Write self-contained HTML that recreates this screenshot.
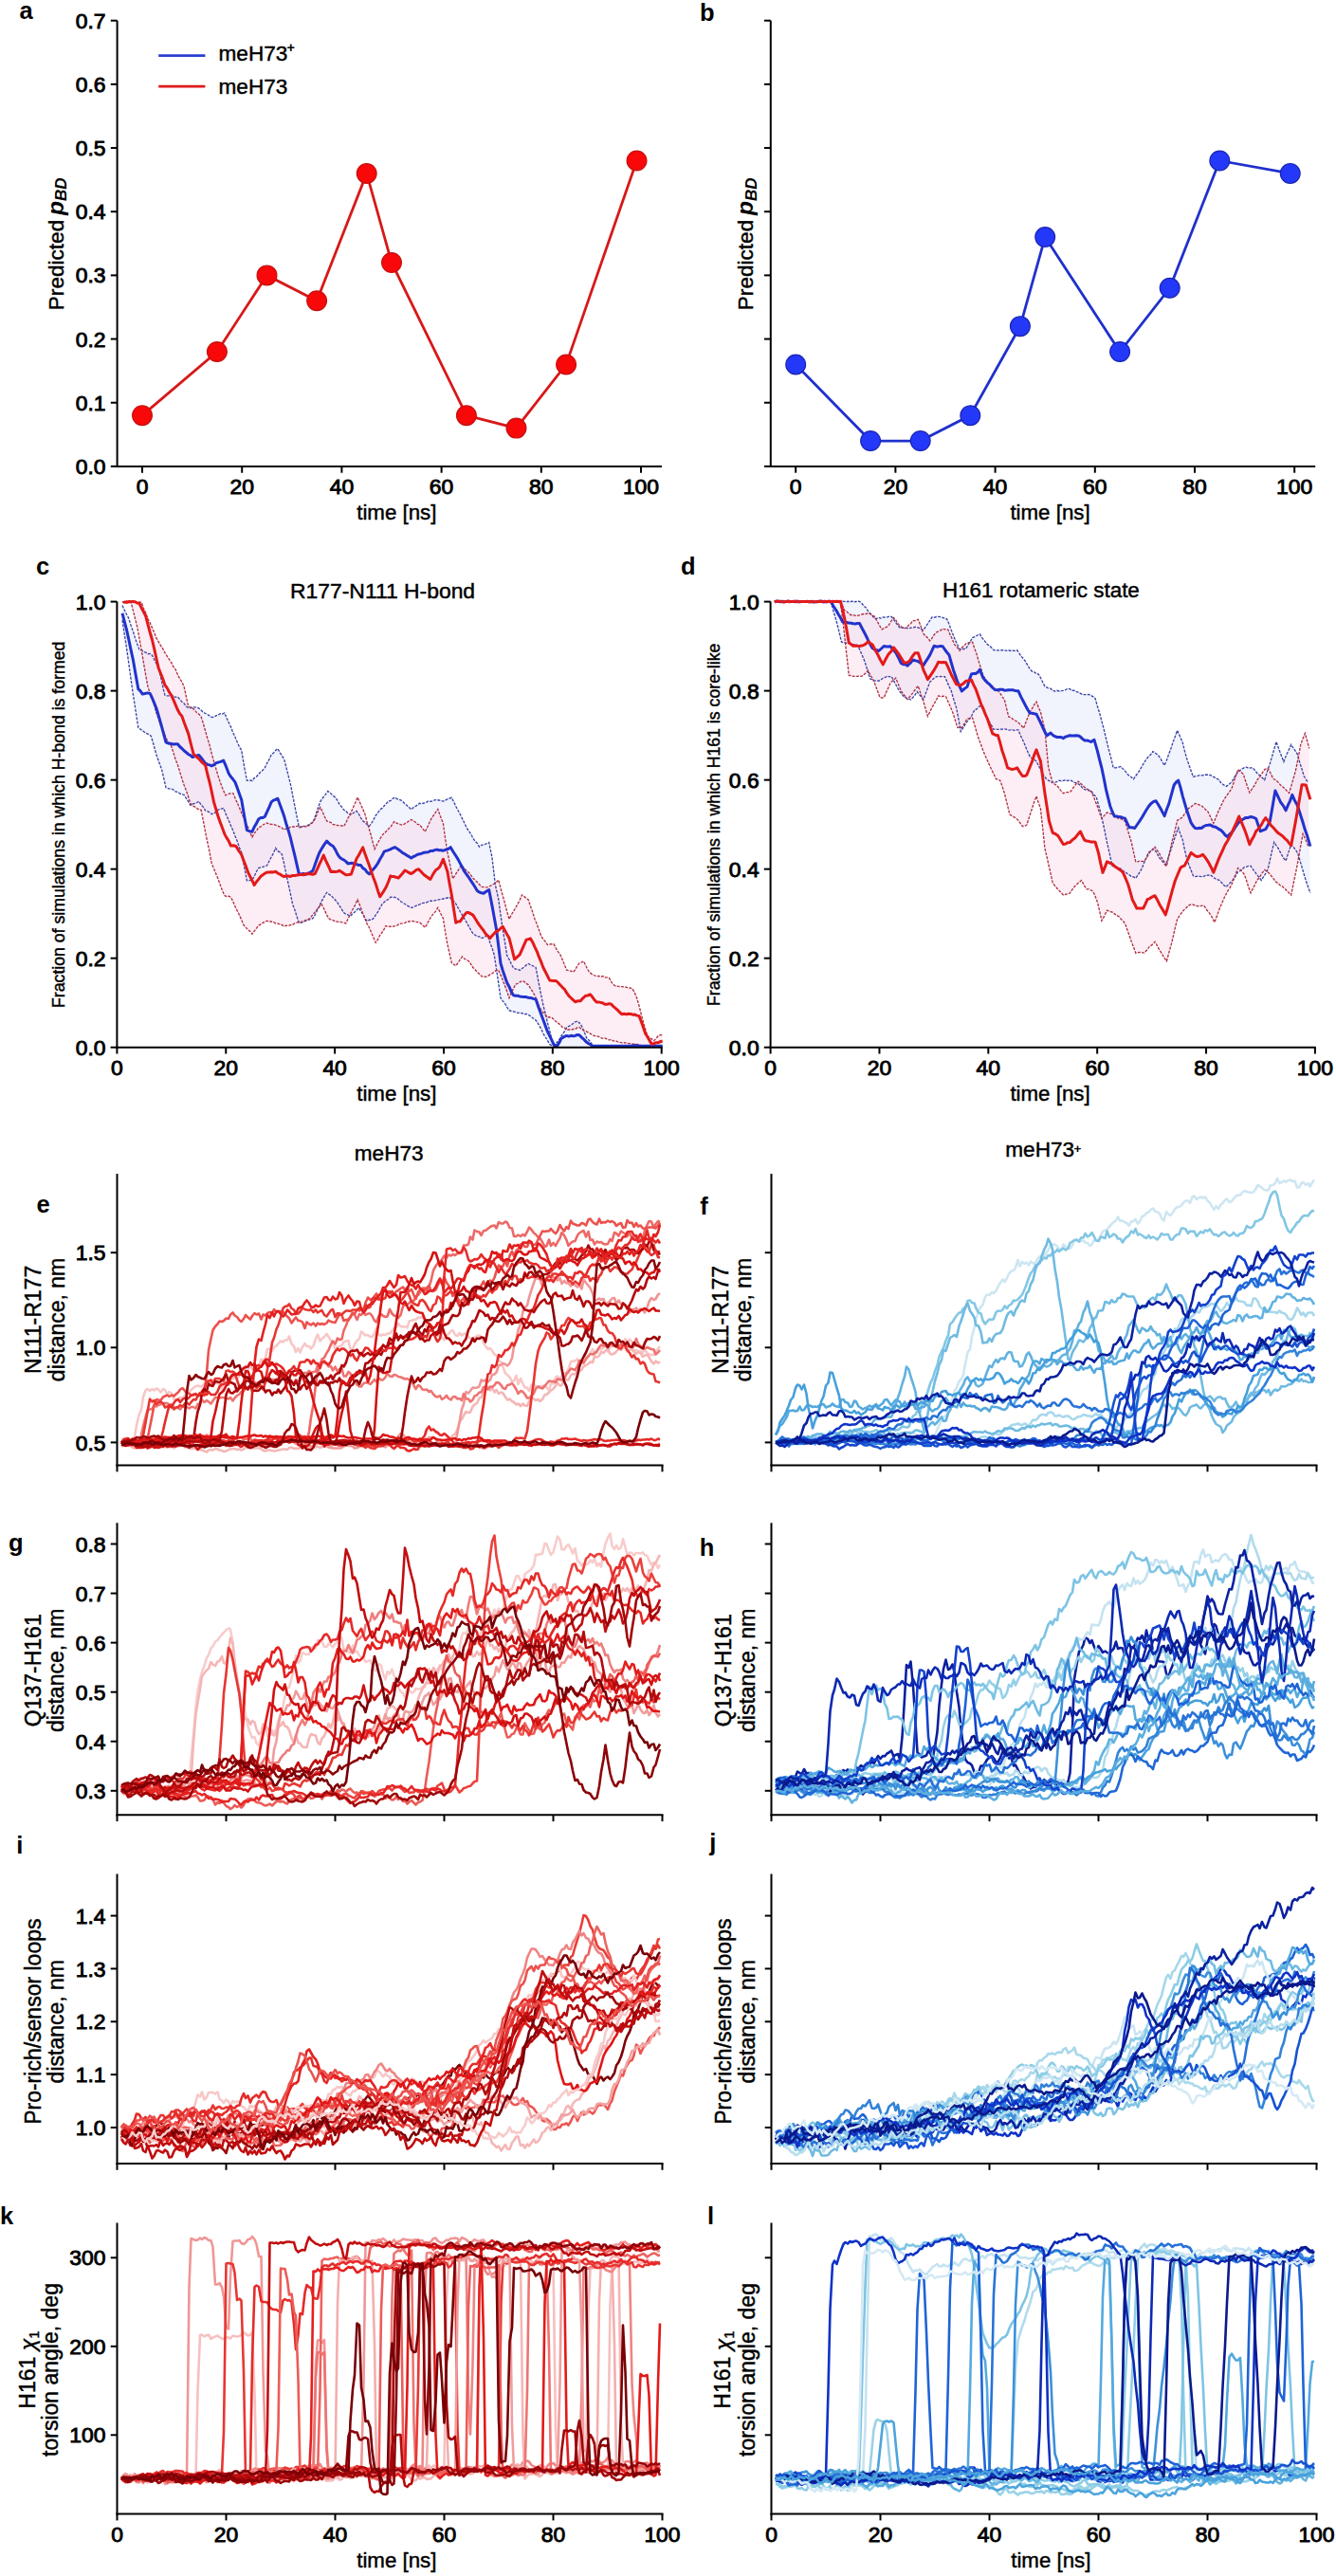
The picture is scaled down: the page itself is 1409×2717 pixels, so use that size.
<!DOCTYPE html>
<html><head><meta charset="utf-8"><style>
html,body{margin:0;padding:0;background:#fff;}
body{width:1409px;height:2717px;overflow:hidden;font-family:"Liberation Sans", sans-serif;}
svg{display:block;}
</style></head><body>
<svg width="1409" height="2717" viewBox="0 0 1409 2717" font-family='"Liberation Sans", sans-serif'>
<path d="M129.0,638.5 L131.2,643.4 L133.5,648.0 L135.7,651.9 L138.0,659.4 L140.2,665.4 L142.5,672.9 L144.7,679.2 L146.9,685.0 L149.2,685.6 L151.4,687.3 L153.7,688.2 L155.9,689.7 L158.2,689.4 L160.4,691.1 L162.7,695.7 L164.9,699.9 L167.2,704.5 L169.4,713.5 L171.7,724.1 L173.9,733.3 L176.1,733.8 L178.4,733.8 L180.6,732.9 L182.9,734.4 L185.1,735.3 L187.4,735.0 L189.6,737.6 L191.9,740.3 L194.1,741.9 L196.4,745.0 L198.6,746.5 L200.8,746.9 L203.1,745.8 L205.3,745.9 L207.6,746.2 L209.8,747.2 L212.1,749.1 L214.3,751.3 L216.6,752.5 L218.8,753.5 L221.1,755.1 L223.3,756.5 L225.5,756.3 L227.8,754.9 L230.0,754.0 L232.3,752.7 L234.5,753.1 L236.8,751.9 L239.0,757.3 L241.3,762.3 L243.5,766.8 L245.8,772.7 L248.0,777.5 L250.2,782.8 L252.5,787.7 L254.7,791.2 L257.5,808.0 L260.4,823.3 L263.2,823.0 L266.0,823.5 L268.2,820.6 L270.5,819.2 L272.7,816.5 L275.0,814.0 L277.2,812.2 L279.4,809.6 L281.7,804.8 L283.9,801.0 L286.2,795.6 L288.4,794.3 L290.7,791.4 L292.9,789.6 L295.2,793.8 L297.4,797.0 L299.7,800.9 L301.9,809.4 L304.1,818.0 L306.4,827.1 L308.6,838.4 L310.9,850.2 L313.1,861.2 L315.4,872.5 L317.6,872.6 L319.9,871.3 L322.1,871.1 L324.7,870.5 L327.4,868.6 L330.0,867.4 L332.6,860.4 L335.2,852.6 L337.8,845.4 L340.5,841.5 L343.1,838.2 L345.7,834.5 L348.3,836.2 L350.9,839.0 L353.6,841.1 L355.8,844.0 L358.0,848.4 L360.3,850.9 L362.5,854.1 L364.8,855.6 L367.0,857.7 L369.3,859.5 L371.5,858.3 L373.8,856.7 L376.0,855.4 L378.3,858.5 L380.5,862.6 L382.7,865.9 L385.0,867.5 L387.2,869.7 L389.5,871.3 L391.7,868.3 L394.0,864.4 L396.2,860.2 L398.5,857.3 L400.7,854.0 L403.0,852.4 L405.2,850.0 L407.4,847.5 L409.7,845.1 L412.1,844.4 L414.5,842.0 L416.8,841.2 L419.5,843.1 L422.1,843.7 L424.7,845.2 L426.9,847.7 L429.2,849.5 L431.4,851.6 L433.7,853.8 L435.9,851.7 L438.2,850.4 L440.4,849.0 L442.7,847.3 L444.9,847.7 L447.2,847.0 L449.4,846.4 L451.7,845.0 L453.9,845.4 L456.1,844.8 L458.4,843.9 L460.6,843.6 L462.9,844.0 L465.1,844.5 L467.4,845.1 L469.6,844.1 L471.9,842.8 L474.1,842.0 L476.4,841.4 L478.6,845.8 L480.8,850.5 L483.1,854.8 L485.3,858.8 L487.6,863.6 L489.8,868.0 L492.1,872.9 L494.3,876.3 L496.6,879.7 L498.8,883.9 L501.1,887.3 L503.3,889.4 L505.5,893.2 L507.8,891.4 L510.0,891.0 L512.3,890.2 L515.7,888.5 L519.0,904.5 L522.4,933.5 L525.8,948.7 L528.0,965.1 L530.2,980.1 L532.5,993.5 L534.7,1007.8 L537.0,1011.9 L539.2,1016.5 L541.5,1020.9 L543.7,1022.1 L546.0,1022.2 L548.2,1023.4 L550.5,1021.5 L552.7,1020.1 L555.0,1017.9 L557.2,1016.5 L559.8,1017.8 L562.4,1019.0 L565.1,1020.4 L567.9,1035.5 L570.7,1049.4 L572.9,1060.2 L575.2,1069.0 L577.4,1078.6 L579.7,1086.9 L581.9,1096.1 L584.1,1103.7 L587.0,1100.0 L589.8,1096.5 L592.4,1092.1 L595.0,1088.3 L597.6,1083.8 L600.4,1082.2 L603.2,1080.5 L606.0,1078.1 L608.8,1077.0 L611.1,1079.0 L613.3,1081.8 L616.1,1088.5 L619.0,1095.3 L621.8,1097.7 L624.6,1102.0 L626.8,1102.8 L629.1,1103.6 L631.3,1103.8 L584.1,1103.8 L581.9,1102.6 L579.7,1101.5 L577.4,1097.3 L575.2,1094.0 L572.9,1090.1 L570.7,1085.3 L568.4,1081.2 L566.2,1077.5 L563.9,1074.8 L561.7,1073.8 L559.4,1071.7 L557.2,1070.4 L555.0,1069.4 L552.7,1069.8 L550.5,1068.7 L548.2,1068.4 L546.0,1068.3 L543.7,1067.5 L541.5,1066.8 L539.2,1066.5 L537.0,1065.7 L534.7,1062.4 L532.5,1058.4 L530.2,1055.6 L528.0,1052.7 L525.8,1037.6 L523.5,1021.8 L521.3,1007.3 L519.0,1000.0 L516.8,994.4 L514.5,987.1 L512.3,987.7 L510.0,988.9 L507.8,989.5 L505.5,987.8 L503.3,987.6 L501.1,986.2 L498.8,984.7 L496.6,981.0 L494.3,976.9 L492.1,972.9 L489.8,968.8 L487.6,965.3 L485.3,961.5 L483.1,957.6 L480.8,953.3 L478.6,950.6 L476.4,949.0 L474.1,946.4 L471.9,947.0 L469.6,947.6 L467.4,948.0 L465.1,948.6 L462.9,948.8 L460.6,949.2 L458.4,949.9 L456.1,950.3 L453.9,950.2 L451.7,951.0 L449.4,952.0 L447.2,952.3 L444.9,952.7 L442.7,953.9 L440.4,954.8 L438.2,955.5 L435.9,956.9 L433.7,957.4 L431.6,956.4 L429.5,955.2 L427.4,953.7 L425.3,952.5 L423.2,951.2 L421.1,949.3 L418.9,947.5 L416.8,946.5 L414.4,946.3 L411.9,946.2 L409.7,948.5 L407.4,949.6 L405.2,951.6 L403.0,953.7 L400.7,957.7 L398.5,961.8 L396.2,965.0 L394.0,968.6 L391.7,970.4 L389.5,970.1 L387.2,971.6 L385.0,968.5 L382.7,964.2 L380.5,961.0 L378.3,957.5 L376.0,960.1 L373.8,962.2 L371.5,964.3 L369.3,966.4 L367.0,964.9 L364.8,964.3 L362.5,962.6 L360.3,958.8 L358.0,955.3 L355.8,951.9 L353.6,949.3 L351.3,946.9 L349.1,944.5 L346.8,943.1 L344.6,941.4 L341.9,945.8 L339.3,950.4 L336.7,955.9 L334.5,960.3 L332.2,965.0 L330.0,968.7 L327.4,969.6 L324.7,970.4 L322.1,971.5 L319.9,972.4 L317.6,973.1 L315.4,973.6 L313.1,966.8 L310.9,959.8 L308.6,953.8 L306.4,942.8 L304.1,932.4 L301.9,922.4 L299.7,911.5 L297.4,901.4 L295.2,898.9 L292.9,897.7 L290.7,894.5 L288.4,899.9 L286.2,903.8 L283.9,908.3 L281.7,912.8 L279.4,913.7 L277.2,914.4 L275.0,914.9 L272.7,915.5 L270.5,919.2 L268.2,924.3 L266.0,928.2 L263.2,928.7 L260.4,928.9 L257.5,913.7 L254.7,899.2 L252.5,894.0 L250.2,887.2 L248.0,881.9 L245.8,876.1 L243.5,871.0 L241.3,865.4 L238.5,859.4 L235.7,852.3 L232.8,853.4 L230.0,854.0 L227.8,856.6 L225.5,857.9 L223.3,858.7 L221.1,857.0 L218.8,855.7 L216.6,855.0 L214.3,851.1 L212.1,849.0 L209.8,845.2 L207.6,846.5 L205.3,847.5 L203.1,847.9 L200.8,849.3 L198.6,845.5 L196.4,842.1 L194.1,838.3 L191.9,837.9 L189.6,837.0 L187.4,835.5 L185.1,834.9 L182.9,833.0 L180.6,832.0 L177.8,831.8 L175.0,830.7 L172.8,821.2 L170.5,811.3 L167.7,803.9 L164.9,796.0 L162.1,785.7 L159.3,776.3 L156.5,774.4 L153.7,773.2 L151.1,771.2 L148.4,769.4 L145.8,767.4 L143.0,749.2 L140.2,731.4 L138.0,715.8 L135.7,699.1 L133.5,683.4 L131.2,668.9 L129.0,654.2 Z" fill="#dfe4fb" fill-opacity="0.45" stroke="none"/>
<path d="M129.0,635.1 L131.0,634.6 L133.0,634.6 L135.0,634.8 L137.1,635.2 L139.1,635.4 L141.1,635.3 L143.1,635.4 L145.2,634.9 L147.2,635.1 L149.2,635.3 L151.4,641.5 L153.7,646.6 L155.9,652.5 L158.2,656.9 L160.4,662.0 L162.7,667.3 L164.9,672.9 L167.2,676.8 L169.4,680.7 L171.7,684.2 L173.9,688.4 L176.1,691.9 L178.4,695.5 L180.6,698.7 L182.9,703.2 L185.1,706.0 L187.4,711.4 L189.6,715.9 L191.9,719.2 L194.1,724.3 L196.4,734.8 L198.6,745.1 L200.8,746.0 L203.1,747.2 L205.3,748.7 L207.6,751.8 L209.8,753.2 L212.1,755.9 L214.3,762.8 L216.6,770.8 L218.8,778.8 L221.1,786.0 L223.3,795.1 L225.5,802.9 L227.8,810.9 L230.0,818.1 L232.3,825.1 L235.1,832.6 L237.9,838.8 L240.5,837.5 L243.1,836.8 L245.8,836.6 L248.0,841.8 L250.2,846.8 L252.5,851.9 L254.7,857.4 L257.0,862.6 L259.2,868.5 L261.5,872.3 L263.7,878.1 L266.0,883.0 L268.2,878.8 L270.5,876.4 L272.7,872.8 L275.0,871.9 L277.2,870.0 L279.4,869.0 L281.7,867.9 L283.9,869.2 L286.2,869.3 L288.4,869.6 L290.7,870.2 L292.9,871.1 L295.2,872.0 L297.4,873.2 L299.7,875.2 L301.9,873.8 L304.1,873.8 L306.4,872.2 L308.6,872.0 L310.9,872.0 L313.1,871.3 L315.4,871.3 L317.6,872.0 L319.9,871.9 L322.1,871.8 L324.4,871.6 L326.6,870.0 L328.8,868.2 L331.1,865.9 L333.3,861.2 L335.6,855.5 L337.8,851.5 L340.1,856.0 L342.3,861.2 L344.6,866.0 L346.8,866.7 L349.1,867.5 L351.3,869.7 L353.6,869.8 L355.8,870.5 L358.0,870.7 L360.3,870.9 L362.5,871.7 L364.8,867.9 L367.0,862.9 L369.3,859.2 L371.9,852.8 L374.5,847.2 L377.1,841.0 L379.7,846.7 L382.4,852.7 L385.0,858.7 L387.0,866.7 L389.0,873.4 L391.1,880.3 L393.1,888.3 L395.1,895.6 L397.7,890.4 L400.3,885.6 L403.0,881.1 L405.2,878.8 L407.4,876.8 L409.7,874.3 L411.9,872.2 L415.7,866.6 L418.0,867.8 L420.2,869.1 L422.5,869.7 L424.7,870.2 L426.9,868.8 L429.2,867.5 L431.4,865.9 L433.7,864.5 L435.9,865.6 L438.2,867.2 L440.4,869.4 L442.7,869.8 L445.5,873.7 L448.3,877.2 L450.5,873.0 L452.8,867.7 L455.0,863.3 L457.3,859.9 L459.5,856.7 L461.8,853.4 L464.6,861.3 L467.4,868.5 L469.6,884.2 L471.9,898.9 L474.7,912.4 L477.5,926.7 L479.7,923.5 L482.0,919.7 L484.2,916.4 L486.5,912.4 L489.1,915.1 L491.7,918.0 L494.3,920.1 L496.6,923.1 L498.8,926.2 L501.1,928.4 L503.3,930.5 L505.5,932.8 L507.8,935.4 L510.0,935.6 L512.3,935.9 L514.5,935.7 L516.8,934.5 L519.0,933.5 L521.3,932.0 L523.5,930.4 L525.8,928.1 L528.6,939.1 L531.4,948.6 L534.2,959.5 L537.0,969.3 L539.2,965.1 L541.5,961.2 L543.7,957.6 L546.0,953.5 L548.2,949.1 L550.5,943.9 L552.7,945.4 L555.0,947.4 L557.2,949.0 L559.4,955.5 L561.7,962.0 L563.9,969.2 L566.2,974.5 L568.4,980.8 L570.7,987.0 L572.9,990.6 L575.2,993.2 L577.4,996.5 L579.7,996.0 L581.9,995.7 L584.1,995.7 L586.4,1000.3 L588.6,1003.8 L590.9,1007.0 L593.1,1011.9 L595.4,1017.8 L597.6,1023.2 L599.9,1023.6 L602.1,1024.2 L604.4,1025.4 L606.6,1022.8 L608.8,1018.9 L611.1,1015.7 L613.3,1014.9 L615.6,1013.9 L618.4,1019.8 L621.2,1024.9 L623.8,1027.1 L626.4,1028.5 L629.1,1029.7 L631.3,1029.4 L633.6,1030.3 L635.8,1029.5 L638.0,1030.9 L640.3,1030.9 L642.5,1031.6 L644.8,1035.7 L647.0,1038.5 L649.3,1040.0 L651.5,1040.2 L653.8,1040.6 L656.0,1040.6 L658.3,1040.9 L660.5,1041.2 L662.7,1042.2 L665.0,1042.0 L667.2,1043.1 L669.5,1047.4 L671.7,1052.8 L674.0,1060.7 L676.2,1069.6 L678.5,1078.6 L680.7,1085.7 L683.0,1093.1 L685.2,1094.6 L687.4,1095.9 L689.7,1097.7 L691.9,1095.4 L694.2,1092.4 L696.4,1091.7 L698.7,1091.5 L698.7,1103.8 L696.7,1103.8 L694.6,1103.4 L692.6,1103.4 L690.6,1103.8 L688.6,1103.5 L686.5,1103.8 L684.5,1104.2 L682.5,1104.2 L680.5,1103.5 L678.5,1103.8 L676.2,1103.2 L674.0,1101.8 L671.7,1101.5 L669.5,1101.2 L667.2,1101.2 L665.0,1100.7 L662.7,1100.6 L660.5,1100.1 L658.3,1099.7 L656.0,1099.8 L653.8,1099.4 L651.5,1098.9 L649.3,1097.8 L647.0,1098.1 L644.8,1096.5 L642.5,1096.8 L640.3,1096.1 L638.0,1094.9 L635.8,1095.3 L633.6,1094.6 L631.3,1093.4 L629.1,1092.7 L626.8,1092.5 L624.6,1091.5 L622.3,1090.2 L620.1,1088.9 L617.8,1087.7 L615.6,1087.0 L613.3,1085.5 L611.1,1083.5 L608.8,1084.0 L606.6,1085.5 L604.4,1085.5 L602.1,1086.3 L599.9,1086.0 L597.6,1086.4 L595.4,1084.2 L593.1,1083.4 L590.9,1080.8 L588.6,1079.1 L586.4,1077.5 L584.1,1075.2 L581.9,1073.4 L579.7,1072.8 L577.4,1073.0 L575.2,1070.5 L572.9,1067.9 L570.7,1065.2 L568.4,1060.9 L566.2,1055.2 L563.9,1049.7 L561.7,1045.8 L559.4,1042.5 L557.2,1038.6 L555.0,1037.4 L552.7,1035.2 L550.5,1034.7 L548.2,1035.9 L546.0,1037.3 L543.7,1038.1 L541.5,1042.8 L539.2,1047.6 L537.0,1052.6 L534.2,1044.2 L531.4,1036.9 L528.6,1029.6 L525.8,1023.5 L523.5,1023.5 L521.3,1024.9 L519.0,1027.0 L516.8,1027.9 L514.5,1029.6 L512.3,1030.3 L510.0,1030.2 L507.8,1029.6 L505.5,1027.3 L503.3,1025.3 L501.1,1022.8 L498.8,1020.5 L496.6,1016.8 L494.3,1013.8 L492.1,1012.4 L489.8,1011.3 L487.6,1009.1 L485.3,1012.0 L483.1,1015.7 L480.8,1018.6 L478.6,1017.3 L476.4,1015.8 L474.1,1005.6 L471.9,996.1 L469.6,982.9 L467.4,968.7 L464.6,963.3 L461.8,957.5 L459.5,961.1 L457.3,963.7 L455.0,966.3 L452.8,970.2 L450.5,974.5 L448.3,978.2 L445.5,975.5 L442.7,973.2 L440.4,972.6 L438.2,972.3 L435.9,971.6 L433.7,971.5 L431.4,972.0 L429.2,972.0 L426.9,973.6 L424.7,973.9 L422.5,974.1 L420.2,975.2 L418.0,976.6 L415.7,976.8 L413.5,977.5 L411.2,977.1 L409.0,977.5 L406.7,976.6 L405.2,979.9 L403.0,983.4 L400.7,986.5 L398.5,990.9 L396.2,994.2 L394.0,989.2 L391.7,983.9 L389.5,978.5 L387.2,974.6 L385.0,969.3 L382.4,962.7 L379.7,955.3 L377.1,948.9 L374.3,955.1 L371.5,960.0 L369.3,964.4 L367.0,969.2 L364.8,974.0 L362.5,972.9 L360.3,972.7 L358.0,972.4 L355.8,972.1 L353.6,971.9 L351.3,970.6 L349.1,970.0 L346.8,968.8 L344.2,964.3 L341.6,958.2 L339.0,953.6 L336.1,957.2 L333.3,960.4 L331.1,963.3 L328.8,966.2 L326.6,969.0 L324.4,969.6 L322.1,970.7 L319.9,971.9 L317.6,972.5 L315.4,972.5 L313.1,973.1 L310.9,973.9 L308.6,975.3 L306.4,975.7 L304.1,976.4 L301.9,976.2 L299.7,977.0 L297.4,975.6 L295.2,974.8 L292.9,974.1 L290.7,973.9 L288.4,972.7 L286.2,972.0 L283.9,972.2 L281.7,971.2 L279.4,972.2 L277.2,973.4 L275.0,974.8 L272.7,976.2 L270.5,979.2 L268.2,982.1 L266.0,985.2 L263.7,982.2 L261.5,980.8 L259.2,978.1 L257.0,975.8 L254.7,970.3 L252.5,965.2 L250.2,960.7 L248.0,956.2 L245.8,951.1 L243.5,946.3 L241.3,945.3 L239.0,945.7 L236.8,944.6 L234.5,939.3 L232.3,933.5 L230.0,927.0 L227.8,921.7 L225.5,916.1 L223.3,911.0 L221.1,899.2 L218.8,888.4 L216.6,877.6 L214.3,865.5 L212.1,854.4 L209.8,853.9 L207.6,852.6 L205.3,850.9 L203.1,850.0 L200.8,847.3 L198.6,840.5 L196.4,833.8 L194.1,827.9 L191.9,821.3 L189.6,814.0 L187.4,806.8 L185.1,801.1 L182.9,793.8 L180.6,786.8 L178.4,784.3 L176.1,780.3 L173.9,775.2 L171.7,769.4 L169.4,764.7 L167.2,758.4 L164.9,751.7 L162.7,744.4 L160.4,737.4 L158.2,731.6 L155.9,723.9 L153.7,712.1 L151.4,698.7 L149.2,685.9 L146.9,673.2 L144.7,661.0 L142.5,652.3 L140.2,643.3 L138.0,634.3 L135.7,634.7 L133.5,633.9 L131.2,634.8 L129.0,635.0 Z" fill="#fbd6e6" fill-opacity="0.45" stroke="none"/>
<path d="M129.0,638.5 L131.2,643.4 L133.5,648.0 L135.7,651.9 L138.0,659.4 L140.2,665.4 L142.5,672.9 L144.7,679.2 L146.9,685.0 L149.2,685.6 L151.4,687.3 L153.7,688.2 L155.9,689.7 L158.2,689.4 L160.4,691.1 L162.7,695.7 L164.9,699.9 L167.2,704.5 L169.4,713.5 L171.7,724.1 L173.9,733.3 L176.1,733.8 L178.4,733.8 L180.6,732.9 L182.9,734.4 L185.1,735.3 L187.4,735.0 L189.6,737.6 L191.9,740.3 L194.1,741.9 L196.4,745.0 L198.6,746.5 L200.8,746.9 L203.1,745.8 L205.3,745.9 L207.6,746.2 L209.8,747.2 L212.1,749.1 L214.3,751.3 L216.6,752.5 L218.8,753.5 L221.1,755.1 L223.3,756.5 L225.5,756.3 L227.8,754.9 L230.0,754.0 L232.3,752.7 L234.5,753.1 L236.8,751.9 L239.0,757.3 L241.3,762.3 L243.5,766.8 L245.8,772.7 L248.0,777.5 L250.2,782.8 L252.5,787.7 L254.7,791.2 L257.5,808.0 L260.4,823.3 L263.2,823.0 L266.0,823.5 L268.2,820.6 L270.5,819.2 L272.7,816.5 L275.0,814.0 L277.2,812.2 L279.4,809.6 L281.7,804.8 L283.9,801.0 L286.2,795.6 L288.4,794.3 L290.7,791.4 L292.9,789.6 L295.2,793.8 L297.4,797.0 L299.7,800.9 L301.9,809.4 L304.1,818.0 L306.4,827.1 L308.6,838.4 L310.9,850.2 L313.1,861.2 L315.4,872.5 L317.6,872.6 L319.9,871.3 L322.1,871.1 L324.7,870.5 L327.4,868.6 L330.0,867.4 L332.6,860.4 L335.2,852.6 L337.8,845.4 L340.5,841.5 L343.1,838.2 L345.7,834.5 L348.3,836.2 L350.9,839.0 L353.6,841.1 L355.8,844.0 L358.0,848.4 L360.3,850.9 L362.5,854.1 L364.8,855.6 L367.0,857.7 L369.3,859.5 L371.5,858.3 L373.8,856.7 L376.0,855.4 L378.3,858.5 L380.5,862.6 L382.7,865.9 L385.0,867.5 L387.2,869.7 L389.5,871.3 L391.7,868.3 L394.0,864.4 L396.2,860.2 L398.5,857.3 L400.7,854.0 L403.0,852.4 L405.2,850.0 L407.4,847.5 L409.7,845.1 L412.1,844.4 L414.5,842.0 L416.8,841.2 L419.5,843.1 L422.1,843.7 L424.7,845.2 L426.9,847.7 L429.2,849.5 L431.4,851.6 L433.7,853.8 L435.9,851.7 L438.2,850.4 L440.4,849.0 L442.7,847.3 L444.9,847.7 L447.2,847.0 L449.4,846.4 L451.7,845.0 L453.9,845.4 L456.1,844.8 L458.4,843.9 L460.6,843.6 L462.9,844.0 L465.1,844.5 L467.4,845.1 L469.6,844.1 L471.9,842.8 L474.1,842.0 L476.4,841.4 L478.6,845.8 L480.8,850.5 L483.1,854.8 L485.3,858.8 L487.6,863.6 L489.8,868.0 L492.1,872.9 L494.3,876.3 L496.6,879.7 L498.8,883.9 L501.1,887.3 L503.3,889.4 L505.5,893.2 L507.8,891.4 L510.0,891.0 L512.3,890.2 L515.7,888.5 L519.0,904.5 L522.4,933.5 L525.8,948.7 L528.0,965.1 L530.2,980.1 L532.5,993.5 L534.7,1007.8 L537.0,1011.9 L539.2,1016.5 L541.5,1020.9 L543.7,1022.1 L546.0,1022.2 L548.2,1023.4 L550.5,1021.5 L552.7,1020.1 L555.0,1017.9 L557.2,1016.5 L559.8,1017.8 L562.4,1019.0 L565.1,1020.4 L567.9,1035.5 L570.7,1049.4 L572.9,1060.2 L575.2,1069.0 L577.4,1078.6 L579.7,1086.9 L581.9,1096.1 L584.1,1103.7 L587.0,1100.0 L589.8,1096.5 L592.4,1092.1 L595.0,1088.3 L597.6,1083.8 L600.4,1082.2 L603.2,1080.5 L606.0,1078.1 L608.8,1077.0 L611.1,1079.0 L613.3,1081.8 L616.1,1088.5 L619.0,1095.3 L621.8,1097.7 L624.6,1102.0 L626.8,1102.8 L629.1,1103.6 L631.3,1103.8" fill="none" stroke="#3a45a8" stroke-width="1.35" stroke-dasharray="3,1.3"/>
<path d="M129.0,654.2 L131.2,668.9 L133.5,683.4 L135.7,699.1 L138.0,715.8 L140.2,731.4 L143.0,749.2 L145.8,767.4 L148.4,769.4 L151.1,771.2 L153.7,773.2 L156.5,774.4 L159.3,776.3 L162.1,785.7 L164.9,796.0 L167.7,803.9 L170.5,811.3 L172.8,821.2 L175.0,830.7 L177.8,831.8 L180.6,832.0 L182.9,833.0 L185.1,834.9 L187.4,835.5 L189.6,837.0 L191.9,837.9 L194.1,838.3 L196.4,842.1 L198.6,845.5 L200.8,849.3 L203.1,847.9 L205.3,847.5 L207.6,846.5 L209.8,845.2 L212.1,849.0 L214.3,851.1 L216.6,855.0 L218.8,855.7 L221.1,857.0 L223.3,858.7 L225.5,857.9 L227.8,856.6 L230.0,854.0 L232.8,853.4 L235.7,852.3 L238.5,859.4 L241.3,865.4 L243.5,871.0 L245.8,876.1 L248.0,881.9 L250.2,887.2 L252.5,894.0 L254.7,899.2 L257.5,913.7 L260.4,928.9 L263.2,928.7 L266.0,928.2 L268.2,924.3 L270.5,919.2 L272.7,915.5 L275.0,914.9 L277.2,914.4 L279.4,913.7 L281.7,912.8 L283.9,908.3 L286.2,903.8 L288.4,899.9 L290.7,894.5 L292.9,897.7 L295.2,898.9 L297.4,901.4 L299.7,911.5 L301.9,922.4 L304.1,932.4 L306.4,942.8 L308.6,953.8 L310.9,959.8 L313.1,966.8 L315.4,973.6 L317.6,973.1 L319.9,972.4 L322.1,971.5 L324.7,970.4 L327.4,969.6 L330.0,968.7 L332.2,965.0 L334.5,960.3 L336.7,955.9 L339.3,950.4 L341.9,945.8 L344.6,941.4 L346.8,943.1 L349.1,944.5 L351.3,946.9 L353.6,949.3 L355.8,951.9 L358.0,955.3 L360.3,958.8 L362.5,962.6 L364.8,964.3 L367.0,964.9 L369.3,966.4 L371.5,964.3 L373.8,962.2 L376.0,960.1 L378.3,957.5 L380.5,961.0 L382.7,964.2 L385.0,968.5 L387.2,971.6 L389.5,970.1 L391.7,970.4 L394.0,968.6 L396.2,965.0 L398.5,961.8 L400.7,957.7 L403.0,953.7 L405.2,951.6 L407.4,949.6 L409.7,948.5 L411.9,946.2 L414.4,946.3 L416.8,946.5 L418.9,947.5 L421.1,949.3 L423.2,951.2 L425.3,952.5 L427.4,953.7 L429.5,955.2 L431.6,956.4 L433.7,957.4 L435.9,956.9 L438.2,955.5 L440.4,954.8 L442.7,953.9 L444.9,952.7 L447.2,952.3 L449.4,952.0 L451.7,951.0 L453.9,950.2 L456.1,950.3 L458.4,949.9 L460.6,949.2 L462.9,948.8 L465.1,948.6 L467.4,948.0 L469.6,947.6 L471.9,947.0 L474.1,946.4 L476.4,949.0 L478.6,950.6 L480.8,953.3 L483.1,957.6 L485.3,961.5 L487.6,965.3 L489.8,968.8 L492.1,972.9 L494.3,976.9 L496.6,981.0 L498.8,984.7 L501.1,986.2 L503.3,987.6 L505.5,987.8 L507.8,989.5 L510.0,988.9 L512.3,987.7 L514.5,987.1 L516.8,994.4 L519.0,1000.0 L521.3,1007.3 L523.5,1021.8 L525.8,1037.6 L528.0,1052.7 L530.2,1055.6 L532.5,1058.4 L534.7,1062.4 L537.0,1065.7 L539.2,1066.5 L541.5,1066.8 L543.7,1067.5 L546.0,1068.3 L548.2,1068.4 L550.5,1068.7 L552.7,1069.8 L555.0,1069.4 L557.2,1070.4 L559.4,1071.7 L561.7,1073.8 L563.9,1074.8 L566.2,1077.5 L568.4,1081.2 L570.7,1085.3 L572.9,1090.1 L575.2,1094.0 L577.4,1097.3 L579.7,1101.5 L581.9,1102.6 L584.1,1103.8" fill="none" stroke="#3a45a8" stroke-width="1.35" stroke-dasharray="3,1.3"/>
<path d="M129.0,635.1 L131.0,634.6 L133.0,634.6 L135.0,634.8 L137.1,635.2 L139.1,635.4 L141.1,635.3 L143.1,635.4 L145.2,634.9 L147.2,635.1 L149.2,635.3 L151.4,641.5 L153.7,646.6 L155.9,652.5 L158.2,656.9 L160.4,662.0 L162.7,667.3 L164.9,672.9 L167.2,676.8 L169.4,680.7 L171.7,684.2 L173.9,688.4 L176.1,691.9 L178.4,695.5 L180.6,698.7 L182.9,703.2 L185.1,706.0 L187.4,711.4 L189.6,715.9 L191.9,719.2 L194.1,724.3 L196.4,734.8 L198.6,745.1 L200.8,746.0 L203.1,747.2 L205.3,748.7 L207.6,751.8 L209.8,753.2 L212.1,755.9 L214.3,762.8 L216.6,770.8 L218.8,778.8 L221.1,786.0 L223.3,795.1 L225.5,802.9 L227.8,810.9 L230.0,818.1 L232.3,825.1 L235.1,832.6 L237.9,838.8 L240.5,837.5 L243.1,836.8 L245.8,836.6 L248.0,841.8 L250.2,846.8 L252.5,851.9 L254.7,857.4 L257.0,862.6 L259.2,868.5 L261.5,872.3 L263.7,878.1 L266.0,883.0 L268.2,878.8 L270.5,876.4 L272.7,872.8 L275.0,871.9 L277.2,870.0 L279.4,869.0 L281.7,867.9 L283.9,869.2 L286.2,869.3 L288.4,869.6 L290.7,870.2 L292.9,871.1 L295.2,872.0 L297.4,873.2 L299.7,875.2 L301.9,873.8 L304.1,873.8 L306.4,872.2 L308.6,872.0 L310.9,872.0 L313.1,871.3 L315.4,871.3 L317.6,872.0 L319.9,871.9 L322.1,871.8 L324.4,871.6 L326.6,870.0 L328.8,868.2 L331.1,865.9 L333.3,861.2 L335.6,855.5 L337.8,851.5 L340.1,856.0 L342.3,861.2 L344.6,866.0 L346.8,866.7 L349.1,867.5 L351.3,869.7 L353.6,869.8 L355.8,870.5 L358.0,870.7 L360.3,870.9 L362.5,871.7 L364.8,867.9 L367.0,862.9 L369.3,859.2 L371.9,852.8 L374.5,847.2 L377.1,841.0 L379.7,846.7 L382.4,852.7 L385.0,858.7 L387.0,866.7 L389.0,873.4 L391.1,880.3 L393.1,888.3 L395.1,895.6 L397.7,890.4 L400.3,885.6 L403.0,881.1 L405.2,878.8 L407.4,876.8 L409.7,874.3 L411.9,872.2 L415.7,866.6 L418.0,867.8 L420.2,869.1 L422.5,869.7 L424.7,870.2 L426.9,868.8 L429.2,867.5 L431.4,865.9 L433.7,864.5 L435.9,865.6 L438.2,867.2 L440.4,869.4 L442.7,869.8 L445.5,873.7 L448.3,877.2 L450.5,873.0 L452.8,867.7 L455.0,863.3 L457.3,859.9 L459.5,856.7 L461.8,853.4 L464.6,861.3 L467.4,868.5 L469.6,884.2 L471.9,898.9 L474.7,912.4 L477.5,926.7 L479.7,923.5 L482.0,919.7 L484.2,916.4 L486.5,912.4 L489.1,915.1 L491.7,918.0 L494.3,920.1 L496.6,923.1 L498.8,926.2 L501.1,928.4 L503.3,930.5 L505.5,932.8 L507.8,935.4 L510.0,935.6 L512.3,935.9 L514.5,935.7 L516.8,934.5 L519.0,933.5 L521.3,932.0 L523.5,930.4 L525.8,928.1 L528.6,939.1 L531.4,948.6 L534.2,959.5 L537.0,969.3 L539.2,965.1 L541.5,961.2 L543.7,957.6 L546.0,953.5 L548.2,949.1 L550.5,943.9 L552.7,945.4 L555.0,947.4 L557.2,949.0 L559.4,955.5 L561.7,962.0 L563.9,969.2 L566.2,974.5 L568.4,980.8 L570.7,987.0 L572.9,990.6 L575.2,993.2 L577.4,996.5 L579.7,996.0 L581.9,995.7 L584.1,995.7 L586.4,1000.3 L588.6,1003.8 L590.9,1007.0 L593.1,1011.9 L595.4,1017.8 L597.6,1023.2 L599.9,1023.6 L602.1,1024.2 L604.4,1025.4 L606.6,1022.8 L608.8,1018.9 L611.1,1015.7 L613.3,1014.9 L615.6,1013.9 L618.4,1019.8 L621.2,1024.9 L623.8,1027.1 L626.4,1028.5 L629.1,1029.7 L631.3,1029.4 L633.6,1030.3 L635.8,1029.5 L638.0,1030.9 L640.3,1030.9 L642.5,1031.6 L644.8,1035.7 L647.0,1038.5 L649.3,1040.0 L651.5,1040.2 L653.8,1040.6 L656.0,1040.6 L658.3,1040.9 L660.5,1041.2 L662.7,1042.2 L665.0,1042.0 L667.2,1043.1 L669.5,1047.4 L671.7,1052.8 L674.0,1060.7 L676.2,1069.6 L678.5,1078.6 L680.7,1085.7 L683.0,1093.1 L685.2,1094.6 L687.4,1095.9 L689.7,1097.7 L691.9,1095.4 L694.2,1092.4 L696.4,1091.7 L698.7,1091.5" fill="none" stroke="#b03040" stroke-width="1.35" stroke-dasharray="3,1.3"/>
<path d="M129.0,635.0 L131.2,634.8 L133.5,633.9 L135.7,634.7 L138.0,634.3 L140.2,643.3 L142.5,652.3 L144.7,661.0 L146.9,673.2 L149.2,685.9 L151.4,698.7 L153.7,712.1 L155.9,723.9 L158.2,731.6 L160.4,737.4 L162.7,744.4 L164.9,751.7 L167.2,758.4 L169.4,764.7 L171.7,769.4 L173.9,775.2 L176.1,780.3 L178.4,784.3 L180.6,786.8 L182.9,793.8 L185.1,801.1 L187.4,806.8 L189.6,814.0 L191.9,821.3 L194.1,827.9 L196.4,833.8 L198.6,840.5 L200.8,847.3 L203.1,850.0 L205.3,850.9 L207.6,852.6 L209.8,853.9 L212.1,854.4 L214.3,865.5 L216.6,877.6 L218.8,888.4 L221.1,899.2 L223.3,911.0 L225.5,916.1 L227.8,921.7 L230.0,927.0 L232.3,933.5 L234.5,939.3 L236.8,944.6 L239.0,945.7 L241.3,945.3 L243.5,946.3 L245.8,951.1 L248.0,956.2 L250.2,960.7 L252.5,965.2 L254.7,970.3 L257.0,975.8 L259.2,978.1 L261.5,980.8 L263.7,982.2 L266.0,985.2 L268.2,982.1 L270.5,979.2 L272.7,976.2 L275.0,974.8 L277.2,973.4 L279.4,972.2 L281.7,971.2 L283.9,972.2 L286.2,972.0 L288.4,972.7 L290.7,973.9 L292.9,974.1 L295.2,974.8 L297.4,975.6 L299.7,977.0 L301.9,976.2 L304.1,976.4 L306.4,975.7 L308.6,975.3 L310.9,973.9 L313.1,973.1 L315.4,972.5 L317.6,972.5 L319.9,971.9 L322.1,970.7 L324.4,969.6 L326.6,969.0 L328.8,966.2 L331.1,963.3 L333.3,960.4 L336.1,957.2 L339.0,953.6 L341.6,958.2 L344.2,964.3 L346.8,968.8 L349.1,970.0 L351.3,970.6 L353.6,971.9 L355.8,972.1 L358.0,972.4 L360.3,972.7 L362.5,972.9 L364.8,974.0 L367.0,969.2 L369.3,964.4 L371.5,960.0 L374.3,955.1 L377.1,948.9 L379.7,955.3 L382.4,962.7 L385.0,969.3 L387.2,974.6 L389.5,978.5 L391.7,983.9 L394.0,989.2 L396.2,994.2 L398.5,990.9 L400.7,986.5 L403.0,983.4 L405.2,979.9 L406.7,976.6 L409.0,977.5 L411.2,977.1 L413.5,977.5 L415.7,976.8 L418.0,976.6 L420.2,975.2 L422.5,974.1 L424.7,973.9 L426.9,973.6 L429.2,972.0 L431.4,972.0 L433.7,971.5 L435.9,971.6 L438.2,972.3 L440.4,972.6 L442.7,973.2 L445.5,975.5 L448.3,978.2 L450.5,974.5 L452.8,970.2 L455.0,966.3 L457.3,963.7 L459.5,961.1 L461.8,957.5 L464.6,963.3 L467.4,968.7 L469.6,982.9 L471.9,996.1 L474.1,1005.6 L476.4,1015.8 L478.6,1017.3 L480.8,1018.6 L483.1,1015.7 L485.3,1012.0 L487.6,1009.1 L489.8,1011.3 L492.1,1012.4 L494.3,1013.8 L496.6,1016.8 L498.8,1020.5 L501.1,1022.8 L503.3,1025.3 L505.5,1027.3 L507.8,1029.6 L510.0,1030.2 L512.3,1030.3 L514.5,1029.6 L516.8,1027.9 L519.0,1027.0 L521.3,1024.9 L523.5,1023.5 L525.8,1023.5 L528.6,1029.6 L531.4,1036.9 L534.2,1044.2 L537.0,1052.6 L539.2,1047.6 L541.5,1042.8 L543.7,1038.1 L546.0,1037.3 L548.2,1035.9 L550.5,1034.7 L552.7,1035.2 L555.0,1037.4 L557.2,1038.6 L559.4,1042.5 L561.7,1045.8 L563.9,1049.7 L566.2,1055.2 L568.4,1060.9 L570.7,1065.2 L572.9,1067.9 L575.2,1070.5 L577.4,1073.0 L579.7,1072.8 L581.9,1073.4 L584.1,1075.2 L586.4,1077.5 L588.6,1079.1 L590.9,1080.8 L593.1,1083.4 L595.4,1084.2 L597.6,1086.4 L599.9,1086.0 L602.1,1086.3 L604.4,1085.5 L606.6,1085.5 L608.8,1084.0 L611.1,1083.5 L613.3,1085.5 L615.6,1087.0 L617.8,1087.7 L620.1,1088.9 L622.3,1090.2 L624.6,1091.5 L626.8,1092.5 L629.1,1092.7 L631.3,1093.4 L633.6,1094.6 L635.8,1095.3 L638.0,1094.9 L640.3,1096.1 L642.5,1096.8 L644.8,1096.5 L647.0,1098.1 L649.3,1097.8 L651.5,1098.9 L653.8,1099.4 L656.0,1099.8 L658.3,1099.7 L660.5,1100.1 L662.7,1100.6 L665.0,1100.7 L667.2,1101.2 L669.5,1101.2 L671.7,1101.5 L674.0,1101.8 L676.2,1103.2 L678.5,1103.8 L680.5,1103.5 L682.5,1104.2 L684.5,1104.2 L686.5,1103.8 L688.6,1103.5 L690.6,1103.8 L692.6,1103.4 L694.6,1103.4 L696.7,1103.8 L698.7,1103.8" fill="none" stroke="#b03040" stroke-width="1.35" stroke-dasharray="3,1.3"/>
<path d="M129.0,646.8 L131.2,655.3 L133.5,664.1 L135.7,674.1 L138.0,685.1 L140.2,695.1 L143.0,710.9 L145.8,726.6 L148.1,728.9 L150.3,732.1 L152.9,731.5 L155.6,730.9 L158.2,731.4 L160.4,736.0 L162.7,741.5 L164.9,747.0 L167.2,754.7 L169.4,762.3 L172.2,772.6 L175.0,782.8 L177.8,784.1 L180.6,784.6 L182.9,785.0 L185.1,784.7 L187.4,784.7 L189.6,787.5 L191.9,789.5 L194.1,791.8 L196.4,793.6 L198.6,795.5 L200.8,796.7 L203.1,798.5 L205.3,797.7 L207.6,796.9 L209.8,796.4 L212.1,799.1 L214.3,802.2 L216.6,805.1 L218.8,806.4 L221.1,806.9 L223.3,807.8 L225.5,806.7 L227.8,804.9 L230.0,804.1 L232.8,803.4 L235.7,802.1 L238.5,808.7 L241.3,816.0 L243.5,819.3 L245.8,822.0 L248.0,825.1 L250.2,830.9 L252.5,837.5 L254.7,843.6 L257.5,860.0 L260.4,875.6 L263.2,876.7 L266.0,877.2 L268.2,872.2 L270.5,868.4 L272.7,864.0 L275.0,862.5 L277.2,862.5 L279.4,861.2 L281.7,856.1 L283.9,851.3 L286.2,845.9 L288.4,844.1 L290.7,843.3 L292.9,842.2 L295.2,848.4 L297.4,854.6 L299.7,861.1 L301.9,869.0 L304.1,875.8 L306.4,883.8 L308.6,893.2 L310.9,902.4 L313.1,912.2 L315.4,922.1 L317.6,922.0 L319.9,921.5 L322.1,922.4 L324.7,921.1 L327.4,920.2 L330.0,918.2 L332.2,912.0 L334.5,905.4 L336.7,899.8 L339.3,895.1 L341.9,890.9 L344.6,887.1 L346.8,889.4 L349.1,891.2 L351.3,892.5 L353.6,896.1 L355.8,900.6 L358.0,904.0 L360.3,905.9 L362.5,906.9 L364.8,908.6 L367.0,910.9 L369.3,910.6 L371.5,910.3 L373.8,911.1 L376.0,911.6 L378.3,912.5 L380.5,912.5 L382.7,915.6 L385.0,917.0 L387.2,920.1 L389.5,921.9 L391.7,919.0 L394.0,916.4 L396.2,913.9 L398.5,910.5 L400.7,906.2 L403.0,902.5 L405.2,898.1 L409.0,896.8 L411.6,895.8 L414.2,894.5 L416.8,893.6 L419.5,895.6 L422.1,897.4 L424.7,899.7 L426.9,900.7 L429.2,902.3 L431.4,903.4 L433.7,904.9 L435.9,903.5 L438.2,902.6 L440.4,901.2 L442.7,900.8 L444.9,900.1 L447.2,899.2 L449.4,898.9 L451.7,898.8 L453.9,897.4 L456.1,897.6 L458.4,896.6 L460.6,896.1 L462.9,896.8 L465.1,896.8 L467.4,897.2 L470.0,896.3 L472.6,895.5 L475.2,893.7 L477.9,898.3 L480.5,902.3 L483.1,906.4 L485.3,910.6 L487.6,915.0 L489.8,919.2 L492.1,922.3 L494.3,925.3 L496.6,928.9 L498.8,932.2 L501.1,935.8 L503.3,939.5 L505.5,941.0 L507.8,941.8 L510.0,942.3 L512.8,940.2 L515.7,938.5 L519.0,955.4 L521.3,967.9 L523.5,980.0 L525.8,998.2 L528.0,1016.0 L530.2,1023.5 L532.5,1030.2 L534.7,1036.5 L537.0,1040.7 L539.2,1045.9 L541.5,1049.8 L543.7,1050.2 L546.0,1050.2 L548.2,1050.9 L550.5,1051.3 L552.7,1051.6 L555.0,1051.6 L557.2,1052.2 L559.8,1052.4 L562.4,1053.4 L565.1,1054.0 L567.9,1062.2 L570.7,1069.7 L572.9,1075.7 L575.2,1081.9 L577.4,1087.9 L579.7,1092.7 L581.9,1097.1 L584.1,1101.8 L587.5,1103.2 L589.8,1099.8 L592.0,1095.2 L594.8,1093.6 L597.6,1092.4 L599.9,1093.1 L602.1,1092.3 L604.4,1092.8 L606.6,1092.4 L608.8,1091.4 L611.1,1091.8 L613.3,1094.1 L615.6,1096.1 L617.8,1098.5 L620.1,1100.3 L622.3,1101.3 L624.6,1103.2 L626.8,1103.2 L629.1,1103.2 L631.3,1103.2 L633.6,1103.2 L635.8,1103.2 L638.0,1103.2 L640.3,1103.2 L642.5,1103.2 L644.8,1103.2 L647.0,1103.2 L649.3,1103.2 L651.5,1103.2 L653.8,1103.2 L656.0,1103.2 L658.3,1103.2 L660.5,1103.2 L662.7,1103.2 L665.0,1103.2 L667.2,1103.1 L669.5,1102.5 L671.7,1103.1 L674.0,1103.0 L676.2,1103.2 L678.5,1103.2 L680.5,1103.2 L682.5,1103.2 L684.5,1103.2 L686.5,1103.2 L688.6,1103.2 L690.6,1103.2 L692.6,1103.2 L694.6,1103.2 L696.7,1103.2 L698.7,1103.2" fill="none" stroke="#2233cc" stroke-width="3" stroke-linejoin="round"/>
<path d="M130.1,635.4 L132.1,635.0 L134.1,635.3 L136.2,634.5 L138.2,634.8 L140.2,634.4 L142.5,634.8 L144.7,636.0 L146.9,636.3 L149.2,641.2 L151.4,645.3 L153.7,649.8 L155.9,658.4 L158.2,667.0 L160.4,674.5 L162.7,684.4 L164.9,694.5 L167.2,704.6 L169.4,710.2 L171.7,716.0 L173.9,722.5 L176.1,725.4 L178.4,729.9 L180.6,733.1 L182.9,738.2 L185.1,743.4 L187.4,748.8 L189.6,752.7 L191.9,755.4 L194.1,761.8 L196.4,767.9 L198.6,773.6 L201.4,785.0 L204.2,795.7 L207.0,798.0 L209.8,800.4 L212.1,803.1 L214.3,805.1 L216.6,807.2 L218.8,816.5 L221.1,825.3 L223.3,835.3 L225.5,845.9 L227.8,853.6 L230.0,861.0 L232.3,867.4 L234.5,873.3 L236.8,879.6 L239.0,883.6 L241.3,887.3 L243.5,892.1 L246.3,891.8 L249.1,892.7 L251.9,897.5 L254.7,901.4 L257.0,907.7 L259.2,913.2 L261.5,919.9 L263.7,924.4 L266.0,928.7 L268.2,933.5 L270.5,930.0 L272.7,927.4 L275.0,924.3 L277.2,922.8 L279.4,921.1 L281.7,920.0 L283.9,920.1 L286.2,919.7 L288.4,919.9 L290.7,919.3 L292.9,921.0 L295.2,922.1 L297.4,923.6 L299.7,924.5 L301.9,924.0 L304.1,924.1 L306.4,924.4 L308.6,923.4 L310.9,923.6 L313.1,923.0 L315.4,922.7 L317.6,922.3 L319.9,922.8 L322.1,921.8 L324.4,921.7 L327.0,921.8 L329.6,922.3 L332.2,921.5 L334.5,916.8 L336.7,911.9 L339.0,907.2 L341.2,902.0 L343.8,908.1 L346.4,913.5 L349.1,919.6 L351.3,919.3 L353.6,919.5 L355.8,919.3 L358.0,918.2 L360.3,919.7 L362.5,921.3 L364.8,922.8 L367.6,922.5 L370.4,922.0 L373.2,913.8 L376.0,905.7 L378.3,902.0 L380.5,897.9 L382.7,893.9 L385.0,900.7 L387.2,906.8 L389.5,913.0 L391.7,919.6 L394.0,926.2 L396.2,932.0 L398.5,939.4 L400.7,945.8 L403.0,942.5 L405.2,939.1 L407.4,935.3 L409.7,929.7 L411.9,923.8 L412.4,924.3 L415.0,924.5 L417.6,925.2 L420.2,926.1 L422.5,923.5 L424.7,921.0 L426.9,918.1 L429.2,919.2 L431.4,920.5 L433.7,921.5 L436.3,919.9 L438.9,917.7 L441.5,916.7 L444.4,919.8 L447.2,922.7 L449.4,924.3 L451.7,925.9 L453.9,927.4 L456.7,922.1 L459.5,917.8 L461.8,916.3 L464.0,914.0 L467.4,906.2 L469.6,912.5 L471.9,919.3 L474.1,931.9 L476.4,944.2 L478.6,959.3 L480.8,973.3 L483.1,972.0 L485.3,971.8 L487.6,968.4 L489.8,965.0 L492.1,962.4 L494.3,962.6 L496.6,963.9 L498.8,965.1 L501.1,968.7 L503.3,972.3 L505.5,975.6 L507.8,978.7 L510.0,981.5 L512.3,985.1 L514.5,987.1 L516.8,989.6 L519.6,986.3 L522.4,983.4 L525.0,981.8 L527.6,979.7 L530.2,977.3 L532.5,981.4 L534.7,985.5 L537.0,989.5 L539.8,1000.3 L542.6,1011.8 L545.4,1009.4 L548.2,1006.8 L550.5,1001.6 L552.7,996.6 L555.0,991.3 L557.2,990.6 L559.4,989.8 L561.7,993.7 L563.9,998.7 L566.2,1003.3 L568.4,1009.2 L570.7,1014.6 L572.9,1020.5 L575.2,1025.0 L577.4,1029.4 L579.7,1033.9 L581.9,1034.3 L584.1,1034.6 L586.4,1034.6 L588.6,1036.4 L590.9,1038.9 L593.1,1041.3 L595.4,1043.5 L597.6,1047.1 L599.9,1050.4 L602.1,1052.5 L604.4,1054.7 L606.6,1056.7 L609.4,1055.8 L612.2,1055.8 L615.0,1052.6 L617.8,1050.2 L620.1,1049.9 L622.3,1048.7 L624.6,1051.3 L626.8,1054.5 L629.1,1056.9 L631.3,1056.9 L633.6,1057.4 L635.8,1058.0 L638.0,1059.3 L640.3,1059.2 L642.5,1058.6 L644.8,1059.3 L647.0,1061.7 L649.3,1063.6 L651.5,1065.5 L653.8,1068.0 L656.0,1069.8 L658.3,1069.3 L660.5,1069.9 L662.7,1069.2 L665.0,1069.4 L667.2,1070.2 L669.5,1070.1 L671.7,1071.1 L674.0,1071.6 L676.2,1077.3 L678.5,1083.8 L680.7,1090.2 L683.0,1093.8 L685.2,1097.9 L687.4,1101.4 L689.7,1100.8 L691.9,1099.7 L694.2,1099.8 L696.4,1098.6 L698.7,1098.2" fill="none" stroke="#e31a1a" stroke-width="3" stroke-linejoin="round"/>
<path d="M876.2,634.2 L878.3,634.9 L880.3,634.0 L882.3,634.4 L884.3,634.9 L886.4,634.9 L888.4,634.1 L890.4,634.3 L892.4,634.8 L894.4,634.3 L896.5,635.0 L898.5,634.1 L900.5,635.0 L902.5,634.5 L904.5,634.2 L906.6,634.4 L908.8,636.3 L911.1,639.2 L913.3,640.9 L915.5,644.5 L917.8,646.9 L920.0,649.5 L922.3,652.2 L924.5,652.3 L926.8,651.6 L929.0,652.1 L931.3,650.9 L933.5,651.1 L935.8,650.8 L938.0,650.2 L940.2,650.5 L942.5,653.2 L944.7,656.6 L947.0,659.6 L949.2,662.3 L951.5,662.4 L953.7,662.1 L956.0,662.2 L958.2,663.0 L960.5,662.1 L962.7,662.2 L965.0,661.3 L967.2,661.5 L969.4,662.4 L971.7,663.7 L973.9,664.6 L976.2,660.9 L978.4,657.8 L980.7,654.4 L982.9,650.9 L985.2,651.3 L987.4,650.5 L989.7,650.4 L991.9,650.7 L994.1,651.3 L996.4,652.2 L998.6,652.9 L1000.9,658.0 L1003.1,664.2 L1005.4,669.9 L1007.6,675.5 L1009.9,680.3 L1012.1,684.8 L1014.4,684.5 L1016.6,684.5 L1018.8,684.1 L1021.1,679.9 L1023.3,676.8 L1025.6,672.5 L1028.2,671.7 L1030.8,670.0 L1033.4,668.8 L1036.1,673.2 L1038.7,676.3 L1041.3,679.7 L1043.6,681.1 L1045.8,683.3 L1048.0,685.7 L1050.3,685.8 L1052.5,685.9 L1054.8,686.0 L1057.0,685.6 L1059.3,685.9 L1061.5,686.3 L1063.8,685.8 L1066.0,686.5 L1068.3,686.2 L1070.5,686.4 L1072.7,685.8 L1075.0,689.1 L1077.2,692.4 L1079.5,694.9 L1081.7,697.9 L1084.0,702.3 L1086.2,705.6 L1088.5,708.3 L1090.7,708.8 L1093.0,710.5 L1095.2,711.0 L1097.4,714.8 L1099.7,719.5 L1101.9,723.9 L1105.7,725.8 L1108.0,726.2 L1110.2,728.2 L1112.5,729.1 L1114.7,728.3 L1116.9,729.0 L1119.2,728.7 L1121.4,728.4 L1123.7,727.7 L1125.9,726.3 L1128.2,726.6 L1130.4,728.2 L1132.7,728.2 L1134.9,729.3 L1137.2,730.2 L1139.4,731.3 L1141.7,732.6 L1143.9,732.6 L1146.1,732.7 L1148.4,732.5 L1150.6,733.5 L1152.9,734.9 L1155.1,736.7 L1157.4,745.0 L1159.6,751.9 L1161.9,760.6 L1164.1,768.7 L1166.4,778.5 L1168.6,787.6 L1171.4,798.1 L1174.2,809.7 L1176.8,809.8 L1179.5,809.1 L1182.1,808.6 L1184.3,810.9 L1186.6,813.2 L1188.8,816.2 L1191.1,818.2 L1193.3,819.8 L1195.5,821.8 L1197.8,818.2 L1200.0,815.5 L1202.3,812.1 L1204.5,807.8 L1206.8,804.1 L1209.0,800.7 L1211.3,798.0 L1213.5,796.0 L1215.8,792.6 L1218.6,794.3 L1221.4,796.6 L1223.6,799.5 L1225.9,803.7 L1228.1,807.2 L1230.4,801.8 L1232.6,795.5 L1234.8,789.8 L1237.1,782.7 L1239.3,776.9 L1241.6,770.5 L1244.4,776.5 L1247.2,783.0 L1249.4,792.1 L1251.7,800.2 L1253.9,806.8 L1256.2,813.2 L1258.4,819.4 L1260.7,818.7 L1262.9,818.4 L1265.2,817.7 L1267.4,817.8 L1269.7,817.5 L1271.9,817.0 L1274.1,817.3 L1276.4,817.5 L1278.6,818.8 L1280.9,819.9 L1283.1,821.2 L1285.4,822.5 L1288.0,826.0 L1290.6,827.9 L1293.2,829.4 L1295.5,827.9 L1297.7,826.0 L1300.0,823.2 L1302.8,818.2 L1305.6,814.1 L1307.8,812.6 L1310.1,810.8 L1312.3,809.7 L1314.6,809.1 L1316.8,810.2 L1319.1,809.8 L1321.3,809.8 L1324.1,813.5 L1326.9,816.6 L1329.2,818.3 L1331.4,820.6 L1333.7,822.7 L1336.5,813.6 L1339.3,805.5 L1341.5,798.1 L1343.8,789.9 L1346.0,782.3 L1348.6,789.6 L1351.2,796.6 L1353.9,803.4 L1356.5,796.5 L1359.1,791.3 L1361.7,785.3 L1364.0,789.0 L1366.2,792.2 L1368.5,795.8 L1370.7,804.1 L1373.0,810.9 L1375.2,818.5 L1377.4,822.1 L1379.7,825.4 L1381.9,942.1 L1379.7,936.0 L1377.4,929.2 L1375.2,922.0 L1373.0,914.5 L1370.7,906.7 L1368.5,899.5 L1366.2,896.2 L1364.0,893.2 L1361.7,890.7 L1358.9,899.1 L1356.1,907.9 L1353.3,904.6 L1350.5,899.4 L1348.3,895.2 L1346.0,891.8 L1343.8,888.3 L1341.5,897.4 L1339.3,907.5 L1337.0,917.3 L1334.8,921.3 L1332.5,924.9 L1330.3,928.5 L1327.5,924.9 L1324.7,921.4 L1321.9,917.6 L1319.1,913.4 L1316.8,913.4 L1314.6,914.2 L1312.3,914.7 L1310.1,916.8 L1307.8,918.6 L1305.6,919.6 L1302.8,924.6 L1300.0,928.3 L1297.7,930.9 L1295.5,933.0 L1293.2,935.6 L1290.6,933.5 L1288.0,930.5 L1285.4,928.1 L1283.1,927.6 L1280.9,926.3 L1278.6,924.5 L1276.4,922.6 L1274.1,923.2 L1271.9,923.0 L1269.7,924.4 L1267.4,924.6 L1265.2,924.4 L1262.9,924.2 L1260.7,924.6 L1258.4,923.8 L1256.2,918.1 L1253.9,912.4 L1251.7,906.0 L1249.4,896.2 L1247.2,885.6 L1245.0,880.2 L1242.7,873.2 L1240.5,879.4 L1238.2,885.9 L1236.0,892.8 L1233.7,899.9 L1231.5,906.2 L1229.2,912.6 L1227.0,909.7 L1224.7,907.2 L1222.5,904.5 L1219.7,899.0 L1216.9,895.4 L1214.1,897.3 L1211.3,899.0 L1209.0,904.8 L1206.8,909.4 L1204.5,915.5 L1202.3,919.5 L1200.0,923.0 L1197.8,926.3 L1195.5,924.9 L1193.3,924.6 L1191.1,922.9 L1188.8,921.5 L1186.6,919.5 L1184.3,918.5 L1182.1,916.3 L1179.8,915.6 L1177.6,915.0 L1175.3,913.8 L1173.1,913.4 L1170.3,900.7 L1167.5,888.7 L1164.7,874.7 L1161.9,861.6 L1159.1,851.0 L1156.2,840.7 L1153.4,837.8 L1150.6,833.8 L1148.4,833.8 L1146.1,833.3 L1143.9,832.7 L1141.7,831.3 L1139.4,828.3 L1137.2,826.8 L1134.9,825.7 L1132.7,825.4 L1130.4,823.6 L1128.2,823.0 L1125.9,823.5 L1123.7,822.7 L1121.4,823.4 L1119.2,823.7 L1116.9,823.2 L1114.7,824.6 L1112.5,825.1 L1110.2,825.4 L1108.0,824.7 L1105.7,823.1 L1103.5,821.5 L1099.7,816.3 L1097.4,811.4 L1095.2,807.5 L1093.0,802.9 L1090.7,801.0 L1088.5,800.0 L1086.2,798.1 L1084.0,793.3 L1081.7,787.9 L1079.5,782.4 L1076.7,776.6 L1073.9,769.9 L1071.8,769.9 L1069.7,770.5 L1067.6,769.5 L1065.4,769.9 L1063.3,770.1 L1061.2,769.1 L1059.1,768.9 L1057.0,769.1 L1054.8,769.3 L1052.5,769.3 L1050.3,769.1 L1048.0,769.3 L1045.8,765.3 L1043.6,761.9 L1041.3,757.5 L1039.1,753.4 L1036.8,749.2 L1034.6,744.2 L1032.3,745.5 L1030.1,748.0 L1027.8,748.8 L1024.5,755.5 L1021.7,759.3 L1018.8,762.5 L1016.0,767.5 L1013.2,771.6 L1011.0,758.9 L1008.7,746.9 L1005.9,738.0 L1003.1,728.3 L1000.9,723.9 L998.6,718.5 L996.4,713.6 L994.1,713.7 L991.9,713.5 L989.7,713.6 L987.4,713.7 L985.2,715.3 L982.9,717.4 L980.7,719.3 L978.4,725.5 L976.2,731.6 L973.9,737.9 L971.7,735.1 L969.4,732.3 L967.2,729.5 L965.0,733.0 L962.7,735.6 L960.5,738.0 L958.2,737.0 L956.0,736.1 L953.7,735.5 L951.5,732.6 L949.2,729.8 L947.0,726.3 L944.7,722.0 L942.5,717.9 L940.2,713.5 L938.0,713.9 L935.8,713.2 L933.5,714.5 L931.3,715.3 L929.0,717.1 L926.8,718.2 L924.5,717.7 L922.3,718.1 L920.0,717.0 L917.8,716.1 L915.5,709.6 L913.3,701.7 L911.1,695.2 L908.8,690.0 L906.6,685.0 L904.3,680.5 L902.1,680.0 L899.8,679.9 L897.6,679.3 L895.3,678.5 L892.7,678.3 L890.1,677.7 L887.5,677.2 L884.7,665.4 L881.9,654.4 L879.1,645.0 L876.2,634.3 Z" fill="#dfe4fb" fill-opacity="0.45" stroke="none"/>
<path d="M886.4,634.1 L888.6,638.9 L890.8,644.0 L893.1,645.0 L895.3,647.3 L897.6,648.7 L899.8,648.7 L902.1,649.4 L904.3,649.3 L906.6,648.7 L908.8,648.0 L911.1,647.5 L913.3,647.5 L915.5,646.8 L917.8,647.7 L920.0,648.7 L922.3,650.3 L924.9,655.0 L927.5,659.6 L930.1,663.8 L933.0,662.2 L935.8,660.9 L938.0,658.4 L940.2,654.6 L942.5,651.6 L944.7,653.8 L947.0,657.7 L949.2,660.1 L951.5,661.5 L953.7,662.3 L956.0,662.6 L958.2,659.4 L960.5,657.8 L962.7,654.7 L965.5,654.6 L968.3,653.3 L971.1,660.5 L973.9,668.6 L976.2,670.6 L978.4,673.0 L980.7,675.9 L982.9,673.2 L985.2,669.5 L987.4,667.1 L989.7,665.9 L991.9,664.8 L994.1,663.2 L997.0,663.9 L999.8,664.1 L1002.0,669.4 L1004.3,674.0 L1006.5,679.7 L1009.3,682.6 L1012.1,686.4 L1014.4,683.0 L1016.6,681.3 L1018.8,678.8 L1021.1,677.9 L1023.3,677.5 L1025.6,677.2 L1027.8,683.9 L1030.1,690.1 L1032.3,697.9 L1034.6,704.9 L1036.8,712.7 L1039.1,715.6 L1041.3,718.8 L1043.6,722.5 L1045.8,723.2 L1048.0,725.0 L1050.3,727.4 L1052.5,728.4 L1054.8,731.2 L1057.0,734.9 L1059.3,737.9 L1061.5,746.8 L1063.8,756.0 L1066.4,756.8 L1069.0,759.2 L1071.6,760.5 L1074.2,762.3 L1076.9,765.0 L1079.5,768.1 L1081.7,762.5 L1084.0,756.6 L1086.2,750.8 L1088.5,747.4 L1090.7,743.3 L1093.0,740.1 L1095.2,746.1 L1097.4,750.8 L1099.7,760.3 L1101.9,769.5 L1105.7,809.3 L1108.0,817.9 L1110.2,825.9 L1113.0,827.5 L1115.8,829.8 L1118.6,833.6 L1121.4,836.6 L1124.1,835.7 L1126.7,835.6 L1129.3,834.7 L1131.9,830.8 L1134.5,827.3 L1137.2,824.1 L1139.4,826.0 L1141.7,828.6 L1143.9,830.2 L1146.1,831.9 L1148.4,833.2 L1150.6,834.8 L1152.9,839.1 L1155.1,844.9 L1157.4,850.6 L1159.6,857.3 L1161.9,863.2 L1164.7,860.1 L1167.5,857.0 L1170.3,857.8 L1173.1,859.1 L1175.3,860.0 L1177.6,862.0 L1179.8,863.6 L1182.1,863.7 L1184.3,864.6 L1186.6,866.4 L1188.8,873.6 L1191.1,881.3 L1193.3,888.4 L1195.5,898.7 L1197.8,908.9 L1200.0,908.9 L1202.3,907.9 L1204.5,908.6 L1206.8,908.2 L1209.6,904.2 L1212.4,899.2 L1215.2,896.2 L1218.0,893.3 L1220.2,896.6 L1222.5,899.9 L1224.7,904.0 L1227.5,908.4 L1230.4,913.5 L1233.2,900.3 L1236.0,888.0 L1238.8,877.2 L1241.6,865.3 L1244.4,863.7 L1247.2,861.9 L1249.4,858.3 L1251.7,855.0 L1253.9,852.3 L1256.2,850.9 L1258.4,848.9 L1260.7,847.4 L1262.9,848.1 L1265.2,849.1 L1267.4,850.0 L1269.7,852.1 L1271.9,854.3 L1274.1,856.3 L1277.0,862.5 L1279.8,868.4 L1282.6,861.4 L1285.4,854.7 L1287.6,850.3 L1289.9,845.2 L1292.1,841.3 L1294.4,838.1 L1296.6,835.2 L1298.8,832.2 L1301.1,825.3 L1303.3,818.4 L1305.6,811.6 L1308.4,813.8 L1311.2,816.4 L1313.4,823.0 L1315.7,830.0 L1317.9,836.0 L1320.6,831.9 L1323.2,828.1 L1325.8,822.8 L1328.4,819.5 L1331.0,815.6 L1333.7,811.6 L1337.0,810.2 L1339.8,815.0 L1342.6,821.2 L1345.3,822.7 L1347.9,824.9 L1350.5,828.1 L1352.7,829.8 L1355.0,831.6 L1357.2,834.2 L1359.5,836.5 L1361.7,829.4 L1364.0,821.2 L1366.2,813.8 L1369.0,800.1 L1371.8,785.2 L1374.1,778.9 L1376.3,773.5 L1378.6,781.4 L1380.8,789.4 L1379.7,892.7 L1376.9,885.5 L1374.1,879.5 L1371.3,894.6 L1368.5,910.5 L1366.2,922.1 L1364.0,932.6 L1361.7,944.1 L1359.5,941.9 L1357.2,939.5 L1355.0,937.4 L1352.7,935.2 L1350.5,934.3 L1348.3,932.0 L1346.0,930.4 L1343.8,927.8 L1341.5,924.8 L1339.3,922.0 L1336.5,919.2 L1333.7,917.5 L1331.0,920.9 L1328.4,925.5 L1325.8,928.3 L1323.6,933.0 L1321.3,937.3 L1319.1,941.8 L1316.8,935.8 L1314.6,928.7 L1312.3,922.4 L1310.1,919.5 L1307.8,917.1 L1305.6,915.5 L1302.8,922.9 L1300.0,930.6 L1297.4,936.0 L1294.7,939.9 L1292.1,944.9 L1289.3,951.3 L1286.5,957.6 L1283.7,965.5 L1280.9,972.9 L1278.1,967.2 L1275.3,962.8 L1272.5,959.5 L1269.7,955.1 L1267.4,955.3 L1265.2,955.8 L1262.9,955.6 L1260.7,955.4 L1258.4,954.2 L1256.2,953.8 L1253.6,955.1 L1250.9,957.7 L1248.3,960.1 L1246.1,962.9 L1243.8,966.2 L1241.6,969.6 L1238.8,981.0 L1236.0,993.5 L1233.2,1003.5 L1230.4,1013.8 L1227.5,1009.8 L1224.7,1004.8 L1222.5,1001.6 L1220.2,997.0 L1218.0,993.3 L1215.2,996.4 L1212.4,998.4 L1209.6,1002.0 L1206.8,1005.1 L1204.5,1004.6 L1202.3,1004.5 L1200.0,1004.6 L1197.8,1005.3 L1195.5,999.0 L1193.3,993.3 L1191.1,987.0 L1188.8,980.4 L1186.6,974.2 L1184.3,971.4 L1182.1,969.3 L1179.8,966.6 L1177.6,965.4 L1175.3,963.9 L1173.1,962.0 L1170.3,961.4 L1167.5,960.2 L1164.7,966.1 L1161.9,971.1 L1159.6,960.6 L1157.4,951.4 L1155.1,945.3 L1152.9,940.2 L1150.6,939.0 L1148.4,937.9 L1146.1,937.8 L1143.3,933.8 L1140.5,928.5 L1137.7,931.0 L1134.9,933.3 L1132.7,935.8 L1130.4,938.8 L1128.2,942.2 L1125.9,942.9 L1123.7,943.4 L1121.4,944.0 L1118.6,940.9 L1115.8,938.1 L1113.0,934.9 L1110.2,931.3 L1108.0,921.0 L1105.7,911.2 L1101.9,894.5 L1099.7,873.7 L1097.4,852.7 L1095.2,846.7 L1093.0,839.8 L1090.7,845.8 L1088.5,852.7 L1085.7,861.3 L1082.8,870.1 L1080.6,871.4 L1078.4,871.6 L1076.1,868.3 L1073.9,865.4 L1071.6,863.0 L1069.4,861.8 L1067.1,860.3 L1064.9,859.1 L1062.1,847.7 L1059.3,836.5 L1057.0,829.4 L1054.8,823.2 L1052.5,822.2 L1050.3,821.4 L1048.0,816.2 L1045.8,812.0 L1043.6,807.2 L1041.3,802.0 L1039.1,797.2 L1036.8,791.7 L1034.0,783.8 L1031.2,776.6 L1028.4,766.5 L1025.6,757.2 L1022.8,757.9 L1020.0,758.0 L1017.2,763.1 L1014.4,767.6 L1012.1,767.0 L1009.9,767.5 L1007.6,760.2 L1005.4,753.2 L1003.1,747.3 L1000.3,741.0 L997.5,734.8 L994.9,734.2 L992.3,734.9 L989.7,733.9 L987.4,738.5 L985.2,742.4 L982.9,746.3 L980.7,751.0 L978.4,755.4 L976.2,747.8 L973.9,740.0 L971.1,732.0 L968.3,723.5 L965.5,726.9 L962.7,730.9 L959.9,734.5 L957.1,737.7 L954.8,734.5 L952.6,732.1 L950.4,728.8 L947.5,722.0 L944.7,715.2 L941.9,717.7 L939.1,720.3 L936.9,725.4 L934.6,730.2 L932.4,735.6 L930.1,736.1 L927.9,735.5 L925.1,727.8 L922.3,720.1 L920.0,715.1 L917.8,712.0 L915.5,707.0 L913.3,709.8 L911.1,711.5 L908.8,713.4 L906.6,713.1 L904.3,713.4 L902.1,713.4 L899.8,713.4 L897.6,712.5 L895.3,712.4 L892.5,687.1 L889.7,661.6 L886.4,634.7 Z" fill="#fbd6e6" fill-opacity="0.45" stroke="none"/>
<path d="M876.2,634.2 L878.3,634.9 L880.3,634.0 L882.3,634.4 L884.3,634.9 L886.4,634.9 L888.4,634.1 L890.4,634.3 L892.4,634.8 L894.4,634.3 L896.5,635.0 L898.5,634.1 L900.5,635.0 L902.5,634.5 L904.5,634.2 L906.6,634.4 L908.8,636.3 L911.1,639.2 L913.3,640.9 L915.5,644.5 L917.8,646.9 L920.0,649.5 L922.3,652.2 L924.5,652.3 L926.8,651.6 L929.0,652.1 L931.3,650.9 L933.5,651.1 L935.8,650.8 L938.0,650.2 L940.2,650.5 L942.5,653.2 L944.7,656.6 L947.0,659.6 L949.2,662.3 L951.5,662.4 L953.7,662.1 L956.0,662.2 L958.2,663.0 L960.5,662.1 L962.7,662.2 L965.0,661.3 L967.2,661.5 L969.4,662.4 L971.7,663.7 L973.9,664.6 L976.2,660.9 L978.4,657.8 L980.7,654.4 L982.9,650.9 L985.2,651.3 L987.4,650.5 L989.7,650.4 L991.9,650.7 L994.1,651.3 L996.4,652.2 L998.6,652.9 L1000.9,658.0 L1003.1,664.2 L1005.4,669.9 L1007.6,675.5 L1009.9,680.3 L1012.1,684.8 L1014.4,684.5 L1016.6,684.5 L1018.8,684.1 L1021.1,679.9 L1023.3,676.8 L1025.6,672.5 L1028.2,671.7 L1030.8,670.0 L1033.4,668.8 L1036.1,673.2 L1038.7,676.3 L1041.3,679.7 L1043.6,681.1 L1045.8,683.3 L1048.0,685.7 L1050.3,685.8 L1052.5,685.9 L1054.8,686.0 L1057.0,685.6 L1059.3,685.9 L1061.5,686.3 L1063.8,685.8 L1066.0,686.5 L1068.3,686.2 L1070.5,686.4 L1072.7,685.8 L1075.0,689.1 L1077.2,692.4 L1079.5,694.9 L1081.7,697.9 L1084.0,702.3 L1086.2,705.6 L1088.5,708.3 L1090.7,708.8 L1093.0,710.5 L1095.2,711.0 L1097.4,714.8 L1099.7,719.5 L1101.9,723.9 L1105.7,725.8 L1108.0,726.2 L1110.2,728.2 L1112.5,729.1 L1114.7,728.3 L1116.9,729.0 L1119.2,728.7 L1121.4,728.4 L1123.7,727.7 L1125.9,726.3 L1128.2,726.6 L1130.4,728.2 L1132.7,728.2 L1134.9,729.3 L1137.2,730.2 L1139.4,731.3 L1141.7,732.6 L1143.9,732.6 L1146.1,732.7 L1148.4,732.5 L1150.6,733.5 L1152.9,734.9 L1155.1,736.7 L1157.4,745.0 L1159.6,751.9 L1161.9,760.6 L1164.1,768.7 L1166.4,778.5 L1168.6,787.6 L1171.4,798.1 L1174.2,809.7 L1176.8,809.8 L1179.5,809.1 L1182.1,808.6 L1184.3,810.9 L1186.6,813.2 L1188.8,816.2 L1191.1,818.2 L1193.3,819.8 L1195.5,821.8 L1197.8,818.2 L1200.0,815.5 L1202.3,812.1 L1204.5,807.8 L1206.8,804.1 L1209.0,800.7 L1211.3,798.0 L1213.5,796.0 L1215.8,792.6 L1218.6,794.3 L1221.4,796.6 L1223.6,799.5 L1225.9,803.7 L1228.1,807.2 L1230.4,801.8 L1232.6,795.5 L1234.8,789.8 L1237.1,782.7 L1239.3,776.9 L1241.6,770.5 L1244.4,776.5 L1247.2,783.0 L1249.4,792.1 L1251.7,800.2 L1253.9,806.8 L1256.2,813.2 L1258.4,819.4 L1260.7,818.7 L1262.9,818.4 L1265.2,817.7 L1267.4,817.8 L1269.7,817.5 L1271.9,817.0 L1274.1,817.3 L1276.4,817.5 L1278.6,818.8 L1280.9,819.9 L1283.1,821.2 L1285.4,822.5 L1288.0,826.0 L1290.6,827.9 L1293.2,829.4 L1295.5,827.9 L1297.7,826.0 L1300.0,823.2 L1302.8,818.2 L1305.6,814.1 L1307.8,812.6 L1310.1,810.8 L1312.3,809.7 L1314.6,809.1 L1316.8,810.2 L1319.1,809.8 L1321.3,809.8 L1324.1,813.5 L1326.9,816.6 L1329.2,818.3 L1331.4,820.6 L1333.7,822.7 L1336.5,813.6 L1339.3,805.5 L1341.5,798.1 L1343.8,789.9 L1346.0,782.3 L1348.6,789.6 L1351.2,796.6 L1353.9,803.4 L1356.5,796.5 L1359.1,791.3 L1361.7,785.3 L1364.0,789.0 L1366.2,792.2 L1368.5,795.8 L1370.7,804.1 L1373.0,810.9 L1375.2,818.5 L1377.4,822.1 L1379.7,825.4" fill="none" stroke="#3a45a8" stroke-width="1.35" stroke-dasharray="3,1.3"/>
<path d="M876.2,634.3 L879.1,645.0 L881.9,654.4 L884.7,665.4 L887.5,677.2 L890.1,677.7 L892.7,678.3 L895.3,678.5 L897.6,679.3 L899.8,679.9 L902.1,680.0 L904.3,680.5 L906.6,685.0 L908.8,690.0 L911.1,695.2 L913.3,701.7 L915.5,709.6 L917.8,716.1 L920.0,717.0 L922.3,718.1 L924.5,717.7 L926.8,718.2 L929.0,717.1 L931.3,715.3 L933.5,714.5 L935.8,713.2 L938.0,713.9 L940.2,713.5 L942.5,717.9 L944.7,722.0 L947.0,726.3 L949.2,729.8 L951.5,732.6 L953.7,735.5 L956.0,736.1 L958.2,737.0 L960.5,738.0 L962.7,735.6 L965.0,733.0 L967.2,729.5 L969.4,732.3 L971.7,735.1 L973.9,737.9 L976.2,731.6 L978.4,725.5 L980.7,719.3 L982.9,717.4 L985.2,715.3 L987.4,713.7 L989.7,713.6 L991.9,713.5 L994.1,713.7 L996.4,713.6 L998.6,718.5 L1000.9,723.9 L1003.1,728.3 L1005.9,738.0 L1008.7,746.9 L1011.0,758.9 L1013.2,771.6 L1016.0,767.5 L1018.8,762.5 L1021.7,759.3 L1024.5,755.5 L1027.8,748.8 L1030.1,748.0 L1032.3,745.5 L1034.6,744.2 L1036.8,749.2 L1039.1,753.4 L1041.3,757.5 L1043.6,761.9 L1045.8,765.3 L1048.0,769.3 L1050.3,769.1 L1052.5,769.3 L1054.8,769.3 L1057.0,769.1 L1059.1,768.9 L1061.2,769.1 L1063.3,770.1 L1065.4,769.9 L1067.6,769.5 L1069.7,770.5 L1071.8,769.9 L1073.9,769.9 L1076.7,776.6 L1079.5,782.4 L1081.7,787.9 L1084.0,793.3 L1086.2,798.1 L1088.5,800.0 L1090.7,801.0 L1093.0,802.9 L1095.2,807.5 L1097.4,811.4 L1099.7,816.3 L1103.5,821.5 L1105.7,823.1 L1108.0,824.7 L1110.2,825.4 L1112.5,825.1 L1114.7,824.6 L1116.9,823.2 L1119.2,823.7 L1121.4,823.4 L1123.7,822.7 L1125.9,823.5 L1128.2,823.0 L1130.4,823.6 L1132.7,825.4 L1134.9,825.7 L1137.2,826.8 L1139.4,828.3 L1141.7,831.3 L1143.9,832.7 L1146.1,833.3 L1148.4,833.8 L1150.6,833.8 L1153.4,837.8 L1156.2,840.7 L1159.1,851.0 L1161.9,861.6 L1164.7,874.7 L1167.5,888.7 L1170.3,900.7 L1173.1,913.4 L1175.3,913.8 L1177.6,915.0 L1179.8,915.6 L1182.1,916.3 L1184.3,918.5 L1186.6,919.5 L1188.8,921.5 L1191.1,922.9 L1193.3,924.6 L1195.5,924.9 L1197.8,926.3 L1200.0,923.0 L1202.3,919.5 L1204.5,915.5 L1206.8,909.4 L1209.0,904.8 L1211.3,899.0 L1214.1,897.3 L1216.9,895.4 L1219.7,899.0 L1222.5,904.5 L1224.7,907.2 L1227.0,909.7 L1229.2,912.6 L1231.5,906.2 L1233.7,899.9 L1236.0,892.8 L1238.2,885.9 L1240.5,879.4 L1242.7,873.2 L1245.0,880.2 L1247.2,885.6 L1249.4,896.2 L1251.7,906.0 L1253.9,912.4 L1256.2,918.1 L1258.4,923.8 L1260.7,924.6 L1262.9,924.2 L1265.2,924.4 L1267.4,924.6 L1269.7,924.4 L1271.9,923.0 L1274.1,923.2 L1276.4,922.6 L1278.6,924.5 L1280.9,926.3 L1283.1,927.6 L1285.4,928.1 L1288.0,930.5 L1290.6,933.5 L1293.2,935.6 L1295.5,933.0 L1297.7,930.9 L1300.0,928.3 L1302.8,924.6 L1305.6,919.6 L1307.8,918.6 L1310.1,916.8 L1312.3,914.7 L1314.6,914.2 L1316.8,913.4 L1319.1,913.4 L1321.9,917.6 L1324.7,921.4 L1327.5,924.9 L1330.3,928.5 L1332.5,924.9 L1334.8,921.3 L1337.0,917.3 L1339.3,907.5 L1341.5,897.4 L1343.8,888.3 L1346.0,891.8 L1348.3,895.2 L1350.5,899.4 L1353.3,904.6 L1356.1,907.9 L1358.9,899.1 L1361.7,890.7 L1364.0,893.2 L1366.2,896.2 L1368.5,899.5 L1370.7,906.7 L1373.0,914.5 L1375.2,922.0 L1377.4,929.2 L1379.7,936.0 L1381.9,942.1" fill="none" stroke="#3a45a8" stroke-width="1.35" stroke-dasharray="3,1.3"/>
<path d="M886.4,634.1 L888.6,638.9 L890.8,644.0 L893.1,645.0 L895.3,647.3 L897.6,648.7 L899.8,648.7 L902.1,649.4 L904.3,649.3 L906.6,648.7 L908.8,648.0 L911.1,647.5 L913.3,647.5 L915.5,646.8 L917.8,647.7 L920.0,648.7 L922.3,650.3 L924.9,655.0 L927.5,659.6 L930.1,663.8 L933.0,662.2 L935.8,660.9 L938.0,658.4 L940.2,654.6 L942.5,651.6 L944.7,653.8 L947.0,657.7 L949.2,660.1 L951.5,661.5 L953.7,662.3 L956.0,662.6 L958.2,659.4 L960.5,657.8 L962.7,654.7 L965.5,654.6 L968.3,653.3 L971.1,660.5 L973.9,668.6 L976.2,670.6 L978.4,673.0 L980.7,675.9 L982.9,673.2 L985.2,669.5 L987.4,667.1 L989.7,665.9 L991.9,664.8 L994.1,663.2 L997.0,663.9 L999.8,664.1 L1002.0,669.4 L1004.3,674.0 L1006.5,679.7 L1009.3,682.6 L1012.1,686.4 L1014.4,683.0 L1016.6,681.3 L1018.8,678.8 L1021.1,677.9 L1023.3,677.5 L1025.6,677.2 L1027.8,683.9 L1030.1,690.1 L1032.3,697.9 L1034.6,704.9 L1036.8,712.7 L1039.1,715.6 L1041.3,718.8 L1043.6,722.5 L1045.8,723.2 L1048.0,725.0 L1050.3,727.4 L1052.5,728.4 L1054.8,731.2 L1057.0,734.9 L1059.3,737.9 L1061.5,746.8 L1063.8,756.0 L1066.4,756.8 L1069.0,759.2 L1071.6,760.5 L1074.2,762.3 L1076.9,765.0 L1079.5,768.1 L1081.7,762.5 L1084.0,756.6 L1086.2,750.8 L1088.5,747.4 L1090.7,743.3 L1093.0,740.1 L1095.2,746.1 L1097.4,750.8 L1099.7,760.3 L1101.9,769.5 L1105.7,809.3 L1108.0,817.9 L1110.2,825.9 L1113.0,827.5 L1115.8,829.8 L1118.6,833.6 L1121.4,836.6 L1124.1,835.7 L1126.7,835.6 L1129.3,834.7 L1131.9,830.8 L1134.5,827.3 L1137.2,824.1 L1139.4,826.0 L1141.7,828.6 L1143.9,830.2 L1146.1,831.9 L1148.4,833.2 L1150.6,834.8 L1152.9,839.1 L1155.1,844.9 L1157.4,850.6 L1159.6,857.3 L1161.9,863.2 L1164.7,860.1 L1167.5,857.0 L1170.3,857.8 L1173.1,859.1 L1175.3,860.0 L1177.6,862.0 L1179.8,863.6 L1182.1,863.7 L1184.3,864.6 L1186.6,866.4 L1188.8,873.6 L1191.1,881.3 L1193.3,888.4 L1195.5,898.7 L1197.8,908.9 L1200.0,908.9 L1202.3,907.9 L1204.5,908.6 L1206.8,908.2 L1209.6,904.2 L1212.4,899.2 L1215.2,896.2 L1218.0,893.3 L1220.2,896.6 L1222.5,899.9 L1224.7,904.0 L1227.5,908.4 L1230.4,913.5 L1233.2,900.3 L1236.0,888.0 L1238.8,877.2 L1241.6,865.3 L1244.4,863.7 L1247.2,861.9 L1249.4,858.3 L1251.7,855.0 L1253.9,852.3 L1256.2,850.9 L1258.4,848.9 L1260.7,847.4 L1262.9,848.1 L1265.2,849.1 L1267.4,850.0 L1269.7,852.1 L1271.9,854.3 L1274.1,856.3 L1277.0,862.5 L1279.8,868.4 L1282.6,861.4 L1285.4,854.7 L1287.6,850.3 L1289.9,845.2 L1292.1,841.3 L1294.4,838.1 L1296.6,835.2 L1298.8,832.2 L1301.1,825.3 L1303.3,818.4 L1305.6,811.6 L1308.4,813.8 L1311.2,816.4 L1313.4,823.0 L1315.7,830.0 L1317.9,836.0 L1320.6,831.9 L1323.2,828.1 L1325.8,822.8 L1328.4,819.5 L1331.0,815.6 L1333.7,811.6 L1337.0,810.2 L1339.8,815.0 L1342.6,821.2 L1345.3,822.7 L1347.9,824.9 L1350.5,828.1 L1352.7,829.8 L1355.0,831.6 L1357.2,834.2 L1359.5,836.5 L1361.7,829.4 L1364.0,821.2 L1366.2,813.8 L1369.0,800.1 L1371.8,785.2 L1374.1,778.9 L1376.3,773.5 L1378.6,781.4 L1380.8,789.4" fill="none" stroke="#b03040" stroke-width="1.35" stroke-dasharray="3,1.3"/>
<path d="M886.4,634.7 L889.7,661.6 L892.5,687.1 L895.3,712.4 L897.6,712.5 L899.8,713.4 L902.1,713.4 L904.3,713.4 L906.6,713.1 L908.8,713.4 L911.1,711.5 L913.3,709.8 L915.5,707.0 L917.8,712.0 L920.0,715.1 L922.3,720.1 L925.1,727.8 L927.9,735.5 L930.1,736.1 L932.4,735.6 L934.6,730.2 L936.9,725.4 L939.1,720.3 L941.9,717.7 L944.7,715.2 L947.5,722.0 L950.4,728.8 L952.6,732.1 L954.8,734.5 L957.1,737.7 L959.9,734.5 L962.7,730.9 L965.5,726.9 L968.3,723.5 L971.1,732.0 L973.9,740.0 L976.2,747.8 L978.4,755.4 L980.7,751.0 L982.9,746.3 L985.2,742.4 L987.4,738.5 L989.7,733.9 L992.3,734.9 L994.9,734.2 L997.5,734.8 L1000.3,741.0 L1003.1,747.3 L1005.4,753.2 L1007.6,760.2 L1009.9,767.5 L1012.1,767.0 L1014.4,767.6 L1017.2,763.1 L1020.0,758.0 L1022.8,757.9 L1025.6,757.2 L1028.4,766.5 L1031.2,776.6 L1034.0,783.8 L1036.8,791.7 L1039.1,797.2 L1041.3,802.0 L1043.6,807.2 L1045.8,812.0 L1048.0,816.2 L1050.3,821.4 L1052.5,822.2 L1054.8,823.2 L1057.0,829.4 L1059.3,836.5 L1062.1,847.7 L1064.9,859.1 L1067.1,860.3 L1069.4,861.8 L1071.6,863.0 L1073.9,865.4 L1076.1,868.3 L1078.4,871.6 L1080.6,871.4 L1082.8,870.1 L1085.7,861.3 L1088.5,852.7 L1090.7,845.8 L1093.0,839.8 L1095.2,846.7 L1097.4,852.7 L1099.7,873.7 L1101.9,894.5 L1105.7,911.2 L1108.0,921.0 L1110.2,931.3 L1113.0,934.9 L1115.8,938.1 L1118.6,940.9 L1121.4,944.0 L1123.7,943.4 L1125.9,942.9 L1128.2,942.2 L1130.4,938.8 L1132.7,935.8 L1134.9,933.3 L1137.7,931.0 L1140.5,928.5 L1143.3,933.8 L1146.1,937.8 L1148.4,937.9 L1150.6,939.0 L1152.9,940.2 L1155.1,945.3 L1157.4,951.4 L1159.6,960.6 L1161.9,971.1 L1164.7,966.1 L1167.5,960.2 L1170.3,961.4 L1173.1,962.0 L1175.3,963.9 L1177.6,965.4 L1179.8,966.6 L1182.1,969.3 L1184.3,971.4 L1186.6,974.2 L1188.8,980.4 L1191.1,987.0 L1193.3,993.3 L1195.5,999.0 L1197.8,1005.3 L1200.0,1004.6 L1202.3,1004.5 L1204.5,1004.6 L1206.8,1005.1 L1209.6,1002.0 L1212.4,998.4 L1215.2,996.4 L1218.0,993.3 L1220.2,997.0 L1222.5,1001.6 L1224.7,1004.8 L1227.5,1009.8 L1230.4,1013.8 L1233.2,1003.5 L1236.0,993.5 L1238.8,981.0 L1241.6,969.6 L1243.8,966.2 L1246.1,962.9 L1248.3,960.1 L1250.9,957.7 L1253.6,955.1 L1256.2,953.8 L1258.4,954.2 L1260.7,955.4 L1262.9,955.6 L1265.2,955.8 L1267.4,955.3 L1269.7,955.1 L1272.5,959.5 L1275.3,962.8 L1278.1,967.2 L1280.9,972.9 L1283.7,965.5 L1286.5,957.6 L1289.3,951.3 L1292.1,944.9 L1294.7,939.9 L1297.4,936.0 L1300.0,930.6 L1302.8,922.9 L1305.6,915.5 L1307.8,917.1 L1310.1,919.5 L1312.3,922.4 L1314.6,928.7 L1316.8,935.8 L1319.1,941.8 L1321.3,937.3 L1323.6,933.0 L1325.8,928.3 L1328.4,925.5 L1331.0,920.9 L1333.7,917.5 L1336.5,919.2 L1339.3,922.0 L1341.5,924.8 L1343.8,927.8 L1346.0,930.4 L1348.3,932.0 L1350.5,934.3 L1352.7,935.2 L1355.0,937.4 L1357.2,939.5 L1359.5,941.9 L1361.7,944.1 L1364.0,932.6 L1366.2,922.1 L1368.5,910.5 L1371.3,894.6 L1374.1,879.5 L1376.9,885.5 L1379.7,892.7" fill="none" stroke="#b03040" stroke-width="1.35" stroke-dasharray="3,1.3"/>
<path d="M816.7,634.8 L818.8,634.1 L820.8,634.3 L822.9,634.7 L824.9,634.2 L827.0,634.9 L829.0,634.5 L831.1,634.1 L833.2,634.4 L835.2,634.6 L837.3,634.4 L839.3,634.7 L841.4,634.1 L843.4,634.8 L845.5,634.4 L847.5,634.6 L849.6,634.6 L851.6,634.4 L853.7,634.4 L855.7,634.8 L857.8,634.9 L859.8,634.8 L861.9,634.6 L863.9,634.3 L866.0,634.1 L868.0,635.0 L870.1,634.7 L872.1,634.8 L874.2,634.3 L876.2,634.6 L879.1,639.5 L881.9,643.8 L884.1,647.7 L886.4,651.5 L888.6,655.8 L890.8,656.6 L893.1,656.5 L895.3,657.1 L897.6,657.3 L899.8,657.8 L902.1,657.9 L904.3,657.6 L906.6,657.6 L908.8,662.0 L911.1,666.2 L913.3,670.5 L915.5,675.2 L917.8,679.8 L920.0,683.4 L922.3,685.0 L924.5,685.7 L926.8,686.5 L929.6,684.0 L932.4,681.4 L934.6,682.0 L936.9,682.0 L939.1,681.8 L941.9,685.4 L944.7,688.2 L947.5,693.6 L950.4,699.7 L952.6,700.7 L954.8,700.8 L957.1,702.1 L959.9,699.5 L962.7,696.0 L965.5,696.9 L968.3,697.5 L971.1,699.6 L973.9,701.6 L976.2,697.9 L978.4,694.6 L980.7,690.9 L982.9,686.1 L985.2,681.2 L987.4,682.0 L989.7,681.9 L991.9,681.4 L994.1,681.7 L996.4,685.0 L998.6,688.0 L1000.9,690.7 L1003.1,698.5 L1005.4,706.4 L1007.6,712.8 L1009.9,719.5 L1012.1,724.0 L1014.4,729.0 L1017.2,726.4 L1020.0,724.4 L1022.2,717.5 L1024.5,710.9 L1026.7,710.5 L1029.0,710.4 L1031.2,709.1 L1033.4,706.2 L1036.8,714.9 L1039.1,717.7 L1041.3,720.1 L1043.6,721.7 L1046.4,725.0 L1049.2,727.5 L1051.8,727.7 L1054.4,727.2 L1057.0,727.2 L1059.3,728.2 L1061.5,728.1 L1063.8,727.7 L1066.0,727.8 L1068.6,727.8 L1071.2,728.7 L1073.9,728.7 L1076.7,734.9 L1079.5,740.3 L1081.7,744.5 L1084.0,748.7 L1086.2,752.1 L1088.5,752.3 L1090.7,752.8 L1093.0,753.2 L1095.2,757.6 L1097.4,762.0 L1099.7,767.0 L1101.9,771.8 L1104.2,775.9 L1108.0,773.0 L1110.2,775.3 L1112.5,776.7 L1114.7,777.5 L1116.9,777.6 L1119.2,777.6 L1121.4,778.7 L1123.7,777.1 L1125.9,776.5 L1128.2,775.7 L1130.4,776.1 L1132.7,775.9 L1134.9,775.7 L1137.2,775.9 L1139.4,777.1 L1141.7,779.4 L1143.9,781.0 L1146.1,780.9 L1148.4,781.5 L1150.6,782.5 L1154.0,780.3 L1157.4,792.1 L1159.6,801.1 L1161.9,810.0 L1164.1,820.4 L1166.4,832.4 L1168.6,841.3 L1170.8,850.2 L1173.1,856.2 L1175.3,860.9 L1177.6,860.9 L1179.8,861.6 L1182.1,861.7 L1184.3,862.6 L1186.6,863.3 L1188.8,868.1 L1191.1,872.8 L1193.9,872.7 L1196.7,873.5 L1199.5,869.5 L1202.3,865.4 L1204.5,862.0 L1206.8,858.0 L1209.0,854.3 L1211.3,850.8 L1213.5,848.0 L1216.3,845.7 L1219.1,844.7 L1221.9,849.2 L1224.7,854.1 L1228.1,860.6 L1230.4,853.7 L1232.6,848.3 L1235.4,838.1 L1238.2,828.0 L1240.5,825.0 L1242.7,823.1 L1245.0,830.6 L1247.2,839.3 L1249.4,847.1 L1251.7,854.7 L1253.9,861.3 L1256.2,867.9 L1258.4,871.2 L1260.7,873.6 L1262.9,873.8 L1265.2,873.3 L1267.4,873.4 L1269.7,871.5 L1271.9,870.5 L1274.1,870.3 L1276.4,869.9 L1279.2,871.8 L1282.0,872.3 L1284.8,874.1 L1287.6,875.6 L1289.9,877.9 L1292.1,880.7 L1294.4,882.5 L1297.2,879.5 L1300.0,877.0 L1302.8,872.4 L1305.6,868.4 L1308.4,865.4 L1311.2,864.0 L1313.8,862.4 L1316.4,862.4 L1319.1,861.5 L1321.9,862.1 L1324.7,863.5 L1326.9,870.1 L1329.2,876.8 L1332.0,875.6 L1334.8,874.6 L1337.0,870.8 L1339.3,866.3 L1342.1,850.5 L1344.9,834.0 L1347.7,839.8 L1350.5,846.0 L1353.3,849.6 L1356.1,854.8 L1358.4,849.1 L1360.6,844.6 L1362.8,838.4 L1365.7,844.8 L1368.5,849.9 L1371.3,858.7 L1374.1,867.5 L1376.3,875.1 L1378.6,881.5 L1381.9,892.7" fill="none" stroke="#2233cc" stroke-width="3" stroke-linejoin="round"/>
<path d="M816.7,634.7 L818.8,634.3 L820.8,634.3 L822.9,634.2 L824.9,634.7 L827.0,634.9 L829.0,634.5 L831.1,634.2 L833.1,634.8 L835.2,634.4 L837.2,634.2 L839.3,634.1 L841.3,634.8 L843.4,634.8 L845.4,634.6 L847.4,634.5 L849.5,634.6 L851.5,634.2 L853.6,635.0 L855.6,634.3 L857.7,634.6 L859.7,634.8 L861.8,634.8 L863.8,634.5 L865.9,634.3 L867.9,634.5 L870.0,634.1 L872.0,634.8 L874.1,634.3 L876.1,634.8 L878.2,634.3 L880.2,634.4 L882.3,634.2 L884.3,634.4 L886.4,634.2 L888.6,643.0 L890.8,652.7 L893.1,665.2 L895.3,678.0 L897.6,679.5 L899.8,681.2 L902.1,681.1 L904.3,681.3 L906.6,681.4 L908.8,681.1 L911.1,680.3 L913.3,678.9 L915.5,676.7 L917.8,678.6 L920.0,679.8 L922.8,685.3 L925.7,690.3 L928.5,696.0 L931.3,700.9 L934.1,695.2 L936.9,690.1 L939.7,687.2 L942.5,682.9 L945.3,686.5 L948.1,690.2 L950.9,694.8 L953.7,699.3 L956.5,698.8 L959.3,697.2 L962.1,692.5 L965.0,688.8 L968.3,688.7 L971.1,697.0 L973.9,706.7 L976.2,711.5 L978.4,716.7 L980.7,713.3 L982.9,710.1 L985.2,706.6 L987.4,702.8 L989.7,698.2 L992.3,698.7 L994.9,698.5 L997.5,698.7 L1000.3,704.6 L1003.1,711.2 L1005.9,716.5 L1008.7,721.8 L1011.0,722.4 L1013.2,722.8 L1016.0,720.9 L1018.8,718.3 L1021.7,718.1 L1024.5,717.2 L1026.7,722.1 L1029.0,726.6 L1031.8,734.5 L1034.6,742.6 L1036.8,747.0 L1039.1,753.1 L1041.3,758.0 L1044.1,765.9 L1046.9,773.9 L1049.7,775.2 L1052.5,775.8 L1054.8,783.7 L1057.0,792.1 L1059.8,800.2 L1062.6,809.8 L1065.4,810.9 L1068.3,811.4 L1070.5,810.9 L1072.7,809.8 L1075.6,814.6 L1078.4,818.5 L1080.6,818.6 L1082.8,817.5 L1085.7,810.2 L1088.5,803.3 L1090.7,796.3 L1093.0,790.8 L1095.2,796.9 L1097.4,802.8 L1099.7,820.1 L1101.9,836.5 L1104.2,851.2 L1106.4,865.8 L1110.2,878.4 L1113.0,879.5 L1115.8,881.5 L1118.6,885.9 L1121.4,890.6 L1123.7,890.1 L1125.9,888.8 L1128.2,888.6 L1131.0,885.9 L1133.8,883.8 L1136.6,880.2 L1139.4,877.0 L1141.7,882.0 L1143.9,886.2 L1146.1,887.0 L1148.4,887.3 L1150.6,888.1 L1152.9,888.1 L1155.1,888.3 L1158.5,899.6 L1160.7,910.4 L1163.0,920.4 L1165.2,914.9 L1167.5,908.8 L1170.3,910.2 L1173.1,911.4 L1175.9,913.9 L1178.7,915.8 L1181.5,917.7 L1184.3,920.1 L1187.1,926.5 L1189.9,933.3 L1192.2,941.3 L1194.4,949.3 L1196.7,953.5 L1198.9,958.0 L1201.2,958.0 L1203.4,958.1 L1205.7,958.0 L1207.9,953.6 L1210.1,948.6 L1212.8,947.6 L1215.4,945.8 L1218.0,944.7 L1220.8,949.6 L1223.6,955.3 L1226.4,959.7 L1229.2,964.9 L1231.5,957.2 L1233.7,949.0 L1236.5,938.6 L1239.3,929.0 L1242.1,922.2 L1245.0,915.3 L1247.2,913.8 L1249.4,912.8 L1251.7,908.4 L1253.9,903.8 L1256.2,899.4 L1258.4,901.1 L1260.7,902.9 L1262.9,903.5 L1265.7,902.9 L1268.5,901.3 L1271.3,904.7 L1274.1,908.8 L1277.0,914.2 L1279.8,920.1 L1282.6,912.9 L1285.4,905.7 L1287.6,900.9 L1289.9,895.8 L1292.1,890.9 L1294.4,887.2 L1296.6,883.0 L1298.8,879.2 L1301.5,872.9 L1304.1,867.4 L1306.7,861.0 L1309.5,867.7 L1312.3,874.3 L1315.1,882.1 L1317.9,890.7 L1320.2,885.6 L1322.4,882.0 L1324.7,876.6 L1327.5,874.0 L1330.3,869.9 L1332.5,865.9 L1334.8,862.6 L1337.6,866.1 L1340.4,870.5 L1343.2,873.3 L1346.0,876.6 L1348.3,878.8 L1350.5,880.2 L1352.7,881.9 L1355.0,884.3 L1357.2,886.2 L1359.5,889.2 L1361.7,891.8 L1364.0,879.2 L1366.2,867.4 L1368.5,854.3 L1370.7,841.6 L1373.0,827.8 L1375.2,827.7 L1377.4,828.3 L1379.7,836.2 L1381.9,843.3" fill="none" stroke="#e31a1a" stroke-width="3" stroke-linejoin="round"/>
<path d="M256 3047l5 -4 4 -3 5 1 5 -1 4 2 5 -12 4 -23 5 -22 5 -11 4 -27 5 -14 4 -3 5 4 5 -4 4 3 5 -4 4 2 5 6 5 -7 4 2 5 10 4 -6 5 3 5 13 4 1 5 -3 4 -2 5 1 5 -5 4 -9 5 1 4 -4 5 -4 5 -4 4 -1 5 2 4 -1 5 -6 5 1 4 -2 5 -3 4 -3 5 5 5 3 4 0 5 11 4 -13 5 -3 5 8 4 -10 5 -3 4 -4 5 3 5 -7 4 -14 5 1 4 -7 5 8 5 -8 4 7 5 -1 4 -4 5 -3 5 -13 4 4 5 -7 4 -18 5 -1 5 5 4 -8 5 -3 4 -5 5 -5 5 2 4 -4 5 0 4 -8 5 16 5 5 4 12 5 -8 4 9 5 -12 5 -7 4 6 5 0 4 5 5 -6 5 -15 4 -9 5 14 4 -5 5 -4 5 -6 4 6 5 8 4 3 5 14 5 -4 4 -1 5 -2 4 -7 5 -2 5 -1 4 18 5 0 4 -11 5 -7 5 -4 4 -15 5 4 4 4 5 -1 5 4 4 0 5 -7 4 -12 5 15 5 1 4 -2 5 1 4 -3 5 0 5 -5 4 -6 5 -3 4 -7 5 6 5 1 4 -1 5 3 4 -14 5 -1 5 -2 4 0 5 -5 4 1 5 -3 5 13 4 10 5 5 4 -5 5 17 5 -1 4 2 5 -3 4 5 5 7 5 -10 4 -3 5 -6 4 -2 5 10 5 2 4 -6 5 5 4 -3 5 -1 5 7 4 3 5 4 4 -6 5 -3 5 -1 4 3 5 13 4 6 5 7 5 -2 4 5 5 8 4 2 5 12 5 2 4 11 5 13 4 3 5 5 5 9 4 -1 5 -11 4 18 5 -12 5 11 4 8 5 0 4 7 5 -12 5 -2 4 5 5 1 4 -2 5 0 5 -2 4 5 5 6 4 -14 5 0 5 -13 4 -3 5 8 4 -9 5 -5 5 -2 4 -8 5 -14 4 -2 5 0 5 -4 4 6 5 3 4 -1 5 -12 5 -2 4 -6 5 -9 4 9 5 -1 5 -12 4 5 5 -5 4 -7 5 16 5 -9 4 -5 5 -1 4 4 5 -1 5 7 4 -8 5 -14 4 9 5 -8 5 6 4 20 5 -3 4 2 5 0 5 4 4 -8 5 8 4 3 5 1 5 0 4 -7 5 -6 4 -5" transform="scale(0.5)" fill="none" stroke="#f8c7c7" stroke-width="5.2" stroke-linejoin="round"/>
<path d="M256 3051l5 -1 4 -2 5 2 5 0 4 3 5 2 4 -1 5 -2 5 -1 4 2 5 -2 4 -1 5 2 5 -3 4 2 5 2 4 -3 5 1 5 -1 4 3 5 -1 4 1 5 -1 5 3 4 -3 5 -1 4 -1 5 0 5 3 4 0 5 1 4 2 5 -1 5 1 4 1 5 1 4 1 5 2 5 2 4 -4 5 -1 4 1 5 -3 5 1 4 2 5 1 4 2 5 -1 5 -3 4 -1 5 -1 4 0 5 2 5 -1 4 2 5 -2 4 -4 5 0 5 2 4 -1 5 1 4 -1 5 1 5 1 4 4 5 1 4 -2 5 0 5 1 4 1 5 -1 4 -1 5 -1 5 -1 4 0 5 1 4 -4 5 -1 5 3 4 -1 5 1 4 -3 5 2 5 -3 4 0 5 4 4 -1 5 -3 5 1 4 -2 5 3 4 -2 5 0 5 -2 4 1 5 1 4 -3 5 -5 5 0 4 -3 5 1 4 0 5 0 5 -1 4 2 5 0 4 2 5 3 5 -2 4 -1 5 3 4 -1 5 0 5 3 4 -2 5 0 4 -1 5 -3 5 -1 4 0 5 4 4 2 5 -2 5 1 4 -1 5 2 4 0 5 -1 5 -3 4 2 5 -1 4 0 5 -3 5 3 4 -2 5 2 4 -1 5 1 5 1 4 1 5 2 4 -1 5 -1 5 0 4 0 5 -3 4 -2 5 5 5 -5 4 -7 5 -2 4 -6 5 -3 5 -10 4 -15 5 -6 4 -8 5 -8 5 2 4 -1 5 -12 4 -4 5 -3 5 -11 4 -1 5 -12 4 -7 5 -4 5 8 4 -6 5 10 4 -5 5 8 5 -3 4 2 5 8 4 6 5 -2 5 5 4 2 5 5 4 -2 5 5 5 -5 4 4 5 1 4 -10 5 -8 5 3 4 3 5 -2 4 4 5 -4 5 -10 4 0 5 -5 4 -4 5 -3 5 -7 4 -6 5 6 4 -1 5 -13 5 2 4 0 5 -10 4 -3 5 1 5 -8 4 2 5 -4 4 -7 5 -2 5 -3 4 -4 5 1 4 -13 5 2 5 -3 4 -8 5 2 4 -5 5 -3 5 10 4 1 5 -2 4 -4 5 -6 5 3 4 -5 5 1 4 7 5 -4 5 0 4 4 5 5 4 -3 5 1 5 8 4 -3 5 -1 4 5 5 9 5 5 4 -6 5 4 4 -2" transform="scale(0.5)" fill="none" stroke="#f5b6b6" stroke-width="5.2" stroke-linejoin="round"/>
<path d="M256 3043l5 4 4 -1 5 -2 5 1 4 1 5 -5 4 2 5 -1 5 1 4 0 5 -1 4 1 5 0 5 -3 4 -3 5 4 4 5 5 -10 5 -4 4 1 5 2 4 3 5 -5 5 7 4 -1 5 -2 4 0 5 2 5 3 4 -5 5 4 4 3 5 -2 5 -4 4 0 5 0 4 2 5 3 5 -1 4 0 5 -1 4 4 5 -1 5 2 4 0 5 -1 4 -4 5 4 5 -1 4 1 5 0 4 0 5 -2 5 2 4 0 5 -3 4 2 5 0 5 1 4 8 5 -2 4 -2 5 -2 5 4 4 -1 5 0 4 -2 5 -1 5 4 4 -6 5 6 4 -2 5 -2 5 -3 4 -3 5 0 4 -1 5 2 5 -1 4 5 5 0 4 3 5 0 5 -1 4 -3 5 3 4 4 5 -3 5 -2 4 -3 5 1 4 1 5 2 5 1 4 4 5 1 4 1 5 0 5 0 4 0 5 -1 4 -3 5 -2 5 1 4 0 5 1 4 4 5 -1 5 -2 4 -4 5 0 4 3 5 -1 5 4 4 0 5 2 4 -4 5 -1 5 -3 4 2 5 3 4 -5 5 0 5 -6 4 -6 5 0 4 -6 5 -6 5 2 4 5 5 8 4 3 5 -1 5 1 4 2 5 5 4 -4 5 -4 5 -5 4 2 5 -6 4 0 5 0 5 3 4 7 5 1 4 -1 5 4 5 0 4 1 5 0 4 1 5 0 5 -26 4 -21 5 -28 4 -11 5 -26 5 3 4 -5 5 -7 4 1 5 -1 5 -2 4 -14 5 2 4 -2 5 4 5 -4 4 -11 5 -1 4 -4 5 -15 5 -1 4 -3 5 2 4 3 5 -5 5 -11 4 -25 5 -14 4 -20 5 -13 5 -26 4 -9 5 -4 4 -17 5 -16 5 -15 4 -11 5 3 4 0 5 15 5 -6 4 -8 5 -12 4 -4 5 13 5 -1 4 6 5 -5 4 12 5 -6 5 5 4 -1 5 7 4 -5 5 3 5 4 4 -4 5 8 4 -20 5 7 5 6 4 5 5 11 4 17 5 -3 5 -3 4 3 5 -2 4 11 5 -2 5 -5 4 -5 5 -1 4 12 5 -7 5 8 4 -2 5 6 4 2 5 12 5 -7 4 0 5 -3 4 7 5 -5 5 2 4 6 5 -11 4 -12 5 -8 5 4 4 -2 5 -9 4 -3" transform="scale(0.5)" fill="none" stroke="#f09696" stroke-width="5.2" stroke-linejoin="round"/>
<path d="M256 3043l5 2 4 1 5 0 5 -1 4 0 5 -3 4 1 5 2 5 -18 4 -19 5 -19 4 -14 5 -2 5 -1 4 -7 5 2 4 -3 5 -2 5 0 4 -2 5 0 4 3 5 4 5 6 4 -4 5 1 4 3 5 -7 5 3 4 -1 5 3 4 -3 5 0 5 3 4 -9 5 -2 4 -7 5 5 5 -4 4 3 5 4 4 -6 5 -7 5 0 4 1 5 -1 4 0 5 2 5 1 4 -3 5 7 4 -6 5 -5 5 -3 4 -5 5 -1 4 -8 5 -1 5 1 4 -7 5 -4 4 2 5 -1 5 -4 4 -3 5 -6 4 8 5 0 5 -2 4 0 5 5 4 -8 5 -2 5 0 4 6 5 2 4 6 5 -4 5 4 4 -9 5 3 4 -1 5 -14 5 -2 4 1 5 -5 4 4 5 -2 5 -1 4 -13 5 -4 4 -4 5 3 5 0 4 8 5 -1 4 9 5 -8 5 11 4 -6 5 -1 4 16 5 0 5 -9 4 3 5 13 4 3 5 8 5 4 4 0 5 -7 4 -1 5 0 5 3 4 -4 5 -6 4 5 5 -8 5 4 4 0 5 -6 4 -8 5 6 5 1 4 -4 5 1 4 3 5 1 5 2 4 2 5 -1 4 3 5 -1 5 13 4 7 5 -8 4 2 5 7 5 1 4 -1 5 5 4 -2 5 7 5 5 4 1 5 -3 4 8 5 -3 5 -5 4 6 5 3 4 -6 5 -1 5 5 4 -1 5 4 4 -14 5 11 5 0 4 6 5 -4 4 -8 5 -2 5 -6 4 0 5 -11 4 0 5 5 5 -6 4 1 5 -4 4 -6 5 1 5 5 4 6 5 2 4 -8 5 -1 5 -3 4 5 5 8 4 9 5 -6 5 2 4 5 5 8 4 0 5 -4 5 -6 4 -10 5 -4 4 2 5 2 5 -5 4 -5 5 -6 4 1 5 0 5 2 4 -7 5 1 4 1 5 -2 5 -11 4 -4 5 -7 4 1 5 2 5 -8 4 -12 5 0 4 5 5 -8 5 -6 4 -5 5 1 4 -2 5 -5 5 -8 4 -5 5 2 4 0 5 2 5 -8 4 5 5 2 4 -2 5 1 5 -3 4 2 5 0 4 2 5 1 5 -1 4 0 5 -16 4 11 5 5 5 0 4 5 5 -3 4 2 5 2 5 1 4 10 5 -4 4 -5" transform="scale(0.5)" fill="none" stroke="#ee7472" stroke-width="5.2" stroke-linejoin="round"/>
<path d="M256 3043l5 1 4 -2 5 0 5 3 4 -4 5 4 4 -4 5 4 5 -2 4 0 5 1 4 -5 5 -3 5 -1 4 6 5 3 4 -1 5 6 5 0 4 -2 5 -4 4 0 5 0 5 -4 4 1 5 6 4 0 5 -3 5 -2 4 0 5 -2 4 2 5 -3 5 -7 4 1 5 -2 4 1 5 2 5 -6 4 3 5 -1 4 2 5 -1 5 1 4 -4 5 3 4 0 5 -5 5 10 4 2 5 2 4 -4 5 -5 5 3 4 -1 5 5 4 -2 5 0 5 -1 4 6 5 1 4 2 5 1 5 1 4 -5 5 0 4 -2 5 4 5 -3 4 -6 5 0 4 0 5 -2 5 2 4 3 5 0 4 -1 5 2 5 3 4 -1 5 -2 4 -4 5 8 5 3 4 -4 5 -20 4 -30 5 -27 5 -43 4 -27 5 -11 4 -15 5 -3 5 -10 4 -6 5 -12 4 -7 5 6 5 -12 4 3 5 -1 4 -18 5 -11 5 -14 4 -3 5 -9 4 4 5 10 5 -12 4 2 5 -6 4 6 5 -3 5 0 4 5 5 10 4 3 5 -13 5 -4 4 4 5 2 4 -1 5 -15 5 9 4 4 5 1 4 4 5 -6 5 -18 4 -3 5 -1 4 -3 5 -5 5 0 4 -9 5 -3 4 -6 5 -9 5 0 4 7 5 -10 4 -12 5 -22 5 -9 4 -6 5 -2 4 -6 5 -8 5 4 4 -6 5 2 4 -3 5 2 5 -4 4 0 5 -1 4 -16 5 0 5 -2 4 -16 5 6 4 -20 5 3 5 1 4 7 5 -10 4 0 5 -4 5 -4 4 -2 5 -1 4 6 5 -13 5 3 4 0 5 -4 4 2 5 11 5 1 4 17 5 0 4 -3 5 3 5 -4 4 3 5 -9 4 -9 5 5 5 7 4 3 5 6 4 2 5 8 5 10 4 -2 5 -13 4 13 5 -6 5 6 4 -8 5 -8 4 -12 5 6 5 10 4 12 5 -6 4 -3 5 -1 5 -12 4 -5 5 -3 4 -2 5 13 5 -11 4 18 5 -1 4 10 5 -6 5 2 4 -1 5 4 4 1 5 -1 5 -10 4 4 5 -18 4 2 5 5 5 -10 4 3 5 3 4 5 5 -7 5 10 4 1 5 -4 4 3 5 8 5 -5 4 -19 5 -11 4 -8 5 1 5 13 4 -8 5 -6 4 2" transform="scale(0.5)" fill="none" stroke="#ed6967" stroke-width="5.2" stroke-linejoin="round"/>
<path d="M256 3043l5 -6 4 6 5 -2 5 1 4 1 5 0 4 3 5 2 5 0 4 -3 5 -2 4 -7 5 -25 5 -25 4 -22 5 -12 4 1 5 1 5 -7 4 -2 5 -2 4 3 5 -3 5 2 4 -4 5 -4 4 -6 5 -3 5 6 4 5 5 0 4 5 5 -3 5 1 4 1 5 -2 4 2 5 1 5 -48 4 -48 5 -24 4 -18 5 -8 5 -5 4 -6 5 1 4 -2 5 -5 5 1 4 -9 5 -4 4 6 5 3 5 7 4 3 5 -6 4 -8 5 5 5 4 4 -7 5 -6 4 3 5 -2 5 12 4 -10 5 2 4 -5 5 -2 5 2 4 -8 5 6 4 -2 5 0 5 1 4 6 5 4 4 4 5 10 5 -7 4 -5 5 7 4 0 5 3 5 13 4 -13 5 4 4 2 5 -4 5 6 4 -6 5 3 4 -2 5 2 5 -3 4 -6 5 3 4 1 5 1 5 -10 4 -10 5 4 4 12 5 -2 5 1 4 -7 5 -9 4 3 5 -10 5 3 4 -5 5 5 4 -17 5 -11 5 5 4 -2 5 -6 4 -5 5 10 5 -3 4 -14 5 1 4 4 5 -3 5 11 4 -5 5 -6 4 -2 5 -4 5 -3 4 6 5 -5 4 8 5 -4 5 12 4 8 5 -14 4 -6 5 1 5 0 4 -4 5 -5 4 11 5 1 5 -3 4 -9 5 -10 4 6 5 -14 5 12 4 5 5 12 4 11 5 -6 5 9 4 9 5 -3 4 -5 5 7 5 -4 4 -5 5 -7 4 -10 5 -1 5 1 4 -7 5 -9 4 9 5 -8 5 -3 4 4 5 -10 4 -13 5 -13 5 3 4 -1 5 -13 4 13 5 -22 5 -9 4 10 5 -12 4 -3 5 -10 5 -1 4 6 5 0 4 -10 5 3 5 3 4 -1 5 -10 4 -8 5 -10 5 1 4 -1 5 0 4 -5 5 6 5 4 4 -5 5 -13 4 7 5 6 5 -9 4 4 5 -17 4 6 5 2 5 2 4 0 5 -5 4 1 5 4 5 -12 4 -2 5 7 4 3 5 2 5 -12 4 9 5 -2 4 1 5 -4 5 3 4 -2 5 3 4 7 5 -4 5 -2 4 10 5 -1 4 -15 5 6 5 -1 4 9 5 -8 4 7 5 -2 5 6 4 1 5 -2 4 -1 5 0 5 0 4 2 5 -6 4 -6" transform="scale(0.5)" fill="none" stroke="#ec524e" stroke-width="5.2" stroke-linejoin="round"/>
<path d="M256 3043l5 0 4 -1 5 3 5 -5 4 -1 5 0 4 1 5 5 5 0 4 -17 5 -27 4 -22 5 -28 5 6 4 -3 5 8 4 -4 5 -1 5 3 4 9 5 -2 4 -2 5 -2 5 9 4 -3 5 -1 4 -4 5 3 5 -6 4 -2 5 4 4 -5 5 -6 5 1 4 -8 5 -2 4 -8 5 -7 5 -13 4 -2 5 -2 4 10 5 -13 5 0 4 0 5 3 4 2 5 -21 5 -1 4 3 5 -1 4 3 5 15 5 15 4 1 5 -3 4 6 5 -3 5 -4 4 -4 5 4 4 5 5 -4 5 -1 4 8 5 -16 4 -27 5 -22 5 -34 4 -10 5 -18 4 -9 5 -15 5 -20 4 -4 5 -1 4 -4 5 9 5 3 4 8 5 0 4 -4 5 -8 5 3 4 1 5 1 4 -2 5 6 5 -5 4 6 5 -3 4 -2 5 10 5 3 4 -6 5 -7 4 -2 5 16 5 -8 4 4 5 -1 4 -4 5 -4 5 0 4 1 5 -3 4 0 5 1 5 -5 4 2 5 1 4 -10 5 7 5 -2 4 -16 5 -4 4 3 5 1 5 1 4 -2 5 -2 4 -14 5 4 5 -4 4 7 5 3 4 5 5 5 5 -5 4 -6 5 -8 4 8 5 13 5 4 4 2 5 2 4 -10 5 -2 5 5 4 7 5 9 4 3 5 -13 5 -3 4 -15 5 3 4 9 5 -14 5 -1 4 -4 5 -4 4 3 5 3 5 16 4 9 5 -5 4 -1 5 -9 5 12 4 -12 5 -8 4 -1 5 1 5 3 4 2 5 -5 4 3 5 -8 5 -7 4 7 5 -6 4 -2 5 -10 5 2 4 -3 5 -6 4 6 5 -12 5 3 4 -8 5 1 4 11 5 -5 5 3 4 -17 5 12 4 0 5 -3 5 1 4 0 5 -6 4 9 5 2 5 7 4 -10 5 -4 4 2 5 -7 5 0 4 1 5 1 4 -7 5 6 5 5 4 9 5 1 4 6 5 -6 5 4 4 3 5 -14 4 -3 5 1 5 -2 4 10 5 -6 4 2 5 6 5 -12 4 -4 5 -14 4 0 5 -2 5 10 4 -4 5 -5 4 0 5 4 5 5 4 6 5 -1 4 0 5 -5 5 -4 4 -9 5 -7 4 -10 5 -10 5 -16 4 3 5 -1 4 12 5 -14 5 0 4 15 5 -1 4 2" transform="scale(0.5)" fill="none" stroke="#e83632" stroke-width="5.2" stroke-linejoin="round"/>
<path d="M256 3043l5 -1 4 2 5 5 5 -1 4 0 5 -1 4 -1 5 5 5 -1 4 -6 5 -3 4 0 5 3 5 -4 4 -1 5 -1 4 3 5 1 5 1 4 0 5 -4 4 0 5 3 5 0 4 -2 5 -5 4 -1 5 -1 5 4 4 -1 5 0 4 -4 5 1 5 2 4 2 5 -1 4 -4 5 1 5 0 4 1 5 3 4 2 5 1 5 4 4 -3 5 -3 4 1 5 2 5 -2 4 2 5 -3 4 4 5 1 5 2 4 -1 5 1 4 1 5 -1 5 3 4 -7 5 -4 4 1 5 1 5 -1 4 4 5 -1 4 -4 5 0 5 1 4 -5 5 2 4 -1 5 3 5 -2 4 -2 5 -2 4 -1 5 1 5 0 4 -1 5 -4 4 2 5 3 5 -1 4 1 5 1 4 3 5 -1 5 4 4 2 5 2 4 -1 5 3 5 0 4 0 5 -1 4 3 5 1 5 0 4 -1 5 -3 4 -6 5 2 5 4 4 -1 5 2 4 2 5 3 5 0 4 0 5 2 4 3 5 -3 5 3 4 1 5 1 4 -3 5 -3 5 1 4 -5 5 -1 4 -3 5 -1 5 4 4 -2 5 -1 4 2 5 -3 5 -1 4 -1 5 -1 4 -3 5 1 5 4 4 1 5 -2 4 1 5 1 5 -5 4 0 5 1 4 5 5 4 5 2 4 1 5 -1 4 -3 5 1 5 -4 4 0 5 7 4 2 5 -1 5 -1 4 3 5 0 4 2 5 0 5 -3 4 6 5 -1 4 -4 5 -2 5 3 4 -1 5 3 4 -1 5 -4 5 1 4 -2 5 1 4 -1 5 5 5 -4 4 -3 5 -2 4 0 5 4 5 -6 4 -5 5 -5 4 1 5 -1 5 1 4 1 5 -16 4 -30 5 -40 5 -37 4 -35 5 -27 4 -11 5 -9 5 -8 4 -11 5 3 4 11 5 -7 5 -9 4 -3 5 0 4 -10 5 0 5 -10 4 -6 5 4 4 2 5 4 5 7 4 1 5 0 4 -1 5 8 5 -7 4 -8 5 -2 4 -5 5 0 5 -3 4 1 5 14 4 0 5 12 5 5 4 0 5 7 4 12 5 13 5 1 4 -8 5 3 4 8 5 6 5 9 4 -4 5 8 4 -1 5 11 5 -4 4 4 5 14 4 5 5 2 5 1 4 15 5 1 4 2" transform="scale(0.5)" fill="none" stroke="#e83632" stroke-width="5.2" stroke-linejoin="round"/>
<path d="M256 3043l5 -7 4 -1 5 -1 5 4 4 1 5 3 4 -1 5 0 5 1 4 -1 5 0 4 -2 5 5 5 2 4 1 5 1 4 -2 5 -3 5 2 4 -6 5 1 4 0 5 -2 5 2 4 -4 5 7 4 -1 5 0 5 -1 4 3 5 -1 4 -2 5 -3 5 -1 4 -3 5 0 4 0 5 3 5 2 4 1 5 -3 4 3 5 -2 5 2 4 1 5 5 4 -2 5 1 5 2 4 1 5 -2 4 2 5 -1 5 -1 4 -2 5 1 4 -2 5 3 5 -1 4 -4 5 0 4 -2 5 1 5 -1 4 1 5 0 4 -4 5 -4 5 -1 4 4 5 -3 4 10 5 -4 5 0 4 2 5 -4 4 2 5 -1 5 5 4 -3 5 -2 4 0 5 0 5 -1 4 5 5 -2 4 2 5 -3 5 1 4 0 5 -2 4 -4 5 2 5 -2 4 1 5 5 4 5 5 -1 5 3 4 -2 5 1 4 -1 5 3 5 -2 4 0 5 -1 4 0 5 0 5 -1 4 1 5 -1 4 1 5 2 5 3 4 -1 5 3 4 -5 5 -3 5 2 4 5 5 -4 4 0 5 2 5 5 4 3 5 -5 4 -2 5 5 5 0 4 1 5 5 4 1 5 -2 5 -3 4 2 5 -1 4 -12 5 -11 5 -6 4 -13 5 -6 4 8 5 -2 5 5 4 2 5 5 4 1 5 -4 5 4 4 4 5 4 4 5 5 7 5 1 4 0 5 -1 4 0 5 -1 5 -3 4 5 5 1 4 2 5 -3 5 -29 4 -29 5 -29 4 -31 5 -32 5 -3 4 -16 5 4 4 -5 5 -21 5 4 4 -5 5 -9 4 0 5 -5 5 -10 4 6 5 -11 4 -11 5 -2 5 -14 4 -8 5 -8 4 -10 5 -10 5 -6 4 -11 5 -16 4 -6 5 -10 5 -15 4 -3 5 4 4 -3 5 5 5 -8 4 -4 5 -4 4 1 5 0 5 4 4 2 5 -1 4 5 5 -14 5 1 4 -4 5 2 4 6 5 -1 5 -11 4 -7 5 -4 4 2 5 -4 5 -14 4 10 5 -3 4 -18 5 4 5 -5 4 3 5 -4 4 -12 5 -10 5 1 4 -8 5 0 4 -10 5 -1 5 0 4 8 5 0 4 14 5 -3 5 -6 4 4 5 -20 4 16 5 1 5 5 4 4 5 -5 4 7" transform="scale(0.5)" fill="none" stroke="#e62b29" stroke-width="5.2" stroke-linejoin="round"/>
<path d="M256 3043l5 -1 4 -3 5 -1 5 2 4 4 5 0 4 -3 5 -2 5 1 4 -2 5 3 4 0 5 4 5 -1 4 -2 5 -1 4 -6 5 2 5 -1 4 2 5 -5 4 1 5 3 5 -9 4 3 5 2 4 0 5 -5 5 3 4 -1 5 3 4 4 5 1 5 -38 4 -22 5 -15 4 -24 5 -9 5 5 4 -16 5 4 4 1 5 -10 5 1 4 1 5 -4 4 -5 5 -8 5 15 4 2 5 2 4 2 5 15 5 -6 4 -4 5 3 4 -15 5 0 5 3 4 19 5 -2 4 1 5 -1 5 -6 4 -1 5 11 4 -4 5 0 5 10 4 -6 5 1 4 -7 5 8 5 -7 4 -5 5 -12 4 -7 5 -13 5 -3 4 -1 5 -1 4 0 5 8 5 7 4 -2 5 -5 4 -1 5 20 5 3 4 2 5 -9 4 1 5 -3 5 7 4 4 5 -6 4 1 5 -4 5 2 4 -8 5 12 4 -4 5 5 5 3 4 -9 5 -13 4 3 5 -4 5 -9 4 2 5 2 4 -19 5 -1 5 -5 4 -4 5 0 4 -16 5 5 5 3 4 -9 5 0 4 -7 5 -9 5 2 4 -8 5 -14 4 14 5 -10 5 7 4 -4 5 -5 4 -4 5 1 5 -13 4 -7 5 14 4 5 5 6 5 -13 4 5 5 -13 4 3 5 10 5 7 4 -2 5 -20 4 3 5 -2 5 -2 4 -2 5 -10 4 -7 5 2 5 0 4 -5 5 -23 4 7 5 -3 5 -5 4 -7 5 2 4 -8 5 -19 5 2 4 -1 5 3 4 -2 5 -14 5 10 4 8 5 -6 4 -5 5 -5 5 5 4 10 5 -12 4 3 5 3 5 -7 4 3 5 2 4 -7 5 0 5 -5 4 -13 5 5 4 -8 5 -1 5 7 4 3 5 -3 4 5 5 -5 5 -2 4 0 5 -3 4 -7 5 -7 5 -7 4 2 5 0 4 -7 5 0 5 1 4 -5 5 -11 4 10 5 2 5 3 4 -4 5 -7 4 -2 5 -7 5 -12 4 8 5 0 4 11 5 -1 5 1 4 5 5 -9 4 -6 5 14 5 -5 4 0 5 4 4 10 5 -6 5 -7 4 -14 5 1 4 -2 5 6 5 -1 4 0 5 6 4 2 5 -5 5 -4 4 -10 5 4 4 -10 5 2 5 16 4 5 5 0 4 5" transform="scale(0.5)" fill="none" stroke="#a8070a" stroke-width="5.2" stroke-linejoin="round"/>
<path d="M256 3043l5 5 4 -2 5 -4 5 0 4 -7 5 0 4 3 5 5 5 -1 4 -3 5 3 4 -1 5 -3 5 -1 4 -2 5 2 4 2 5 -2 5 -19 4 -18 5 -20 4 -15 5 4 5 -10 4 -5 5 -2 4 6 5 -6 5 -3 4 3 5 -4 4 -5 5 0 5 -3 4 5 5 -7 4 2 5 1 5 1 4 -6 5 6 4 0 5 0 5 -7 4 -10 5 -5 4 0 5 -3 5 -2 4 -8 5 -6 4 -2 5 0 5 1 4 -1 5 5 4 3 5 3 5 -2 4 -5 5 -9 4 -13 5 -1 5 3 4 -9 5 -6 4 -1 5 6 5 5 4 1 5 -2 4 2 5 3 5 5 4 7 5 4 4 -7 5 -3 5 -6 4 8 5 -3 4 -13 5 -1 5 0 4 -5 5 2 4 7 5 -8 5 7 4 0 5 10 4 -12 5 -3 5 6 4 2 5 -7 4 -13 5 -8 5 -6 4 4 5 -4 4 0 5 4 5 6 4 5 5 -4 4 9 5 5 5 -11 4 -1 5 -8 4 -7 5 1 5 6 4 3 5 5 4 -3 5 -8 5 -4 4 5 5 2 4 -6 5 0 5 -1 4 -2 5 5 4 -3 5 -5 5 -1 4 -8 5 -3 4 0 5 -1 5 -2 4 -3 5 -4 4 0 5 8 5 -6 4 3 5 -14 4 -1 5 3 5 14 4 7 5 -6 4 -19 5 -113 5 -57 4 -1 5 -1 4 5 5 -3 5 6 4 2 5 -3 4 -9 5 8 5 18 4 4 5 -2 4 -3 5 1 5 -4 4 -7 5 7 4 3 5 9 5 8 4 -12 5 5 4 8 5 10 5 -11 4 8 5 7 4 -4 5 -8 5 -10 4 3 5 -1 4 -5 5 0 5 -5 4 3 5 -3 4 5 5 2 5 2 4 -1 5 3 4 6 5 0 5 -1 4 8 5 -3 4 3 5 -5 5 -6 4 -16 5 3 4 4 5 -6 5 -7 4 4 5 -17 4 20 5 -3 5 -11 4 -6 5 6 4 -5 5 -2 5 3 4 8 5 8 4 -8 5 0 5 5 4 4 5 0 4 11 5 -10 5 -5 4 6 5 -9 4 -12 5 -5 5 4 4 -3 5 -6 4 0 5 -5 5 -11 4 5 5 1 4 -5 5 -8 5 13 4 17 5 7 4 2 5 6 5 -3 4 -8 5 15 4 1" transform="scale(0.5)" fill="none" stroke="#e62b29" stroke-width="5.2" stroke-linejoin="round"/>
<path d="M256 3043l5 0 4 4 5 1 5 -6 4 4 5 2 4 6 5 0 5 0 4 -1 5 -3 4 5 5 -2 5 -2 4 -1 5 0 4 4 5 -2 5 0 4 -7 5 -4 4 -3 5 -2 5 -1 4 2 5 0 4 0 5 1 5 -1 4 5 5 -3 4 1 5 -4 5 -4 4 -1 5 -5 4 5 5 5 5 3 4 -2 5 4 4 -2 5 -5 5 0 4 -2 5 -1 4 -3 5 -1 5 5 4 1 5 1 4 0 5 1 5 -37 4 -40 5 -39 4 -27 5 1 5 13 4 2 5 -15 4 -1 5 -6 5 -3 4 -5 5 -7 4 11 5 -1 5 -7 4 5 5 7 4 15 5 0 5 5 4 -2 5 -6 4 -6 5 3 5 6 4 0 5 -7 4 5 5 2 5 16 4 -3 5 8 4 14 5 19 5 18 4 12 5 14 4 24 5 16 5 -2 4 -2 5 -5 4 3 5 -3 5 -43 4 -51 5 -24 4 4 5 6 5 -6 4 -10 5 4 4 -10 5 -6 5 3 4 -3 5 8 4 -7 5 20 5 -13 4 -23 5 -27 4 -33 5 -30 5 -39 4 -24 5 -6 4 11 5 6 5 -3 4 -4 5 2 4 8 5 8 5 3 4 -6 5 11 4 8 5 -10 5 8 4 4 5 2 4 1 5 1 5 13 4 6 5 3 4 4 5 6 5 -4 4 -7 5 -1 4 -10 5 -12 5 -5 4 4 5 -19 4 7 5 -14 5 -12 4 -18 5 -12 4 3 5 -16 5 -5 4 -12 5 2 4 4 5 -7 5 -1 4 1 5 -3 4 -7 5 1 5 -5 4 -14 5 4 4 -2 5 10 5 -5 4 13 5 -2 4 -2 5 3 5 1 4 -3 5 -12 4 -5 5 0 5 5 4 2 5 -1 4 -6 5 0 5 -6 4 -1 5 8 4 11 5 3 5 2 4 3 5 1 4 8 5 6 5 -1 4 -6 5 8 4 -7 5 -6 5 -4 4 1 5 -2 4 3 5 2 5 6 4 -7 5 -7 4 -1 5 -4 5 -5 4 -5 5 9 4 2 5 -6 5 -6 4 -4 5 11 4 -4 5 3 5 1 4 -9 5 6 4 0 5 8 5 3 4 1 5 11 4 -4 5 -1 5 7 4 -5 5 5 4 10 5 -1 5 5 4 1 5 2 4 4 5 -4 5 -1 4 -7 5 1 4 6" transform="scale(0.5)" fill="none" stroke="#db1414" stroke-width="5.2" stroke-linejoin="round"/>
<path d="M256 3043l5 -2 4 -1 5 2 5 0 4 -1 5 0 4 2 5 1 5 -1 4 -3 5 2 4 -1 5 4 5 0 4 0 5 0 4 -3 5 0 5 2 4 3 5 0 4 -2 5 -1 5 1 4 1 5 -5 4 -1 5 -1 5 1 4 -2 5 4 4 0 5 -1 5 0 4 0 5 1 4 2 5 -1 5 2 4 1 5 -1 4 -2 5 1 5 -2 4 1 5 0 4 2 5 -4 5 2 4 0 5 0 4 -1 5 3 5 -1 4 0 5 1 4 1 5 -1 5 -1 4 -2 5 1 4 -2 5 1 5 -2 4 0 5 -2 4 4 5 -1 5 2 4 1 5 -2 4 -1 5 -2 5 -1 4 0 5 0 4 -1 5 3 5 0 4 1 5 0 4 -2 5 -1 5 1 4 2 5 1 4 1 5 0 5 1 4 -1 5 2 4 1 5 -1 5 1 4 1 5 -1 4 0 5 1 5 1 4 1 5 0 4 -2 5 0 5 -2 4 -2 5 2 4 -1 5 -1 5 1 4 3 5 0 4 2 5 -2 5 -2 4 3 5 -1 4 -1 5 0 5 -2 4 0 5 0 4 0 5 0 5 2 4 -2 5 1 4 0 5 2 5 0 4 -1 5 -1 4 0 5 2 5 3 4 -1 5 2 4 0 5 -4 5 0 4 1 5 1 4 -2 5 -2 5 -1 4 2 5 2 4 -2 5 3 5 -1 4 -1 5 0 4 -1 5 0 5 -1 4 0 5 0 4 -1 5 -1 5 -1 4 2 5 -2 4 1 5 -2 5 -1 4 -2 5 2 4 0 5 3 5 0 4 -1 5 2 4 -1 5 -1 5 1 4 1 5 3 4 0 5 -1 5 -1 4 -1 5 0 4 1 5 0 5 0 4 0 5 -2 4 -1 5 -1 5 -2 4 -2 5 -1 4 0 5 2 5 3 4 3 5 -1 4 -2 5 1 5 0 4 -3 5 -1 4 -3 5 0 5 -1 4 2 5 0 4 0 5 -1 5 2 4 1 5 2 4 -2 5 1 5 0 4 -1 5 -1 4 -1 5 1 5 0 4 -1 5 3 4 1 5 -1 5 0 4 -1 5 0 4 -1 5 1 5 1 4 -1 5 1 4 2 5 -2 5 1 4 -1 5 0 4 -2 5 1 5 -1 4 0 5 -1 4 1 5 -2 5 3 4 0 5 -3 4 2" transform="scale(0.5)" fill="none" stroke="#e62b29" stroke-width="5.2" stroke-linejoin="round"/>
<path d="M256 3043l5 -1 4 1 5 3 5 0 4 1 5 -4 4 -1 5 0 5 1 4 3 5 2 4 -1 5 -2 5 0 4 -6 5 -2 4 1 5 2 5 0 4 -2 5 5 4 4 5 3 5 -6 4 -2 5 -1 4 -2 5 -2 5 3 4 -5 5 2 4 1 5 -3 5 1 4 -1 5 0 4 2 5 -2 5 0 4 6 5 0 4 4 5 -3 5 2 4 3 5 -1 4 1 5 3 5 -8 4 -2 5 7 4 0 5 0 5 3 4 2 5 -4 4 -1 5 6 5 -57 4 -57 5 -63 4 -35 5 -16 5 3 4 -17 5 -18 4 -19 5 6 5 -12 4 9 5 -11 4 0 5 6 5 5 4 -4 5 -10 4 4 5 6 5 -1 4 0 5 -12 4 -2 5 -2 5 -8 4 -5 5 6 4 8 5 1 5 -5 4 3 5 -1 4 -8 5 -10 5 -1 4 6 5 1 4 -8 5 6 5 -2 4 -13 5 7 4 17 5 -11 5 -6 4 6 5 6 4 9 5 -9 5 1 4 16 5 7 4 -5 5 -10 5 -3 4 0 5 -7 4 -6 5 -5 5 -6 4 -11 5 0 4 -5 5 -9 5 8 4 6 5 -6 4 -20 5 5 5 -1 4 -2 5 10 4 6 5 3 5 2 4 6 5 -9 4 8 5 3 5 9 4 -2 5 -5 4 0 5 -1 5 -7 4 -9 5 -9 4 8 5 22 5 -6 4 -5 5 2 4 -4 5 -9 5 -8 4 0 5 3 4 0 5 -15 5 -12 4 -5 5 2 4 1 5 0 5 6 4 -2 5 7 4 2 5 -18 5 -6 4 5 5 -9 4 -3 5 -8 5 12 4 -19 5 2 4 0 5 -15 5 9 4 -7 5 1 4 -2 5 8 5 -13 4 0 5 1 4 -5 5 3 5 19 4 -1 5 -15 4 2 5 6 5 8 4 7 5 17 4 8 5 3 5 -6 4 -2 5 -11 4 -2 5 0 5 10 4 -15 5 -14 4 9 5 -9 5 2 4 -1 5 -3 4 11 5 8 5 -4 4 -2 5 2 4 -2 5 -12 5 8 4 -3 5 13 4 5 5 -13 5 2 4 -4 5 9 4 1 5 1 5 1 4 -9 5 1 4 -5 5 6 5 -8 4 11 5 -8 4 -2 5 -13 5 3 4 -17 5 2 4 1 5 5 5 -16 4 4 5 -9 4 -16" transform="scale(0.5)" fill="none" stroke="#e3201f" stroke-width="5.2" stroke-linejoin="round"/>
<path d="M256 3042l5 3 4 -1 5 -2 5 -3 4 1 5 -1 4 0 5 0 5 -2 4 0 5 -2 4 1 5 0 5 3 4 0 5 -5 4 1 5 2 5 -4 4 -2 5 1 4 0 5 0 5 -1 4 0 5 -2 4 -1 5 0 5 0 4 2 5 -1 4 1 5 -1 5 -2 4 1 5 1 4 0 5 1 5 1 4 0 5 0 4 0 5 1 5 -2 4 -2 5 1 4 3 5 1 5 -1 4 0 5 -2 4 2 5 1 5 -1 4 0 5 -1 4 -1 5 -1 5 1 4 -2 5 -1 4 2 5 0 5 -1 4 3 5 -2 4 2 5 -2 5 2 4 0 5 -1 4 1 5 0 5 1 4 2 5 -3 4 0 5 0 5 2 4 -1 5 -2 4 3 5 1 5 -1 4 2 5 -4 4 1 5 -2 5 1 4 -2 5 1 4 1 5 1 5 -1 4 -2 5 -2 4 2 5 1 5 0 4 -1 5 1 4 -1 5 3 5 1 4 0 5 -1 4 0 5 1 5 1 4 1 5 1 4 -1 5 0 5 0 4 0 5 -3 4 1 5 1 5 -3 4 -5 5 2 4 0 5 3 5 0 4 1 5 3 4 -2 5 1 5 2 4 -1 5 -3 4 0 5 3 5 0 4 1 5 1 4 -2 5 2 5 3 4 -2 5 1 4 -3 5 -4 5 3 4 2 5 0 4 1 5 0 5 -1 4 0 5 0 4 -2 5 -1 5 4 4 -2 5 3 4 -3 5 1 5 -3 4 1 5 -2 4 0 5 -1 5 0 4 2 5 4 4 1 5 -1 5 1 4 2 5 -2 4 0 5 0 5 0 4 0 5 0 4 3 5 0 5 3 4 1 5 1 4 -1 5 -2 5 0 4 1 5 1 4 1 5 3 5 -3 4 1 5 -1 4 -1 5 2 5 -4 4 3 5 0 4 2 5 0 5 -2 4 -1 5 0 4 -1 5 2 5 2 4 -3 5 0 4 1 5 0 5 0 4 2 5 1 4 -3 5 2 5 3 4 -1 5 -2 4 2 5 -2 5 0 4 -1 5 0 4 1 5 2 5 0 4 -3 5 -3 4 2 5 -2 5 1 4 0 5 0 4 1 5 1 5 0 4 0 5 -2 4 0 5 1 5 2 4 -3 5 -1 4 0 5 1 5 3 4 -1 5 0 4 -2" transform="scale(0.5)" fill="none" stroke="#e11616" stroke-width="5.2" stroke-linejoin="round"/>
<path d="M256 3043l5 3 4 4 5 -2 5 -2 4 -2 5 1 4 2 5 -3 5 3 4 -3 5 4 4 0 5 0 5 -2 4 8 5 -1 4 -2 5 -3 5 0 4 1 5 3 4 -2 5 -1 5 -2 4 1 5 1 4 0 5 -2 5 -1 4 -3 5 2 4 4 5 -2 5 5 4 6 5 -5 4 -1 5 -2 5 -3 4 -2 5 -15 4 -32 5 -19 5 -23 4 -15 5 -4 4 -4 5 -10 5 -4 4 -14 5 -6 4 1 5 -1 5 -4 4 -4 5 -5 4 -2 5 -1 5 -9 4 6 5 -3 4 13 5 1 5 3 4 15 5 -2 4 5 5 -14 5 -8 4 3 5 5 4 -5 5 -1 5 12 4 5 5 25 4 2 5 9 5 36 4 48 5 19 4 1 5 6 5 -5 4 1 5 -4 4 -11 5 -12 5 -11 4 -5 5 -1 4 24 5 20 5 -5 4 1 5 -4 4 1 5 2 5 -18 4 -25 5 -23 4 -15 5 -30 5 45 4 38 5 17 4 5 5 -1 5 6 4 5 5 -3 4 -2 5 -4 5 0 4 6 5 -33 4 -66 5 -65 5 9 4 4 5 0 4 -2 5 -1 5 -32 4 -41 5 -34 4 -23 5 -37 5 0 4 -1 5 -6 4 -10 5 -13 5 13 4 -4 5 -2 4 2 5 -8 5 -9 4 -14 5 -12 4 -6 5 -14 5 1 4 12 5 16 4 -10 5 11 5 6 4 4 5 -2 4 22 5 24 5 -3 4 3 5 -4 4 -8 5 9 5 2 4 4 5 -11 4 10 5 9 5 1 4 7 5 -3 4 6 5 8 5 -8 4 0 5 -2 4 3 5 12 5 11 4 -8 5 5 4 -5 5 13 5 -2 4 8 5 6 4 1 5 -6 5 -2 4 1 5 7 4 1 5 4 5 1 4 2 5 -1 4 1 5 1 5 3 4 1 5 2 4 -3 5 9 5 1 4 4 5 -9 4 -1 5 8 5 -10 4 -11 5 -8 4 0 5 6 5 -1 4 0 5 -7 4 9 5 4 5 11 4 -5 5 -12 4 -7 5 -19 5 -1 4 10 5 1 4 1 5 -3 5 5 4 6 5 -3 4 2 5 -6 5 9 4 -5 5 -6 4 -1 5 -12 5 5 4 2 5 -2 4 3 5 -5 5 -2 4 -2 5 3 4 3 5 -4 5 -3 4 6 5 0 4 1" transform="scale(0.5)" fill="none" stroke="#d21112" stroke-width="5.2" stroke-linejoin="round"/>
<path d="M256 3047l5 1 4 1 5 -3 5 -1 4 2 5 1 4 2 5 -2 5 1 4 -2 5 -2 4 1 5 -2 5 -1 4 0 5 3 4 1 5 1 5 2 4 -2 5 0 4 2 5 1 5 0 4 0 5 -3 4 -1 5 1 5 2 4 1 5 3 4 -4 5 -1 5 0 4 -1 5 0 4 1 5 -1 5 -1 4 1 5 3 4 -3 5 1 5 1 4 -3 5 -2 4 2 5 0 5 3 4 0 5 -1 4 -3 5 1 5 -1 4 -1 5 0 4 3 5 0 5 0 4 -1 5 -1 4 1 5 -1 5 0 4 0 5 0 4 -2 5 -1 5 -1 4 1 5 -1 4 -1 5 0 5 0 4 -1 5 1 4 2 5 -2 5 -1 4 0 5 1 4 0 5 -2 5 1 4 -2 5 0 4 -1 5 2 5 0 4 2 5 -1 4 2 5 0 5 0 4 -1 5 1 4 0 5 0 5 -1 4 -2 5 -1 4 1 5 0 5 0 4 0 5 1 4 1 5 -1 5 1 4 0 5 3 4 -2 5 0 5 1 4 2 5 0 4 1 5 0 5 -1 4 0 5 0 4 -1 5 2 5 0 4 -1 5 0 4 -1 5 0 5 0 4 2 5 0 4 3 5 1 5 0 4 0 5 -1 4 1 5 0 5 1 4 -1 5 1 4 -1 5 -1 5 0 4 -2 5 -1 4 0 5 0 5 2 4 4 5 -1 4 0 5 -1 5 1 4 0 5 -1 4 2 5 0 5 0 4 -2 5 1 4 -2 5 2 5 -2 4 0 5 1 4 1 5 -1 5 -2 4 0 5 0 4 0 5 0 5 -1 4 1 5 -1 4 1 5 0 5 1 4 -1 5 1 4 -2 5 0 5 0 4 1 5 -1 4 2 5 -1 5 -1 4 0 5 -2 4 0 5 2 5 1 4 -1 5 0 4 -1 5 -1 5 -1 4 1 5 1 4 1 5 0 5 0 4 -1 5 2 4 -1 5 1 5 0 4 -2 5 1 4 1 5 1 5 -1 4 2 5 1 4 -3 5 3 5 -2 4 0 5 -1 4 1 5 1 5 -3 4 0 5 -1 4 0 5 -2 5 1 4 0 5 -1 4 2 5 2 5 -1 4 -2 5 2 4 0 5 0 5 1 4 -2 5 0 4 1 5 1 5 1 4 0 5 1 4 -1" transform="scale(0.5)" fill="none" stroke="#c20d0f" stroke-width="5.2" stroke-linejoin="round"/>
<path d="M256 3043l5 2 4 2 5 -1 5 -2 4 4 5 0 4 -1 5 4 5 -1 4 3 5 -1 4 0 5 -2 5 -1 4 -6 5 4 4 -6 5 4 5 1 4 -1 5 3 4 -4 5 -3 5 -3 4 4 5 -2 4 -1 5 5 5 -1 4 -3 5 -1 4 2 5 0 5 0 4 0 5 -1 4 1 5 4 5 -2 4 1 5 2 4 2 5 -4 5 -3 4 0 5 -23 4 -33 5 -43 5 -12 4 8 5 1 4 -4 5 -1 5 -10 4 -1 5 -7 4 11 5 4 5 -8 4 4 5 -4 4 -1 5 -1 5 -8 4 -3 5 -3 4 5 5 -4 5 8 4 -1 5 -5 4 5 5 -22 5 4 4 4 5 3 4 5 5 5 5 8 4 -9 5 11 4 7 5 -8 5 -3 4 10 5 -7 4 -2 5 -11 5 8 4 4 5 -6 4 1 5 0 5 -10 4 1 5 -7 4 9 5 -10 5 -3 4 -1 5 -16 4 3 5 -9 5 -17 4 -6 5 -2 4 1 5 -3 5 9 4 -2 5 7 4 -4 5 -3 5 4 4 -2 5 2 4 2 5 -6 5 -9 4 -8 5 5 4 -3 5 -16 5 5 4 -4 5 -5 4 2 5 0 5 -1 4 0 5 0 4 -10 5 2 5 -2 4 5 5 0 4 10 5 -1 5 6 4 -3 5 0 4 -10 5 -3 5 -3 4 -2 5 3 4 -16 5 16 5 11 4 0 5 5 4 7 5 -4 5 3 4 -1 5 6 4 -8 5 -7 5 -19 4 -6 5 -13 4 2 5 -11 5 -13 4 2 5 3 4 7 5 -3 5 11 4 -4 5 2 4 -2 5 -8 5 -4 4 -11 5 -10 4 4 5 0 5 -12 4 5 5 3 4 7 5 -5 5 8 4 6 5 1 4 2 5 -2 5 4 4 -7 5 -7 4 -5 5 -5 5 -3 4 8 5 1 4 -4 5 -15 5 -4 4 7 5 0 4 -1 5 9 5 -3 4 -1 5 -1 4 -15 5 17 5 3 4 -8 5 11 4 11 5 -11 5 0 4 4 5 11 4 -10 5 0 5 -2 4 6 5 -6 4 3 5 4 5 -5 4 1 5 0 4 2 5 8 5 -1 4 -11 5 4 4 8 5 -8 5 -10 4 -11 5 -12 4 3 5 -9 5 5 4 -4 5 -16 4 -6 5 4 5 -3 4 4 5 -17 4 -4" transform="scale(0.5)" fill="none" stroke="#b40a0c" stroke-width="5.2" stroke-linejoin="round"/>
<path d="M256 3043l5 1 4 0 5 -5 5 1 4 -3 5 -1 4 -4 5 1 5 0 4 -3 5 1 4 2 5 -1 5 -2 4 -1 5 2 4 -2 5 5 5 3 4 1 5 1 4 -4 5 -2 5 -2 4 2 5 4 4 -3 5 4 5 -3 4 -3 5 0 4 -3 5 5 5 -1 4 -2 5 0 4 8 5 -1 5 0 4 2 5 -1 4 -3 5 1 5 1 4 1 5 3 4 1 5 2 5 4 4 0 5 -4 4 0 5 0 5 0 4 -1 5 -1 4 6 5 3 5 2 4 -1 5 -3 4 -1 5 -2 5 3 4 1 5 3 4 -2 5 -2 5 0 4 2 5 0 4 -3 5 -2 5 -12 4 -12 5 -6 4 -2 5 -11 5 2 4 6 5 15 4 9 5 16 5 0 4 6 5 0 4 1 5 -6 5 -15 4 -16 5 -21 4 -11 5 -19 5 24 4 29 5 17 4 1 5 -2 5 -1 4 3 5 1 4 0 5 -1 5 -1 4 -1 5 1 4 6 5 -3 5 1 4 -1 5 -9 4 -19 5 -16 5 12 4 16 5 9 4 -2 5 1 5 3 4 -2 5 1 4 -1 5 2 5 -1 4 2 5 -3 4 2 5 1 5 -30 4 -31 5 -33 4 -20 5 -23 5 14 4 -3 5 -8 4 8 5 -8 5 -3 4 -8 5 1 4 -2 5 5 5 -1 4 -4 5 -6 4 4 5 -21 5 -7 4 -1 5 5 4 -3 5 -4 5 -9 4 3 5 -4 4 -6 5 0 5 -5 4 -5 5 -12 4 7 5 -7 5 1 4 -3 5 1 4 9 5 -26 5 -7 4 -4 5 -9 4 2 5 1 5 -5 4 -6 5 7 4 9 5 -9 5 9 4 -4 5 1 4 -1 5 -5 5 7 4 10 5 0 4 -5 5 -8 5 13 4 -3 5 -3 4 0 5 -4 5 5 4 1 5 -2 4 13 5 5 5 2 4 2 5 5 4 17 5 0 5 -3 4 -1 5 -5 4 -11 5 0 5 -2 4 4 5 7 4 -9 5 -14 5 14 4 2 5 0 4 9 5 2 5 -7 4 -1 5 9 4 0 5 9 5 -9 4 -1 5 6 4 3 5 -15 5 5 4 -1 5 6 4 -5 5 9 5 2 4 -10 5 6 4 1 5 3 5 3 4 -12 5 -9 4 1 5 -1 5 -4 4 2 5 5 4 -9" transform="scale(0.5)" fill="none" stroke="#a00609" stroke-width="5.2" stroke-linejoin="round"/>
<path d="M256 3043l5 -2 4 0 5 3 5 -1 4 3 5 0 4 3 5 -1 5 0 4 -2 5 -4 4 2 5 -4 5 -1 4 3 5 1 4 3 5 -2 5 -2 4 -3 5 -1 4 -2 5 0 5 1 4 -5 5 5 4 -2 5 1 5 -51 4 -48 5 -35 4 9 5 -4 5 -7 4 4 5 2 4 2 5 1 5 -9 4 -6 5 6 4 -2 5 -11 5 -5 4 2 5 1 4 -6 5 -2 5 5 4 0 5 -12 4 15 5 -3 5 -2 4 14 5 10 4 1 5 0 5 7 4 6 5 2 4 3 5 -7 5 -2 4 2 5 -6 4 0 5 5 5 3 4 -1 5 1 4 2 5 -8 5 -4 4 3 5 -4 4 4 5 19 5 0 4 8 5 -7 4 -25 5 -5 5 3 4 5 5 9 4 -2 5 -6 5 -7 4 -1 5 -6 4 6 5 11 5 5 4 -1 5 17 4 8 5 19 5 8 4 2 5 -4 4 -14 5 -12 5 -9 4 -8 5 -3 4 -8 5 -1 5 8 4 -11 5 -10 4 -8 5 -4 5 -2 4 -2 5 -2 4 4 5 8 5 -7 4 6 5 -19 4 -9 5 1 5 0 4 -8 5 -6 4 -5 5 -8 5 -1 4 -8 5 -2 4 -6 5 -13 5 3 4 3 5 -8 4 -6 5 -3 5 -10 4 -2 5 0 4 -1 5 -6 5 -1 4 -3 5 -7 4 10 5 -9 5 1 4 -5 5 -3 4 -12 5 -6 5 -15 4 4 5 -2 4 1 5 7 5 6 4 -17 5 -8 4 -4 5 -1 5 1 4 4 5 3 4 -6 5 -5 5 2 4 -8 5 3 4 -2 5 -1 5 0 4 -8 5 -4 4 -4 5 5 5 -2 4 -19 5 -9 4 -5 5 -5 5 1 4 11 5 4 4 6 5 -5 5 2 4 14 5 -4 4 -2 5 6 5 19 4 18 5 9 4 4 5 29 5 34 4 24 5 38 4 26 5 26 5 11 4 18 5 6 4 -15 5 -17 5 -15 4 -19 5 -13 4 -8 5 -9 5 -12 4 -9 5 -34 4 -65 5 -65 5 -2 4 9 5 2 4 -4 5 0 5 -4 4 -2 5 -4 4 -1 5 9 5 12 4 2 5 6 4 4 5 11 5 9 4 1 5 -12 4 2 5 -10 5 -6 4 -11 5 -6 4 -8 5 -6 5 0 4 17 5 -6 4 -8" transform="scale(0.5)" fill="none" stroke="#8c0308" stroke-width="5.2" stroke-linejoin="round"/>
<path d="M256 3047l5 1 4 -3 5 -1 5 2 4 -1 5 1 4 0 5 1 5 0 4 -4 5 1 4 1 5 -2 5 4 4 0 5 -4 4 1 5 3 5 1 4 0 5 -2 4 0 5 3 5 -2 4 -2 5 2 4 0 5 2 5 1 4 0 5 0 4 1 5 -1 5 -2 4 1 5 2 4 -1 5 3 5 -2 4 -1 5 -1 4 0 5 1 5 -1 4 1 5 -2 4 -1 5 0 5 -4 4 0 5 -1 4 2 5 -3 5 -1 4 1 5 1 4 1 5 0 5 1 4 1 5 1 4 2 5 -4 5 -1 4 0 5 0 4 3 5 1 5 -2 4 3 5 1 4 -4 5 -3 5 -1 4 0 5 -1 4 -1 5 -2 5 1 4 1 5 2 4 -2 5 1 5 1 4 1 5 -1 4 1 5 -2 5 1 4 0 5 3 4 0 5 -1 5 0 4 0 5 1 4 0 5 2 5 -1 4 -1 5 3 4 1 5 0 5 -3 4 0 5 0 4 -2 5 0 5 1 4 -4 5 -1 4 1 5 0 5 2 4 1 5 -2 4 3 5 -2 5 -1 4 0 5 0 4 0 5 -1 5 -1 4 0 5 3 4 -2 5 0 5 -1 4 2 5 3 4 0 5 3 5 -1 4 1 5 1 4 -2 5 -2 5 -2 4 1 5 3 4 1 5 -2 5 0 4 4 5 2 4 -1 5 -1 5 -1 4 0 5 0 4 0 5 -1 5 -2 4 2 5 0 4 3 5 -2 5 3 4 -1 5 0 4 0 5 -1 5 2 4 -2 5 3 4 -2 5 -2 5 -1 4 4 5 -2 4 -1 5 0 5 0 4 0 5 -2 4 -1 5 -2 5 0 4 -4 5 1 4 2 5 1 5 -1 4 -2 5 3 4 1 5 -1 5 -2 4 0 5 3 4 2 5 -4 5 2 4 -1 5 1 4 2 5 1 5 -2 4 -3 5 0 4 0 5 2 5 2 4 2 5 -2 4 0 5 -2 5 1 4 1 5 1 4 -2 5 -1 5 2 4 -1 5 -2 4 1 5 2 5 -13 4 -15 5 -13 4 -7 5 5 5 5 4 3 5 6 4 5 5 9 5 9 4 2 5 1 4 -2 5 -1 5 1 4 -2 5 -8 4 -18 5 -18 5 -16 4 -3 5 1 4 8 5 -2 5 1 4 4 5 1 4 2" transform="scale(0.5)" fill="none" stroke="#780006" stroke-width="5.2" stroke-linejoin="round"/>
<path d="M1636 3043l5 1 4 -1 5 1 5 -3 4 1 5 1 4 -2 5 -3 5 -3 4 2 5 -1 4 5 5 -3 5 1 4 -6 5 -1 4 2 5 0 5 -2 4 -3 5 3 4 2 5 0 5 2 4 3 5 1 4 -4 5 -1 5 4 4 -2 5 1 4 -2 5 0 5 -2 4 -1 5 -1 4 2 5 1 5 -6 4 1 5 0 4 -1 5 1 5 -1 4 2 5 2 4 2 5 -2 5 -2 4 -2 5 -1 4 -2 5 5 5 -1 4 -5 5 0 4 -2 5 1 5 -1 4 -1 5 1 4 -2 5 2 5 3 4 4 5 -2 4 1 5 6 5 0 4 -2 5 -2 4 -1 5 -2 5 -13 4 -9 5 -11 4 -7 5 -1 5 -14 4 -10 5 -14 4 -14 5 -8 5 -13 4 -4 5 -10 4 -23 5 -24 5 -7 4 -26 5 -19 4 -19 5 -17 5 -8 4 -5 5 -16 4 -5 5 1 5 -6 4 2 5 -5 4 -9 5 -8 5 -7 4 5 5 -8 4 -9 5 -6 5 -1 4 -6 5 -16 4 13 5 -9 5 4 4 -3 5 6 4 -8 5 4 5 -1 4 -8 5 -5 4 -2 5 2 5 -9 4 -4 5 -14 4 2 5 -1 5 4 4 6 5 -1 4 -9 5 5 5 3 4 1 5 -7 4 -10 5 0 5 2 4 -1 5 -1 4 4 5 1 5 6 4 -3 5 -9 4 0 5 2 5 -13 4 -7 5 -3 4 -1 5 -7 5 -5 4 -4 5 -3 4 -8 5 9 5 -1 4 3 5 2 4 6 5 -9 5 -1 4 -4 5 9 4 -4 5 -11 5 -2 4 -5 5 -2 4 -5 5 -3 5 7 4 0 5 4 4 10 5 5 5 -19 4 5 5 3 4 -5 5 -8 5 -5 4 0 5 -3 4 -6 5 -4 5 0 4 5 5 -13 4 -2 5 7 5 -4 4 -1 5 2 4 -2 5 8 5 4 4 8 5 7 4 -8 5 6 5 -9 4 -3 5 -7 4 -2 5 7 5 -2 4 -5 5 -6 4 -2 5 0 5 -6 4 -3 5 2 4 1 5 1 5 -1 4 -6 5 -9 4 2 5 4 5 4 4 1 5 -1 4 -10 5 0 5 -4 4 -10 5 10 4 -2 5 -3 5 2 4 -3 5 -1 4 3 5 -1 5 14 4 0 5 -9 4 -2 5 6 5 -4 4 7 5 -9 4 -5" transform="scale(0.5)" fill="none" stroke="#cee6f2" stroke-width="5.2" stroke-linejoin="round"/>
<path d="M1636 3042l5 1 4 -1 5 1 5 2 4 -1 5 0 4 0 5 0 5 -3 4 0 5 0 4 -1 5 0 5 2 4 -1 5 1 4 2 5 -3 5 1 4 -3 5 3 4 0 5 3 5 -4 4 -2 5 2 4 -4 5 -2 5 5 4 -2 5 3 4 1 5 0 5 -2 4 3 5 -3 4 2 5 2 5 1 4 -2 5 3 4 2 5 -5 5 0 4 0 5 2 4 -3 5 -4 5 -2 4 -3 5 -1 4 2 5 0 5 -3 4 2 5 0 4 3 5 -1 5 -2 4 0 5 0 4 6 5 -7 5 -2 4 0 5 0 4 3 5 -1 5 -2 4 -1 5 2 4 -2 5 1 5 0 4 1 5 2 4 -2 5 0 5 -3 4 2 5 4 4 -1 5 3 5 -1 4 -3 5 2 4 0 5 0 5 3 4 1 5 -3 4 3 5 -4 5 -2 4 -1 5 -1 4 3 5 2 5 -4 4 -6 5 -1 4 2 5 0 5 -6 4 -4 5 0 4 -5 5 -4 5 -2 4 0 5 -2 4 2 5 1 5 -3 4 2 5 5 4 -8 5 -7 5 1 4 -3 5 -7 4 -2 5 0 5 2 4 -6 5 -1 4 1 5 7 5 0 4 -2 5 3 4 1 5 -2 5 0 4 3 5 4 4 0 5 -4 5 -2 4 0 5 -4 4 1 5 2 5 0 4 2 5 -4 4 -3 5 5 5 -4 4 7 5 3 4 2 5 8 5 3 4 1 5 5 4 -5 5 -1 5 -4 4 -8 5 -5 4 -3 5 -7 5 -7 4 -11 5 -5 4 -10 5 -11 5 -5 4 -1 5 -7 4 -4 5 -13 5 -9 4 -20 5 -14 4 -5 5 -4 5 -10 4 -11 5 -9 4 -4 5 -16 5 2 4 -10 5 -11 4 -3 5 0 5 3 4 -3 5 -5 4 -4 5 -6 5 3 4 -7 5 -5 4 0 5 -1 5 -4 4 -2 5 1 4 1 5 8 5 6 4 -3 5 -7 4 -8 5 7 5 -5 4 -5 5 -8 4 7 5 1 5 1 4 1 5 7 4 -1 5 2 5 -16 4 0 5 6 4 10 5 6 5 0 4 1 5 6 4 -1 5 1 5 0 4 2 5 -5 4 4 5 1 5 4 4 7 5 3 4 -2 5 -9 5 -14 4 6 5 9 4 -5 5 8 5 -8 4 0 5 0 4 7" transform="scale(0.5)" fill="none" stroke="#a8d8eb" stroke-width="5.2" stroke-linejoin="round"/>
<path d="M1636 3042l5 -3 4 -1 5 7 5 -3 4 -2 5 -2 4 3 5 0 5 -5 4 0 5 -3 4 1 5 -2 5 1 4 -2 5 2 4 -1 5 0 5 1 4 -1 5 -1 4 -1 5 0 5 0 4 -2 5 -4 4 -2 5 4 5 0 4 5 5 -4 4 -3 5 0 5 -1 4 0 5 -4 4 -4 5 1 5 2 4 2 5 0 4 0 5 2 5 -2 4 -1 5 -3 4 3 5 3 5 -3 4 -2 5 0 4 2 5 -4 5 0 4 2 5 -1 4 -2 5 -5 5 1 4 1 5 -1 4 -13 5 -10 5 -3 4 -8 5 4 4 -16 5 -7 5 -12 4 -13 5 -16 4 -7 5 -17 5 -12 4 -18 5 -11 4 -7 5 -16 5 -11 4 -24 5 -4 4 -7 5 -7 5 -6 4 0 5 -9 4 1 5 -17 5 -1 4 5 5 1 4 11 5 9 5 2 4 14 5 8 4 -5 5 -5 5 1 4 -2 5 -14 4 -3 5 1 5 -3 4 -8 5 5 4 -6 5 -3 5 -8 4 1 5 -3 4 -4 5 -6 5 -11 4 -10 5 -15 4 -9 5 -6 5 -11 4 -1 5 -7 4 -2 5 -6 5 2 4 -7 5 1 4 -7 5 0 5 -6 4 4 5 -4 4 -3 5 4 5 -4 4 -11 5 -3 4 -3 5 -1 5 4 4 -8 5 0 4 -9 5 7 5 -3 4 -6 5 9 4 8 5 1 5 -9 4 1 5 2 4 -15 5 13 5 -3 4 -4 5 3 4 7 5 0 5 8 4 -7 5 -5 4 -2 5 -10 5 4 4 -9 5 13 4 -2 5 3 5 4 4 2 5 -6 4 6 5 -3 5 3 4 3 5 -6 4 -7 5 3 5 -1 4 0 5 11 4 0 5 -7 5 -4 4 0 5 -13 4 0 5 2 5 9 4 -5 5 1 4 -1 5 11 5 -6 4 -4 5 3 4 -6 5 2 5 -4 4 6 5 6 4 -1 5 4 5 -4 4 -4 5 -1 4 5 5 3 5 -2 4 -5 5 6 4 1 5 -5 5 0 4 -4 5 -12 4 3 5 1 5 -4 4 -10 5 0 4 -3 5 -2 5 -10 4 -12 5 -13 4 -13 5 -8 5 -2 4 8 5 25 4 18 5 7 5 16 4 9 5 4 4 -7 5 -6 5 -8 4 -2 5 -8 4 -4 5 -1 5 1 4 -6 5 -5 4 1" transform="scale(0.5)" fill="none" stroke="#83c7e4" stroke-width="5.2" stroke-linejoin="round"/>
<path d="M1636 3042l5 2 4 -1 5 -2 5 1 4 -1 5 -3 4 2 5 -1 5 0 4 0 5 0 4 -5 5 -2 5 4 4 7 5 -1 4 -1 5 6 5 -8 4 -2 5 2 4 1 5 4 5 0 4 0 5 0 4 2 5 -1 5 -5 4 0 5 0 4 -2 5 2 5 -2 4 -2 5 -3 4 -6 5 -4 5 2 4 3 5 3 4 -2 5 5 5 -2 4 0 5 -3 4 3 5 -3 5 -3 4 -1 5 2 4 -4 5 0 5 3 4 2 5 -3 4 3 5 -5 5 -1 4 0 5 0 4 2 5 -3 5 -4 4 0 5 2 4 1 5 5 5 -23 4 -26 5 -24 4 -16 5 -23 5 -16 4 -18 5 -10 4 -21 5 2 5 -16 4 -12 5 -3 4 -3 5 4 5 -23 4 -10 5 -15 4 -15 5 -8 5 16 4 6 5 8 4 17 5 1 5 13 4 23 5 -1 4 0 5 -9 5 7 4 -10 5 -6 4 -1 5 -1 5 -8 4 -14 5 -15 4 -6 5 -3 5 9 4 -11 5 -8 4 -9 5 -4 5 3 4 -17 5 -6 4 -14 5 -9 5 -22 4 -10 5 -3 4 -14 5 -14 5 -10 4 -14 5 10 4 12 5 41 5 28 4 32 5 27 4 30 5 35 5 39 4 3 5 -17 4 -7 5 -8 5 -11 4 1 5 3 4 -5 5 -9 5 -16 4 -6 5 -14 4 -2 5 -14 5 0 4 -1 5 -18 4 1 5 3 5 -8 4 5 5 -1 4 -8 5 0 5 -9 4 1 5 4 4 1 5 0 5 0 4 9 5 11 4 5 5 -4 5 3 4 -8 5 -5 4 -6 5 -3 5 6 4 -13 5 2 4 -2 5 -7 5 -14 4 10 5 10 4 11 5 4 5 -8 4 -4 5 1 4 7 5 11 5 26 4 26 5 15 4 21 5 11 5 22 4 33 5 28 4 18 5 14 5 9 4 13 5 10 4 7 5 3 5 3 4 12 5 -6 4 -9 5 -4 5 -4 4 -10 5 -5 4 -3 5 -3 5 -14 4 -11 5 -2 4 -3 5 -6 5 -6 4 -8 5 -6 4 -13 5 -11 5 2 4 -4 5 -6 4 -7 5 -11 5 -7 4 -7 5 -12 4 -9 5 -8 5 -2 4 -13 5 -11 4 -3 5 3 5 15 4 0 5 -3 4 3 5 0 5 1 4 -7 5 10 4 1" transform="scale(0.5)" fill="none" stroke="#70bbe2" stroke-width="5.2" stroke-linejoin="round"/>
<path d="M1636 3043l5 -2 4 2 5 2 5 2 4 -2 5 0 4 -2 5 1 5 0 4 0 5 1 4 -4 5 -5 5 1 4 4 5 3 4 -6 5 4 5 1 4 -3 5 0 4 -1 5 -3 5 5 4 1 5 1 4 -2 5 -4 5 -2 4 0 5 -4 4 -1 5 -1 5 2 4 0 5 4 4 0 5 2 5 -3 4 1 5 2 4 4 5 1 5 1 4 0 5 -1 4 2 5 0 5 1 4 2 5 -3 4 1 5 -1 5 1 4 0 5 -1 4 3 5 0 5 -3 4 3 5 -7 4 -1 5 0 5 -2 4 -2 5 -1 4 -3 5 2 5 -3 4 4 5 -4 4 0 5 0 5 3 4 0 5 0 4 3 5 -2 5 -3 4 -1 5 3 4 -1 5 0 5 -1 4 -1 5 0 4 -1 5 -1 5 -3 4 -3 5 -2 4 1 5 0 5 0 4 1 5 -3 4 3 5 1 5 2 4 -1 5 -3 4 -3 5 2 5 -1 4 -6 5 0 4 0 5 0 5 2 4 3 5 0 4 -2 5 -4 5 2 4 -4 5 -1 4 2 5 -4 5 3 4 -3 5 -1 4 -3 5 2 5 -1 4 -1 5 -1 4 5 5 -3 5 1 4 4 5 0 4 -1 5 -1 5 1 4 2 5 4 4 -3 5 4 5 1 4 -2 5 0 4 3 5 -3 5 7 4 0 5 5 4 -7 5 1 5 4 4 6 5 -2 4 -3 5 0 5 -2 4 -2 5 1 4 3 5 -3 5 2 4 4 5 -9 4 0 5 0 5 -4 4 0 5 -2 4 -1 5 0 5 -9 4 -4 5 -4 4 -3 5 -4 5 -3 4 -3 5 -6 4 -8 5 -5 5 5 4 -7 5 5 4 6 5 -2 5 0 4 1 5 6 4 6 5 3 5 -7 4 -10 5 -3 4 -1 5 -2 5 6 4 2 5 -6 4 -3 5 -14 5 -3 4 4 5 7 4 -6 5 -3 5 0 4 4 5 -1 4 10 5 9 5 -1 4 -3 5 -8 4 9 5 6 5 -9 4 -7 5 2 4 -14 5 -6 5 6 4 -7 5 0 4 -4 5 0 5 -1 4 5 5 -5 4 11 5 -8 5 -4 4 3 5 -3 4 -7 5 1 5 -1 4 -3 5 -1 4 -2 5 -6 5 -1 4 3 5 -5 4 5 5 -1 5 3 4 0 5 -1 4 -9" transform="scale(0.5)" fill="none" stroke="#70bbe2" stroke-width="5.2" stroke-linejoin="round"/>
<path d="M1636 3042l5 -3 4 2 5 -4 5 0 4 2 5 0 4 -2 5 1 5 -2 4 -2 5 -1 4 -1 5 1 5 -1 4 -2 5 3 4 -5 5 -1 5 -2 4 0 5 0 4 2 5 1 5 -3 4 -5 5 4 4 -3 5 3 5 -1 4 -3 5 -1 4 1 5 1 5 -4 4 3 5 -4 4 3 5 -4 5 -1 4 -2 5 -1 4 -3 5 -1 5 -4 4 -6 5 -4 4 1 5 -2 5 0 4 -2 5 -1 4 0 5 0 5 -11 4 -15 5 -15 4 -11 5 -18 5 -15 4 -21 5 6 4 15 5 15 5 17 4 28 5 18 4 15 5 20 5 -7 4 -1 5 -6 4 -3 5 5 5 -5 4 -5 5 -6 4 9 5 -1 5 -16 4 -6 5 -15 4 -6 5 -15 5 -3 4 -7 5 -8 4 -11 5 -5 5 9 4 0 5 -2 4 10 5 3 5 -3 4 -3 5 -14 4 -11 5 -13 5 3 4 -9 5 -7 4 6 5 -8 5 -1 4 2 5 -11 4 -4 5 1 5 17 4 2 5 0 4 11 5 -2 5 -10 4 -13 5 -5 4 7 5 13 5 7 4 4 5 1 4 1 5 -6 5 3 4 -1 5 -3 4 -6 5 -3 5 0 4 -2 5 -7 4 -3 5 -1 5 -7 4 -5 5 -16 4 -22 5 -2 5 -13 4 -4 5 -20 4 -7 5 -16 5 24 4 10 5 25 4 17 5 28 5 6 4 4 5 12 4 1 5 -6 5 -7 4 8 5 -1 4 -13 5 -9 5 -3 4 -16 5 -10 4 -18 5 -6 5 -7 4 10 5 12 4 6 5 -11 5 3 4 4 5 -2 4 -8 5 9 5 3 4 7 5 -3 4 14 5 -8 5 9 4 -2 5 -7 4 19 5 -6 5 -3 4 -13 5 8 4 -7 5 -4 5 6 4 3 5 4 4 1 5 -2 5 -1 4 -11 5 -9 4 -10 5 -9 5 2 4 -7 5 -11 4 -3 5 10 5 3 4 9 5 2 4 1 5 -3 5 -2 4 -3 5 3 4 -13 5 2 5 11 4 -10 5 -4 4 6 5 0 5 -2 4 -1 5 1 4 4 5 -1 5 -22 4 10 5 -3 4 -7 5 -12 5 -1 4 -10 5 1 4 2 5 -3 5 -6 4 1 5 0 4 6 5 2 5 6 4 -1 5 0 4 -5 5 2 5 1 4 -2 5 6 4 7" transform="scale(0.5)" fill="none" stroke="#62b2e0" stroke-width="5.2" stroke-linejoin="round"/>
<path d="M1636 3027l5 -11 4 -8 5 -4 5 -8 4 -6 5 -14 4 0 5 -1 5 2 4 -1 5 -9 4 8 5 -1 5 -8 4 -2 5 2 4 2 5 -1 5 1 4 -3 5 -2 4 -1 5 7 5 -2 4 -1 5 -5 4 4 5 2 5 1 4 -15 5 -1 4 6 5 1 5 9 4 -1 5 -12 4 2 5 10 5 3 4 3 5 -3 4 -1 5 -4 5 3 4 -2 5 -4 4 6 5 -4 5 -4 4 -7 5 -1 4 6 5 7 5 -7 4 -5 5 2 4 2 5 10 5 -10 4 6 5 2 4 -1 5 -3 5 11 4 -1 5 -1 4 -1 5 -1 5 -6 4 4 5 8 4 3 5 -4 5 -1 4 -5 5 -12 4 -1 5 -5 5 8 4 7 5 3 4 -1 5 3 5 -11 4 10 5 -9 4 5 5 2 5 -1 4 2 5 -1 4 4 5 2 5 4 4 -4 5 -2 4 2 5 5 5 -10 4 1 5 0 4 1 5 2 5 2 4 1 5 -4 4 -10 5 4 5 0 4 -9 5 -5 4 -19 5 -8 5 -9 4 -7 5 -6 4 -14 5 -14 5 -2 4 1 5 5 4 -11 5 3 5 5 4 -4 5 -3 4 1 5 1 5 9 4 -5 5 -2 4 5 5 0 5 1 4 3 5 -1 4 5 5 6 5 0 4 -8 5 7 4 -3 5 0 5 -5 4 7 5 8 4 -8 5 -1 5 1 4 -12 5 0 4 -6 5 4 5 -3 4 7 5 -1 4 -4 5 -2 5 -1 4 -1 5 -14 4 11 5 -11 5 -6 4 0 5 4 4 -1 5 -9 5 -8 4 -2 5 -7 4 12 5 7 5 -4 4 -5 5 -2 4 0 5 -8 5 -1 4 16 5 -3 4 -4 5 -1 5 2 4 11 5 8 4 -11 5 -8 5 -7 4 -8 5 -8 4 -2 5 -10 5 12 4 1 5 -3 4 -3 5 -1 5 10 4 11 5 9 4 11 5 -8 5 7 4 -2 5 1 4 3 5 -3 5 -2 4 0 5 8 4 6 5 12 5 -2 4 -8 5 6 4 2 5 -12 5 1 4 -3 5 1 4 -9 5 1 5 -4 4 -5 5 2 4 -2 5 -7 5 -4 4 -8 5 -3 4 10 5 -19 5 -1 4 5 5 9 4 2 5 -1 5 8 4 -6 5 -5 4 17 5 2 5 4 4 3 5 -3 4 3" transform="scale(0.5)" fill="none" stroke="#54a9de" stroke-width="5.2" stroke-linejoin="round"/>
<path d="M1636 3027l5 -8 4 -18 5 -8 5 -7 4 -9 5 -12 4 -12 5 -6 5 -19 4 -7 5 2 4 8 5 -10 5 19 4 30 5 21 4 22 5 -16 5 -11 4 -13 5 -19 4 -8 5 -23 5 -6 4 -22 5 1 4 14 5 18 5 16 4 26 5 5 4 0 5 2 5 3 4 0 5 -4 4 5 5 -2 5 6 4 -3 5 -3 4 -6 5 0 5 1 4 -6 5 -3 4 6 5 1 5 3 4 -7 5 2 4 0 5 6 5 -9 4 -3 5 2 4 4 5 -7 5 4 4 -1 5 -7 4 3 5 1 5 -2 4 5 5 -6 4 -3 5 4 5 -8 4 4 5 -3 4 2 5 -10 5 -2 4 2 5 -10 4 -1 5 -1 5 8 4 -1 5 3 4 -3 5 -1 5 -2 4 7 5 -5 4 2 5 -12 5 -8 4 -9 5 -3 4 -3 5 4 5 -2 4 4 5 -4 4 1 5 0 5 -2 4 -2 5 -9 4 -1 5 4 5 9 4 10 5 -4 4 -1 5 -5 5 5 4 0 5 4 4 -4 5 -8 5 3 4 2 5 8 4 -7 5 -15 5 -1 4 -8 5 2 4 -7 5 -6 5 -9 4 1 5 0 4 -15 5 0 5 -4 4 -1 5 -4 4 0 5 -3 5 -10 4 -6 5 -5 4 -6 5 -8 5 -1 4 4 5 3 4 2 5 8 5 -8 4 7 5 9 4 -4 5 6 5 19 4 36 5 33 4 31 5 24 5 11 4 2 5 6 4 8 5 4 5 6 4 15 5 -1 4 -5 5 5 5 -4 4 0 5 0 4 3 5 -6 5 2 4 -3 5 -4 4 -3 5 -2 5 -1 4 -3 5 2 4 -2 5 6 5 -6 4 0 5 -6 4 -12 5 -7 5 -16 4 -14 5 6 4 -9 5 -9 5 0 4 -8 5 10 4 -9 5 2 5 6 4 7 5 -1 4 11 5 7 5 3 4 5 5 -3 4 9 5 2 5 4 4 5 5 -3 4 -6 5 2 5 1 4 -7 5 0 4 -10 5 2 5 0 4 -18 5 -12 4 -15 5 -7 5 -14 4 -1 5 -2 4 -10 5 1 5 -5 4 1 5 4 4 -1 5 -8 5 3 4 2 5 9 4 3 5 -2 5 9 4 5 5 2 4 3 5 -5 5 -1 4 -9 5 0 4 -3 5 4 5 -2 4 4 5 12 4 -11" transform="scale(0.5)" fill="none" stroke="#46a0dc" stroke-width="5.2" stroke-linejoin="round"/>
<path d="M1636 3043l5 0 4 1 5 -3 5 1 4 2 5 1 4 1 5 0 5 -1 4 -2 5 3 4 -1 5 -1 5 -1 4 -3 5 1 4 4 5 -4 5 -1 4 -1 5 1 4 -2 5 0 5 4 4 -3 5 7 4 -3 5 -2 5 -1 4 1 5 -2 4 -2 5 0 5 0 4 1 5 3 4 3 5 -4 5 0 4 0 5 4 4 0 5 1 5 -2 4 2 5 1 4 -2 5 2 5 -1 4 2 5 1 4 0 5 -1 5 0 4 -1 5 0 4 -1 5 0 5 -2 4 2 5 0 4 2 5 -1 5 1 4 -4 5 2 4 -1 5 1 5 2 4 -1 5 0 4 -2 5 -2 5 -5 4 0 5 1 4 2 5 -4 5 1 4 2 5 -3 4 0 5 2 5 6 4 -2 5 -1 4 2 5 -1 5 0 4 2 5 -3 4 -1 5 0 5 1 4 -2 5 2 4 -1 5 0 5 0 4 3 5 -2 4 1 5 0 5 1 4 0 5 2 4 4 5 3 5 1 4 -5 5 1 4 2 5 -2 5 -1 4 -2 5 -2 4 -6 5 -1 5 2 4 -1 5 2 4 1 5 -2 5 -1 4 -5 5 0 4 1 5 -2 5 -1 4 1 5 5 4 -4 5 0 5 3 4 1 5 -2 4 -1 5 -6 5 -1 4 -1 5 -2 4 -5 5 1 5 -8 4 -10 5 -5 4 -2 5 -3 5 -2 4 2 5 4 4 6 5 1 5 3 4 9 5 2 4 1 5 2 5 12 4 1 5 -3 4 2 5 -1 5 3 4 2 5 3 4 -1 5 0 5 -4 4 -6 5 -8 4 1 5 -7 5 -7 4 -14 5 -13 4 -12 5 -17 5 -6 4 -9 5 1 4 8 5 -4 5 0 4 3 5 -6 4 2 5 -2 5 -3 4 1 5 -3 4 9 5 -1 5 -1 4 4 5 7 4 -3 5 5 5 3 4 8 5 13 4 4 5 4 5 -4 4 2 5 0 4 -7 5 -1 5 -2 4 1 5 6 4 -3 5 0 5 -4 4 -6 5 -5 4 -3 5 -3 5 -4 4 -5 5 -5 4 -3 5 -10 5 -6 4 -7 5 -9 4 -5 5 -11 5 -10 4 -12 5 -7 4 2 5 -8 5 -3 4 -1 5 -2 4 1 5 -4 5 13 4 -8 5 0 4 -3 5 0 5 -3 4 3 5 -3 4 -7" transform="scale(0.5)" fill="none" stroke="#3282d9" stroke-width="5.2" stroke-linejoin="round"/>
<path d="M1636 3042l5 -1 4 -5 5 -5 5 4 4 0 5 0 4 4 5 -2 5 2 4 1 5 -6 4 -1 5 -2 5 3 4 3 5 2 4 -1 5 1 5 2 4 -5 5 1 4 2 5 -1 5 -3 4 0 5 -2 4 -3 5 -1 5 -1 4 2 5 -1 4 -1 5 1 5 2 4 3 5 -2 4 0 5 -1 5 0 4 0 5 0 4 -1 5 -1 5 -3 4 1 5 -2 4 -3 5 -3 5 1 4 -1 5 -3 4 -4 5 2 5 1 4 -5 5 -5 4 0 5 -2 5 -9 4 4 5 1 4 -1 5 2 5 -5 4 3 5 1 4 -1 5 -5 5 -3 4 3 5 1 4 -7 5 0 5 3 4 -8 5 -5 4 -3 5 1 5 -7 4 -1 5 -5 4 -3 5 -2 5 -1 4 -6 5 -4 4 3 5 1 5 -12 4 5 5 0 4 -3 5 7 5 4 4 3 5 -9 4 -2 5 -1 5 -1 4 19 5 -2 4 -14 5 9 5 6 4 -3 5 -6 4 -4 5 14 5 6 4 2 5 -2 4 -1 5 3 5 -6 4 -5 5 1 4 -4 5 3 5 5 4 5 5 -6 4 7 5 3 5 -4 4 -2 5 1 4 -7 5 0 5 6 4 0 5 -7 4 -5 5 -2 5 2 4 3 5 8 4 3 5 0 5 2 4 -1 5 -6 4 4 5 4 5 0 4 5 5 -5 4 2 5 5 5 0 4 1 5 -6 4 1 5 2 5 0 4 7 5 5 4 -5 5 -2 5 3 4 -3 5 8 4 2 5 -2 5 -6 4 -3 5 -5 4 -2 5 -3 5 -6 4 -1 5 1 4 -1 5 -9 5 -4 4 8 5 -5 4 -3 5 -10 5 -5 4 -5 5 -7 4 -5 5 5 5 -7 4 -2 5 -3 4 -9 5 4 5 -5 4 6 5 -8 4 3 5 -3 5 -17 4 -25 5 -23 4 -20 5 -18 5 -10 4 -12 5 -13 4 -10 5 -8 5 -5 4 -2 5 0 4 0 5 -1 5 14 4 -11 5 -10 4 -6 5 -1 5 -8 4 -5 5 -2 4 3 5 -8 5 6 4 7 5 2 4 -9 5 5 5 -1 4 -8 5 -4 4 5 5 -1 5 -11 4 -10 5 -4 4 11 5 -6 5 5 4 -3 5 -4 4 1 5 0 5 3 4 1 5 -5 4 -1 5 6 5 0 4 4 5 2 4 3" transform="scale(0.5)" fill="none" stroke="#2772d8" stroke-width="5.2" stroke-linejoin="round"/>
<path d="M1636 3043l5 1 4 1 5 -1 5 1 4 -1 5 7 4 -6 5 -3 5 3 4 1 5 -4 4 2 5 2 5 -3 4 -3 5 0 4 0 5 -3 5 1 4 1 5 1 4 1 5 -2 5 -5 4 1 5 -2 4 4 5 -3 5 0 4 -5 5 3 4 2 5 0 5 -4 4 -2 5 0 4 0 5 3 5 -6 4 5 5 -6 4 2 5 6 5 -2 4 -1 5 4 4 -6 5 0 5 5 4 0 5 2 4 3 5 -3 5 -4 4 0 5 3 4 0 5 2 5 2 4 -1 5 -3 4 -2 5 2 5 -1 4 2 5 2 4 3 5 -1 5 1 4 -2 5 -3 4 -1 5 1 5 -1 4 -1 5 1 4 3 5 -2 5 1 4 -1 5 -1 4 2 5 -2 5 2 4 -2 5 4 4 -1 5 4 5 2 4 -2 5 -1 4 -2 5 3 5 2 4 -3 5 5 4 -6 5 -6 5 3 4 -1 5 6 4 1 5 1 5 2 4 -1 5 0 4 -3 5 -1 5 0 4 -2 5 3 4 2 5 -2 5 -4 4 4 5 0 4 -3 5 -3 5 1 4 10 5 4 4 1 5 -2 5 -2 4 -2 5 0 4 -3 5 1 5 -1 4 1 5 3 4 -2 5 3 5 -1 4 -2 5 1 4 3 5 2 5 -3 4 5 5 0 4 0 5 -2 5 3 4 1 5 -3 4 -5 5 4 5 -2 4 1 5 -3 4 3 5 -2 5 2 4 -4 5 -2 4 0 5 4 5 0 4 0 5 -1 4 2 5 1 5 -36 4 -27 5 -36 4 -37 5 -39 5 2 4 9 5 -4 4 2 5 4 5 -5 4 -3 5 -12 4 0 5 2 5 -2 4 -7 5 -12 4 -8 5 -4 5 -14 4 0 5 -13 4 -7 5 1 5 -1 4 -6 5 -10 4 0 5 4 5 6 4 4 5 3 4 -6 5 2 5 7 4 -9 5 -3 4 -1 5 3 5 -9 4 -12 5 -6 4 -2 5 -3 5 -15 4 -7 5 -14 4 -10 5 -6 5 3 4 3 5 -4 4 -5 5 -10 5 1 4 -2 5 12 4 -14 5 -9 5 1 4 0 5 7 4 -5 5 12 5 -5 4 15 5 -1 4 2 5 3 5 2 4 1 5 -5 4 -6 5 -3 5 -1 4 1 5 6 4 0 5 -19 5 -8 4 -11 5 4 4 -6" transform="scale(0.5)" fill="none" stroke="#1e64d7" stroke-width="5.2" stroke-linejoin="round"/>
<path d="M1636 3043l5 -2 4 1 5 0 5 1 4 -1 5 0 4 1 5 0 5 1 4 -1 5 -5 4 3 5 0 5 -1 4 -2 5 3 4 2 5 -5 5 -1 4 2 5 0 4 3 5 4 5 -2 4 2 5 -1 4 2 5 -1 5 -2 4 -2 5 -1 4 2 5 -5 5 2 4 -1 5 2 4 2 5 1 5 -1 4 4 5 2 4 0 5 -2 5 2 4 2 5 1 4 1 5 3 5 -3 4 0 5 -3 4 2 5 -1 5 3 4 -5 5 4 4 -2 5 -5 5 1 4 0 5 -3 4 -4 5 -3 5 4 4 2 5 1 4 2 5 4 5 0 4 0 5 0 4 -4 5 4 5 1 4 -5 5 1 4 0 5 0 5 -2 4 4 5 3 4 -3 5 2 5 -1 4 4 5 -2 4 -3 5 4 5 -4 4 -1 5 -4 4 -1 5 1 5 -4 4 -1 5 0 4 -1 5 1 5 2 4 -5 5 7 4 4 5 -2 5 0 4 -2 5 -1 4 -4 5 2 5 -1 4 -3 5 2 4 1 5 7 5 -1 4 -1 5 -1 4 -1 5 1 5 2 4 -1 5 3 4 1 5 4 5 -2 4 0 5 -2 4 1 5 -1 5 -2 4 -2 5 2 4 5 5 2 5 -3 4 -3 5 5 4 0 5 0 5 1 4 -1 5 -2 4 -2 5 1 5 0 4 5 5 -5 4 -2 5 1 5 -7 4 -9 5 -11 4 -7 5 -14 5 -22 4 -18 5 -17 4 4 5 -9 5 4 4 1 5 9 4 13 5 9 5 -13 4 -20 5 -12 4 -9 5 -12 5 -4 4 4 5 -7 4 0 5 -2 5 -15 4 -12 5 -5 4 -1 5 -6 5 -1 4 3 5 3 4 6 5 7 5 -3 4 -3 5 -1 4 4 5 -5 5 4 4 -9 5 -11 4 -3 5 9 5 1 4 11 5 -12 4 -8 5 -10 5 -6 4 -1 5 11 4 -4 5 -1 5 5 4 -4 5 -3 4 0 5 6 5 4 4 2 5 3 4 3 5 -2 5 2 4 0 5 3 4 -3 5 6 5 -3 4 -14 5 -4 4 -4 5 1 5 -6 4 12 5 -1 4 -5 5 0 5 -6 4 -1 5 3 4 6 5 -6 5 2 4 0 5 1 4 3 5 -9 5 9 4 -7 5 -3 4 -1 5 3 5 -9 4 -5 5 -4 4 -12" transform="scale(0.5)" fill="none" stroke="#1853d2" stroke-width="5.2" stroke-linejoin="round"/>
<path d="M1636 3043l5 0 4 -1 5 3 5 -2 4 -2 5 1 4 -3 5 -3 5 4 4 2 5 0 4 -3 5 0 5 0 4 1 5 5 4 -2 5 1 5 0 4 1 5 -2 4 2 5 -1 5 5 4 -2 5 3 4 1 5 0 5 6 4 -3 5 -2 4 -3 5 -3 5 3 4 -1 5 1 4 0 5 -4 5 -2 4 -1 5 1 4 -1 5 -2 5 -2 4 2 5 1 4 -1 5 2 5 -1 4 -3 5 1 4 5 5 -3 5 -2 4 -1 5 3 4 1 5 3 5 -3 4 -3 5 -1 4 3 5 1 5 0 4 2 5 1 4 0 5 -2 5 0 4 -1 5 2 4 0 5 -2 5 3 4 1 5 1 4 -2 5 -2 5 2 4 -1 5 0 4 0 5 2 5 -2 4 -2 5 3 4 2 5 -1 5 -1 4 2 5 0 4 -2 5 4 5 1 4 1 5 0 4 0 5 -3 5 0 4 0 5 3 4 -6 5 -1 5 2 4 4 5 2 4 0 5 1 5 -1 4 -4 5 -6 4 -1 5 0 5 -2 4 1 5 3 4 2 5 0 5 -1 4 -2 5 1 4 -2 5 -3 5 0 4 4 5 -1 4 3 5 -4 5 0 4 1 5 -1 4 -1 5 1 5 -2 4 -1 5 2 4 1 5 -4 5 4 4 -1 5 -4 4 3 5 -1 5 2 4 -3 5 -1 4 -3 5 4 5 2 4 -2 5 -1 4 0 5 4 5 -13 4 -18 5 -22 4 -12 5 -22 5 -2 4 -6 5 -10 4 -15 5 -24 5 55 4 60 5 27 4 -2 5 3 5 -23 4 -28 5 -30 4 -38 5 -39 5 0 4 -4 5 -20 4 -9 5 -7 5 -11 4 -19 5 -5 4 5 5 -1 5 -1 4 -2 5 -5 4 -9 5 -13 5 -12 4 1 5 -5 4 5 5 -8 5 -12 4 7 5 -3 4 1 5 -4 5 -7 4 -10 5 -2 4 -9 5 -4 5 -4 4 -20 5 -3 4 -6 5 -10 5 9 4 -11 5 -13 4 -9 5 1 5 5 4 2 5 12 4 9 5 -9 5 9 4 -5 5 -1 4 3 5 -10 5 -5 4 -5 5 -10 4 -9 5 1 5 -9 4 10 5 10 4 9 5 10 5 4 4 3 5 0 4 -11 5 -14 5 7 4 -10 5 0 4 0 5 4 5 -7 4 1 5 -2 4 0" transform="scale(0.5)" fill="none" stroke="#1342cd" stroke-width="5.2" stroke-linejoin="round"/>
<path d="M1636 3042l5 -1 4 0 5 -3 5 4 4 0 5 -1 4 0 5 -3 5 -3 4 1 5 -2 4 3 5 -2 5 4 4 1 5 -1 4 -1 5 -1 5 1 4 -5 5 0 4 -4 5 0 5 -3 4 -2 5 -1 4 -5 5 -4 5 -1 4 -5 5 -3 4 -1 5 1 5 1 4 -1 5 0 4 -1 5 -4 5 -4 4 3 5 8 4 -3 5 0 5 1 4 2 5 -2 4 3 5 0 5 2 4 -3 5 -1 4 -7 5 -1 5 -2 4 1 5 -1 4 -3 5 0 5 1 4 4 5 -6 4 5 5 -1 5 -2 4 0 5 0 4 0 5 -1 5 20 4 17 5 6 4 -3 5 0 5 -3 4 -5 5 -6 4 -1 5 -1 5 1 4 -2 5 -4 4 1 5 -1 5 5 4 -1 5 5 4 2 5 0 5 3 4 6 5 3 4 1 5 6 5 7 4 -1 5 1 4 -2 5 -3 5 -1 4 -1 5 -4 4 -3 5 -2 5 0 4 1 5 -1 4 1 5 4 5 1 4 2 5 0 4 3 5 0 5 -3 4 1 5 3 4 -1 5 -1 5 -4 4 2 5 -2 4 2 5 -1 5 -1 4 2 5 2 4 -4 5 0 5 1 4 0 5 -2 4 2 5 -1 5 -1 4 -2 5 0 4 2 5 4 5 0 4 -2 5 0 4 1 5 -1 5 -1 4 3 5 0 4 0 5 1 5 -1 4 -1 5 -2 4 -2 5 -2 5 0 4 1 5 1 4 1 5 3 5 1 4 2 5 -3 4 -5 5 -5 5 -1 4 -2 5 -3 4 1 5 -4 5 -20 4 -14 5 -16 4 -18 5 -9 5 -2 4 -2 5 -1 4 0 5 -5 5 -9 4 -9 5 -12 4 -2 5 -11 5 4 4 -3 5 0 4 2 5 4 5 -1 4 -4 5 2 4 8 5 -9 5 -6 4 8 5 1 4 -5 5 3 5 -1 4 -3 5 -5 4 -8 5 -5 5 0 4 1 5 -6 4 1 5 -5 5 -1 4 1 5 6 4 2 5 4 5 5 4 0 5 -4 4 8 5 6 5 -2 4 -10 5 -3 4 -1 5 -4 5 4 4 -1 5 1 4 5 5 1 5 2 4 -10 5 8 4 -1 5 4 5 -4 4 4 5 0 4 1 5 -2 5 4 4 4 5 -1 4 -5 5 -1 5 -4 4 0 5 9 4 -7" transform="scale(0.5)" fill="none" stroke="#0f32c8" stroke-width="5.2" stroke-linejoin="round"/>
<path d="M1636 3043l5 4 4 3 5 -1 5 3 4 -4 5 -5 4 -2 5 0 5 0 4 2 5 -2 4 1 5 0 5 -5 4 1 5 0 4 2 5 0 5 -1 4 -2 5 -1 4 -3 5 1 5 -1 4 4 5 -3 4 -1 5 -3 5 1 4 4 5 -4 4 2 5 3 5 -3 4 -1 5 1 4 -2 5 1 5 4 4 2 5 -2 4 2 5 -1 5 -2 4 0 5 5 4 -2 5 3 5 -2 4 -4 5 -1 4 5 5 -1 5 2 4 -3 5 0 4 4 5 -2 5 4 4 -4 5 1 4 -2 5 -6 5 -1 4 -2 5 1 4 -2 5 2 5 1 4 -1 5 2 4 -3 5 1 5 1 4 -2 5 -2 4 -2 5 2 5 3 4 1 5 0 4 -1 5 0 5 0 4 3 5 2 4 -2 5 1 5 3 4 -3 5 1 4 3 5 -2 5 2 4 2 5 -2 4 4 5 -2 5 4 4 -2 5 -4 4 4 5 0 5 -1 4 4 5 0 4 3 5 -2 5 -1 4 -1 5 1 4 -1 5 1 5 -1 4 -1 5 -2 4 1 5 1 5 4 4 2 5 0 4 0 5 -5 5 -2 4 -4 5 -1 4 -5 5 1 5 6 4 -4 5 -1 4 2 5 -5 5 4 4 4 5 -4 4 3 5 1 5 -2 4 -2 5 -3 4 -2 5 3 5 2 4 -8 5 -4 4 -1 5 -1 5 -2 4 -3 5 4 4 1 5 8 5 1 4 1 5 3 4 0 5 -9 5 -24 4 -30 5 -13 4 -20 5 -25 5 -3 4 -10 5 1 4 -6 5 -21 5 2 4 -13 5 -3 4 6 5 2 5 -4 4 5 5 4 4 8 5 10 5 2 4 -3 5 -6 4 -6 5 4 5 2 4 -7 5 -12 4 -2 5 -9 5 -19 4 7 5 -22 4 4 5 -5 5 9 4 -7 5 -3 4 9 5 12 5 -6 4 -1 5 -4 4 -5 5 5 5 3 4 -19 5 21 4 -6 5 -1 5 10 4 9 5 -6 4 4 5 12 5 0 4 -9 5 0 4 -11 5 3 5 2 4 6 5 -13 4 -11 5 9 5 3 4 -10 5 -3 4 4 5 -2 5 -18 4 4 5 -7 4 11 5 -2 5 -5 4 -6 5 -3 4 8 5 7 5 9 4 6 5 -2 4 0 5 14 5 -11 4 4 5 -9 4 -11" transform="scale(0.5)" fill="none" stroke="#0d29b4" stroke-width="5.2" stroke-linejoin="round"/>
<path d="M1636 3043l5 0 4 -2 5 -2 5 -1 4 0 5 4 4 -2 5 0 5 5 4 0 5 -11 4 -11 5 -16 5 -5 4 -12 5 -8 4 0 5 -3 5 0 4 8 5 -1 4 -1 5 1 5 -5 4 -2 5 6 4 0 5 1 5 -9 4 -1 5 4 4 9 5 -1 5 1 4 0 5 6 4 -2 5 -3 5 1 4 1 5 -2 4 -1 5 5 5 -4 4 -1 5 -1 4 4 5 1 5 -2 4 -2 5 -5 4 -2 5 -4 5 1 4 -2 5 -2 4 3 5 -1 5 -4 4 -1 5 -5 4 -12 5 2 5 0 4 -7 5 2 4 -3 5 2 5 -7 4 8 5 -4 4 -5 5 -1 5 -3 4 6 5 0 4 5 5 9 5 2 4 0 5 2 4 -10 5 -1 5 6 4 -10 5 -5 4 -3 5 7 5 -1 4 0 5 -1 4 3 5 0 5 0 4 6 5 -3 4 2 5 3 5 0 4 0 5 -2 4 -4 5 2 5 2 4 -1 5 -2 4 -5 5 3 5 -2 4 1 5 0 4 -1 5 -8 5 0 4 5 5 1 4 -1 5 0 5 -9 4 -2 5 2 4 -13 5 -3 5 -10 4 1 5 -5 4 0 5 -1 5 -2 4 -5 5 -8 4 -10 5 1 5 -3 4 -3 5 2 4 1 5 -5 5 0 4 1 5 5 4 -9 5 -5 5 3 4 1 5 5 4 -5 5 -6 5 -5 4 0 5 1 4 1 5 -2 5 -5 4 -15 5 -2 4 -5 5 -9 5 13 4 8 5 0 4 -9 5 -8 5 -29 4 -23 5 -19 4 6 5 -5 5 0 4 1 5 -11 4 6 5 1 5 -3 4 -3 5 2 4 3 5 1 5 -3 4 10 5 -7 4 -6 5 -9 5 8 4 4 5 5 4 16 5 6 5 3 4 -19 5 -17 4 -21 5 -12 5 0 4 3 5 -10 4 -2 5 -6 5 -9 4 1 5 -4 4 1 5 3 5 6 4 -5 5 -8 4 4 5 6 5 -2 4 6 5 1 4 -10 5 2 5 7 4 -4 5 0 4 -9 5 -5 5 -6 4 -15 5 -14 4 12 5 7 5 -3 4 -8 5 -5 4 0 5 2 5 -3 4 -1 5 1 4 -1 5 3 5 7 4 4 5 7 4 12 5 18 5 5 4 15 5 -18 4 -12 5 -7 5 -13 4 -3 5 2 4 1" transform="scale(0.5)" fill="none" stroke="#0b21a0" stroke-width="5.2" stroke-linejoin="round"/>
<path d="M1636 3043l5 1 4 0 5 -2 5 0 4 -2 5 0 4 0 5 -1 5 -4 4 -4 5 5 4 2 5 2 5 5 4 -1 5 1 4 -2 5 -1 5 -1 4 5 5 -2 4 -1 5 -1 5 -1 4 -1 5 0 4 3 5 -1 5 -3 4 1 5 -3 4 -2 5 3 5 -5 4 -1 5 1 4 4 5 2 5 -1 4 -3 5 -1 4 1 5 4 5 -2 4 0 5 -1 4 -5 5 2 5 -2 4 -1 5 -2 4 -3 5 2 5 -2 4 6 5 0 4 -2 5 -1 5 -4 4 7 5 -1 4 1 5 0 5 0 4 1 5 2 4 1 5 -3 5 -3 4 4 5 0 4 -1 5 2 5 1 4 2 5 -1 4 -1 5 0 5 7 4 -2 5 0 4 -6 5 7 5 2 4 0 5 2 4 -6 5 0 5 -2 4 -1 5 3 4 1 5 3 5 -1 4 -1 5 1 4 0 5 -2 5 2 4 0 5 -1 4 0 5 1 5 -2 4 3 5 5 4 0 5 -3 5 0 4 2 5 -2 4 -2 5 -5 5 0 4 1 5 -1 4 3 5 -2 5 2 4 2 5 -1 4 1 5 -4 5 -2 4 -1 5 -6 4 4 5 -4 5 4 4 -1 5 -1 4 -4 5 -2 5 -4 4 -3 5 0 4 -5 5 2 5 3 4 7 5 1 4 3 5 4 5 5 4 0 5 -2 4 3 5 4 5 -1 4 -1 5 -2 4 -4 5 4 5 -3 4 6 5 -1 4 2 5 -1 5 6 4 3 5 -2 4 -3 5 -1 5 0 4 -2 5 -1 4 -3 5 -3 5 -3 4 4 5 -1 4 3 5 1 5 -5 4 -2 5 -5 4 -1 5 -5 5 -42 4 -41 5 -25 4 -19 5 0 5 -6 4 1 5 3 4 -5 5 6 5 -8 4 -10 5 2 4 4 5 -5 5 2 4 1 5 1 4 1 5 -6 5 10 4 8 5 3 4 -4 5 -8 5 -3 4 6 5 -5 4 -1 5 3 5 -2 4 -3 5 -1 4 0 5 0 5 2 4 -7 5 -4 4 -10 5 -1 5 3 4 -13 5 -3 4 -6 5 -15 5 8 4 2 5 7 4 15 5 0 5 -2 4 -6 5 -3 4 -10 5 -3 5 -3 4 7 5 -7 4 -8 5 3 5 3 4 -10 5 6 4 -5 5 18 5 -4 4 -6 5 -2 4 1" transform="scale(0.5)" fill="none" stroke="#0a198c" stroke-width="5.2" stroke-linejoin="round"/>
<path d="M256 3778l5 8 4 -6 5 -1 5 -6 4 6 5 -3 4 7 5 4 5 -2 4 -1 5 -1 4 0 5 5 5 1 4 -2 5 -2 4 4 5 -3 5 -4 4 1 5 0 4 -4 5 -2 5 6 4 -1 5 2 4 -1 5 9 5 -2 4 -3 5 -27 4 -48 5 -51 5 -60 4 -33 5 -26 4 -15 5 -13 5 -17 4 -6 5 -14 4 -4 5 -10 5 -3 4 -6 5 -6 4 -4 5 -6 5 -3 4 2 5 28 4 40 5 33 5 35 4 14 5 16 4 15 5 24 5 14 4 10 5 -2 4 14 5 4 5 -19 4 -12 5 -11 4 22 5 -1 5 -11 4 5 5 -8 4 -18 5 -11 5 -19 4 -20 5 -18 4 -2 5 -18 5 -21 4 -28 5 15 4 -3 5 -18 5 3 4 1 5 0 4 -14 5 -2 5 2 4 -16 5 3 4 -1 5 12 5 0 4 -7 5 3 4 5 5 -8 5 -3 4 -14 5 7 4 21 5 5 5 1 4 4 5 -17 4 14 5 -2 5 10 4 3 5 2 4 8 5 -2 5 -2 4 12 5 9 4 1 5 -14 5 3 4 18 5 12 4 -17 5 5 5 -10 4 14 5 6 4 19 5 8 5 4 4 8 5 -18 4 3 5 6 5 -2 4 -7 5 1 4 0 5 -4 5 -1 4 -12 5 -26 4 9 5 -7 5 2 4 -3 5 -6 4 8 5 -11 5 -8 4 3 5 4 4 -18 5 -4 5 -1 4 -8 5 -30 4 -6 5 3 5 -12 4 19 5 14 4 1 5 -2 5 -15 4 -10 5 -6 4 -16 5 7 5 -9 4 -10 5 -13 4 9 5 -11 5 8 4 -7 5 -17 4 -12 5 -12 5 -1 4 -12 5 -15 4 -1 5 10 5 6 4 -19 5 -4 4 -3 5 -4 5 -8 4 -23 5 1 4 -2 5 0 5 -22 4 1 5 14 4 9 5 -6 5 -18 4 -15 5 7 4 20 5 1 5 -8 4 -3 5 9 4 10 5 -11 5 27 4 2 5 8 4 -5 5 3 5 -3 4 -7 5 5 4 -8 5 15 5 -5 4 7 5 -30 4 -18 5 -13 5 -9 4 26 5 7 4 -8 5 8 5 -3 4 -19 5 18 4 16 5 -5 5 1 4 5 5 -5 4 0 5 1 5 -2 4 5 5 2 4 10 5 9 5 -5 4 1 5 11 4 -7" transform="scale(0.5)" fill="none" stroke="#f8cccc" stroke-width="5.2" stroke-linejoin="round"/>
<path d="M256 3768l5 4 4 0 5 -2 5 -3 4 -5 5 -2 4 -1 5 -6 5 -2 4 4 5 3 4 11 5 -10 5 5 4 -3 5 -1 4 -2 5 9 5 6 4 4 5 1 4 -7 5 1 5 -1 4 8 5 -2 4 -3 5 -3 5 -2 4 3 5 2 4 -17 5 -81 5 -60 4 -24 5 -29 4 -27 5 -7 5 -6 4 -3 5 -14 4 5 5 3 5 -9 4 -1 5 -10 4 14 5 2 5 -29 4 -26 5 12 4 41 5 33 5 31 4 38 5 12 4 5 5 0 5 11 4 -8 5 3 4 15 5 10 5 -3 4 -18 5 2 4 10 5 -4 5 13 4 3 5 -7 4 -11 5 -3 5 -8 4 9 5 2 4 7 5 16 5 11 4 -17 5 16 4 2 5 7 5 1 4 0 5 -19 4 -9 5 2 5 1 4 14 5 5 4 -13 5 -5 5 -13 4 -13 5 9 4 -12 5 -25 5 21 4 -7 5 12 4 8 5 7 5 10 4 1 5 -7 4 -7 5 10 5 3 4 2 5 2 4 7 5 -17 5 7 4 2 5 -10 4 3 5 -1 5 -16 4 -1 5 -17 4 -16 5 -2 5 -3 4 2 5 6 4 9 5 15 5 6 4 -1 5 -3 4 -17 5 13 5 -7 4 -13 5 -25 4 -11 5 -10 5 -9 4 -5 5 2 4 -14 5 -19 5 8 4 3 5 -16 4 0 5 -10 5 2 4 -16 5 13 4 -6 5 -17 5 8 4 7 5 2 4 -4 5 -4 5 -3 4 -8 5 17 4 0 5 -10 5 7 4 -4 5 1 4 -16 5 -18 5 17 4 -1 5 9 4 -5 5 10 5 -8 4 4 5 -8 4 -12 5 -9 5 -8 4 -4 5 -12 4 10 5 14 5 -11 4 2 5 8 4 -12 5 22 5 -16 4 -2 5 -27 4 -20 5 -26 5 -3 4 2 5 -11 4 8 5 -22 5 -1 4 34 5 -14 4 1 5 -12 5 14 4 14 5 8 4 -3 5 15 5 -1 4 9 5 -2 4 4 5 0 5 -11 4 -4 5 -13 4 -5 5 1 5 -19 4 6 5 -3 4 14 5 -9 5 -5 4 7 5 9 4 -19 5 -1 5 2 4 -8 5 5 4 -6 5 9 5 -9 4 16 5 -14 4 -7 5 11 5 3 4 -13 5 -14 4 -20 5 1 5 -12 4 -4 5 -10 4 -7" transform="scale(0.5)" fill="none" stroke="#f5b6b6" stroke-width="5.2" stroke-linejoin="round"/>
<path d="M256 3777l5 2 4 1 5 1 5 -2 4 -1 5 -6 4 3 5 -1 5 -2 4 -4 5 -1 4 0 5 1 5 -3 4 -2 5 4 4 6 5 -1 5 2 4 -6 5 0 4 -1 5 2 5 -1 4 -5 5 -1 4 5 5 -2 5 0 4 -5 5 3 4 -3 5 5 5 2 4 1 5 2 4 4 5 -8 5 2 4 -3 5 -2 4 0 5 1 5 0 4 -2 5 -5 4 -10 5 0 5 3 4 -2 5 -5 4 2 5 2 5 6 4 2 5 3 4 -3 5 0 5 2 4 -2 5 4 4 8 5 -4 5 -5 4 2 5 -5 4 7 5 1 5 -35 4 -37 5 -18 4 -34 5 -23 5 -5 4 -1 5 -13 4 1 5 -11 5 -6 4 -14 5 8 4 9 5 0 5 -13 4 23 5 16 4 -5 5 -7 5 -2 4 -8 5 6 4 5 5 5 5 6 4 -12 5 5 4 1 5 -8 5 11 4 14 5 13 4 2 5 14 5 8 4 -1 5 -6 4 11 5 7 5 -2 4 2 5 -4 4 -1 5 0 5 -16 4 2 5 -10 4 -14 5 -7 5 19 4 -6 5 -16 4 11 5 -3 5 2 4 -8 5 -4 4 7 5 10 5 -5 4 -16 5 1 4 1 5 0 5 -6 4 -10 5 3 4 7 5 -16 5 -12 4 -2 5 -5 4 12 5 13 5 -5 4 -9 5 3 4 -9 5 -9 5 2 4 -27 5 -2 4 21 5 6 5 3 4 -10 5 -5 4 9 5 -6 5 -6 4 -5 5 17 4 8 5 3 5 -3 4 -7 5 -4 4 0 5 -5 5 -6 4 -9 5 -7 4 -18 5 11 5 -14 4 -11 5 11 4 9 5 -4 5 -10 4 2 5 11 4 -13 5 1 5 22 4 -13 5 -11 4 -5 5 -9 5 -15 4 7 5 21 4 12 5 -22 5 7 4 20 5 5 4 -13 5 -1 5 -3 4 6 5 -1 4 -9 5 1 5 -9 4 -6 5 4 4 -13 5 1 5 -7 4 -6 5 4 4 3 5 14 5 3 4 0 5 9 4 2 5 16 5 5 4 3 5 15 4 -1 5 18 5 6 4 -14 5 1 4 11 5 -7 5 5 4 17 5 9 4 8 5 3 5 -7 4 19 5 -10 4 -9 5 11 5 7 4 1 5 -7 4 11 5 -8 5 -13 4 16 5 8 4 -5" transform="scale(0.5)" fill="none" stroke="#f19d9d" stroke-width="5.2" stroke-linejoin="round"/>
<path d="M256 3768l5 5 4 -5 5 4 5 4 4 -3 5 -2 4 3 5 -8 5 4 4 -2 5 2 4 -2 5 7 5 -3 4 -3 5 -1 4 5 5 4 5 3 4 3 5 -7 4 -2 5 0 5 -4 4 -4 5 -4 4 -1 5 6 5 3 4 4 5 -8 4 3 5 -1 5 -2 4 2 5 1 4 4 5 -5 5 -1 4 3 5 2 4 1 5 -2 5 0 4 -14 5 3 4 3 5 0 5 1 4 -9 5 -3 4 0 5 1 5 3 4 -7 5 -4 4 -1 5 1 5 3 4 -3 5 -11 4 -6 5 -3 5 -4 4 -6 5 -8 4 -1 5 13 5 0 4 1 5 -2 4 0 5 -9 5 -7 4 -3 5 -7 4 1 5 -11 5 -3 4 -16 5 -18 4 -8 5 -9 5 11 4 -8 5 -24 4 -10 5 -26 5 -8 4 -3 5 9 4 -11 5 -11 5 0 4 -10 5 0 4 -3 5 -7 5 -17 4 -3 5 -17 4 -8 5 1 5 -13 4 9 5 8 4 -10 5 -18 5 -2 4 -5 5 -3 4 -21 5 -3 5 -7 4 -15 5 13 4 -5 5 -9 5 -4 4 8 5 -4 4 6 5 6 5 -9 4 16 5 0 4 2 5 1 5 18 4 -14 5 5 4 11 5 1 5 -2 4 1 5 1 4 14 5 1 5 -10 4 -5 5 1 4 -21 5 11 5 -7 4 -13 5 -6 4 10 5 13 5 -11 4 -1 5 8 4 0 5 -16 5 -17 4 9 5 -9 4 16 5 1 5 -28 4 -17 5 0 4 16 5 21 5 -16 4 1 5 2 4 5 5 -4 5 12 4 9 5 -7 4 4 5 -11 5 2 4 8 5 13 4 -9 5 -2 5 -1 4 13 5 -4 4 17 5 17 5 -8 4 -1 5 5 4 4 5 9 5 12 4 -13 5 -16 4 0 5 0 5 -4 4 -16 5 -11 4 9 5 -7 5 4 4 7 5 -5 4 -3 5 -7 5 24 4 24 5 4 4 11 5 -3 5 -14 4 -8 5 6 4 1 5 4 5 -4 4 7 5 -9 4 12 5 -4 5 7 4 -4 5 12 4 13 5 -1 5 20 4 9 5 8 4 -5 5 1 5 -3 4 20 5 6 4 -3 5 7 5 4 4 8 5 -9 4 -1 5 -20 5 -1 4 -8 5 -4 4 -11 5 -14 5 -1 4 0 5 -11 4 -13" transform="scale(0.5)" fill="none" stroke="#ee7e7c" stroke-width="5.2" stroke-linejoin="round"/>
<path d="M256 3778l5 4 4 -4 5 0 5 -3 4 -5 5 2 4 -4 5 2 5 -2 4 8 5 -4 4 -2 5 3 5 8 4 -3 5 -2 4 9 5 1 5 1 4 -2 5 1 4 0 5 -2 5 -2 4 8 5 -5 4 -6 5 -1 5 13 4 1 5 -1 4 -2 5 0 5 -2 4 4 5 8 4 0 5 -2 5 -8 4 0 5 6 4 0 5 12 5 -5 4 2 5 -6 4 5 5 7 5 2 4 4 5 -3 4 -5 5 4 5 -3 4 4 5 -5 4 -8 5 -5 5 -1 4 1 5 3 4 4 5 1 5 1 4 3 5 2 4 -1 5 -3 5 4 4 -4 5 -5 4 0 5 1 5 -1 4 3 5 2 4 -7 5 -2 5 -2 4 1 5 0 4 -4 5 3 5 -1 4 -1 5 -2 4 4 5 -1 5 -7 4 0 5 0 4 9 5 -8 5 -1 4 -3 5 -1 4 2 5 1 5 -9 4 3 5 -4 4 1 5 3 5 -4 4 -2 5 6 4 3 5 -1 5 3 4 -6 5 1 4 3 5 -1 5 1 4 0 5 8 4 -3 5 -3 5 1 4 0 5 9 4 -4 5 3 5 4 4 -1 5 -6 4 6 5 -4 5 8 4 -1 5 6 4 -4 5 -3 5 5 4 4 5 -5 4 -1 5 -3 5 -22 4 -29 5 -31 4 -32 5 -38 5 -32 4 -19 5 -30 4 -20 5 -34 5 -19 4 12 5 3 4 2 5 19 5 6 4 2 5 25 4 0 5 8 5 6 4 9 5 14 4 1 5 11 5 -2 4 3 5 1 4 4 5 18 5 6 4 -1 5 6 4 -11 5 -8 5 -13 4 19 5 19 4 14 5 -1 5 -6 4 -1 5 -11 4 1 5 12 5 0 4 -24 5 10 4 5 5 8 5 -1 4 -12 5 -1 4 4 5 -11 5 -3 4 -18 5 -9 4 4 5 -8 5 -10 4 -1 5 2 4 24 5 -3 5 20 4 3 5 5 4 6 5 -27 5 -4 4 9 5 -19 4 -11 5 3 5 -4 4 5 5 -17 4 5 5 -3 5 -25 4 11 5 -7 4 -17 5 -1 5 -15 4 4 5 8 4 6 5 11 5 1 4 -8 5 8 4 -4 5 -1 5 -9 4 -2 5 -11 4 9 5 -17 5 2 4 8 5 -25 4 -6 5 -7 5 -7 4 1 5 2 4 -8" transform="scale(0.5)" fill="none" stroke="#ec5c58" stroke-width="5.2" stroke-linejoin="round"/>
<path d="M256 3778l5 -4 4 -2 5 -1 5 4 4 -2 5 -3 4 2 5 1 5 -2 4 -2 5 1 4 -3 5 2 5 11 4 -11 5 1 4 6 5 9 5 0 4 -11 5 -3 4 0 5 7 5 -2 4 -5 5 -1 4 8 5 1 5 -1 4 -7 5 4 4 -9 5 -5 5 4 4 -1 5 -1 4 0 5 0 5 7 4 -8 5 -6 4 7 5 1 5 0 4 -1 5 2 4 4 5 -5 5 -1 4 2 5 2 4 -9 5 0 5 1 4 3 5 5 4 -2 5 -1 5 2 4 -6 5 8 4 0 5 -3 5 5 4 0 5 5 4 0 5 -4 5 7 4 -1 5 -5 4 3 5 -2 5 3 4 4 5 1 4 2 5 -1 5 4 4 8 5 -5 4 -2 5 9 5 2 4 -9 5 -3 4 -2 5 -1 5 4 4 -1 5 3 4 -4 5 -3 5 3 4 1 5 -8 4 2 5 2 5 9 4 2 5 -4 4 -4 5 -2 5 5 4 1 5 3 4 1 5 -7 5 1 4 -7 5 4 4 -2 5 1 5 -2 4 -3 5 5 4 2 5 -7 5 -2 4 -1 5 -1 4 -1 5 -1 5 5 4 -5 5 -2 4 -1 5 3 5 4 4 4 5 -3 4 5 5 -1 5 0 4 -5 5 4 4 1 5 -5 5 3 4 -6 5 3 4 -2 5 -2 5 1 4 -6 5 -3 4 -3 5 13 5 5 4 2 5 -2 4 -5 5 -8 5 8 4 7 5 -4 4 -5 5 -1 5 -3 4 0 5 -6 4 -4 5 -1 5 -106 4 -114 5 -92 4 -82 5 -36 5 -46 4 -29 5 -13 4 44 5 26 5 23 4 30 5 25 4 13 5 -12 5 -6 4 -1 5 18 4 -13 5 8 5 -18 4 5 5 -1 4 -8 5 -9 5 -14 4 1 5 3 4 16 5 8 5 8 4 -1 5 -7 4 0 5 -7 5 -3 4 -10 5 -8 4 -1 5 5 5 -3 4 -20 5 -17 4 -13 5 -1 5 14 4 0 5 6 4 -12 5 -19 5 -4 4 -6 5 3 4 3 5 -5 5 -1 4 1 5 11 4 -4 5 12 5 6 4 16 5 19 4 -15 5 -1 5 -17 4 2 5 -22 4 -4 5 0 5 6 4 12 5 15 4 -14 5 -13 5 29 4 8 5 4 4 6 5 -16 5 11 4 8 5 1 4 9" transform="scale(0.5)" fill="none" stroke="#eb413c" stroke-width="5.2" stroke-linejoin="round"/>
<path d="M256 3777l5 -6 4 3 5 7 5 -5 4 0 5 -4 4 -10 5 3 5 -2 4 -1 5 0 4 -5 5 6 5 -3 4 1 5 -5 4 -2 5 1 5 4 4 -3 5 -1 4 3 5 -2 5 3 4 -1 5 -5 4 -2 5 2 5 -6 4 -8 5 -1 4 -1 5 6 5 -5 4 12 5 1 4 -1 5 1 5 2 4 5 5 -1 4 -4 5 -1 5 1 4 -44 5 -70 4 -67 5 -41 5 -55 4 6 5 19 4 22 5 26 5 25 4 38 5 76 4 46 5 -3 5 1 4 5 5 8 4 8 5 4 5 10 4 1 5 3 4 -5 5 -5 5 2 4 6 5 6 4 -4 5 3 5 0 4 -12 5 2 4 3 5 -3 5 -2 4 2 5 2 4 3 5 -10 5 -4 4 2 5 -3 4 -1 5 -8 5 -6 4 -2 5 4 4 -3 5 6 5 -12 4 -2 5 -11 4 -11 5 -1 5 -4 4 -2 5 1 4 -10 5 -11 5 2 4 -10 5 -4 4 4 5 -12 5 -1 4 4 5 -3 4 -10 5 -1 5 -1 4 13 5 -3 4 -10 5 -12 5 -4 4 2 5 1 4 -2 5 -4 5 0 4 4 5 -4 4 -3 5 0 5 -1 4 9 5 6 4 -12 5 -8 5 7 4 -1 5 -7 4 -14 5 -4 5 0 4 24 5 -6 4 4 5 12 5 -3 4 4 5 1 4 -17 5 -14 5 15 4 8 5 4 4 10 5 -2 5 1 4 10 5 7 4 -9 5 -6 5 1 4 10 5 -2 4 5 5 0 5 -8 4 1 5 -3 4 -8 5 -2 5 1 4 -7 5 0 4 2 5 -1 5 -5 4 12 5 -10 4 2 5 4 5 8 4 -8 5 4 4 2 5 7 5 -10 4 9 5 4 4 8 5 -10 5 -16 4 12 5 -24 4 11 5 19 5 -4 4 -6 5 -6 4 11 5 17 5 -10 4 -5 5 1 4 -5 5 -10 5 7 4 -21 5 12 4 0 5 -6 5 -12 4 -4 5 5 4 4 5 6 5 -2 4 -2 5 -7 4 -5 5 10 5 -1 4 11 5 -7 4 3 5 2 5 -17 4 -9 5 2 4 8 5 -6 5 2 4 -2 5 0 4 -2 5 -8 5 0 4 -17 5 -16 4 27 5 -3 5 3 4 -3 5 3 4 3 5 -10 5 7 4 -14 5 4 4 4" transform="scale(0.5)" fill="none" stroke="#e83632" stroke-width="5.2" stroke-linejoin="round"/>
<path d="M256 3767l5 6 4 0 5 1 5 -4 4 3 5 -1 4 5 5 2 5 1 4 -4 5 -2 4 2 5 6 5 0 4 -2 5 -3 4 9 5 -7 5 -4 4 1 5 0 4 -1 5 -4 5 -2 4 2 5 4 4 -5 5 2 5 3 4 -4 5 5 4 -4 5 0 5 -8 4 3 5 2 4 5 5 3 5 -4 4 0 5 2 4 1 5 1 5 -6 4 7 5 -5 4 -7 5 10 5 -5 4 -1 5 2 4 -2 5 1 5 -3 4 -60 5 -104 4 -79 5 2 5 5 4 -3 5 2 4 -2 5 -14 5 3 4 -9 5 -3 4 -7 5 9 5 8 4 -2 5 -8 4 -5 5 8 5 4 4 5 5 -5 4 6 5 -3 5 0 4 -11 5 -11 4 -14 5 -4 5 -1 4 -1 5 1 4 9 5 -6 5 -9 4 0 5 -8 4 -3 5 -9 5 -2 4 5 5 12 4 -5 5 0 5 -2 4 -15 5 -4 4 -13 5 -12 5 8 4 -7 5 26 4 5 5 7 5 -11 4 -5 5 15 4 9 5 -7 5 -6 4 -6 5 10 4 10 5 3 5 1 4 -5 5 -19 4 0 5 7 5 23 4 -18 5 2 4 -6 5 28 5 -22 4 10 5 8 4 4 5 -5 5 -8 4 17 5 -17 4 -7 5 -18 5 0 4 -11 5 -3 4 5 5 0 5 1 4 -17 5 -15 4 -9 5 -10 5 -17 4 -5 5 -5 4 13 5 -25 5 -6 4 -17 5 -9 4 7 5 -7 5 10 4 1 5 25 4 31 5 15 5 -4 4 2 5 -10 4 -13 5 -4 5 -7 4 -15 5 6 4 7 5 1 5 5 4 -14 5 10 4 -1 5 14 5 -5 4 -2 5 -1 4 -12 5 3 5 -12 4 -7 5 1 4 8 5 -16 5 8 4 -14 5 0 4 14 5 11 5 2 4 7 5 17 4 -16 5 6 5 5 4 0 5 -9 4 3 5 -5 5 9 4 -4 5 3 4 -9 5 -4 5 -2 4 5 5 5 4 3 5 -5 5 -8 4 5 5 14 4 15 5 7 5 -23 4 -10 5 -5 4 2 5 5 5 -15 4 -12 5 -16 4 -8 5 2 5 -15 4 -7 5 11 4 8 5 13 5 14 4 21 5 9 4 7 5 -6 5 -11 4 8 5 5 4 -13 5 3 5 -3 4 -5 5 0 4 -5" transform="scale(0.5)" fill="none" stroke="#e62b29" stroke-width="5.2" stroke-linejoin="round"/>
<path d="M256 3768l5 -2 4 1 5 3 5 1 4 1 5 -3 4 -4 5 6 5 5 4 -1 5 1 4 2 5 -1 5 0 4 -2 5 -1 4 1 5 1 5 3 4 0 5 2 4 2 5 -1 5 3 4 -2 5 5 4 -1 5 -2 5 -2 4 1 5 -2 4 0 5 -2 5 -2 4 5 5 1 4 3 5 -3 5 5 4 5 5 -3 4 5 5 -1 5 1 4 1 5 5 4 -2 5 0 5 0 4 -6 5 1 4 0 5 4 5 6 4 2 5 -6 4 -2 5 2 5 -4 4 0 5 0 4 -6 5 6 5 -8 4 -2 5 2 4 0 5 -2 5 -1 4 7 5 2 4 0 5 0 5 -4 4 -6 5 1 4 -6 5 0 5 -2 4 2 5 2 4 0 5 1 5 3 4 4 5 -4 4 -1 5 2 5 -1 4 -2 5 2 4 3 5 -1 5 -1 4 -1 5 2 4 -2 5 0 5 -3 4 3 5 4 4 -1 5 6 5 5 4 4 5 -3 4 -1 5 -4 5 -6 4 2 5 0 4 -1 5 -1 5 -7 4 4 5 -1 4 -1 5 1 5 -4 4 1 5 -7 4 -8 5 1 5 -3 4 2 5 2 4 0 5 -3 5 5 4 1 5 5 4 -4 5 -6 5 7 4 1 5 0 4 1 5 3 5 -5 4 4 5 2 4 -7 5 1 5 2 4 -4 5 2 4 3 5 1 5 -1 4 -4 5 -3 4 0 5 -5 5 -58 4 -53 5 -45 4 -60 5 -48 5 -14 4 -25 5 -10 4 -25 5 -5 5 -13 4 11 5 10 4 1 5 -3 5 14 4 -2 5 9 4 11 5 10 5 -8 4 18 5 -2 4 4 5 -9 5 -2 4 0 5 6 4 4 5 -14 5 1 4 -6 5 1 4 -3 5 -6 5 -15 4 22 5 -14 4 10 5 1 5 8 4 -5 5 -4 4 -10 5 -9 5 -9 4 2 5 -12 4 -12 5 -4 5 -3 4 -14 5 -7 4 19 5 -14 5 -7 4 -3 5 7 4 -2 5 -1 5 -4 4 1 5 -17 4 -17 5 1 5 14 4 6 5 11 4 -11 5 -2 5 4 4 -9 5 21 4 -2 5 1 5 5 4 5 5 0 4 -1 5 6 5 6 4 3 5 3 4 -5 5 4 5 23 4 -6 5 -4 4 -10 5 4 5 5 4 -3 5 5 4 2" transform="scale(0.5)" fill="none" stroke="#e52725" stroke-width="5.2" stroke-linejoin="round"/>
<path d="M256 3777l5 -3 4 2 5 -3 5 -1 4 -1 5 -1 4 0 5 6 5 -7 4 1 5 -3 4 -5 5 -4 5 -7 4 1 5 6 4 8 5 7 5 1 4 2 5 0 4 15 5 -1 5 0 4 4 5 -2 4 -2 5 -5 5 -2 4 -3 5 -11 4 0 5 -3 5 6 4 -8 5 3 4 -1 5 -1 5 2 4 7 5 -4 4 0 5 -10 5 3 4 -2 5 -1 4 -4 5 7 5 0 4 -1 5 -1 4 -4 5 -4 5 11 4 -66 5 -96 4 -65 5 -3 5 3 4 16 5 -11 4 -9 5 12 5 -19 4 -11 5 -12 4 1 5 3 5 -23 4 2 5 -9 4 -2 5 7 5 30 4 26 5 -3 4 -6 5 -2 5 -21 4 16 5 27 4 -11 5 0 5 11 4 27 5 7 4 18 5 -9 5 -2 4 -31 5 -10 4 9 5 21 5 -15 4 0 5 -20 4 -36 5 -11 5 -18 4 -2 5 9 4 3 5 10 5 1 4 -5 5 10 4 0 5 -4 5 2 4 -3 5 -6 4 -16 5 -8 5 9 4 -14 5 9 4 4 5 -1 5 -1 4 -18 5 4 4 3 5 -7 5 10 4 -20 5 -1 4 5 5 -1 5 -10 4 9 5 -33 4 34 5 -9 5 5 4 -3 5 1 4 10 5 1 5 -10 4 -12 5 -8 4 7 5 14 5 -13 4 3 5 13 4 -27 5 -13 5 -7 4 5 5 5 4 -19 5 6 5 -6 4 11 5 4 4 0 5 -3 5 14 4 2 5 3 4 12 5 6 5 24 4 6 5 2 4 15 5 21 5 -1 4 -2 5 -10 4 -2 5 2 5 -5 4 -17 5 1 4 8 5 7 5 10 4 1 5 1 4 -3 5 -8 5 -5 4 -2 5 -1 4 -5 5 -7 5 6 4 0 5 3 4 -16 5 -5 5 -24 4 15 5 2 4 3 5 10 5 -10 4 -10 5 14 4 -5 5 -5 5 17 4 8 5 4 4 1 5 10 5 -10 4 5 5 8 4 -8 5 17 5 -8 4 18 5 -3 4 28 5 10 5 10 4 -2 5 9 4 -5 5 2 5 -14 4 14 5 -11 4 -12 5 -9 5 1 4 -8 5 -18 4 8 5 8 5 -11 4 2 5 20 4 -9 5 18 5 5 4 -5 5 -9 4 0 5 4 5 6 4 5 5 -11 4 10" transform="scale(0.5)" fill="none" stroke="#e31e1d" stroke-width="5.2" stroke-linejoin="round"/>
<path d="M256 3767l5 6 4 -8 5 2 5 3 4 -5 5 -3 4 -3 5 4 5 -3 4 1 5 7 4 1 5 -5 5 -4 4 3 5 3 4 -7 5 -1 5 -2 4 -7 5 -1 4 6 5 -5 5 -3 4 -4 5 4 4 -3 5 -1 5 0 4 1 5 4 4 1 5 5 5 -2 4 -2 5 9 4 -3 5 2 5 -4 4 5 5 -4 4 1 5 -3 5 0 4 1 5 4 4 0 5 -2 5 5 4 4 5 -4 4 -1 5 4 5 4 4 -5 5 1 4 0 5 -1 5 0 4 0 5 -11 4 -26 5 -22 5 -25 4 -20 5 -23 4 -20 5 -23 5 7 4 0 5 10 4 -2 5 -3 5 13 4 -3 5 2 4 -1 5 -6 5 20 4 -11 5 3 4 -14 5 9 5 8 4 2 5 1 4 -6 5 12 5 -3 4 5 5 1 4 6 5 1 5 5 4 3 5 4 4 6 5 6 5 1 4 10 5 1 4 -10 5 -3 5 -9 4 -5 5 0 4 15 5 -14 5 -1 4 8 5 5 4 2 5 -14 5 2 4 2 5 -1 4 21 5 -17 5 -6 4 -6 5 1 4 -2 5 0 5 1 4 0 5 -8 4 2 5 5 5 8 4 -9 5 2 4 -5 5 -5 5 9 4 11 5 14 4 -4 5 0 5 6 4 5 5 -2 4 -3 5 -10 5 -3 4 -4 5 3 4 -10 5 6 5 0 4 0 5 2 4 1 5 8 5 -12 4 -2 5 5 4 15 5 -12 5 1 4 -2 5 -4 4 -10 5 0 5 -15 4 13 5 -5 4 -4 5 -20 5 -4 4 4 5 -16 4 -11 5 -2 5 23 4 -8 5 -1 4 -4 5 12 5 8 4 -17 5 10 4 -2 5 0 5 -1 4 -7 5 -6 4 4 5 0 5 -1 4 -11 5 -5 4 -6 5 14 5 1 4 -3 5 -20 4 5 5 1 5 5 4 8 5 10 4 -10 5 4 5 -9 4 5 5 6 4 15 5 -12 5 5 4 10 5 -8 4 5 5 -11 5 -1 4 -9 5 -8 4 -2 5 9 5 17 4 -23 5 0 4 5 5 1 5 -2 4 7 5 -4 4 -7 5 1 5 -3 4 6 5 -5 4 12 5 -1 5 -21 4 8 5 5 4 3 5 -5 5 5 4 3 5 16 4 -2 5 6 5 4 4 -1 5 1 4 1" transform="scale(0.5)" fill="none" stroke="#e11616" stroke-width="5.2" stroke-linejoin="round"/>
<path d="M256 3777l5 3 4 -4 5 -4 5 -2 4 2 5 4 4 -2 5 -2 5 -5 4 -7 5 -1 4 1 5 -1 5 1 4 0 5 3 4 1 5 6 5 3 4 -3 5 3 4 -2 5 0 5 1 4 2 5 -6 4 3 5 2 5 -1 4 1 5 -4 4 0 5 4 5 -1 4 -8 5 5 4 0 5 -1 5 5 4 -3 5 0 4 0 5 3 5 3 4 -5 5 -3 4 2 5 7 5 0 4 0 5 -5 4 -1 5 2 5 0 4 0 5 3 4 -1 5 4 5 -7 4 -3 5 -1 4 -2 5 0 5 -2 4 3 5 -25 4 -47 5 -43 5 -47 4 -40 5 -17 4 8 5 4 5 5 4 -12 5 22 4 1 5 13 5 5 4 2 5 -2 4 17 5 -12 5 -4 4 14 5 4 4 -15 5 -8 5 2 4 0 5 12 4 4 5 0 5 -15 4 7 5 -16 4 -8 5 3 5 17 4 -4 5 2 4 -9 5 -3 5 0 4 1 5 0 4 -4 5 0 5 4 4 -7 5 -21 4 18 5 19 5 -9 4 -6 5 9 4 -7 5 -5 5 -7 4 -7 5 4 4 2 5 7 5 -7 4 -16 5 6 4 0 5 -7 5 5 4 6 5 -7 4 -4 5 -5 5 -4 4 -1 5 -13 4 -7 5 2 5 -2 4 9 5 3 4 19 5 -5 5 19 4 12 5 -10 4 4 5 -5 5 13 4 -7 5 0 4 2 5 15 5 10 4 17 5 -9 4 -1 5 -12 5 2 4 6 5 3 4 6 5 -6 5 19 4 0 5 -9 4 -8 5 20 5 -14 4 -6 5 10 4 5 5 8 5 9 4 -8 5 11 4 -8 5 2 5 -3 4 -12 5 -2 4 22 5 -15 5 -2 4 -8 5 0 4 3 5 4 5 13 4 -9 5 14 4 -10 5 -4 5 -5 4 7 5 -12 4 -1 5 -17 5 -15 4 11 5 -6 4 -1 5 -4 5 -11 4 -8 5 -2 4 -1 5 10 5 1 4 2 5 1 4 3 5 3 5 11 4 -7 5 -14 4 -4 5 -8 5 -4 4 -8 5 -17 4 14 5 1 5 10 4 8 5 0 4 9 5 -14 5 -1 4 -2 5 -3 4 11 5 -13 5 8 4 2 5 -9 4 -3 5 -12 5 15 4 -3 5 -5 4 -1 5 12 5 -17 4 -3 5 4 4 -9" transform="scale(0.5)" fill="none" stroke="#d21112" stroke-width="5.2" stroke-linejoin="round"/>
<path d="M256 3776l5 5 4 2 5 3 5 -1 4 -6 5 1 4 -3 5 7 5 -8 4 10 5 -5 4 0 5 7 5 -2 4 0 5 5 4 2 5 -4 5 -4 4 1 5 -1 4 -2 5 -3 5 0 4 -4 5 2 4 0 5 1 5 -4 4 -5 5 0 4 -2 5 -6 5 -1 4 -9 5 2 4 2 5 -2 5 6 4 3 5 -4 4 0 5 1 5 -2 4 -5 5 -7 4 2 5 -6 5 6 4 1 5 -1 4 0 5 -14 5 5 4 5 5 -1 4 -3 5 -1 5 0 4 10 5 -1 4 -2 5 -1 5 8 4 0 5 -4 4 -9 5 4 5 -6 4 -16 5 3 4 10 5 1 5 -1 4 9 5 -6 4 -3 5 9 5 -4 4 -13 5 -9 4 9 5 7 5 -5 4 1 5 5 4 -9 5 -8 5 -5 4 7 5 -6 4 5 5 2 5 -16 4 -10 5 3 4 -17 5 -23 5 -130 4 -68 5 -66 4 -83 5 -43 5 13 4 12 5 37 4 -3 5 13 5 31 4 25 5 -1 4 18 5 12 5 21 4 9 5 -7 4 -13 5 3 5 -13 4 -7 5 -30 4 -14 5 -20 5 9 4 3 5 26 4 11 5 0 5 -72 4 -66 5 18 4 21 5 20 5 18 4 29 5 22 4 29 5 -3 5 21 4 18 5 7 4 -18 5 13 5 5 4 5 5 -6 4 22 5 -5 5 3 4 -16 5 9 4 -4 5 10 5 11 4 1 5 -6 4 13 5 -3 5 -18 4 9 5 -22 4 0 5 -13 5 -3 4 3 5 -6 4 -6 5 3 5 -4 4 -1 5 -2 4 -5 5 14 5 -6 4 13 5 -4 4 11 5 -3 5 -8 4 14 5 2 4 -14 5 9 5 8 4 7 5 1 4 12 5 -30 5 -17 4 -1 5 -3 4 -8 5 -19 5 -8 4 -5 5 16 4 -8 5 14 5 -6 4 16 5 -20 4 3 5 5 5 -14 4 4 5 -2 4 20 5 14 5 -4 4 -6 5 -5 4 -19 5 1 5 -6 4 -10 5 13 4 17 5 -19 5 10 4 9 5 -4 4 24 5 -17 5 -5 4 -12 5 7 4 -8 5 -12 5 13 4 17 5 -7 4 -15 5 -31 5 -12 4 6 5 -9 4 -3 5 -6 5 5 4 5 5 0 4 19 5 23 5 -4 4 -3 5 -9 4 -10" transform="scale(0.5)" fill="none" stroke="#c20d0f" stroke-width="5.2" stroke-linejoin="round"/>
<path d="M256 3776l5 -2 4 -7 5 -2 5 8 4 -14 5 -4 4 -3 5 4 5 -4 4 -1 5 -2 4 2 5 -7 5 2 4 3 5 3 4 6 5 10 5 5 4 10 5 -5 4 -2 5 -5 5 -10 4 7 5 0 4 -1 5 -8 5 1 4 -8 5 -1 4 -8 5 4 5 4 4 -2 5 -1 4 0 5 -3 5 -11 4 7 5 0 4 -15 5 3 5 5 4 -23 5 16 4 3 5 -3 5 -14 4 -2 5 -8 4 7 5 5 5 2 4 12 5 8 4 -3 5 -5 5 -13 4 -8 5 5 4 3 5 16 5 3 4 -1 5 0 4 5 5 -13 5 13 4 -5 5 -8 4 -1 5 8 5 7 4 3 5 12 4 -1 5 3 5 -5 4 -1 5 3 4 -2 5 -7 5 -10 4 2 5 8 4 4 5 -4 5 -2 4 -1 5 2 4 -13 5 -12 5 -15 4 -1 5 -4 4 -1 5 -1 5 -1 4 -19 5 -31 4 -3 5 8 5 0 4 20 5 1 4 -3 5 7 5 1 4 -8 5 -14 4 -22 5 -5 5 2 4 3 5 1 4 -14 5 7 5 11 4 6 5 2 4 7 5 -7 5 -11 4 -12 5 -5 4 -12 5 -8 5 8 4 -8 5 -24 4 -23 5 6 5 -11 4 -10 5 -16 4 20 5 9 5 -15 4 -11 5 20 4 -17 5 14 5 -12 4 26 5 -3 4 -12 5 -5 5 23 4 15 5 -20 4 23 5 -16 5 -5 4 7 5 14 4 15 5 -18 5 0 4 7 5 13 4 -17 5 -5 5 3 4 6 5 -23 4 -19 5 -1 5 30 4 5 5 0 4 20 5 -22 5 11 4 -2 5 -16 4 -18 5 -21 5 16 4 1 5 -12 4 -6 5 2 5 21 4 -6 5 -5 4 1 5 -32 5 -16 4 -25 5 -2 4 38 5 -20 5 -3 4 24 5 -10 4 -27 5 12 5 -5 4 1 5 19 4 -26 5 2 5 -4 4 -9 5 14 4 4 5 -22 5 0 4 8 5 8 4 -22 5 34 5 -1 4 -1 5 -3 4 20 5 -5 5 4 4 8 5 27 4 20 5 -1 5 0 4 -1 5 17 4 -13 5 12 5 -2 4 2 5 -4 4 10 5 29 5 -4 4 1 5 1 4 2 5 -3 5 -8 4 -3 5 -14 4 -7 5 27 5 -21 4 25 5 -14 4 -6" transform="scale(0.5)" fill="none" stroke="#b40a0c" stroke-width="5.2" stroke-linejoin="round"/>
<path d="M256 3777l5 2 4 1 5 11 5 -1 4 -3 5 -3 4 -3 5 2 5 6 4 -4 5 -2 4 1 5 2 5 2 4 6 5 1 4 -7 5 1 5 -4 4 5 5 -2 4 7 5 2 5 -4 4 2 5 1 4 -3 5 1 5 1 4 -1 5 -3 4 -7 5 -11 5 -4 4 -6 5 7 4 -10 5 -3 5 -2 4 -6 5 -3 4 5 5 -2 5 -9 4 3 5 -4 4 2 5 -1 5 1 4 3 5 -3 4 -4 5 0 5 -2 4 -6 5 0 4 -4 5 0 5 -17 4 -5 5 20 4 6 5 11 5 5 4 5 5 16 4 19 5 5 5 6 4 -2 5 0 4 0 5 -2 5 -2 4 -1 5 6 4 5 5 1 5 -1 4 -3 5 2 4 1 5 1 5 -3 4 -7 5 -4 4 -6 5 5 5 4 4 -1 5 1 4 0 5 -6 5 -5 4 4 5 1 4 2 5 -3 5 5 4 7 5 -1 4 -2 5 0 5 5 4 5 5 1 4 7 5 -4 5 -3 4 -1 5 -2 4 1 5 -5 5 3 4 -1 5 2 4 5 5 -7 5 -3 4 0 5 -6 4 -2 5 5 5 -5 4 -3 5 0 4 7 5 3 5 2 4 -1 5 3 4 -5 5 -2 5 -2 4 2 5 5 4 -10 5 2 5 -1 4 4 5 -5 4 -4 5 4 5 -3 4 -2 5 -1 4 3 5 4 5 -5 4 -4 5 -14 4 -7 5 -5 5 -28 4 -14 5 -21 4 -36 5 -27 5 -20 4 -26 5 -27 4 -15 5 -20 5 -10 4 5 5 20 4 12 5 -2 5 -1 4 14 5 15 4 5 5 9 5 -4 4 -14 5 -8 4 -5 5 -3 5 -7 4 10 5 -11 4 -1 5 -13 5 3 4 -13 5 14 4 0 5 -20 5 -3 4 3 5 -5 4 -1 5 -3 5 -4 4 6 5 -2 4 5 5 -20 5 6 4 -5 5 9 4 -10 5 -20 5 -36 4 -5 5 -3 4 -6 5 -7 5 -4 4 -2 5 0 4 -17 5 -8 5 -9 4 -11 5 -5 4 -12 5 0 5 5 4 23 5 21 4 27 5 9 5 -19 4 -21 5 -9 4 -34 5 -2 5 35 4 16 5 26 4 33 5 19 5 -36 4 -24 5 -37 4 -8 5 -7 5 25 4 -2 5 5 4 0 5 30 5 -10 4 -4 5 -5 4 -12" transform="scale(0.5)" fill="none" stroke="#a00609" stroke-width="5.2" stroke-linejoin="round"/>
<path d="M256 3766l5 -3 4 -1 5 -1 5 2 4 -1 5 1 4 1 5 3 5 -2 4 4 5 -9 4 -7 5 -1 5 1 4 -3 5 -1 4 -2 5 12 5 -11 4 -1 5 -1 4 3 5 4 5 -3 4 2 5 6 4 -1 5 1 5 0 4 2 5 -7 4 1 5 -6 5 -5 4 1 5 1 4 -6 5 -7 5 10 4 -7 5 -6 4 -2 5 -3 5 1 4 -6 5 -2 4 -6 5 -1 5 4 4 1 5 5 4 -5 5 3 5 6 4 -11 5 4 4 3 5 -2 5 -4 4 7 5 4 4 2 5 -1 5 2 4 -4 5 5 4 4 5 -2 5 5 4 2 5 8 4 3 5 -3 5 -6 4 -2 5 -6 4 1 5 -3 5 5 4 2 5 0 4 0 5 -3 5 4 4 1 5 -2 4 5 5 -8 5 -3 4 1 5 -4 4 12 5 -1 5 -4 4 0 5 4 4 4 5 -4 5 -3 4 -11 5 7 4 -5 5 -3 5 -2 4 -2 5 -3 4 -2 5 -2 5 -5 4 1 5 2 4 -8 5 4 5 1 4 -11 5 -5 4 6 5 -12 5 3 4 -9 5 -6 4 -11 5 -9 5 1 4 -3 5 -18 4 11 5 -11 5 2 4 0 5 -5 4 -5 5 -6 5 -2 4 -7 5 -21 4 11 5 4 5 -1 4 3 5 -17 4 -13 5 -10 5 -6 4 -11 5 -5 4 -8 5 -3 5 -10 4 -6 5 -7 4 -3 5 -7 5 -7 4 -9 5 12 4 -22 5 -11 5 -16 4 9 5 7 4 -3 5 -6 5 2 4 5 5 -3 4 -6 5 1 5 8 4 -2 5 -3 4 -12 5 4 5 19 4 5 5 24 4 16 5 -7 5 -13 4 0 5 3 4 -10 5 1 5 -13 4 -3 5 4 4 -6 5 3 5 2 4 -2 5 2 4 -2 5 2 5 -4 4 25 5 5 4 -8 5 -7 5 37 4 32 5 43 4 22 5 34 5 25 4 20 5 17 4 20 5 21 5 -2 4 9 5 1 4 12 5 5 5 1 4 2 5 8 4 3 5 -3 5 -24 4 -30 5 -27 4 -30 5 32 5 28 4 14 5 11 4 2 5 -9 5 -1 4 3 5 -33 4 -34 5 -39 5 29 4 10 5 6 4 11 5 4 5 10 4 16 5 0 4 9 5 -3 5 -19 4 -5 5 -18 4 -15" transform="scale(0.5)" fill="none" stroke="#8c0308" stroke-width="5.2" stroke-linejoin="round"/>
<path d="M256 3776l5 -1 4 5 5 -2 5 -2 4 -2 5 -4 4 4 5 -5 5 2 4 -1 5 -5 4 -2 5 -2 5 -1 4 5 5 -3 4 -7 5 3 5 -1 4 -5 5 6 4 1 5 -5 5 -5 4 -8 5 2 4 3 5 -4 5 -7 4 4 5 1 4 1 5 0 5 -4 4 -3 5 4 4 -15 5 12 5 -1 4 1 5 -1 4 2 5 7 5 0 4 0 5 1 4 0 5 -5 5 -6 4 1 5 -7 4 -1 5 -8 5 -3 4 -1 5 10 4 4 5 -1 5 7 4 -1 5 14 4 -3 5 -7 5 11 4 -9 5 10 4 -3 5 4 5 6 4 10 5 0 4 -7 5 -7 5 -13 4 15 5 -5 4 -3 5 0 5 -8 4 9 5 0 4 2 5 -7 5 2 4 6 5 0 4 6 5 7 5 -2 4 -10 5 5 4 -4 5 5 5 -2 4 9 5 4 4 11 5 -11 5 -4 4 7 5 -6 4 2 5 -8 5 -38 4 -43 5 -50 4 -29 5 -9 5 0 4 7 5 4 4 11 5 -20 5 -5 4 -64 5 -29 4 15 5 20 5 17 4 19 5 29 4 -18 5 21 5 -6 4 -15 5 -35 4 6 5 -17 5 -25 4 7 5 -16 4 -29 5 -12 5 -15 4 -4 5 -2 4 15 5 12 5 17 4 -7 5 3 4 -3 5 -2 5 -3 4 -8 5 6 4 13 5 -10 5 9 4 -7 5 -11 4 -13 5 7 5 -19 4 -2 5 -10 4 3 5 3 5 -1 4 19 5 4 4 -19 5 1 5 1 4 5 5 -11 4 -4 5 -4 5 -8 4 24 5 -15 4 -10 5 -1 5 -4 4 -8 5 -3 4 8 5 -6 5 -5 4 -1 5 22 4 8 5 14 5 19 4 9 5 15 4 -6 5 24 5 1 4 8 5 21 4 -2 5 -2 5 4 4 7 5 -1 4 6 5 0 5 2 4 21 5 2 4 2 5 26 5 -29 4 9 5 -11 4 6 5 9 5 5 4 -7 5 -10 4 6 5 -18 5 -4 4 -8 5 11 4 8 5 -11 5 -1 4 7 5 16 4 2 5 21 5 4 4 15 5 -8 4 -16 5 1 5 15 4 7 5 -3 4 5 5 29 5 -10 4 11 5 1 4 13 5 9 5 6 4 7 5 -1 4 12 5 -7 5 -1 4 13 5 -6 4 -7" transform="scale(0.5)" fill="none" stroke="#780006" stroke-width="5.2" stroke-linejoin="round"/>
<path d="M1636 3766l5 -1 4 6 5 6 5 -4 4 -12 5 -2 4 -4 5 -5 5 -2 4 -11 5 3 4 3 5 -11 5 9 4 -1 5 2 4 2 5 12 5 0 4 -9 5 2 4 2 5 0 5 0 4 1 5 -3 4 1 5 -6 5 4 4 -10 5 -4 4 4 5 -5 5 5 4 -3 5 2 4 -9 5 4 5 -8 4 3 5 -3 4 -3 5 3 5 -9 4 5 5 -8 4 -8 5 6 5 -6 4 1 5 -6 4 -2 5 -4 5 12 4 -3 5 -2 4 11 5 -47 5 -81 4 -71 5 6 4 -13 5 52 5 76 4 64 5 4 4 6 5 -2 5 -2 4 -10 5 7 4 10 5 -25 5 -32 4 -55 5 -45 4 -32 5 -20 5 21 4 -2 5 -9 4 17 5 41 5 32 4 46 5 37 4 27 5 7 5 2 4 4 5 14 4 7 5 -6 5 -14 4 1 5 -7 4 -7 5 -5 5 -3 4 5 5 8 4 0 5 -9 5 -13 4 4 5 3 4 7 5 -1 5 17 4 -2 5 10 4 9 5 2 5 9 4 7 5 6 4 7 5 -3 5 0 4 -5 5 -2 4 1 5 -10 5 5 4 2 5 -3 4 -2 5 7 5 3 4 1 5 -5 4 2 5 -1 5 -5 4 -18 5 -95 4 -103 5 -30 5 -28 4 -4 5 -10 4 -16 5 3 5 9 4 -6 5 14 4 9 5 -11 5 7 4 7 5 -3 4 3 5 3 5 -7 4 -4 5 -15 4 15 5 -2 5 1 4 14 5 -15 4 -11 5 13 5 -3 4 -8 5 -12 4 3 5 -8 5 14 4 -25 5 20 4 -10 5 38 5 -2 4 18 5 2 4 0 5 1 5 24 4 10 5 -17 4 -9 5 -18 5 -11 4 13 5 -1 4 -2 5 -9 5 -21 4 -3 5 5 4 3 5 -9 5 0 4 10 5 9 4 9 5 -29 5 -9 4 -11 5 -14 4 4 5 19 5 15 4 -21 5 -10 4 14 5 -13 5 5 4 14 5 4 4 13 5 -1 5 7 4 9 5 3 4 -2 5 15 5 11 4 1 5 -5 4 2 5 -24 5 4 4 -22 5 0 4 -1 5 2 5 -10 4 -21 5 1 4 6 5 -9 5 -10 4 7 5 1 4 0 5 16 5 4 4 2 5 5 4 -6 5 12 5 7 4 -8 5 17 4 -6" transform="scale(0.5)" fill="none" stroke="#0b209f" stroke-width="5.2" stroke-linejoin="round"/>
<path d="M1636 3767l5 0 4 -1 5 -4 5 -2 4 0 5 11 4 -5 5 0 5 2 4 0 5 -4 4 0 5 3 5 0 4 -6 5 4 4 8 5 2 5 2 4 4 5 -8 4 5 5 -5 5 0 4 -8 5 -5 4 2 5 -4 5 -3 4 1 5 8 4 0 5 -4 5 0 4 6 5 -5 4 1 5 -1 5 2 4 -1 5 1 4 0 5 3 5 3 4 -2 5 -1 4 -2 5 -3 5 0 4 -2 5 7 4 -3 5 11 5 6 4 -2 5 1 4 6 5 -4 5 1 4 3 5 -1 4 -5 5 -3 5 -4 4 1 5 -2 4 11 5 -2 5 -7 4 -2 5 -4 4 -3 5 1 5 -1 4 13 5 5 4 -1 5 -8 5 2 4 1 5 0 4 2 5 0 5 -5 4 1 5 3 4 3 5 0 5 -5 4 -4 5 4 4 1 5 0 5 -4 4 2 5 -5 4 -1 5 -1 5 -10 4 -8 5 -14 4 -7 5 -2 5 6 4 -19 5 -7 4 -9 5 -16 5 -5 4 -7 5 -11 4 -19 5 -10 5 -6 4 -18 5 -8 4 -17 5 -11 5 -18 4 8 5 -7 4 2 5 -7 5 12 4 0 5 -16 4 5 5 -11 5 0 4 -13 5 -7 4 -14 5 2 5 -11 4 -1 5 -17 4 -5 5 -1 5 -14 4 3 5 -1 4 -7 5 -8 5 5 4 -21 5 1 4 0 5 1 5 -12 4 -18 5 -12 4 -3 5 -5 5 7 4 5 5 -19 4 -17 5 -7 5 -5 4 11 5 -14 4 4 5 2 5 -17 4 12 5 -7 4 7 5 -3 5 -5 4 -7 5 -15 4 -15 5 7 5 -13 4 1 5 7 4 -5 5 4 5 -5 4 12 5 12 4 -11 5 13 5 14 4 13 5 0 4 -3 5 16 5 -15 4 -3 5 -28 4 -17 5 -1 5 4 4 -19 5 -10 4 15 5 -4 5 0 4 16 5 -3 4 -2 5 3 5 -8 4 -5 5 -3 4 3 5 9 5 0 4 11 5 11 4 -7 5 1 5 12 4 3 5 13 4 5 5 -5 5 3 4 -7 5 8 4 1 5 -1 5 -18 4 2 5 8 4 -2 5 -5 5 -17 4 -5 5 4 4 5 5 0 5 -3 4 7 5 -13 4 0 5 -7 5 15 4 5 5 1 4 0 5 1 5 8 4 0 5 15 4 1" transform="scale(0.5)" fill="none" stroke="#c5e3f1" stroke-width="5.2" stroke-linejoin="round"/>
<path d="M1636 3768l5 1 4 -1 5 -1 5 -6 4 6 5 -2 4 7 5 5 5 2 4 -1 5 -4 4 -3 5 0 5 0 4 -1 5 7 4 6 5 3 5 -1 4 5 5 -2 4 -7 5 -1 5 2 4 1 5 -3 4 -1 5 -2 5 2 4 7 5 3 4 -4 5 2 5 -4 4 1 5 -5 4 -2 5 5 5 -1 4 -2 5 -2 4 2 5 -2 5 -6 4 -1 5 2 4 0 5 5 5 -3 4 2 5 -3 4 -2 5 -7 5 3 4 0 5 -2 4 -8 5 4 5 2 4 -1 5 -3 4 3 5 6 5 -1 4 -1 5 -2 4 0 5 -2 5 -1 4 0 5 -3 4 2 5 -11 5 1 4 -3 5 3 4 -1 5 -2 5 2 4 1 5 3 4 -9 5 -2 5 0 4 1 5 0 4 1 5 0 5 1 4 0 5 -3 4 -6 5 2 5 1 4 6 5 4 4 1 5 -1 5 -4 4 2 5 -4 4 -3 5 3 5 -3 4 2 5 -3 4 7 5 -2 5 -1 4 -9 5 4 4 6 5 1 5 -8 4 2 5 2 4 -9 5 0 5 -2 4 -3 5 2 4 7 5 -6 5 1 4 10 5 5 4 6 5 -4 5 8 4 -1 5 2 4 -3 5 7 5 5 4 2 5 1 4 2 5 -1 5 3 4 -7 5 0 4 -9 5 -5 5 -2 4 -1 5 1 4 0 5 -2 5 -9 4 -4 5 -29 4 -6 5 -20 5 -4 4 -23 5 -11 4 -16 5 -17 5 -9 4 -11 5 -34 4 -14 5 -21 5 -9 4 -4 5 -14 4 7 5 19 5 -2 4 6 5 4 4 10 5 12 5 -8 4 -16 5 -10 4 0 5 -3 5 -5 4 -20 5 -1 4 -9 5 -3 5 16 4 0 5 -13 4 -2 5 -15 5 5 4 -12 5 -4 4 -3 5 5 5 0 4 -11 5 -1 4 -6 5 16 5 -7 4 -7 5 1 4 10 5 5 5 -2 4 3 5 1 4 -12 5 -9 5 -14 4 -26 5 -12 4 -23 5 -25 5 -18 4 -13 5 -27 4 -17 5 -19 5 20 4 9 5 14 4 12 5 21 5 -1 4 -10 5 9 4 -9 5 6 5 10 4 1 5 -2 4 4 5 -5 5 1 4 2 5 -2 4 9 5 7 5 -3 4 -11 5 9 4 1 5 1 5 -13 4 10 5 0 4 0" transform="scale(0.5)" fill="none" stroke="#b1dbed" stroke-width="5.2" stroke-linejoin="round"/>
<path d="M1636 3767l5 2 4 -2 5 -5 5 -3 4 4 5 -3 4 9 5 -8 5 3 4 -4 5 -5 4 8 5 -7 5 1 4 -3 5 -2 4 5 5 -1 5 0 4 -8 5 -1 4 7 5 -4 5 2 4 -2 5 2 4 -4 5 4 5 0 4 -5 5 -5 4 -1 5 3 5 -9 4 2 5 11 4 -4 5 2 5 2 4 -6 5 -2 4 1 5 1 5 2 4 -3 5 4 4 -3 5 -1 5 1 4 -4 5 7 4 -1 5 4 5 11 4 -3 5 -4 4 -4 5 -2 5 2 4 -1 5 0 4 1 5 7 5 -1 4 -2 5 -9 4 2 5 -4 5 -1 4 4 5 0 4 -4 5 -6 5 -32 4 -17 5 -14 4 -28 5 -18 5 -7 4 2 5 2 4 -13 5 11 5 18 4 -1 5 1 4 -3 5 -5 5 -6 4 -20 5 -3 4 -11 5 -17 5 -8 4 0 5 -7 4 -2 5 -11 5 7 4 2 5 7 4 0 5 2 5 19 4 -3 5 -9 4 -16 5 4 5 -15 4 12 5 -11 4 -8 5 -6 5 0 4 -5 5 5 4 8 5 -3 5 -8 4 12 5 1 4 -8 5 -10 5 14 4 15 5 8 4 -12 5 -3 5 -4 4 -10 5 14 4 -20 5 -11 5 7 4 9 5 -9 4 0 5 -19 5 -6 4 11 5 -10 4 -4 5 1 5 6 4 7 5 -5 4 -25 5 6 5 12 4 3 5 3 4 9 5 -22 5 9 4 14 5 4 4 3 5 -2 5 -17 4 3 5 8 4 -7 5 4 5 1 4 -7 5 -3 4 4 5 -1 5 -6 4 1 5 4 4 -13 5 -4 5 23 4 -17 5 -11 4 9 5 -9 5 20 4 -6 5 11 4 0 5 10 5 -1 4 22 5 -8 4 3 5 18 5 -6 4 2 5 -16 4 -5 5 -11 5 13 4 0 5 10 4 -22 5 2 5 2 4 -14 5 2 4 -13 5 9 5 -5 4 -3 5 13 4 2 5 -10 5 16 4 -2 5 11 4 -4 5 8 5 -6 4 17 5 -7 4 16 5 -8 5 -1 4 6 5 -8 4 0 5 -4 5 -6 4 -8 5 11 4 -10 5 4 5 1 4 -6 5 -3 4 1 5 8 5 -2 4 -7 5 7 4 -16 5 13 5 12 4 0 5 1 4 11 5 13 5 5 4 0 5 5 4 6" transform="scale(0.5)" fill="none" stroke="#94d0e7" stroke-width="5.2" stroke-linejoin="round"/>
<path d="M1636 3757l5 2 4 6 5 1 5 -4 4 -1 5 1 4 -9 5 5 5 1 4 -2 5 -7 4 1 5 3 5 -2 4 1 5 -4 4 -3 5 7 5 -4 4 -7 5 9 4 1 5 0 5 -2 4 6 5 -6 4 4 5 -8 5 -2 4 2 5 9 4 3 5 -3 5 0 4 0 5 -13 4 -25 5 -19 5 -26 4 -20 5 -23 4 -34 5 -37 5 16 4 -12 5 -7 4 10 5 -3 5 3 4 29 5 9 4 23 5 -1 5 -4 4 1 5 -1 4 4 5 3 5 18 4 11 5 3 4 -26 5 -13 5 -28 4 5 5 -5 4 -11 5 -4 5 5 4 -2 5 7 4 -21 5 -11 5 0 4 14 5 -5 4 -2 5 5 5 12 4 -10 5 -2 4 -2 5 -8 5 -5 4 -3 5 3 4 10 5 1 5 3 4 -13 5 -5 4 6 5 -2 5 3 4 -4 5 5 4 6 5 6 5 2 4 13 5 -22 4 -14 5 -18 5 7 4 -3 5 -21 4 -11 5 0 5 -10 4 6 5 15 4 11 5 9 5 -3 4 -18 5 -7 4 -20 5 -6 5 -9 4 11 5 -9 4 -14 5 -4 5 -15 4 -12 5 -7 4 7 5 -12 5 3 4 -24 5 5 4 -7 5 -5 5 -12 4 -10 5 -6 4 -27 5 7 5 -2 4 -12 5 -3 4 8 5 -7 5 -7 4 -4 5 13 4 4 5 -12 5 -3 4 2 5 6 4 -1 5 -5 5 4 4 1 5 -6 4 -11 5 -2 5 -7 4 14 5 -14 4 -11 5 -10 5 3 4 9 5 2 4 0 5 4 5 -1 4 -5 5 15 4 15 5 0 5 -3 4 -7 5 -2 4 9 5 5 5 1 4 -1 5 -5 4 -1 5 5 5 -2 4 6 5 -17 4 11 5 6 5 4 4 6 5 15 4 -2 5 -30 5 9 4 -1 5 -1 4 -10 5 13 5 12 4 9 5 -22 4 -11 5 20 5 -2 4 8 5 -16 4 4 5 -4 5 -13 4 7 5 3 4 -4 5 -2 5 6 4 -8 5 -8 4 -2 5 5 5 -2 4 -1 5 5 4 12 5 -9 5 12 4 4 5 7 4 11 5 -3 5 5 4 10 5 7 4 3 5 -2 5 -6 4 10 5 5 4 10 5 -4 5 11 4 2 5 3 4 -7 5 8 5 1 4 -2 5 15 4 9" transform="scale(0.5)" fill="none" stroke="#7ec4e4" stroke-width="5.2" stroke-linejoin="round"/>
<path d="M1636 3767l5 7 4 -3 5 -3 5 -5 4 -4 5 -2 4 7 5 -4 5 0 4 -1 5 -1 4 3 5 -6 5 6 4 -9 5 -5 4 1 5 -8 5 7 4 3 5 -4 4 -4 5 4 5 4 4 -4 5 0 4 2 5 -2 5 -4 4 0 5 2 4 -5 5 7 5 -2 4 6 5 -6 4 -1 5 0 5 4 4 1 5 5 4 0 5 -2 5 -4 4 -1 5 -4 4 2 5 2 5 -2 4 -5 5 3 4 3 5 -1 5 1 4 -8 5 2 4 4 5 1 5 3 4 -1 5 -4 4 1 5 2 5 -6 4 1 5 -1 4 -3 5 1 5 -2 4 3 5 1 4 -4 5 -2 5 -7 4 -1 5 0 4 -1 5 3 5 -6 4 -3 5 1 4 -1 5 0 5 -9 4 7 5 -9 4 -7 5 -2 5 -2 4 -6 5 5 4 -2 5 -9 5 -2 4 -5 5 -17 4 -1 5 5 5 9 4 -11 5 -1 4 3 5 -8 5 -15 4 -4 5 15 4 -19 5 -10 5 -5 4 -12 5 1 4 -2 5 -5 5 -4 4 -5 5 10 4 -8 5 -5 5 12 4 10 5 9 4 -22 5 -1 5 -3 4 -3 5 -11 4 -24 5 0 5 -33 4 -7 5 -16 4 5 5 13 5 -15 4 -16 5 -4 4 -9 5 -18 5 20 4 6 5 3 4 8 5 5 5 3 4 -12 5 3 4 -1 5 3 5 -1 4 7 5 -1 4 19 5 -4 5 21 4 -10 5 7 4 5 5 3 5 -4 4 6 5 4 4 20 5 -1 5 5 4 -8 5 -2 4 -4 5 16 5 6 4 -10 5 1 4 8 5 -15 5 7 4 1 5 -17 4 -1 5 -6 5 -10 4 4 5 -6 4 -3 5 -5 5 1 4 4 5 -24 4 19 5 -9 5 -8 4 -18 5 10 4 -6 5 -5 5 0 4 2 5 -14 4 2 5 -5 5 7 4 -3 5 6 4 5 5 4 5 9 4 16 5 -8 4 0 5 6 5 -11 4 -1 5 -21 4 -6 5 1 5 -11 4 2 5 6 4 -9 5 -2 5 4 4 -4 5 -6 4 -8 5 3 5 -13 4 6 5 -10 4 13 5 -10 5 4 4 -1 5 15 4 -2 5 14 5 -4 4 20 5 -13 4 -3 5 7 5 -21 4 -22 5 -13 4 13 5 -3 5 -10 4 -13 5 -10 4 -9" transform="scale(0.5)" fill="none" stroke="#70bbe2" stroke-width="5.2" stroke-linejoin="round"/>
<path d="M1636 3777l5 0 4 0 5 1 5 -1 4 9 5 -6 4 2 5 0 5 -1 4 -6 5 1 4 2 5 -4 5 -4 4 -4 5 9 4 -2 5 0 5 6 4 -2 5 5 4 -2 5 6 5 -6 4 1 5 -1 4 1 5 3 5 9 4 -5 5 4 4 3 5 -5 5 6 4 7 5 -6 4 0 5 -13 5 -1 4 -1 5 -4 4 -4 5 -8 5 6 4 -3 5 -1 4 -1 5 -5 5 1 4 1 5 0 4 3 5 1 5 -4 4 -4 5 -9 4 -5 5 3 5 -3 4 3 5 5 4 -4 5 0 5 -1 4 8 5 -13 4 6 5 1 5 0 4 5 5 -6 4 -1 5 -1 5 8 4 -2 5 -4 4 9 5 -4 5 7 4 1 5 -2 4 2 5 -5 5 10 4 7 5 -10 4 -2 5 -5 5 -2 4 -7 5 -2 4 4 5 -6 5 -2 4 3 5 11 4 -7 5 2 5 1 4 6 5 -6 4 -2 5 7 5 -1 4 3 5 -1 4 0 5 -5 5 -1 4 -5 5 1 4 12 5 -3 5 6 4 4 5 3 4 -1 5 -6 5 4 4 -3 5 2 4 -5 5 4 5 -1 4 6 5 3 4 5 5 -2 5 -3 4 -3 5 -3 4 -2 5 -1 5 0 4 1 5 -1 4 -5 5 2 5 -12 4 -2 5 5 4 10 5 -6 5 -5 4 -10 5 -7 4 -19 5 7 5 -16 4 -9 5 -9 4 -5 5 -15 5 1 4 6 5 -10 4 -10 5 0 5 2 4 3 5 -18 4 -2 5 2 5 0 4 5 5 -19 4 -3 5 2 5 -19 4 6 5 -11 4 -14 5 0 5 14 4 -21 5 0 4 0 5 18 5 -12 4 -2 5 -11 4 -8 5 -3 5 11 4 -2 5 -12 4 -3 5 8 5 -1 4 -29 5 22 4 -32 5 -5 5 -7 4 11 5 -1 4 -12 5 -2 5 3 4 0 5 -8 4 -4 5 -5 5 12 4 26 5 -16 4 12 5 16 5 5 4 3 5 12 4 -5 5 -8 5 1 4 -9 5 -4 4 15 5 0 5 -9 4 -1 5 4 4 1 5 -4 5 -15 4 -5 5 -16 4 -5 5 -3 5 13 4 13 5 -28 4 -12 5 25 5 -1 4 6 5 9 4 -2 5 11 5 1 4 -6 5 15 4 -5 5 6 5 -9 4 20 5 -5 4 13" transform="scale(0.5)" fill="none" stroke="#62b2e0" stroke-width="5.2" stroke-linejoin="round"/>
<path d="M1636 3756l5 -5 4 1 5 1 5 -4 4 -1 5 3 4 0 5 -1 5 6 4 -8 5 6 4 -8 5 2 5 0 4 -1 5 -8 4 3 5 -1 5 -2 4 -3 5 6 4 -1 5 -3 5 -9 4 2 5 3 4 3 5 1 5 -2 4 0 5 4 4 3 5 -3 5 -7 4 1 5 1 4 -1 5 0 5 -3 4 2 5 0 4 -5 5 -5 5 5 4 -2 5 -3 4 2 5 -2 5 0 4 -3 5 -2 4 5 5 -5 5 2 4 4 5 -4 4 1 5 2 5 3 4 -14 5 -4 4 -5 5 5 5 -3 4 -4 5 3 4 -2 5 -18 5 8 4 -5 5 2 4 15 5 3 5 5 4 3 5 -7 4 12 5 -6 5 6 4 -1 5 -3 4 4 5 -2 5 -1 4 -8 5 4 4 -14 5 -5 5 5 4 -13 5 4 4 -8 5 6 5 -9 4 -12 5 -1 4 -6 5 6 5 4 4 1 5 -3 4 -12 5 13 5 -1 4 6 5 14 4 13 5 -6 5 -1 4 -14 5 -3 4 -11 5 5 5 14 4 -1 5 -10 4 0 5 10 5 -15 4 2 5 -9 4 -5 5 -18 5 17 4 -3 5 -15 4 -23 5 -7 5 -9 4 -8 5 -16 4 6 5 -2 5 -14 4 -8 5 10 4 9 5 13 5 2 4 -10 5 3 4 16 5 4 5 4 4 8 5 6 4 3 5 20 5 -9 4 -5 5 -5 4 -3 5 -4 5 -10 4 0 5 -11 4 11 5 7 5 -14 4 -5 5 1 4 1 5 1 5 -1 4 27 5 7 4 -5 5 4 5 -9 4 13 5 -3 4 -9 5 9 5 -1 4 16 5 -3 4 -8 5 -18 5 -9 4 -2 5 3 4 -23 5 -17 5 13 4 1 5 -7 4 -3 5 -2 5 0 4 6 5 -8 4 2 5 -1 5 -2 4 -23 5 3 4 4 5 -24 5 22 4 -6 5 6 4 -4 5 15 5 -1 4 -8 5 13 4 12 5 7 5 -8 4 -2 5 -6 4 6 5 0 5 -2 4 -4 5 -1 4 -7 5 -15 5 3 4 -2 5 -8 4 2 5 6 5 16 4 -14 5 5 4 13 5 5 5 2 4 -4 5 13 4 -5 5 -12 5 1 4 -4 5 8 4 -6 5 -3 5 17 4 -10 5 -1 4 -27 5 -1 5 15 4 -5 5 9 4 -14" transform="scale(0.5)" fill="none" stroke="#54a9de" stroke-width="5.2" stroke-linejoin="round"/>
<path d="M1636 3767l5 -2 4 1 5 11 5 -3 4 5 5 -7 4 -3 5 5 5 -1 4 1 5 2 4 4 5 1 5 -3 4 -7 5 1 4 9 5 -5 5 5 4 0 5 -4 4 0 5 5 5 -8 4 -1 5 4 4 -1 5 3 5 -3 4 2 5 0 4 0 5 -2 5 -4 4 3 5 1 4 0 5 0 5 -2 4 -1 5 -3 4 5 5 -2 5 -2 4 1 5 3 4 1 5 -4 5 -1 4 3 5 -4 4 -9 5 8 5 -4 4 -2 5 1 4 4 5 5 5 -3 4 -1 5 2 4 4 5 5 5 -1 4 -7 5 5 4 -1 5 -3 5 3 4 6 5 3 4 -3 5 2 5 -3 4 1 5 3 4 -2 5 -6 5 -2 4 -3 5 7 4 -8 5 -2 5 6 4 1 5 -3 4 3 5 5 5 -1 4 -2 5 1 4 -6 5 2 5 1 4 4 5 -4 4 -1 5 -1 5 -3 4 5 5 -6 4 3 5 -4 5 -2 4 4 5 4 4 0 5 -2 5 4 4 2 5 -3 4 4 5 -4 5 0 4 4 5 0 4 3 5 -5 5 -1 4 -3 5 -3 4 4 5 3 5 -6 4 0 5 2 4 -1 5 -4 5 0 4 -5 5 4 4 -1 5 -3 5 -1 4 -2 5 -2 4 0 5 -4 5 -3 4 0 5 -2 4 5 5 -6 5 -3 4 0 5 -5 4 -2 5 -1 5 -2 4 -1 5 -3 4 5 5 -2 5 0 4 -5 5 2 4 -6 5 -4 5 -7 4 -3 5 -6 4 -4 5 -4 5 4 4 -2 5 6 4 7 5 -7 5 -7 4 -6 5 -3 4 -12 5 -10 5 -8 4 1 5 -8 4 0 5 -1 5 -20 4 -1 5 -7 4 -8 5 7 5 -9 4 -11 5 -3 4 -9 5 -6 5 12 4 -5 5 -2 4 -2 5 -1 5 1 4 0 5 5 4 -1 5 6 5 -8 4 0 5 -16 4 18 5 -5 5 -13 4 0 5 16 4 -2 5 18 5 -1 4 9 5 12 4 9 5 -11 5 -4 4 12 5 -18 4 -8 5 -14 5 1 4 2 5 1 4 -11 5 -11 5 -4 4 15 5 -6 4 -6 5 7 5 8 4 -6 5 -5 4 -12 5 4 5 11 4 4 5 8 4 -7 5 17 5 -3 4 -4 5 -9 4 -5 5 1 5 -3 4 14 5 10 4 -3" transform="scale(0.5)" fill="none" stroke="#46a0dc" stroke-width="5.2" stroke-linejoin="round"/>
<path d="M1636 3767l5 -6 4 -6 5 -2 5 0 4 6 5 8 4 4 5 0 5 8 4 -2 5 -5 4 4 5 8 5 -4 4 5 5 1 4 -6 5 -2 5 -1 4 -6 5 2 4 -2 5 1 5 -8 4 9 5 -3 4 -4 5 2 5 4 4 -5 5 0 4 -1 5 5 5 -1 4 -3 5 0 4 3 5 -9 5 -7 4 8 5 -1 4 2 5 -3 5 3 4 5 5 -13 4 3 5 5 5 6 4 -6 5 3 4 -1 5 -2 5 3 4 8 5 -11 4 8 5 -6 5 3 4 8 5 11 4 -3 5 0 5 -4 4 -2 5 0 4 -7 5 9 5 0 4 -8 5 -2 4 3 5 4 5 -10 4 9 5 4 4 0 5 -10 5 8 4 -1 5 0 4 -5 5 3 5 -5 4 -6 5 10 4 -1 5 1 5 3 4 -2 5 -8 4 2 5 -4 5 -3 4 -3 5 -2 4 2 5 -2 5 -4 4 0 5 -1 4 6 5 1 5 0 4 0 5 -3 4 3 5 7 5 4 4 1 5 -9 4 0 5 -8 5 4 4 3 5 -4 4 6 5 2 5 2 4 -8 5 -5 4 16 5 -8 5 3 4 2 5 -1 4 -6 5 4 5 -59 4 -56 5 -45 4 -48 5 -40 5 -15 4 33 5 19 4 -1 5 20 5 -10 4 3 5 10 4 -20 5 -3 5 14 4 -27 5 -16 4 -4 5 2 5 11 4 15 5 1 4 -16 5 16 5 0 4 -6 5 -25 4 -1 5 5 5 -21 4 -11 5 -28 4 3 5 -11 5 11 4 -1 5 19 4 32 5 8 5 12 4 16 5 12 4 0 5 15 5 -11 4 10 5 6 4 12 5 -21 5 30 4 14 5 -7 4 10 5 -14 5 27 4 14 5 -17 4 -1 5 18 5 4 4 -6 5 -9 4 -7 5 5 5 -5 4 15 5 13 4 12 5 -5 5 -19 4 15 5 18 4 -5 5 11 5 -7 4 4 5 20 4 8 5 -8 5 1 4 -24 5 -3 4 7 5 7 5 -12 4 -11 5 -14 4 -4 5 -8 5 2 4 -10 5 -13 4 -8 5 0 5 -8 4 6 5 -11 4 33 5 6 5 12 4 -18 5 5 4 10 5 7 5 6 4 7 5 2 4 13 5 1 5 -6 4 5 5 12 4 2 5 8 5 -16 4 -18 5 -3 4 -13" transform="scale(0.5)" fill="none" stroke="#3b90da" stroke-width="5.2" stroke-linejoin="round"/>
<path d="M1636 3778l5 4 4 1 5 1 5 0 4 1 5 -5 4 -4 5 1 5 0 4 -1 5 -2 4 2 5 3 5 1 4 3 5 -2 4 -3 5 -3 5 -6 4 4 5 2 4 3 5 3 5 -2 4 -4 5 -1 4 2 5 1 5 3 4 -4 5 -2 4 -2 5 1 5 0 4 -5 5 2 4 3 5 0 5 -1 4 8 5 0 4 -1 5 3 5 0 4 -2 5 -6 4 0 5 0 5 0 4 5 5 1 4 -1 5 3 5 8 4 2 5 -1 4 2 5 -4 5 -1 4 -2 5 -2 4 0 5 3 5 -3 4 -1 5 4 4 4 5 -3 5 1 4 5 5 3 4 -3 5 1 5 -9 4 -1 5 -2 4 -1 5 3 5 1 4 -2 5 2 4 0 5 1 5 -2 4 1 5 -3 4 1 5 0 5 3 4 0 5 -2 4 -1 5 1 5 2 4 5 5 0 4 -2 5 -4 5 1 4 -2 5 1 4 -4 5 0 5 -2 4 -1 5 6 4 -4 5 -2 5 2 4 2 5 -4 4 3 5 1 5 1 4 -3 5 1 4 -3 5 0 5 0 4 -1 5 -5 4 3 5 -2 5 -1 4 -1 5 0 4 3 5 1 5 -4 4 4 5 4 4 1 5 2 5 -6 4 5 5 -1 4 2 5 4 5 -5 4 -4 5 1 4 2 5 1 5 0 4 4 5 -4 4 6 5 1 5 -8 4 -10 5 -5 4 -9 5 2 5 -14 4 -15 5 -16 4 -16 5 -8 5 -4 4 8 5 -4 4 5 5 -11 5 7 4 -4 5 10 4 -1 5 -2 5 -5 4 -5 5 -16 4 -2 5 -3 5 0 4 -9 5 -11 4 -2 5 -10 5 -5 4 -9 5 11 4 11 5 5 5 -7 4 -2 5 3 4 3 5 11 5 -3 4 -3 5 0 4 -16 5 0 5 -4 4 -14 5 10 4 3 5 -9 5 24 4 -9 5 -19 4 5 5 -16 5 9 4 -3 5 -14 4 -3 5 -11 5 8 4 3 5 13 4 3 5 4 5 4 4 -5 5 3 4 2 5 0 5 0 4 7 5 8 4 10 5 0 5 2 4 -5 5 -2 4 13 5 11 5 -4 4 16 5 1 4 -1 5 -9 5 5 4 5 5 -5 4 -2 5 5 5 1 4 -4 5 -8 4 0 5 -5 5 -6 4 -13 5 -5 4 2" transform="scale(0.5)" fill="none" stroke="#3282d9" stroke-width="5.2" stroke-linejoin="round"/>
<path d="M1636 3757l5 7 4 -9 5 6 5 5 4 -4 5 0 4 1 5 4 5 -2 4 0 5 -3 4 2 5 6 5 4 4 0 5 -2 4 -4 5 -1 5 8 4 -3 5 -8 4 -5 5 3 5 2 4 5 5 -2 4 -4 5 0 5 1 4 -4 5 -2 4 -4 5 -3 5 4 4 4 5 -6 4 3 5 5 5 -4 4 -5 5 1 4 1 5 -2 5 -1 4 4 5 3 4 -8 5 2 5 5 4 5 5 -7 4 -10 5 3 5 -4 4 -1 5 2 4 4 5 1 5 13 4 6 5 -5 4 -9 5 8 5 5 4 4 5 -10 4 3 5 4 5 -7 4 -5 5 -3 4 10 5 7 5 -5 4 -10 5 2 4 0 5 -7 5 -3 4 2 5 3 4 -12 5 1 5 -9 4 11 5 0 4 -3 5 -5 5 1 4 8 5 5 4 -4 5 -6 5 3 4 -9 5 -13 4 4 5 -3 5 15 4 -3 5 -7 4 6 5 6 5 0 4 -11 5 2 4 -3 5 -6 5 -3 4 -2 5 -8 4 -9 5 3 5 0 4 -1 5 1 4 1 5 -5 5 -4 4 -11 5 8 4 -5 5 -12 5 -9 4 4 5 -8 4 16 5 -5 5 -6 4 -13 5 0 4 4 5 0 5 -7 4 2 5 -1 4 -12 5 -10 5 -1 4 0 5 -1 4 -10 5 4 5 -1 4 6 5 -21 4 18 5 -1 5 5 4 5 5 5 4 -1 5 19 5 0 4 1 5 -1 4 0 5 3 5 6 4 -6 5 -1 4 -14 5 -1 5 3 4 -4 5 -5 4 10 5 2 5 -11 4 -1 5 -17 4 1 5 6 5 4 4 -2 5 -6 4 19 5 -7 5 -11 4 -24 5 13 4 7 5 -4 5 9 4 8 5 7 4 -20 5 8 5 -10 4 5 5 -10 4 3 5 5 5 5 4 -4 5 -2 4 -9 5 -2 5 18 4 -7 5 -1 4 -6 5 -2 5 6 4 0 5 6 4 -14 5 -15 5 26 4 -5 5 -20 4 -15 5 2 5 -2 4 5 5 -4 4 3 5 4 5 12 4 10 5 0 4 7 5 -1 5 8 4 13 5 -7 4 9 5 -3 5 24 4 7 5 -10 4 -20 5 -1 5 5 4 -15 5 6 4 -8 5 7 5 -1 4 7 5 5 4 0 5 -13 5 19 4 3 5 8 4 -18" transform="scale(0.5)" fill="none" stroke="#2772d8" stroke-width="5.2" stroke-linejoin="round"/>
<path d="M1636 3756l5 0 4 -6 5 0 5 -1 4 5 5 -2 4 -5 5 0 5 2 4 1 5 0 4 5 5 0 5 3 4 3 5 3 4 -5 5 -3 5 4 4 1 5 0 4 5 5 -6 5 2 4 -10 5 1 4 8 5 -8 5 2 4 -4 5 8 4 -4 5 1 5 -1 4 5 5 1 4 -9 5 5 5 -7 4 0 5 1 4 4 5 -3 5 -1 4 -3 5 7 4 3 5 -4 5 -1 4 7 5 -5 4 -7 5 -5 5 -2 4 4 5 1 4 10 5 0 5 -5 4 -3 5 5 4 -6 5 -15 5 11 4 0 5 5 4 -5 5 -5 5 4 4 -14 5 -4 4 -8 5 3 5 4 4 -5 5 5 4 -7 5 -5 5 -1 4 5 5 0 4 -2 5 8 5 -41 4 -22 5 -27 4 -32 5 -56 5 11 4 22 5 26 4 8 5 12 5 20 4 -3 5 -3 4 2 5 -4 5 0 4 -2 5 -11 4 16 5 0 5 -8 4 9 5 17 4 5 5 0 5 8 4 6 5 -15 4 -14 5 0 5 7 4 -3 5 2 4 -4 5 5 5 10 4 -22 5 17 4 1 5 17 5 -1 4 -14 5 -2 4 -9 5 14 5 -7 4 7 5 -2 4 -2 5 2 5 -5 4 -5 5 1 4 -2 5 -2 5 -3 4 -1 5 -9 4 13 5 -13 5 -11 4 -6 5 -7 4 7 5 3 5 -12 4 -10 5 -6 4 0 5 -3 5 3 4 -15 5 -9 4 -7 5 -17 5 24 4 -12 5 -1 4 7 5 -2 5 5 4 6 5 -7 4 -1 5 -1 5 4 4 15 5 10 4 2 5 -11 5 -5 4 -8 5 13 4 11 5 -13 5 13 4 -18 5 -8 4 -3 5 8 5 9 4 15 5 -4 4 3 5 -5 5 -2 4 -14 5 2 4 -10 5 -17 5 -4 4 18 5 -2 4 -2 5 1 5 -19 4 -9 5 19 4 -6 5 3 5 0 4 6 5 0 4 5 5 -1 5 -26 4 -20 5 7 4 12 5 11 5 7 4 0 5 6 4 -1 5 -3 5 8 4 25 5 -2 4 9 5 -2 5 -11 4 1 5 -2 4 -23 5 8 5 -10 4 21 5 -7 4 11 5 5 5 -25 4 -3 5 3 4 -6 5 10 5 -10 4 12 5 6 4 6 5 -5 5 6 4 -11 5 10 4 6" transform="scale(0.5)" fill="none" stroke="#1e64d7" stroke-width="5.2" stroke-linejoin="round"/>
<path d="M1636 3766l5 0 4 -5 5 -2 5 4 4 3 5 3 4 -4 5 -4 5 -4 4 -4 5 -5 4 -5 5 -1 5 5 4 4 5 2 4 0 5 -2 5 -2 4 -9 5 -2 4 5 5 4 5 0 4 4 5 4 4 2 5 -4 5 -7 4 3 5 7 4 -4 5 -1 5 -4 4 0 5 -4 4 3 5 -17 5 6 4 -1 5 -11 4 -4 5 -1 5 -10 4 5 5 -3 4 3 5 11 5 0 4 -3 5 -2 4 2 5 -8 5 -5 4 11 5 -5 4 3 5 -16 5 3 4 2 5 10 4 -5 5 -6 5 -66 4 -81 5 -35 4 0 5 3 5 56 4 81 5 32 4 -8 5 -5 5 10 4 2 5 7 4 -1 5 -2 5 -41 4 -45 5 -49 4 -40 5 -50 5 1 4 10 5 0 4 -5 5 -3 5 33 4 43 5 52 4 51 5 32 5 6 4 1 5 6 4 2 5 6 5 -2 4 11 5 4 4 0 5 0 5 -11 4 -7 5 1 4 -5 5 7 5 4 4 -5 5 1 4 -2 5 3 5 8 4 14 5 -1 4 8 5 -4 5 10 4 11 5 -2 4 10 5 2 5 4 4 -1 5 0 4 8 5 0 5 -3 4 7 5 2 4 4 5 0 5 -6 4 0 5 -5 4 1 5 2 5 0 4 5 5 -46 4 -81 5 -90 5 -10 4 -5 5 -2 4 -7 5 -25 5 4 4 1 5 4 4 19 5 -10 5 -6 4 9 5 12 4 0 5 0 5 -9 4 1 5 -13 4 0 5 -14 5 -12 4 -20 5 12 4 -29 5 3 5 8 4 -9 5 -12 4 -3 5 -16 5 -2 4 -2 5 -2 4 11 5 19 5 -22 4 19 5 9 4 15 5 17 5 -22 4 -3 5 6 4 1 5 -12 5 -11 4 0 5 -13 4 -20 5 28 5 -19 4 2 5 8 4 2 5 14 5 -10 4 -2 5 14 4 -2 5 5 5 -13 4 -9 5 -3 4 14 5 -14 5 7 4 -10 5 16 4 -9 5 -11 5 -8 4 7 5 -5 4 15 5 11 5 18 4 -4 5 14 4 -4 5 13 5 5 4 -17 5 -3 4 -10 5 -15 5 12 4 -17 5 -9 4 7 5 0 5 4 4 3 5 10 4 15 5 -3 5 -6 4 -17 5 15 4 6 5 -11 5 6 4 12 5 3 4 5" transform="scale(0.5)" fill="none" stroke="#1342cd" stroke-width="5.2" stroke-linejoin="round"/>
<path d="M1636 3766l5 1 4 -4 5 -3 5 -3 4 -3 5 1 4 2 5 6 5 8 4 -5 5 4 4 3 5 -10 5 4 4 -9 5 0 4 -3 5 -3 5 2 4 -5 5 -4 4 3 5 -4 5 -66 4 -68 5 -34 4 -12 5 -23 5 7 4 11 5 12 4 -1 5 9 5 2 4 -6 5 2 4 19 5 2 5 -15 4 -10 5 -5 4 -11 5 5 5 1 4 -10 5 11 4 23 5 3 5 -30 4 8 5 8 4 -2 5 -10 5 -3 4 -2 5 -6 4 0 5 -7 5 7 4 -1 5 3 4 1 5 -14 5 11 4 4 5 4 4 -19 5 -3 5 1 4 -17 5 10 4 -9 5 -7 5 3 4 7 5 15 4 -7 5 5 5 0 4 -4 5 -1 4 -5 5 6 5 -8 4 -20 5 2 4 3 5 15 5 5 4 -3 5 4 4 -5 5 -8 5 -12 4 6 5 -1 4 -1 5 6 5 3 4 -1 5 -8 4 1 5 -3 5 -3 4 17 5 3 4 -5 5 7 5 -6 4 -4 5 1 4 -2 5 -11 5 4 4 -22 5 3 4 17 5 -10 5 18 4 1 5 7 4 10 5 7 5 -7 4 1 5 24 4 -6 5 5 5 10 4 -11 5 2 4 6 5 -7 5 6 4 -8 5 0 4 -12 5 1 5 2 4 0 5 -3 4 13 5 -7 5 1 4 0 5 -10 4 0 5 -2 5 -6 4 7 5 -5 4 -14 5 -10 5 -81 4 -79 5 -10 4 28 5 36 5 39 4 23 5 20 4 10 5 14 5 3 4 -5 5 -12 4 2 5 1 5 2 4 -6 5 -13 4 -8 5 12 5 -2 4 -6 5 -20 4 -12 5 -10 5 -15 4 -13 5 -12 4 7 5 7 5 -13 4 -2 5 21 4 8 5 19 5 46 4 26 5 0 4 -13 5 -29 5 -27 4 -3 5 -28 4 -20 5 -19 5 13 4 34 5 13 4 33 5 27 5 -29 4 -5 5 -16 4 -17 5 -23 5 10 4 23 5 11 4 12 5 24 5 -15 4 -38 5 -28 4 -21 5 -31 5 31 4 46 5 43 4 42 5 31 5 -28 4 -35 5 -21 4 -46 5 -49 5 22 4 44 5 40 4 49 5 21 5 -49 4 -50 5 -27 4 -35 5 -39 5 22 4 29 5 27 4 21 5 18 5 -20 4 -2 5 -34 4 -9" transform="scale(0.5)" fill="none" stroke="#0d29b4" stroke-width="5.2" stroke-linejoin="round"/>
<path d="M1636 3756l5 -3 4 5 5 1 5 -3 4 4 5 -9 4 -3 5 4 5 0 4 -1 5 10 4 -5 5 0 5 6 4 3 5 -5 4 -3 5 -6 5 12 4 0 5 -6 4 -1 5 4 5 -2 4 1 5 3 4 -6 5 1 5 2 4 1 5 6 4 3 5 -9 5 1 4 5 5 2 4 6 5 4 5 0 4 7 5 -7 4 -12 5 -4 5 -5 4 1 5 -1 4 0 5 -6 5 4 4 -7 5 -1 4 -5 5 2 5 -6 4 12 5 -5 4 3 5 -12 5 -2 4 -4 5 4 4 1 5 2 5 -6 4 -1 5 -2 4 8 5 -8 5 -10 4 0 5 -3 4 -6 5 16 5 0 4 -6 5 -8 4 1 5 -9 5 -5 4 3 5 -8 4 5 5 -5 5 6 4 -9 5 -3 4 8 5 -6 5 2 4 0 5 -5 4 2 5 -4 5 -6 4 -1 5 2 4 2 5 8 5 -12 4 8 5 11 4 4 5 -17 5 9 4 8 5 -10 4 -2 5 -2 5 10 4 -9 5 9 4 -6 5 -1 5 -19 4 -9 5 9 4 -16 5 11 5 0 4 -11 5 1 4 5 5 11 5 17 4 -27 5 -9 4 -6 5 13 5 -10 4 -1 5 -14 4 -5 5 -17 5 4 4 -14 5 20 4 -11 5 7 5 -9 4 -2 5 17 4 9 5 13 5 3 4 10 5 -2 4 -38 5 9 5 -1 4 12 5 -5 4 -22 5 -20 5 9 4 -11 5 -9 4 -12 5 10 5 -23 4 -36 5 4 4 -14 5 -35 5 -1 4 7 5 15 4 7 5 1 5 -17 4 -14 5 -3 4 9 5 -18 5 -3 4 3 5 -13 4 -12 5 1 5 5 4 -8 5 23 4 9 5 7 5 14 4 9 5 10 4 -18 5 -12 5 -4 4 -17 5 0 4 12 5 0 5 -27 4 3 5 -28 4 -19 5 -29 5 12 4 -6 5 8 4 14 5 9 5 1 4 0 5 -21 4 -14 5 -18 5 1 4 -17 5 -30 4 1 5 -26 5 0 4 -11 5 22 4 2 5 7 5 28 4 19 5 29 4 18 5 31 5 -23 4 -7 5 -31 4 -21 5 -15 5 -18 4 -14 5 -1 4 21 5 17 5 8 4 12 5 4 4 29 5 0 5 -9 4 10 5 -17 4 -5 5 -1 5 -4 4 11 5 -5 4 1" transform="scale(0.5)" fill="none" stroke="#0b21a0" stroke-width="5.2" stroke-linejoin="round"/>
<path d="M1636 3777l5 -5 4 7 5 -5 5 -13 4 4 5 -8 4 1 5 -1 5 7 4 1 5 -4 4 -7 5 1 5 3 4 -2 5 -3 4 9 5 0 5 0 4 -1 5 1 4 1 5 3 5 4 4 9 5 -6 4 -4 5 -3 5 0 4 8 5 0 4 -7 5 -4 5 1 4 6 5 -13 4 4 5 2 5 -1 4 -11 5 1 4 8 5 3 5 -1 4 -3 5 -3 4 0 5 -3 5 -6 4 4 5 2 4 -1 5 -8 5 7 4 -7 5 10 4 3 5 1 5 6 4 2 5 0 4 -9 5 3 5 -5 4 -10 5 10 4 -17 5 1 5 -4 4 3 5 -5 4 4 5 -10 5 3 4 8 5 0 4 -6 5 -2 5 -11 4 -9 5 1 4 3 5 -4 5 -8 4 0 5 -9 4 -6 5 -9 5 -3 4 -11 5 -2 4 15 5 -1 5 1 4 -6 5 15 4 11 5 -13 5 -14 4 -7 5 8 4 0 5 6 5 9 4 5 5 11 4 -1 5 -4 5 12 4 -10 5 9 4 -1 5 -6 5 2 4 -14 5 -3 4 -16 5 3 5 10 4 -6 5 10 4 6 5 -12 5 2 4 -4 5 12 4 -6 5 -4 5 -15 4 -6 5 10 4 -18 5 3 5 24 4 -2 5 -15 4 -6 5 -4 5 6 4 19 5 -2 4 3 5 -12 5 0 4 -8 5 11 4 3 5 -9 5 -7 4 1 5 -12 4 -13 5 -23 5 -7 4 5 5 -7 4 7 5 -5 5 -4 4 2 5 -36 4 22 5 -12 5 -11 4 -8 5 -11 4 -9 5 -3 5 12 4 -14 5 -5 4 -12 5 4 5 -2 4 -13 5 -14 4 -14 5 -2 5 12 4 -13 5 17 4 -15 5 -5 5 -8 4 8 5 16 4 3 5 -3 5 -19 4 -14 5 4 4 0 5 -12 5 0 4 23 5 -17 4 3 5 -7 5 -1 4 4 5 5 4 11 5 -5 5 -9 4 4 5 9 4 9 5 7 5 -2 4 -5 5 -12 4 -10 5 -1 5 -5 4 -28 5 9 4 -12 5 -32 5 31 4 9 5 18 4 12 5 10 5 -1 4 -6 5 1 4 3 5 -18 5 2 4 -7 5 2 4 -18 5 -8 5 4 4 16 5 4 4 30 5 14 5 24 4 10 5 0 4 -8 5 -18 5 -8 4 13 5 -11 4 -24" transform="scale(0.5)" fill="none" stroke="#0a198c" stroke-width="5.2" stroke-linejoin="round"/>
<path d="M1636 3778l5 -1 4 4 5 -2 5 -3 4 3 5 2 4 -3 5 -1 5 4 4 3 5 7 4 1 5 -3 5 -4 4 -3 5 1 4 -1 5 -4 5 -3 4 2 5 0 4 2 5 3 5 6 4 -4 5 1 4 0 5 1 5 -2 4 -2 5 0 4 0 5 2 5 0 4 -3 5 -4 4 2 5 -5 5 -1 4 1 5 -6 4 5 5 3 5 3 4 2 5 6 4 -2 5 4 5 2 4 -4 5 -2 4 -1 5 2 5 2 4 -1 5 2 4 0 5 -1 5 -1 4 -4 5 -4 4 0 5 -4 5 3 4 6 5 0 4 0 5 4 5 0 4 -2 5 -1 4 -6 5 6 5 -3 4 2 5 0 4 -7 5 1 5 3 4 -8 5 4 4 1 5 -1 5 -1 4 -3 5 -1 4 -7 5 6 5 -3 4 -3 5 3 4 2 5 -2 5 4 4 -5 5 4 4 -1 5 3 5 -3 4 3 5 4 4 -2 5 -3 5 1 4 -1 5 -1 4 -4 5 -3 5 -5 4 4 5 1 4 0 5 0 5 2 4 3 5 -3 4 -5 5 3 5 1 4 1 5 -1 4 -8 5 -1 5 2 4 0 5 -5 4 2 5 3 5 1 4 3 5 -1 4 8 5 2 5 4 4 5 5 1 4 -1 5 -3 5 -3 4 2 5 -1 4 7 5 0 5 -2 4 3 5 0 4 -1 5 0 5 8 4 -4 5 3 4 -1 5 -7 5 -2 4 0 5 -2 4 -10 5 -15 5 -24 4 -8 5 -13 4 -5 5 -1 5 5 4 10 5 -11 4 4 5 4 5 3 4 0 5 9 4 1 5 6 5 -19 4 2 5 -17 4 -7 5 6 5 1 4 2 5 -3 4 -5 5 11 5 1 4 -3 5 -9 4 9 5 -9 5 -3 4 3 5 1 4 3 5 -2 5 -5 4 -6 5 0 4 -4 5 -5 5 -14 4 -4 5 -1 4 0 5 -12 5 -3 4 -1 5 -13 4 -11 5 4 5 2 4 -4 5 -13 4 -17 5 16 5 3 4 15 5 -8 4 9 5 -12 5 9 4 9 5 3 4 7 5 4 5 -5 4 5 5 13 4 6 5 -3 5 11 4 12 5 6 4 4 5 5 5 2 4 -1 5 8 4 -4 5 0 5 13 4 -2 5 -2 4 -6 5 3 5 -13 4 2 5 -6 4 -9" transform="scale(0.5)" fill="none" stroke="#2067d7" stroke-width="5.2" stroke-linejoin="round"/>
<path d="M1636 3778l5 0 4 0 5 2 5 1 4 -9 5 4 4 1 5 0 5 -7 4 3 5 -4 4 2 5 -6 5 5 4 0 5 -2 4 0 5 0 5 4 4 3 5 -4 4 -2 5 -1 5 8 4 -6 5 5 4 -4 5 0 5 4 4 1 5 -2 4 3 5 -4 5 -4 4 2 5 -1 4 1 5 1 5 11 4 -2 5 -4 4 0 5 -2 5 -4 4 5 5 0 4 1 5 -6 5 -2 4 1 5 2 4 4 5 1 5 8 4 -1 5 -3 4 -2 5 -5 5 2 4 -6 5 2 4 7 5 3 5 1 4 -5 5 -1 4 4 5 3 5 -3 4 6 5 -3 4 -4 5 4 5 -1 4 -1 5 0 4 0 5 0 5 -1 4 1 5 4 4 1 5 1 5 0 4 0 5 -4 4 7 5 0 5 -7 4 -1 5 0 4 6 5 0 5 -2 4 -1 5 0 4 1 5 4 5 3 4 3 5 -2 4 -7 5 -6 5 2 4 -1 5 3 4 -6 5 2 5 -4 4 2 5 3 4 1 5 0 5 5 4 0 5 0 4 -2 5 -2 5 4 4 1 5 -4 4 7 5 2 5 -1 4 -1 5 -6 4 -5 5 5 5 -2 4 -4 5 -4 4 5 5 1 5 -3 4 4 5 0 4 -4 5 2 5 -2 4 -2 5 2 4 -2 5 1 5 -1 4 -3 5 -3 4 -2 5 2 5 -5 4 -4 5 -10 4 -4 5 -2 5 -9 4 -4 5 -15 4 -4 5 -7 5 6 4 -9 5 7 4 -16 5 -7 5 -7 4 -2 5 -10 4 -12 5 7 5 -11 4 -20 5 18 4 -12 5 -2 5 -14 4 -11 5 -9 4 -14 5 6 5 9 4 -18 5 -12 4 -9 5 3 5 6 4 -15 5 0 4 -4 5 -7 5 -10 4 9 5 9 4 -28 5 6 5 3 4 -5 5 9 4 -7 5 8 5 -12 4 7 5 -12 4 -15 5 -1 5 8 4 -8 5 7 4 -2 5 -15 5 16 4 -18 5 21 4 18 5 20 5 -1 4 5 5 4 4 11 5 -4 5 -14 4 -9 5 16 4 -1 5 13 5 -17 4 -4 5 0 4 -3 5 -13 5 7 4 7 5 -23 4 9 5 -7 5 -1 4 -1 5 -9 4 3 5 3 5 -2 4 7 5 -3 4 -1 5 16 5 18 4 13 5 2 4 10" transform="scale(0.5)" fill="none" stroke="#5baddf" stroke-width="5.2" stroke-linejoin="round"/>
<path d="M256 4499l5 -1 4 1 5 8 5 -3 4 -7 5 3 4 -9 5 10 5 -9 4 1 5 8 4 -11 5 0 5 -1 4 -3 5 -2 4 -9 5 3 5 5 4 10 5 9 4 -3 5 -6 5 -6 4 6 5 8 4 2 5 0 5 1 4 -4 5 7 4 6 5 -1 5 -1 4 4 5 -2 4 1 5 -5 5 3 4 8 5 5 4 3 5 2 5 2 4 -15 5 -5 4 -2 5 -5 5 5 4 -9 5 2 4 6 5 -9 5 2 4 -2 5 -3 4 8 5 -2 5 0 4 -5 5 -7 4 -5 5 -10 5 8 4 -2 5 -5 4 6 5 16 5 7 4 -5 5 9 4 3 5 -5 5 -8 4 -3 5 5 4 5 5 0 5 1 4 2 5 -7 4 0 5 6 5 -7 4 -7 5 -8 4 -5 5 -10 5 12 4 -16 5 -5 4 6 5 -1 5 5 4 -4 5 -7 4 0 5 -9 5 -11 4 2 5 -1 4 0 5 8 5 -5 4 -6 5 5 4 4 5 9 5 -10 4 -12 5 3 4 -12 5 -6 5 6 4 5 5 9 4 8 5 -2 5 6 4 0 5 3 4 -4 5 2 5 -4 4 0 5 -7 4 -8 5 -4 5 5 4 -3 5 -7 4 0 5 -5 5 1 4 1 5 -7 4 8 5 -4 5 -8 4 9 5 -4 4 -4 5 -10 5 -3 4 -2 5 2 4 -1 5 -7 5 -8 4 -5 5 0 4 -16 5 3 5 -6 4 -4 5 6 4 15 5 -7 5 4 4 4 5 3 4 -2 5 2 5 -1 4 -1 5 4 4 -8 5 7 5 3 4 -5 5 -6 4 -2 5 -2 5 8 4 1 5 -9 4 -9 5 5 5 1 4 -9 5 0 4 -6 5 -11 5 -6 4 -15 5 -10 4 -4 5 -9 5 -1 4 -9 5 -11 4 -5 5 -14 5 1 4 2 5 9 4 -7 5 2 5 7 4 0 5 4 4 12 5 -6 5 -3 4 -1 5 19 4 12 5 17 5 18 4 11 5 7 4 6 5 -3 5 13 4 0 5 2 4 7 5 10 5 -12 4 -3 5 8 4 -5 5 -3 5 5 4 -5 5 -8 4 -16 5 -7 5 -12 4 -13 5 -20 4 -10 5 -9 5 -15 4 -20 5 -8 4 -5 5 -16 5 -15 4 0 5 -1 4 -5 5 -11 5 -7 4 0 5 6 4 -2" transform="scale(0.5)" fill="none" stroke="#7e0106" stroke-width="5.2" stroke-linejoin="round"/>
<path d="M256 4498l5 -5 4 3 5 -1 5 -3 4 5 5 8 4 -17 5 1 5 4 4 4 5 -19 4 4 5 -10 5 15 4 -3 5 8 4 -3 5 9 5 15 4 -13 5 -10 4 1 5 13 5 -3 4 7 5 2 4 -5 5 3 5 -1 4 3 5 11 4 -12 5 -6 5 4 4 -13 5 11 4 -12 5 -8 5 9 4 0 5 2 4 -3 5 -2 5 -5 4 7 5 -11 4 8 5 -10 5 0 4 9 5 0 4 3 5 4 5 -3 4 -4 5 -9 4 -9 5 2 5 1 4 -2 5 -1 4 1 5 3 5 -8 4 10 5 -2 4 4 5 6 5 4 4 -18 5 3 4 -4 5 3 5 -14 4 -6 5 -8 4 5 5 -1 5 -1 4 2 5 -1 4 -6 5 -5 5 9 4 1 5 -4 4 9 5 -2 5 8 4 0 5 -15 4 16 5 -12 5 -2 4 -6 5 6 4 -7 5 4 5 -2 4 -5 5 -16 4 14 5 -2 5 3 4 2 5 5 4 12 5 5 5 2 4 0 5 4 4 -17 5 -9 5 7 4 3 5 -3 4 -13 5 -5 5 7 4 -11 5 11 4 -1 5 -12 5 7 4 15 5 2 4 11 5 -4 5 9 4 -7 5 -4 4 -1 5 -3 5 -4 4 -11 5 -5 4 2 5 -5 5 7 4 11 5 -14 4 11 5 1 5 3 4 -4 5 -13 4 13 5 -6 5 -4 4 0 5 1 4 5 5 4 5 -8 4 -3 5 -9 4 -20 5 6 5 -2 4 -7 5 -6 4 5 5 3 5 -5 4 -11 5 -6 4 -8 5 -26 5 19 4 -8 5 -2 4 -7 5 -15 5 -1 4 -16 5 -6 4 -14 5 -18 5 -14 4 -5 5 -8 4 3 5 -4 5 -11 4 -5 5 -4 4 -8 5 -1 5 0 4 -8 5 -9 4 -3 5 6 5 -13 4 -7 5 -12 4 -4 5 -2 5 -1 4 -5 5 -3 4 -5 5 -6 5 0 4 1 5 -18 4 -3 5 -18 5 -16 4 -13 5 -20 4 -18 5 2 5 9 4 12 5 8 4 16 5 16 5 7 4 2 5 2 4 6 5 9 5 4 4 21 5 17 4 10 5 3 5 7 4 6 5 -3 4 -5 5 -8 5 -9 4 -3 5 7 4 -7 5 -12 5 -7 4 -5 5 -12 4 -5 5 -5 5 -13 4 1 5 -20 4 -1" transform="scale(0.5)" fill="none" stroke="#ea3f3a" stroke-width="5.2" stroke-linejoin="round"/>
<path d="M256 4510l5 4 4 -3 5 3 5 1 4 0 5 1 4 -1 5 1 5 -2 4 -11 5 4 4 3 5 10 5 -8 4 -3 5 -4 4 3 5 -4 5 12 4 -3 5 -5 4 5 5 0 5 13 4 2 5 3 4 -7 5 14 5 -10 4 -10 5 0 4 -2 5 5 5 -8 4 -6 5 6 4 -10 5 0 5 1 4 -3 5 2 4 -3 5 2 5 -2 4 7 5 0 4 3 5 -1 5 2 4 1 5 1 4 -10 5 5 5 -1 4 3 5 -11 4 1 5 9 5 -3 4 0 5 11 4 -7 5 7 5 0 4 -11 5 -5 4 3 5 1 5 9 4 -3 5 -5 4 10 5 -8 5 -2 4 -7 5 -3 4 3 5 -2 5 8 4 -1 5 2 4 -1 5 -10 5 -5 4 -7 5 0 4 -4 5 3 5 -6 4 -3 5 4 4 1 5 -4 5 -12 4 1 5 0 4 0 5 6 5 9 4 2 5 5 4 -15 5 2 5 -2 4 1 5 2 4 -1 5 -2 5 -12 4 3 5 12 4 -6 5 -2 5 7 4 3 5 5 4 -12 5 -2 5 -1 4 6 5 -1 4 -3 5 2 5 2 4 0 5 7 4 -2 5 -6 5 11 4 1 5 1 4 1 5 7 5 -1 4 -8 5 4 4 0 5 8 5 2 4 -2 5 10 4 3 5 -7 5 0 4 3 5 -2 4 -11 5 -1 5 -1 4 2 5 -1 4 -7 5 -24 5 -11 4 12 5 -12 4 -3 5 4 5 -4 4 4 5 -2 4 -1 5 -4 5 8 4 -5 5 -15 4 5 5 0 5 1 4 -1 5 1 4 -5 5 -11 5 3 4 -1 5 7 4 3 5 -1 5 7 4 3 5 0 4 -2 5 -6 5 -6 4 9 5 -3 4 10 5 2 5 4 4 6 5 6 4 1 5 12 5 2 4 -5 5 4 4 5 5 13 5 0 4 -5 5 1 4 -6 5 -1 5 -2 4 4 5 -8 4 -9 5 -5 5 13 4 -9 5 -9 4 5 5 -2 5 -5 4 1 5 4 4 -4 5 -10 5 -6 4 2 5 -2 4 4 5 7 5 -13 4 -6 5 -19 4 -10 5 -12 5 -14 4 3 5 -16 4 -7 5 -8 5 -2 4 -10 5 -23 4 3 5 16 5 -11 4 -5 5 -8 4 -8 5 -5 5 0 4 -9 5 -5 4 -5" transform="scale(0.5)" fill="none" stroke="#ec5652" stroke-width="5.2" stroke-linejoin="round"/>
<path d="M256 4498l5 -1 4 1 5 2 5 2 4 1 5 -3 4 9 5 -5 5 9 4 -6 5 5 4 -5 5 4 5 6 4 -1 5 -3 4 -3 5 -13 5 2 4 1 5 6 4 0 5 -9 5 -14 4 2 5 -3 4 6 5 -4 5 -12 4 -12 5 -10 4 7 5 -7 5 -16 4 -15 5 4 4 -10 5 16 5 -5 4 -10 5 0 4 0 5 3 5 -4 4 15 5 3 4 5 5 -7 5 4 4 10 5 -11 4 3 5 -2 5 0 4 10 5 2 4 5 5 3 5 -12 4 4 5 -3 4 4 5 5 5 5 4 1 5 4 4 -2 5 6 5 2 4 -1 5 10 4 -11 5 -2 5 3 4 -4 5 0 4 0 5 -6 5 0 4 -7 5 -5 4 4 5 -3 5 -3 4 0 5 2 4 -4 5 2 5 -7 4 -12 5 13 4 -6 5 2 5 -2 4 -13 5 1 4 -9 5 -2 5 -5 4 2 5 -2 4 6 5 7 5 4 4 2 5 -10 4 1 5 -5 5 -3 4 -1 5 -6 4 -6 5 -2 5 -6 4 2 5 -4 4 -12 5 0 5 6 4 6 5 -7 4 5 5 1 5 15 4 2 5 -8 4 -1 5 2 5 3 4 -3 5 -3 4 5 5 -7 5 1 4 4 5 6 4 -5 5 0 5 4 4 1 5 8 4 4 5 -3 5 6 4 8 5 10 4 -8 5 -2 5 3 4 -7 5 1 4 3 5 -9 5 -16 4 -6 5 -6 4 -16 5 -11 5 -7 4 -1 5 -8 4 -4 5 -9 5 -12 4 -3 5 -7 4 5 5 -4 5 -3 4 -3 5 -9 4 0 5 -10 5 0 4 -5 5 -8 4 -6 5 -4 5 -5 4 -5 5 -2 4 -12 5 -8 5 2 4 -6 5 -6 4 -7 5 3 5 -7 4 -1 5 -4 4 -9 5 -13 5 2 4 -10 5 4 4 -10 5 5 5 -6 4 -6 5 -3 4 16 5 2 5 -3 4 -3 5 0 4 -8 5 -6 5 -13 4 0 5 11 4 4 5 2 5 -1 4 12 5 -9 4 1 5 -2 5 4 4 0 5 4 4 -1 5 -4 5 5 4 2 5 -6 4 1 5 -1 5 11 4 1 5 0 4 13 5 -9 5 3 4 -12 5 12 4 14 5 4 5 14 4 -3 5 6 4 17 5 -1 5 14 4 20 5 0 4 -2" transform="scale(0.5)" fill="none" stroke="#f8c7c7" stroke-width="5.2" stroke-linejoin="round"/>
<path d="M256 4509l5 -12 4 16 5 3 5 -3 4 -1 5 -7 4 -4 5 8 5 -2 4 -6 5 -3 4 3 5 9 5 -2 4 5 5 3 4 3 5 -8 5 -11 4 -4 5 -1 4 6 5 -9 5 2 4 -1 5 -5 4 3 5 3 5 -5 4 5 5 10 4 0 5 3 5 -4 4 5 5 -1 4 4 5 -4 5 -6 4 3 5 11 4 1 5 2 5 -5 4 8 5 -10 4 -2 5 -7 5 -2 4 3 5 -6 4 1 5 3 5 6 4 -4 5 5 4 -15 5 4 5 -1 4 2 5 -5 4 -8 5 3 5 -10 4 -13 5 -5 4 -5 5 8 5 -4 4 -5 5 -10 4 -2 5 10 5 -9 4 -1 5 9 4 5 5 -5 5 14 4 -5 5 19 4 -10 5 3 5 -3 4 15 5 4 4 0 5 6 5 -8 4 -3 5 -6 4 1 5 9 5 -17 4 -3 5 4 4 -1 5 -8 5 10 4 -13 5 -4 4 2 5 0 5 -4 4 3 5 -17 4 -4 5 -2 5 -11 4 4 5 6 4 1 5 1 5 3 4 3 5 9 4 4 5 -18 5 -3 4 -7 5 -4 4 4 5 6 5 -1 4 0 5 -2 4 -4 5 8 5 3 4 -4 5 4 4 14 5 1 5 8 4 3 5 -4 4 1 5 7 5 -5 4 -6 5 -1 4 -2 5 9 5 5 4 -17 5 5 4 1 5 3 5 2 4 2 5 -11 4 -3 5 4 5 5 4 6 5 11 4 -3 5 4 5 -2 4 -8 5 3 4 16 5 -4 5 3 4 -5 5 14 4 8 5 0 5 10 4 12 5 4 4 5 5 -3 5 10 4 -6 5 -7 4 9 5 1 5 -14 4 -5 5 -8 4 0 5 19 5 -2 4 7 5 -8 4 4 5 -7 5 -7 4 7 5 -3 4 -6 5 -12 5 -3 4 -7 5 -2 4 7 5 -7 5 -7 4 -5 5 -2 4 -4 5 -13 5 -12 4 -2 5 8 4 -12 5 -6 5 -3 4 0 5 -11 4 -4 5 -7 5 -20 4 -5 5 -3 4 -10 5 -14 5 -17 4 -10 5 -13 4 8 5 -18 5 -4 4 -10 5 -9 4 -9 5 -12 5 -9 4 -10 5 -15 4 0 5 -11 5 0 4 -11 5 0 4 -5 5 2 5 6 4 -9 5 13 4 19 5 7 5 5 4 -4 5 -6 4 10" transform="scale(0.5)" fill="none" stroke="#f5b6b6" stroke-width="5.2" stroke-linejoin="round"/>
<path d="M256 4509l5 2 4 -3 5 -3 5 10 4 -3 5 -8 4 4 5 -9 5 6 4 -8 5 14 4 -11 5 2 5 5 4 -15 5 18 4 -3 5 1 5 -8 4 4 5 -2 4 -3 5 3 5 -1 4 -1 5 8 4 -3 5 3 5 -9 4 1 5 0 4 -9 5 5 5 3 4 1 5 -5 4 6 5 -4 5 4 4 12 5 -12 4 -5 5 -4 5 -7 4 -2 5 11 4 2 5 4 5 -12 4 -4 5 2 4 14 5 4 5 -2 4 3 5 -4 4 -4 5 -8 5 3 4 0 5 -1 4 3 5 -6 5 15 4 5 5 -11 4 -4 5 -4 5 6 4 12 5 3 4 0 5 11 5 -3 4 -12 5 2 4 7 5 -2 5 2 4 2 5 -4 4 4 5 -5 5 -4 4 9 5 1 4 -9 5 -14 5 -7 4 13 5 -6 4 1 5 7 5 -9 4 0 5 -9 4 -1 5 4 5 2 4 -8 5 2 4 -4 5 6 5 5 4 -9 5 -4 4 3 5 3 5 -3 4 -5 5 11 4 -7 5 -8 5 7 4 -3 5 -3 4 -1 5 -1 5 0 4 -2 5 -7 4 -4 5 2 5 -8 4 6 5 2 4 5 5 0 5 -3 4 0 5 -3 4 -5 5 8 5 -12 4 10 5 3 4 4 5 -2 5 4 4 -3 5 5 4 2 5 -3 5 0 4 6 5 -4 4 2 5 8 5 -5 4 -1 5 -2 4 -8 5 -6 5 -12 4 2 5 5 4 -11 5 -2 5 -7 4 -6 5 6 4 2 5 8 5 -4 4 1 5 -4 4 -5 5 -7 5 3 4 -7 5 1 4 4 5 -1 5 9 4 4 5 7 4 -8 5 -7 5 -9 4 5 5 -3 4 6 5 6 5 1 4 2 5 4 4 9 5 15 5 -4 4 -1 5 7 4 -5 5 5 5 0 4 6 5 4 4 3 5 -2 5 2 4 -1 5 -13 4 -8 5 3 5 -2 4 -1 5 -4 4 -6 5 11 5 6 4 -5 5 -1 4 -8 5 6 5 -9 4 -2 5 -1 4 3 5 -11 5 -2 4 0 5 3 4 -1 5 -1 5 -10 4 -20 5 -12 4 0 5 -10 5 -18 4 -2 5 -3 4 -13 5 -8 5 -16 4 0 5 -7 4 -2 5 1 5 -8 4 7 5 -7 4 0 5 -12 5 -10 4 -1 5 -5 4 11" transform="scale(0.5)" fill="none" stroke="#f2a2a2" stroke-width="5.2" stroke-linejoin="round"/>
<path d="M256 4498l5 4 4 -6 5 -1 5 -3 4 -4 5 4 4 0 5 -3 5 -6 4 -6 5 1 4 -7 5 7 5 -5 4 0 5 6 4 -5 5 1 5 -1 4 -3 5 4 4 -3 5 -4 5 -2 4 -2 5 -3 4 -3 5 11 5 -3 4 4 5 7 4 -3 5 7 5 4 4 -5 5 4 4 -6 5 4 5 2 4 -15 5 4 4 9 5 -1 5 -12 4 4 5 3 4 -4 5 1 5 -11 4 8 5 -7 4 -7 5 5 5 -2 4 4 5 -1 4 5 5 -7 5 6 4 -4 5 -10 4 0 5 4 5 1 4 3 5 13 4 -5 5 0 5 6 4 -8 5 -5 4 1 5 -6 5 -13 4 12 5 1 4 9 5 2 5 4 4 -9 5 13 4 -1 5 -3 5 0 4 6 5 -5 4 -7 5 -3 5 -5 4 -2 5 4 4 -7 5 -16 5 -5 4 5 5 1 4 1 5 -6 5 -16 4 1 5 -5 4 -4 5 -13 5 -1 4 0 5 -3 4 2 5 0 5 -4 4 -1 5 -3 4 -8 5 -1 5 8 4 -4 5 -10 4 -4 5 -10 5 -3 4 6 5 8 4 2 5 -5 5 7 4 2 5 8 4 3 5 4 5 5 4 11 5 8 4 5 5 4 5 -2 4 7 5 1 4 4 5 -12 5 -7 4 6 5 2 4 -6 5 -2 5 -7 4 11 5 8 4 -4 5 -6 5 -4 4 0 5 -7 4 -14 5 -1 5 3 4 0 5 6 4 -8 5 -1 5 3 4 1 5 -4 4 0 5 -7 5 5 4 -11 5 -4 4 -10 5 -7 5 3 4 -8 5 0 4 -6 5 -7 5 -24 4 -22 5 -26 4 -20 5 -11 5 -19 4 -11 5 -6 4 -7 5 -16 5 -11 4 -11 5 -22 4 -9 5 -10 5 0 4 2 5 7 4 8 5 -2 5 8 4 5 5 6 4 0 5 1 5 -10 4 0 5 -15 4 -8 5 -2 5 -8 4 8 5 1 4 -14 5 -7 5 -10 4 -8 5 10 4 -5 5 10 5 2 4 9 5 0 4 7 5 9 5 5 4 1 5 9 4 15 5 7 5 7 4 8 5 -7 4 4 5 1 5 7 4 7 5 5 4 9 5 -4 5 2 4 10 5 2 4 2 5 -10 5 2 4 -5 5 -1 4 -9 5 -1 5 2 4 -7 5 -1 4 -9" transform="scale(0.5)" fill="none" stroke="#ef8584" stroke-width="5.2" stroke-linejoin="round"/>
<path d="M256 4499l5 2 4 -3 5 -12 5 4 4 -11 5 3 4 -3 5 1 5 5 4 7 5 -9 4 7 5 5 5 1 4 7 5 -10 4 1 5 1 5 -3 4 -6 5 0 4 -2 5 -1 5 4 4 9 5 1 4 -6 5 -2 5 -2 4 1 5 1 4 0 5 6 5 7 4 6 5 8 4 7 5 -13 5 3 4 -3 5 -5 4 3 5 3 5 0 4 -1 5 -11 4 -3 5 -4 5 5 4 -1 5 -3 4 0 5 10 5 10 4 0 5 2 4 10 5 -7 5 4 4 -2 5 1 4 -3 5 7 5 9 4 -10 5 -6 4 -8 5 5 5 -4 4 15 5 0 4 0 5 -1 5 -5 4 -9 5 6 4 -7 5 -5 5 8 4 2 5 -13 4 3 5 5 5 0 4 -10 5 2 4 -8 5 6 5 2 4 -5 5 -7 4 -5 5 -10 5 5 4 5 5 4 4 -3 5 -6 5 -8 4 9 5 0 4 -5 5 -12 5 -9 4 6 5 3 4 -3 5 4 5 -1 4 -1 5 -11 4 3 5 -2 5 -9 4 -4 5 -4 4 8 5 -6 5 -13 4 -7 5 10 4 0 5 1 5 -5 4 5 5 -4 4 12 5 -5 5 4 4 1 5 -4 4 4 5 4 5 -13 4 10 5 -1 4 -3 5 0 5 -12 4 2 5 10 4 -11 5 11 5 -7 4 -6 5 -4 4 -3 5 0 5 1 4 2 5 14 4 -2 5 -18 5 -8 4 1 5 4 4 2 5 -22 5 -7 4 4 5 0 4 3 5 2 5 -5 4 -6 5 0 4 -4 5 -5 5 4 4 -1 5 -1 4 -1 5 -9 5 -5 4 -4 5 9 4 -5 5 -16 5 -13 4 -12 5 -16 4 -6 5 -11 5 -11 4 -7 5 0 4 -10 5 2 5 3 4 -4 5 1 4 -12 5 -17 5 1 4 0 5 -7 4 3 5 -15 5 -2 4 -6 5 -13 4 -7 5 -2 5 -9 4 5 5 3 4 -4 5 -10 5 -9 4 0 5 -15 4 -1 5 -14 5 -3 4 -17 5 -12 4 -16 5 -14 5 9 4 8 5 -3 4 20 5 18 5 11 4 17 5 4 4 11 5 4 5 15 4 0 5 -1 4 2 5 16 5 5 4 6 5 -3 4 -15 5 -3 5 -8 4 -10 5 11 4 -16 5 -8 5 -5 4 -3 5 -4 4 -17" transform="scale(0.5)" fill="none" stroke="#ed6360" stroke-width="5.2" stroke-linejoin="round"/>
<path d="M256 4490l5 -3 4 1 5 2 5 12 4 4 5 -4 4 -6 5 2 5 -10 4 3 5 1 4 5 5 -3 5 8 4 0 5 -8 4 -3 5 -4 5 1 4 7 5 -4 4 13 5 2 5 -3 4 -1 5 6 4 3 5 1 5 3 4 3 5 4 4 2 5 4 5 3 4 -21 5 -10 4 -7 5 4 5 -2 4 -4 5 -7 4 1 5 11 5 -7 4 -1 5 -5 4 7 5 -16 5 16 4 3 5 2 4 -3 5 0 5 0 4 -5 5 -1 4 -2 5 2 5 -4 4 3 5 1 4 8 5 -8 5 -5 4 -3 5 5 4 -6 5 2 5 4 4 -5 5 -11 4 11 5 2 5 3 4 -3 5 -2 4 -10 5 -3 5 4 4 -2 5 4 4 -9 5 -3 5 6 4 -7 5 -7 4 3 5 -10 5 1 4 -7 5 5 4 -3 5 -4 5 5 4 -1 5 6 4 2 5 -12 5 -9 4 -10 5 -2 4 -3 5 -6 5 -3 4 -2 5 -7 4 -3 5 5 5 5 4 -4 5 1 4 2 5 8 5 1 4 9 5 2 4 5 5 22 5 7 4 -13 5 8 4 5 5 2 5 11 4 -11 5 -6 4 -11 5 1 5 -11 4 -6 5 5 4 3 5 -15 5 8 4 9 5 -1 4 1 5 -4 5 -10 4 -7 5 -6 4 3 5 22 5 9 4 1 5 -5 4 2 5 3 5 -8 4 -9 5 -20 4 -6 5 -10 5 -6 4 -3 5 -4 4 -13 5 -15 5 -7 4 -15 5 -4 4 -4 5 -1 5 17 4 7 5 10 4 4 5 3 5 -6 4 -23 5 -7 4 -18 5 -12 5 -12 4 -21 5 -6 4 -8 5 -15 5 -9 4 -2 5 -2 4 -9 5 -18 5 -4 4 -7 5 -21 4 -4 5 -5 5 10 4 -11 5 6 4 -7 5 -1 5 0 4 -9 5 -8 4 4 5 0 5 3 4 6 5 -6 4 15 5 0 5 4 4 12 5 2 4 1 5 16 5 0 4 12 5 2 4 -9 5 -8 5 0 4 -2 5 3 4 3 5 -2 5 -5 4 5 5 -7 4 -1 5 -4 5 -2 4 9 5 10 4 1 5 7 5 6 4 3 5 4 4 8 5 6 5 -4 4 6 5 5 4 -8 5 0 5 -24 4 -16 5 -14 4 -14 5 -6 5 -2 4 -5 5 -1 4 4" transform="scale(0.5)" fill="none" stroke="#ec524e" stroke-width="5.2" stroke-linejoin="round"/>
<path d="M256 4498l5 6 4 -2 5 -15 5 10 4 -2 5 1 4 8 5 2 5 -6 4 -11 5 -1 4 -10 5 -1 5 -7 4 0 5 7 4 -7 5 -8 5 0 4 6 5 -1 4 -3 5 -10 5 1 4 -4 5 0 4 3 5 5 5 -6 4 -4 5 6 4 1 5 8 5 -14 4 7 5 2 4 -4 5 -3 5 5 4 2 5 -9 4 -9 5 9 5 -5 4 -1 5 4 4 0 5 -3 5 1 4 -2 5 14 4 -4 5 -2 5 4 4 6 5 12 4 0 5 -8 5 4 4 0 5 0 4 4 5 -11 5 5 4 -6 5 -2 4 9 5 2 5 -1 4 -3 5 5 4 -4 5 -6 5 9 4 3 5 -3 4 -18 5 10 5 -2 4 1 5 -6 4 -1 5 4 5 -2 4 16 5 -19 4 -1 5 -6 5 -3 4 0 5 -1 4 -4 5 5 5 0 4 -2 5 -15 4 0 5 10 5 9 4 -5 5 7 4 -7 5 -8 5 0 4 -4 5 6 4 0 5 4 5 -7 4 7 5 4 4 3 5 6 5 1 4 11 5 7 4 -7 5 -7 5 1 4 5 5 7 4 11 5 -3 5 -2 4 7 5 -2 4 -1 5 3 5 4 4 -12 5 -5 4 3 5 -3 5 4 4 -3 5 -4 4 -14 5 5 5 -2 4 -1 5 -12 4 -2 5 -12 5 -3 4 -12 5 -8 4 -5 5 5 5 0 4 -9 5 16 4 8 5 -2 5 10 4 -13 5 -1 4 7 5 3 5 -5 4 -8 5 -3 4 8 5 -8 5 -1 4 -4 5 1 4 -6 5 -3 5 -4 4 3 5 -4 4 2 5 -10 5 -19 4 -10 5 -13 4 -3 5 -14 5 -29 4 -12 5 -7 4 -21 5 -6 5 -4 4 -14 5 -4 4 -1 5 -7 5 -7 4 -16 5 -7 4 -7 5 0 5 1 4 6 5 4 4 -2 5 7 5 -2 4 -4 5 10 4 12 5 2 5 -4 4 -6 5 -2 4 -5 5 4 5 -6 4 4 5 -7 4 1 5 -10 5 -13 4 3 5 -9 4 -8 5 -2 5 -11 4 11 5 -11 4 -2 5 0 5 8 4 3 5 -1 4 3 5 6 5 7 4 -9 5 4 4 -3 5 -3 5 -5 4 -1 5 11 4 1 5 1 5 -8 4 -8 5 -10 4 -12 5 -9 5 -14 4 7 5 -8 4 8" transform="scale(0.5)" fill="none" stroke="#e83632" stroke-width="5.2" stroke-linejoin="round"/>
<path d="M256 4487l5 -6 4 9 5 0 5 -4 4 -5 5 -9 4 -13 5 1 5 8 4 3 5 -5 4 9 5 -2 5 -3 4 7 5 1 4 0 5 -1 5 -4 4 -4 5 -4 4 -3 5 7 5 -6 4 -8 5 13 4 -7 5 -2 5 7 4 -3 5 0 4 2 5 9 5 1 4 -17 5 5 4 1 5 0 5 -8 4 -5 5 4 4 0 5 8 5 -4 4 1 5 2 4 -4 5 -3 5 -5 4 -8 5 5 4 0 5 -5 5 -1 4 -14 5 -11 4 10 5 -5 5 14 4 -9 5 -4 4 -3 5 6 5 -9 4 -4 5 2 4 10 5 8 5 2 4 0 5 -4 4 11 5 -1 5 -10 4 -10 5 -9 4 -8 5 -12 5 -20 4 -3 5 -2 4 -5 5 -3 5 -5 4 -5 5 -7 4 0 5 17 5 1 4 2 5 12 4 2 5 15 5 4 4 -10 5 1 4 -7 5 6 5 -4 4 5 5 6 4 -3 5 -2 5 0 4 8 5 -1 4 0 5 7 5 5 4 -1 5 4 4 0 5 7 5 6 4 -6 5 8 4 7 5 -17 5 -11 4 2 5 -1 4 -2 5 -9 5 -3 4 -1 5 2 4 5 5 2 5 0 4 -7 5 -5 4 5 5 7 5 -3 4 -1 5 7 4 3 5 6 5 3 4 12 5 13 4 0 5 -1 5 4 4 -19 5 15 4 1 5 -3 5 -10 4 -8 5 -4 4 -1 5 -6 5 1 4 -11 5 9 4 -10 5 -10 5 -14 4 -10 5 -6 4 0 5 0 5 -8 4 -6 5 -8 4 -12 5 -3 5 -7 4 10 5 5 4 -1 5 0 5 -5 4 -13 5 -10 4 -16 5 -4 5 -4 4 -16 5 -16 4 -5 5 -7 5 -8 4 -3 5 4 4 0 5 -1 5 8 4 3 5 9 4 -9 5 -9 5 1 4 -2 5 -2 4 6 5 2 5 3 4 15 5 16 4 6 5 2 5 5 4 6 5 -1 4 6 5 14 5 11 4 4 5 17 4 -5 5 -2 5 -13 4 -5 5 -13 4 -13 5 -1 5 -13 4 2 5 3 4 -11 5 -6 5 -3 4 -12 5 13 4 -2 5 -10 5 -16 4 2 5 3 4 -4 5 -2 5 7 4 -5 5 -7 4 -4 5 -10 5 0 4 4 5 -2 4 -5 5 1 5 -11 4 3 5 0 4 -7" transform="scale(0.5)" fill="none" stroke="#e62b29" stroke-width="5.2" stroke-linejoin="round"/>
<path d="M256 4509l5 -6 4 3 5 -2 5 11 4 -11 5 -12 4 -5 5 7 5 3 4 0 5 -4 4 -5 5 5 5 -1 4 8 5 2 4 2 5 -11 5 -1 4 -4 5 -5 4 -1 5 2 5 7 4 -14 5 2 4 -10 5 4 5 -1 4 -11 5 -5 4 6 5 -5 5 -5 4 7 5 -2 4 -4 5 3 5 4 4 7 5 4 4 2 5 -13 5 -1 4 8 5 8 4 -5 5 5 5 0 4 -15 5 3 4 8 5 -6 5 -5 4 13 5 -7 4 -3 5 9 5 -5 4 -5 5 2 4 1 5 1 5 3 4 -3 5 -9 4 0 5 3 5 -3 4 8 5 6 4 -1 5 -7 5 -10 4 -14 5 -17 4 -11 5 -10 5 -6 4 0 5 -5 4 -21 5 -15 5 -9 4 -18 5 -4 4 7 5 9 5 5 4 9 5 16 4 2 5 8 5 4 4 -3 5 -8 4 5 5 0 5 7 4 2 5 -2 4 0 5 4 5 -6 4 5 5 3 4 4 5 -8 5 4 4 5 5 -3 4 -4 5 2 5 -2 4 6 5 7 4 8 5 10 5 -1 4 5 5 -7 4 6 5 5 5 3 4 -5 5 12 4 5 5 -1 5 -8 4 3 5 2 4 -6 5 6 5 -3 4 -5 5 -2 4 -5 5 -4 5 -8 4 -2 5 -8 4 1 5 4 5 -8 4 -5 5 10 4 3 5 -5 5 -17 4 -1 5 3 4 5 5 0 5 -18 4 -10 5 -1 4 8 5 -1 5 2 4 16 5 -12 4 -9 5 5 5 -14 4 -14 5 -6 4 1 5 6 5 -2 4 2 5 -5 4 7 5 6 5 -7 4 -18 5 -6 4 -18 5 2 5 -6 4 -15 5 -8 4 0 5 -16 5 -3 4 -11 5 -1 4 -16 5 4 5 1 4 -10 5 -6 4 1 5 -7 5 -7 4 -4 5 5 4 -5 5 9 5 -2 4 -2 5 6 4 -4 5 -6 5 -9 4 5 5 -6 4 2 5 4 5 -5 4 1 5 4 4 7 5 -5 5 -5 4 1 5 0 4 -8 5 5 5 3 4 4 5 5 4 -3 5 5 5 -1 4 0 5 -6 4 1 5 -3 5 -7 4 -3 5 0 4 2 5 -1 5 -3 4 12 5 -7 4 -7 5 2 5 -4 4 4 5 7 4 -11 5 4 5 -9 4 -2 5 -2 4 -6" transform="scale(0.5)" fill="none" stroke="#e3201f" stroke-width="5.2" stroke-linejoin="round"/>
<path d="M256 4499l5 -1 4 14 5 -1 5 -18 4 2 5 0 4 2 5 4 5 0 4 3 5 -2 4 8 5 -10 5 3 4 -4 5 3 4 0 5 1 5 4 4 1 5 10 4 -13 5 -7 5 -5 4 16 5 5 4 6 5 -9 5 4 4 -2 5 -1 4 0 5 5 5 -10 4 -4 5 -2 4 5 5 -7 5 6 4 -1 5 3 4 4 5 -7 5 -5 4 9 5 -10 4 -5 5 9 5 -4 4 -10 5 10 4 6 5 13 5 3 4 -9 5 3 4 -5 5 9 5 0 4 -15 5 -9 4 6 5 0 5 -9 4 2 5 1 4 -7 5 12 5 3 4 -15 5 -4 4 2 5 3 5 -2 4 -1 5 11 4 -5 5 -17 5 4 4 -6 5 -4 4 -3 5 -3 5 -1 4 -10 5 2 4 -6 5 -5 5 -10 4 -7 5 4 4 11 5 -6 5 2 4 0 5 -12 4 5 5 -3 5 2 4 6 5 5 4 5 5 -5 5 9 4 0 5 -1 4 6 5 1 5 -5 4 -9 5 6 4 -12 5 15 5 -7 4 4 5 2 4 -7 5 -2 5 -14 4 0 5 -9 4 -1 5 5 5 3 4 -11 5 -8 4 -10 5 8 5 -8 4 12 5 -1 4 -8 5 -9 5 2 4 4 5 7 4 -9 5 14 5 -11 4 -4 5 -7 4 4 5 -3 5 1 4 -7 5 7 4 -5 5 -3 5 -8 4 3 5 -5 4 -3 5 6 5 7 4 -1 5 0 4 3 5 -2 5 6 4 -8 5 3 4 -11 5 -4 5 6 4 -1 5 -1 4 0 5 -12 5 -10 4 6 5 3 4 -8 5 3 5 -2 4 -5 5 -7 4 -3 5 -3 5 -7 4 -9 5 -17 4 -7 5 -13 5 -6 4 -4 5 4 4 4 5 3 5 -5 4 9 5 -1 4 5 5 1 5 3 4 6 5 -7 4 -4 5 6 5 22 4 33 5 20 4 15 5 15 5 1 4 0 5 -2 4 11 5 0 5 -8 4 10 5 0 4 3 5 -1 5 -7 4 -8 5 -2 4 -3 5 2 5 -24 4 -13 5 -18 4 -8 5 -8 5 -6 4 -6 5 -10 4 -5 5 -12 5 -12 4 5 5 -2 4 -14 5 -6 5 -10 4 -14 5 -10 4 -7 5 -10 5 -1 4 9 5 -7 4 5 5 -4 5 6 4 -10 5 -8 4 -4" transform="scale(0.5)" fill="none" stroke="#e11616" stroke-width="5.2" stroke-linejoin="round"/>
<path d="M256 4511l5 -7 4 5 5 5 5 12 4 0 5 0 4 -4 5 -3 5 -9 4 6 5 2 4 11 5 -2 5 -1 4 1 5 -3 4 5 5 -14 5 11 4 -4 5 -1 4 3 5 -8 5 7 4 4 5 3 4 -3 5 1 5 4 4 15 5 -9 4 0 5 -2 5 -4 4 -10 5 2 4 6 5 -6 5 -8 4 -7 5 -4 4 -7 5 -2 5 1 4 -5 5 0 4 0 5 -15 5 14 4 5 5 -9 4 6 5 -6 5 3 4 2 5 7 4 4 5 -10 5 -5 4 7 5 -2 4 2 5 8 5 5 4 -5 5 2 4 7 5 -3 5 -5 4 4 5 -6 4 -2 5 13 5 3 4 3 5 -1 4 -9 5 -1 5 2 4 0 5 2 4 -8 5 -2 5 6 4 -1 5 5 4 -1 5 -12 5 -6 4 3 5 -12 4 -9 5 -1 5 6 4 -4 5 0 4 1 5 -3 5 -8 4 1 5 -12 4 3 5 -2 5 -3 4 -4 5 0 4 -3 5 -5 5 1 4 -3 5 -9 4 6 5 1 5 0 4 -6 5 11 4 2 5 1 5 8 4 0 5 -1 4 0 5 5 5 5 4 -8 5 10 4 3 5 6 5 -8 4 -4 5 8 4 4 5 3 5 -4 4 -1 5 7 4 6 5 3 5 -2 4 -10 5 3 4 10 5 4 5 1 4 4 5 7 4 -4 5 6 5 -1 4 1 5 -8 4 9 5 -2 5 0 4 -3 5 2 4 -14 5 3 5 0 4 -5 5 4 4 -7 5 -16 5 -4 4 -14 5 -9 4 -11 5 -4 5 -23 4 -29 5 -12 4 -15 5 -17 5 -22 4 -19 5 -23 4 -13 5 -20 5 3 4 6 5 -9 4 10 5 5 5 8 4 7 5 -8 4 -8 5 -5 5 -18 4 -18 5 -16 4 -12 5 -21 5 9 4 7 5 9 4 9 5 9 5 -8 4 -2 5 8 4 7 5 5 5 6 4 -8 5 7 4 5 5 -6 5 -2 4 0 5 -7 4 15 5 4 5 2 4 1 5 3 4 5 5 4 5 0 4 4 5 -3 4 9 5 5 5 -5 4 -7 5 -3 4 0 5 -6 5 -7 4 -3 5 11 4 -7 5 3 5 -1 4 -9 5 -1 4 -3 5 -8 5 2 4 3 5 5 4 -7 5 -4 5 -4 4 7 5 -1 4 1" transform="scale(0.5)" fill="none" stroke="#c20d0f" stroke-width="5.2" stroke-linejoin="round"/>
<path d="M256 4499l5 -6 4 2 5 4 5 10 4 2 5 5 4 0 5 -4 5 -4 4 10 5 -3 4 -7 5 -4 5 5 4 1 5 1 4 3 5 -9 5 -12 4 -5 5 17 4 -5 5 -2 5 4 4 8 5 9 4 -8 5 -1 5 -10 4 -3 5 -3 4 0 5 9 5 -1 4 1 5 -5 4 -10 5 6 5 -12 4 -3 5 5 4 1 5 4 5 6 4 -12 5 4 4 -9 5 -3 5 6 4 6 5 3 4 -15 5 12 5 -1 4 -2 5 -13 4 16 5 15 5 -3 4 -6 5 12 4 -6 5 2 5 -5 4 4 5 -5 4 8 5 -3 5 4 4 -9 5 8 4 -8 5 3 5 0 4 4 5 -6 4 5 5 -2 5 4 4 -13 5 -1 4 4 5 3 5 6 4 6 5 -9 4 2 5 14 5 9 4 -11 5 6 4 2 5 1 5 -14 4 5 5 -9 4 20 5 -5 5 -5 4 -16 5 -7 4 -6 5 1 5 -6 4 10 5 5 4 -2 5 -4 5 -7 4 2 5 -23 4 -19 5 2 5 3 4 -3 5 1 4 -7 5 -3 5 10 4 -5 5 -7 4 2 5 5 5 -5 4 6 5 5 4 1 5 -1 5 8 4 4 5 -5 4 9 5 -2 5 5 4 1 5 5 4 -16 5 -1 5 -4 4 8 5 2 4 6 5 -2 5 3 4 6 5 -13 4 -5 5 2 5 -6 4 -3 5 11 4 -11 5 -12 5 0 4 -3 5 10 4 -15 5 1 5 -5 4 -11 5 -8 4 0 5 5 5 -14 4 1 5 11 4 10 5 -9 5 -17 4 -9 5 9 4 10 5 -3 5 7 4 -8 5 -15 4 0 5 -17 5 7 4 -5 5 -14 4 -10 5 11 5 -35 4 -4 5 2 4 -8 5 -3 5 -6 4 -4 5 -5 4 -6 5 -17 5 -10 4 5 5 -2 4 -1 5 17 5 -13 4 -8 5 -1 4 -1 5 -9 5 6 4 -21 5 -1 4 8 5 -1 5 -7 4 12 5 -1 4 0 5 11 5 12 4 -2 5 2 4 -3 5 5 5 16 4 0 5 -7 4 -2 5 3 5 -15 4 8 5 4 4 6 5 -2 5 7 4 -16 5 7 4 -9 5 -4 5 2 4 5 5 -20 4 -9 5 8 5 -12 4 3 5 -1 4 -4 5 3 5 10 4 -19 5 -2 4 -7" transform="scale(0.5)" fill="none" stroke="#b40a0c" stroke-width="5.2" stroke-linejoin="round"/>
<path d="M256 4500l5 8 4 -3 5 4 5 -4 4 -3 5 4 4 -9 5 4 5 -4 4 15 5 1 4 -5 5 -3 5 -4 4 4 5 -10 4 -2 5 2 5 1 4 3 5 4 4 3 5 -5 5 8 4 3 5 1 4 7 5 -3 5 -5 4 4 5 8 4 -15 5 -7 5 -5 4 12 5 -1 4 0 5 -11 5 13 4 5 5 8 4 13 5 -5 5 -6 4 4 5 3 4 3 5 7 5 -18 4 2 5 6 4 -11 5 -3 5 0 4 -3 5 6 4 1 5 5 5 1 4 5 5 -8 4 5 5 -7 5 8 4 -9 5 -9 4 2 5 -1 5 0 4 -8 5 -1 4 -2 5 5 5 -6 4 7 5 3 4 -1 5 -9 5 7 4 -14 5 0 4 11 5 -11 5 1 4 -2 5 -2 4 -5 5 -2 5 -1 4 2 5 2 4 -8 5 -9 5 14 4 8 5 4 4 -6 5 0 5 3 4 -11 5 -10 4 -4 5 1 5 4 4 6 5 -6 4 2 5 -1 5 8 4 5 5 5 4 -5 5 -4 5 4 4 -12 5 1 4 -12 5 -11 5 -7 4 5 5 -9 4 -2 5 -2 5 -1 4 14 5 6 4 -2 5 10 5 11 4 2 5 -12 4 2 5 5 5 8 4 -4 5 -7 4 7 5 7 5 -14 4 4 5 -1 4 -11 5 -6 5 -4 4 -2 5 6 4 4 5 6 5 -5 4 10 5 -6 4 -11 5 -2 5 3 4 4 5 9 4 2 5 -12 5 9 4 0 5 -10 4 3 5 9 5 -3 4 -7 5 0 4 -6 5 4 5 -21 4 -10 5 -8 4 -6 5 -13 5 -31 4 -20 5 -20 4 -16 5 -14 5 -2 4 -7 5 -8 4 -9 5 -4 5 -8 4 -9 5 4 4 8 5 -5 5 14 4 4 5 12 4 -7 5 -2 5 3 4 5 5 13 4 5 5 3 5 -6 4 0 5 -7 4 5 5 -1 5 -8 4 -13 5 -1 4 -16 5 -4 5 -4 4 4 5 -3 4 -21 5 -8 5 -5 4 -4 5 -6 4 3 5 6 5 -6 4 -1 5 0 4 -5 5 -5 5 10 4 -1 5 8 4 6 5 2 5 5 4 7 5 -3 4 -2 5 3 5 1 4 9 5 7 4 5 5 -8 5 -10 4 -2 5 6 4 -10 5 -1 5 7 4 -9 5 0 4 -7" transform="scale(0.5)" fill="none" stroke="#a00609" stroke-width="5.2" stroke-linejoin="round"/>
<path d="M256 4511l5 -2 4 -1 5 -4 5 15 4 8 5 -13 4 -19 5 -5 5 7 4 0 5 -10 4 -2 5 4 5 7 4 1 5 5 4 4 5 2 5 -2 4 0 5 -12 4 -6 5 7 5 10 4 -14 5 10 4 -3 5 1 5 -4 4 0 5 7 4 8 5 -11 5 -11 4 -10 5 3 4 -1 5 5 5 10 4 -4 5 2 4 7 5 4 5 -14 4 7 5 0 4 -9 5 5 5 8 4 -4 5 1 4 -13 5 1 5 -1 4 4 5 -3 4 6 5 2 5 -17 4 6 5 -1 4 8 5 13 5 25 4 6 5 -15 4 -2 5 3 5 -5 4 -7 5 7 4 -20 5 6 5 2 4 9 5 1 4 -8 5 0 5 -12 4 -11 5 17 4 -7 5 -9 5 -3 4 0 5 2 4 7 5 -10 5 14 4 -10 5 -8 4 6 5 -15 5 5 4 12 5 10 4 -4 5 15 5 -17 4 5 5 -6 4 13 5 -7 5 -6 4 5 5 6 4 -9 5 3 5 -17 4 -11 5 5 4 -1 5 -6 5 10 4 -12 5 7 4 12 5 -6 5 -6 4 13 5 -13 4 15 5 6 5 7 4 -4 5 13 4 -5 5 0 5 5 4 1 5 11 4 -1 5 -10 5 -6 4 6 5 -3 4 -11 5 2 5 0 4 6 5 -5 4 -1 5 6 5 3 4 -8 5 13 4 4 5 -2 5 -22 4 4 5 -1 4 2 5 -11 5 0 4 15 5 0 4 -3 5 -21 5 -18 4 -4 5 5 4 8 5 -2 5 -12 4 -4 5 2 4 6 5 6 5 -3 4 1 5 0 4 6 5 -1 5 -9 4 -11 5 -11 4 -9 5 7 5 -10 4 -10 5 -3 4 -17 5 -24 5 -15 4 -33 5 -12 4 -18 5 -10 5 -14 4 -27 5 -7 4 -18 5 -19 5 1 4 -14 5 4 4 5 5 -14 5 -6 4 -16 5 -11 4 -6 5 -9 5 0 4 8 5 7 4 -4 5 6 5 15 4 7 5 2 4 -3 5 9 5 -14 4 2 5 9 4 2 5 3 5 -5 4 2 5 -7 4 9 5 10 5 -12 4 2 5 -10 4 1 5 -3 5 -3 4 -13 5 7 4 -2 5 -1 5 -13 4 -11 5 -3 4 -5 5 -13 5 16 4 2 5 -1 4 4 5 7 5 -3 4 6 5 -12 4 -5" transform="scale(0.5)" fill="none" stroke="#780006" stroke-width="5.2" stroke-linejoin="round"/>
<path d="M256 4510l5 2 4 4 5 -1 5 -8 4 -9 5 6 4 2 5 -7 5 1 4 14 5 4 4 -7 5 0 5 -5 4 -12 5 15 4 -1 5 1 5 -6 4 -2 5 -6 4 -1 5 -7 5 -3 4 3 5 3 4 -1 5 3 5 3 4 8 5 6 4 -20 5 4 5 -1 4 -5 5 0 4 -1 5 0 5 -9 4 7 5 4 4 -1 5 -10 5 -8 4 9 5 -1 4 7 5 4 5 2 4 -8 5 6 4 -3 5 -7 5 4 4 4 5 -4 4 12 5 5 5 -3 4 -7 5 -5 4 2 5 -16 5 -4 4 -1 5 6 4 4 5 0 5 -2 4 4 5 -5 4 -7 5 -4 5 4 4 -1 5 -5 4 1 5 6 5 -3 4 6 5 -13 4 4 5 10 5 7 4 -7 5 -1 4 -6 5 -5 5 6 4 2 5 0 4 -6 5 -1 5 -1 4 3 5 -5 4 2 5 0 5 -4 4 -9 5 11 4 -3 5 3 5 -1 4 -10 5 -4 4 7 5 9 5 -4 4 2 5 -1 4 -1 5 -4 5 0 4 6 5 -7 4 -2 5 -3 5 -9 4 3 5 2 4 1 5 -7 5 5 4 2 5 0 4 -1 5 10 5 -3 4 5 5 0 4 -3 5 2 5 1 4 4 5 6 4 2 5 5 5 1 4 3 5 -8 4 -3 5 -13 5 3 4 7 5 9 4 2 5 -8 5 7 4 2 5 -2 4 2 5 3 5 6 4 -3 5 6 4 2 5 1 5 -3 4 3 5 11 4 -3 5 9 5 4 4 -6 5 11 4 -1 5 2 5 -4 4 -1 5 3 4 -2 5 -9 5 4 4 4 5 -5 4 -4 5 -11 5 11 4 -2 5 4 4 -2 5 1 5 -10 4 -5 5 -17 4 3 5 9 5 -4 4 -7 5 -9 4 0 5 -1 5 -2 4 -5 5 -11 4 4 5 -9 5 0 4 -7 5 -3 4 -7 5 -4 5 -6 4 12 5 -8 4 3 5 -6 5 0 4 -3 5 -5 4 -3 5 -5 5 -15 4 0 5 -7 4 -18 5 -15 5 -10 4 -17 5 -2 4 -21 5 -11 5 -13 4 -4 5 -3 4 3 5 -5 5 -8 4 2 5 2 4 -7 5 -10 5 -5 4 0 5 2 4 -6 5 -6 5 4 4 0 5 6 4 10 5 6 5 5 4 -1 5 2 4 -5" transform="scale(0.5)" fill="none" stroke="#f8cbcb" stroke-width="5.2" stroke-linejoin="round"/>
<path d="M256 4512l5 8 4 3 5 -9 5 -1 4 -4 5 23 4 -1 5 -2 5 -7 4 15 5 3 4 -14 5 12 5 15 4 -5 5 -11 4 -1 5 3 5 2 4 -6 5 4 4 12 5 -1 5 -12 4 -6 5 2 4 2 5 -4 5 -2 4 20 5 -9 4 -22 5 1 5 1 4 7 5 -7 4 -8 5 2 5 -1 4 -3 5 3 4 13 5 -6 5 6 4 -3 5 7 4 -16 5 0 5 5 4 0 5 -2 4 9 5 -7 5 11 4 6 5 3 4 -10 5 15 5 -8 4 6 5 -6 4 8 5 -10 5 8 4 -1 5 -1 4 -8 5 3 5 -9 4 7 5 8 4 -4 5 -1 5 8 4 10 5 -8 4 2 5 -12 5 -4 4 -10 5 2 4 2 5 -2 5 -2 4 0 5 0 4 6 5 -9 5 -2 4 -5 5 13 4 -4 5 -9 5 -13 4 -1 5 -3 4 -8 5 6 5 4 4 -4 5 3 4 -8 5 6 5 -11 4 8 5 -12 4 -9 5 6 5 8 4 -1 5 -4 4 1 5 -11 5 11 4 9 5 -2 4 -3 5 6 5 -3 4 4 5 12 4 -5 5 -7 5 -1 4 0 5 5 4 0 5 18 5 -8 4 8 5 19 4 -2 5 -4 5 -7 4 -8 5 2 4 2 5 6 5 -11 4 5 5 -3 4 -6 5 13 5 6 4 -14 5 -7 4 10 5 2 5 -2 4 -1 5 5 4 -10 5 4 5 7 4 -13 5 9 4 -1 5 4 5 -3 4 9 5 0 4 2 5 -7 5 -13 4 -9 5 -8 4 -14 5 4 5 4 4 -17 5 -15 4 -1 5 -25 5 -26 4 -27 5 -15 4 -21 5 -12 5 -25 4 -26 5 -4 4 9 5 -16 5 -8 4 -4 5 -4 4 12 5 -6 5 3 4 -2 5 -15 4 -16 5 -16 5 -12 4 -11 5 -9 4 11 5 -1 5 11 4 -9 5 13 4 -13 5 2 5 20 4 -8 5 2 4 -7 5 -8 5 5 4 1 5 0 4 10 5 19 5 -3 4 10 5 0 4 2 5 9 5 13 4 4 5 6 4 7 5 -6 5 10 4 -4 5 2 4 11 5 -3 5 5 4 -7 5 -7 4 3 5 0 5 -6 4 -9 5 -5 4 1 5 -5 5 -2 4 8 5 -17 4 6 5 2 5 -11 4 1 5 4 4 -2" transform="scale(0.5)" fill="none" stroke="#c10d0f" stroke-width="5.2" stroke-linejoin="round"/>
<path d="M256 4489l5 -7 4 1 5 5 5 -3 4 2 5 -5 4 -9 5 0 5 -4 4 4 5 -2 4 -1 5 -7 5 5 4 -3 5 11 4 6 5 6 5 -6 4 -4 5 -4 4 1 5 7 5 -1 4 -4 5 13 4 -5 5 -10 5 -10 4 -4 5 -10 4 -3 5 -2 5 6 4 5 5 12 4 5 5 -7 5 11 4 12 5 7 4 -8 5 5 5 -10 4 -1 5 -9 4 3 5 -4 5 -6 4 12 5 2 4 0 5 8 5 -5 4 -6 5 -19 4 -1 5 -3 5 0 4 4 5 5 4 -23 5 -9 5 3 4 -3 5 10 4 12 5 -1 5 2 4 2 5 -1 4 -11 5 -8 5 -10 4 -8 5 -9 4 -14 5 -8 5 -11 4 -14 5 -15 4 -17 5 2 5 4 4 10 5 18 4 5 5 10 5 11 4 -10 5 -14 4 1 5 2 5 6 4 7 5 -8 4 -1 5 -8 5 8 4 -3 5 3 4 5 5 1 5 1 4 11 5 -3 4 3 5 7 5 2 4 2 5 0 4 6 5 -4 5 1 4 2 5 0 4 3 5 1 5 3 4 7 5 2 4 7 5 -6 5 -9 4 7 5 7 4 -7 5 -2 5 -9 4 0 5 -3 4 5 5 -5 5 4 4 5 5 -1 4 0 5 9 5 4 4 -1 5 10 4 11 5 0 5 5 4 -9 5 -4 4 11 5 -9 5 -7 4 -5 5 -11 4 2 5 -2 5 -8 4 0 5 -9 4 -7 5 -8 5 5 4 10 5 -16 4 -4 5 -6 5 -9 4 -10 5 -8 4 -7 5 -6 5 -11 4 7 5 -2 4 -4 5 -17 5 -16 4 -14 5 3 4 -14 5 -11 5 -15 4 2 5 -12 4 -2 5 -2 5 2 4 -5 5 2 4 -2 5 8 5 -8 4 6 5 -11 4 4 5 8 5 17 4 -2 5 14 4 9 5 -11 5 2 4 5 5 15 4 -2 5 1 5 1 4 15 5 14 4 -3 5 8 5 3 4 3 5 -13 4 -13 5 -1 5 -14 4 -10 5 -4 4 2 5 -8 5 -12 4 -6 5 10 4 0 5 11 5 -10 4 3 5 -11 4 -7 5 4 5 -6 4 -7 5 -7 4 -6 5 10 5 4 4 -2 5 -5 4 -5 5 2 5 -2 4 1 5 -5 4 -5 5 1 5 7 4 -5 5 -3 4 -3" transform="scale(0.5)" fill="none" stroke="#eb514d" stroke-width="5.2" stroke-linejoin="round"/>
<path d="M1636 4509l5 -3 4 0 5 -2 5 -9 4 9 5 9 4 2 5 9 5 -1 4 -2 5 5 4 -2 5 -8 5 -4 4 3 5 6 4 6 5 3 5 -9 4 9 5 -3 4 -8 5 3 5 -1 4 -2 5 -8 4 3 5 -2 5 7 4 2 5 3 4 -2 5 -5 5 5 4 -1 5 -5 4 -8 5 -13 5 3 4 -4 5 3 4 6 5 2 5 -6 4 1 5 -1 4 -6 5 -1 5 6 4 5 5 -6 4 12 5 5 5 3 4 -11 5 3 4 9 5 -8 5 -1 4 -4 5 -1 4 1 5 -6 5 5 4 4 5 -6 4 -2 5 0 5 -4 4 -3 5 8 4 -3 5 -8 5 -13 4 8 5 -8 4 1 5 -1 5 5 4 6 5 0 4 9 5 -7 5 9 4 -6 5 6 4 -4 5 1 5 3 4 3 5 -16 4 3 5 -6 5 13 4 -4 5 0 4 12 5 -3 5 -1 4 3 5 -4 4 4 5 0 5 2 4 -5 5 6 4 -1 5 -7 5 3 4 -2 5 7 4 -2 5 -12 5 -11 4 -2 5 -3 4 5 5 2 5 1 4 -8 5 -7 4 2 5 -2 5 -6 4 4 5 7 4 -2 5 1 5 -3 4 -5 5 -3 4 -5 5 3 5 8 4 4 5 0 4 -4 5 -8 5 -13 4 1 5 2 4 -6 5 -2 5 -2 4 -12 5 -1 4 1 5 -1 5 -3 4 -5 5 12 4 1 5 2 5 0 4 -5 5 6 4 9 5 -17 5 6 4 -8 5 -3 4 -8 5 3 5 10 4 3 5 -12 4 6 5 4 5 -5 4 5 5 -6 4 -9 5 -10 5 9 4 -7 5 -5 4 -2 5 1 5 -11 4 9 5 -5 4 -26 5 -24 5 -14 4 -30 5 -26 4 -17 5 0 5 -12 4 -10 5 -10 4 -11 5 -11 5 -8 4 12 5 -5 4 2 5 -9 5 -6 4 -5 5 -8 4 -4 5 -8 5 -8 4 -1 5 6 4 7 5 2 5 10 4 8 5 -4 4 13 5 -9 5 8 4 1 5 7 4 6 5 0 5 2 4 1 5 -7 4 2 5 -1 5 -6 4 -3 5 -8 4 -1 5 17 5 -4 4 -1 5 1 4 18 5 3 5 5 4 12 5 -1 4 -5 5 -4 5 -8 4 6 5 0 4 -16 5 3 5 -11 4 3 5 -7 4 -27" transform="scale(0.5)" fill="none" stroke="#0f33c8" stroke-width="5.2" stroke-linejoin="round"/>
<path d="M1636 4522l5 -9 4 -7 5 2 5 -6 4 -6 5 6 4 7 5 13 5 4 4 5 5 6 4 -11 5 -4 5 0 4 2 5 2 4 -9 5 -16 5 6 4 -1 5 6 4 3 5 -2 5 -4 4 9 5 -8 4 -3 5 -5 5 -9 4 -1 5 8 4 -1 5 -5 5 3 4 -5 5 4 4 -3 5 -6 5 3 4 -2 5 -8 4 -1 5 6 5 -3 4 0 5 5 4 -10 5 9 5 11 4 -3 5 -2 4 -13 5 -3 5 7 4 13 5 -11 4 -10 5 -5 5 2 4 2 5 -12 4 -6 5 1 5 4 4 -10 5 4 4 0 5 1 5 7 4 1 5 -2 4 -2 5 -16 5 -10 4 6 5 -7 4 2 5 11 5 -18 4 -1 5 1 4 2 5 3 5 -2 4 9 5 0 4 -7 5 -6 5 -7 4 9 5 -1 4 -4 5 -9 5 -12 4 0 5 9 4 -14 5 7 5 2 4 -8 5 15 4 -10 5 3 5 0 4 5 5 2 4 -7 5 5 5 -5 4 -11 5 10 4 4 5 19 5 -8 4 3 5 -9 4 3 5 -17 5 -6 4 -20 5 8 4 -3 5 -4 5 0 4 -1 5 7 4 1 5 -2 5 5 4 -1 5 -2 4 -7 5 2 5 0 4 4 5 -4 4 4 5 10 5 1 4 16 5 7 4 0 5 -9 5 -4 4 -2 5 -10 4 -11 5 -24 5 -1 4 -10 5 0 4 -4 5 0 5 -3 4 -2 5 3 4 15 5 -16 5 7 4 -1 5 4 4 -12 5 -14 5 -4 4 8 5 -16 4 4 5 -23 5 -7 4 -6 5 -12 4 -3 5 -6 5 -15 4 -13 5 -10 4 -9 5 -20 5 -19 4 -5 5 8 4 -14 5 -4 5 -11 4 -7 5 -12 4 2 5 -8 5 10 4 12 5 5 4 19 5 17 5 6 4 20 5 16 4 11 5 18 5 4 4 14 5 16 4 -2 5 10 5 7 4 18 5 -1 4 -2 5 -9 5 -4 4 4 5 -6 4 -9 5 -3 5 5 4 -5 5 -5 4 -7 5 -15 5 2 4 -7 5 10 4 -8 5 6 5 -19 4 7 5 3 4 5 5 -12 5 -9 4 5 5 -14 4 -9 5 13 5 2 4 1 5 -4 4 4 5 -2 5 1 4 -3 5 5 4 -4 5 0 5 -6 4 11 5 -9 4 -9" transform="scale(0.5)" fill="none" stroke="#a6d7eb" stroke-width="5.2" stroke-linejoin="round"/>
<path d="M1636 4509l5 -3 4 -2 5 -4 5 -1 4 -8 5 -5 4 -1 5 7 5 12 4 -7 5 -9 4 9 5 -4 5 -3 4 4 5 -8 4 7 5 -1 5 -3 4 -7 5 -1 4 1 5 -5 5 -3 4 1 5 7 4 10 5 -7 5 -3 4 -2 5 2 4 -7 5 -3 5 4 4 -14 5 8 4 -1 5 0 5 -6 4 -3 5 5 4 8 5 12 5 -10 4 -4 5 3 4 2 5 -3 5 -4 4 13 5 -11 4 -1 5 -5 5 -3 4 7 5 -4 4 6 5 -4 5 -12 4 4 5 6 4 -3 5 0 5 2 4 -8 5 8 4 -21 5 5 5 1 4 7 5 -2 4 -9 5 -6 5 4 4 3 5 10 4 4 5 -2 5 5 4 6 5 -10 4 -4 5 -11 5 5 4 -12 5 -5 4 -8 5 -4 5 7 4 -2 5 -16 4 12 5 -10 5 6 4 10 5 3 4 9 5 4 5 -7 4 2 5 -2 4 0 5 2 5 2 4 -19 5 5 4 -4 5 5 5 15 4 -5 5 0 4 -5 5 3 5 12 4 -4 5 -4 4 -6 5 -11 5 6 4 7 5 9 4 6 5 -9 5 0 4 4 5 -8 4 -7 5 -3 5 -3 4 3 5 9 4 -2 5 2 5 -4 4 -4 5 -10 4 21 5 -4 5 -5 4 -1 5 6 4 -1 5 -3 5 -5 4 -16 5 -7 4 -2 5 11 5 4 4 -14 5 2 4 -10 5 -2 5 6 4 9 5 -10 4 -6 5 -7 5 -20 4 -1 5 0 4 -11 5 -12 5 -5 4 3 5 16 4 10 5 -3 5 4 4 3 5 11 4 4 5 -9 5 -3 4 -10 5 4 4 0 5 -19 5 1 4 -19 5 6 4 -13 5 -7 5 0 4 -6 5 -14 4 8 5 -19 5 -1 4 -1 5 -21 4 4 5 -5 5 -11 4 -16 5 -8 4 -8 5 -19 5 -13 4 -2 5 -4 4 -6 5 4 5 -14 4 8 5 11 4 8 5 -4 5 8 4 5 5 15 4 8 5 5 5 2 4 -5 5 -3 4 -8 5 -4 5 6 4 -9 5 -11 4 -5 5 0 5 -17 4 -3 5 1 4 -2 5 -4 5 0 4 -3 5 -9 4 -2 5 -9 5 -2 4 2 5 -9 4 -2 5 -12 5 -9 4 6 5 -4 4 -2 5 -7 5 9 4 13 5 -2 4 9" transform="scale(0.5)" fill="none" stroke="#1d62d6" stroke-width="5.2" stroke-linejoin="round"/>
<path d="M1636 4509l5 -7 4 4 5 13 5 6 4 -10 5 2 4 1 5 -7 5 -10 4 0 5 -9 4 -4 5 2 5 1 4 -1 5 -7 4 8 5 -11 5 5 4 -1 5 7 4 -5 5 -2 5 5 4 4 5 -4 4 6 5 3 5 -12 4 13 5 -7 4 4 5 -6 5 -2 4 -1 5 3 4 -5 5 -10 5 10 4 2 5 -4 4 20 5 -6 5 -5 4 4 5 -7 4 -2 5 -1 5 4 4 0 5 -10 4 6 5 -5 5 -3 4 7 5 -4 4 -1 5 -9 5 -1 4 6 5 5 4 -11 5 -23 5 1 4 -3 5 0 4 -6 5 2 5 -5 4 -3 5 5 4 -1 5 1 5 18 4 -9 5 2 4 -3 5 2 5 -5 4 -2 5 6 4 0 5 -1 5 4 4 7 5 4 4 -2 5 -6 5 -3 4 -13 5 -1 4 -2 5 -6 5 3 4 1 5 8 4 -1 5 2 5 4 4 -1 5 -11 4 -7 5 0 5 -3 4 -7 5 0 4 14 5 -6 5 -7 4 5 5 -6 4 4 5 -4 5 -3 4 0 5 -3 4 2 5 -11 5 -8 4 -6 5 3 4 -4 5 -3 5 1 4 -2 5 -4 4 9 5 5 5 -4 4 12 5 -17 4 -13 5 -1 5 -10 4 4 5 8 4 -1 5 6 5 1 4 4 5 -5 4 3 5 -7 5 -10 4 -1 5 -13 4 -8 5 1 5 2 4 -13 5 -9 4 0 5 -2 5 -5 4 -7 5 5 4 -7 5 -15 5 -18 4 -15 5 -6 4 10 5 16 5 -4 4 19 5 -2 4 -5 5 5 5 -2 4 14 5 13 4 11 5 3 5 -10 4 6 5 0 4 1 5 11 5 -10 4 -6 5 6 4 4 5 -5 5 0 4 8 5 -6 4 -7 5 -2 5 3 4 -8 5 3 4 -15 5 1 5 -3 4 6 5 -17 4 -8 5 -15 5 -11 4 5 5 -14 4 -21 5 -1 5 -1 4 -9 5 2 4 -1 5 -19 5 3 4 -11 5 -6 4 -10 5 6 5 -4 4 -11 5 -19 4 4 5 -2 5 3 4 -7 5 -7 4 10 5 -7 5 18 4 8 5 10 4 2 5 -10 5 5 4 0 5 7 4 12 5 3 5 1 4 7 5 3 4 6 5 4 5 7 4 -2 5 7 4 12 5 6 5 -5 4 -8 5 -2 4 -1" transform="scale(0.5)" fill="none" stroke="#cbe5f2" stroke-width="5.2" stroke-linejoin="round"/>
<path d="M1636 4510l5 2 4 -2 5 1 5 -4 4 -6 5 6 4 4 5 2 5 1 4 -3 5 -6 4 -5 5 7 5 1 4 -8 5 -4 4 5 5 -8 5 7 4 1 5 -4 4 -3 5 9 5 0 4 3 5 -10 4 4 5 3 5 1 4 5 5 0 4 -2 5 -4 5 1 4 10 5 -6 4 5 5 1 5 -11 4 8 5 -1 4 -5 5 8 5 2 4 -3 5 -4 4 2 5 5 5 -4 4 -3 5 -1 4 -8 5 5 5 8 4 -5 5 7 4 -4 5 1 5 -9 4 -8 5 1 4 -10 5 7 5 -6 4 -4 5 -10 4 5 5 -10 5 0 4 0 5 -4 4 -3 5 -2 5 6 4 -9 5 -5 4 -9 5 -2 5 -2 4 -5 5 -4 4 -13 5 12 5 0 4 4 5 2 4 3 5 -8 5 -1 4 -10 5 -5 4 -3 5 -5 5 3 4 -5 5 2 4 5 5 3 5 1 4 -1 5 -17 4 2 5 3 5 8 4 -8 5 -12 4 6 5 10 5 -14 4 -1 5 4 4 -5 5 -2 5 3 4 -6 5 -3 4 -9 5 3 5 -6 4 -16 5 -6 4 1 5 -6 5 -3 4 -6 5 1 4 -2 5 3 5 -4 4 -1 5 1 4 -7 5 -3 5 11 4 -3 5 -3 4 -6 5 15 5 1 4 1 5 5 4 1 5 2 5 11 4 1 5 6 4 9 5 -4 5 1 4 3 5 7 4 0 5 12 5 -2 4 -3 5 -5 4 -5 5 7 5 2 4 0 5 1 4 -3 5 -2 5 0 4 -7 5 -3 4 -11 5 -15 5 1 4 3 5 -3 4 -3 5 0 5 0 4 -7 5 15 4 -6 5 11 5 10 4 9 5 4 4 -4 5 12 5 1 4 -3 5 -1 4 6 5 5 5 -2 4 3 5 0 4 5 5 0 5 3 4 3 5 1 4 -5 5 15 5 -5 4 -4 5 -9 4 7 5 -1 5 -5 4 -4 5 5 4 -2 5 -3 5 6 4 4 5 -3 4 -11 5 -7 5 0 4 -11 5 -2 4 -5 5 -2 5 -8 4 3 5 2 4 -7 5 -6 5 9 4 -5 5 1 4 -2 5 5 5 -2 4 10 5 9 4 6 5 3 5 -4 4 -1 5 0 4 12 5 2 5 3 4 -7 5 8 4 4 5 6 5 -6 4 17 5 13 4 4" transform="scale(0.5)" fill="none" stroke="#a8d8eb" stroke-width="5.2" stroke-linejoin="round"/>
<path d="M1636 4521l5 1 4 -14 5 1 5 0 4 12 5 3 4 0 5 -8 5 20 4 -3 5 4 4 -2 5 -6 5 -2 4 -5 5 -3 4 -3 5 -10 5 2 4 0 5 -13 4 11 5 -6 5 -1 4 3 5 0 4 10 5 -6 5 -3 4 7 5 1 4 1 5 7 5 -4 4 -4 5 0 4 0 5 18 5 -6 4 -10 5 1 4 1 5 1 5 -13 4 -11 5 2 4 1 5 1 5 -1 4 10 5 -12 4 -10 5 3 5 -2 4 14 5 -5 4 1 5 8 5 0 4 1 5 1 4 -4 5 -20 5 -6 4 -3 5 3 4 3 5 -4 5 -5 4 3 5 -9 4 -3 5 -10 5 1 4 0 5 1 4 -8 5 -5 5 -6 4 -6 5 7 4 0 5 3 5 0 4 -4 5 -8 4 -8 5 4 5 0 4 -2 5 -10 4 0 5 -7 5 14 4 2 5 -1 4 -3 5 -1 5 2 4 -5 5 -6 4 -13 5 12 5 0 4 -5 5 4 4 -18 5 -6 5 -9 4 -1 5 -7 4 -3 5 -2 5 3 4 -1 5 4 4 -5 5 2 5 5 4 10 5 10 4 -9 5 0 5 -1 4 -12 5 -8 4 -2 5 6 5 12 4 1 5 -11 4 2 5 11 5 -3 4 -9 5 0 4 5 5 -7 5 4 4 0 5 6 4 -2 5 -7 5 10 4 11 5 -5 4 2 5 -14 5 -3 4 -2 5 -8 4 -7 5 2 5 -1 4 2 5 -14 4 7 5 -13 5 -3 4 4 5 -12 4 4 5 -18 5 4 4 -6 5 2 4 -2 5 5 5 -10 4 -13 5 11 4 -4 5 -11 5 0 4 -20 5 -4 4 -6 5 7 5 -23 4 -13 5 -9 4 -10 5 -13 5 1 4 -16 5 -16 4 -5 5 -5 5 -9 4 2 5 -7 4 -14 5 -16 5 14 4 10 5 12 4 -1 5 16 5 13 4 25 5 12 4 21 5 2 5 13 4 2 5 12 4 19 5 13 5 4 4 9 5 -2 4 5 5 12 5 -11 4 1 5 9 4 -11 5 -12 5 -9 4 8 5 -20 4 7 5 -5 5 -5 4 5 5 -15 4 -5 5 7 5 -11 4 -5 5 -9 4 -3 5 4 5 0 4 -15 5 -10 4 -5 5 3 5 4 4 -4 5 1 4 -10 5 4 5 3 4 -13 5 -10 4 -5" transform="scale(0.5)" fill="none" stroke="#8ccde6" stroke-width="5.2" stroke-linejoin="round"/>
<path d="M1636 4521l5 -5 4 10 5 -5 5 7 4 -2 5 -11 4 4 5 3 5 -5 4 -13 5 15 4 -5 5 -13 5 -2 4 -13 5 -6 4 -3 5 3 5 11 4 8 5 -5 4 -10 5 8 5 -2 4 0 5 -7 4 7 5 -4 5 -9 4 9 5 5 4 10 5 -2 5 15 4 0 5 -3 4 -13 5 2 5 3 4 -17 5 -6 4 -6 5 15 5 -2 4 19 5 -15 4 -4 5 6 5 -3 4 19 5 -4 4 9 5 -11 5 9 4 -7 5 -5 4 6 5 1 5 -6 4 12 5 -2 4 3 5 -8 5 -6 4 1 5 -6 4 -16 5 -6 5 1 4 5 5 6 4 -11 5 -10 5 5 4 11 5 2 4 -5 5 10 5 2 4 -8 5 -1 4 -6 5 7 5 -7 4 -6 5 -1 4 -1 5 -2 5 -6 4 9 5 -14 4 13 5 0 5 -13 4 17 5 6 4 1 5 11 5 0 4 -3 5 -11 4 7 5 -3 5 16 4 -16 5 3 4 12 5 -6 5 -5 4 -11 5 -6 4 8 5 14 5 7 4 -7 5 -1 4 2 5 -2 5 -1 4 -7 5 -4 4 -3 5 -8 5 4 4 -2 5 0 4 -6 5 6 5 2 4 9 5 -9 4 -14 5 6 5 -4 4 -4 5 -14 4 -2 5 0 5 -6 4 6 5 5 4 -7 5 -3 5 7 4 10 5 10 4 3 5 2 5 -5 4 7 5 -3 4 -12 5 -2 5 1 4 12 5 -5 4 -8 5 1 5 2 4 -4 5 -11 4 9 5 -5 5 2 4 -6 5 10 4 -13 5 1 5 -1 4 -1 5 -7 4 -8 5 0 5 -10 4 -5 5 -9 4 -7 5 -9 5 -13 4 -6 5 5 4 -6 5 7 5 11 4 -12 5 -2 4 11 5 -9 5 -11 4 -15 5 2 4 -7 5 -8 5 -8 4 -20 5 6 4 -6 5 0 5 2 4 14 5 -2 4 -13 5 -1 5 -4 4 -3 5 -9 4 -10 5 2 5 -4 4 1 5 -3 4 12 5 -3 5 14 4 -10 5 -2 4 -2 5 -3 5 11 4 -4 5 8 4 1 5 2 5 -8 4 -5 5 1 4 3 5 -2 5 0 4 -3 5 5 4 2 5 -3 5 -12 4 8 5 6 4 -13 5 4 5 -13 4 1 5 5 4 -33 5 0 5 -8 4 4 5 -5 4 -10" transform="scale(0.5)" fill="none" stroke="#7ec4e4" stroke-width="5.2" stroke-linejoin="round"/>
<path d="M1636 4511l5 3 4 0 5 -1 5 -1 4 -15 5 -6 4 9 5 1 5 11 4 8 5 -1 4 -3 5 -3 5 8 4 8 5 8 4 11 5 -16 5 5 4 -1 5 11 4 0 5 0 5 -1 4 -6 5 -4 4 -3 5 3 5 -17 4 -8 5 0 4 8 5 -5 5 1 4 15 5 8 4 0 5 -13 5 8 4 -2 5 -3 4 3 5 3 5 -11 4 -12 5 -9 4 12 5 0 5 2 4 -1 5 -7 4 0 5 10 5 0 4 -7 5 -3 4 -1 5 -13 5 3 4 -2 5 6 4 -11 5 -3 5 1 4 0 5 -10 4 17 5 -4 5 -6 4 11 5 -4 4 -1 5 -1 5 2 4 -7 5 -6 4 -3 5 0 5 -1 4 9 5 -6 4 -7 5 3 5 -1 4 3 5 -11 4 2 5 1 5 2 4 0 5 0 4 -4 5 9 5 -6 4 -5 5 -3 4 -2 5 1 5 5 4 2 5 1 4 -4 5 0 5 5 4 -6 5 3 4 4 5 5 5 6 4 1 5 5 4 -15 5 -2 5 -7 4 -2 5 8 4 -2 5 -1 5 4 4 -4 5 -3 4 2 5 -9 5 -4 4 6 5 -12 4 -2 5 8 5 -13 4 -3 5 0 4 1 5 -4 5 2 4 -13 5 7 4 4 5 -8 5 -8 4 -8 5 -7 4 11 5 9 5 -8 4 -18 5 5 4 -12 5 12 5 -1 4 0 5 -4 4 3 5 -7 5 -4 4 -15 5 4 4 0 5 -5 5 2 4 -2 5 11 4 -1 5 -10 5 -8 4 7 5 -5 4 -8 5 -7 5 7 4 1 5 4 4 -1 5 -8 5 -9 4 -7 5 -7 4 -9 5 -8 5 -12 4 -24 5 -16 4 -3 5 -13 5 2 4 -18 5 -14 4 -2 5 -17 5 -10 4 -8 5 0 4 -15 5 -10 5 0 4 6 5 -10 4 -3 5 -6 5 -5 4 6 5 4 4 18 5 -11 5 -6 4 7 5 -14 4 1 5 -3 5 -1 4 -5 5 0 4 -4 5 -15 5 4 4 5 5 6 4 0 5 -3 5 -15 4 9 5 9 4 -21 5 8 5 2 4 15 5 3 4 1 5 18 5 5 4 -2 5 -2 4 -10 5 2 5 -2 4 -1 5 0 4 10 5 -7 5 1 4 6 5 5 4 -4 5 2 5 -8 4 -6 5 0 4 -10" transform="scale(0.5)" fill="none" stroke="#70bbe2" stroke-width="5.2" stroke-linejoin="round"/>
<path d="M1636 4509l5 -4 4 -7 5 -1 5 3 4 8 5 -2 4 -7 5 4 5 10 4 -1 5 -1 4 -10 5 -7 5 8 4 -11 5 -1 4 -2 5 1 5 -2 4 1 5 4 4 -3 5 8 5 1 4 -1 5 -12 4 -9 5 -4 5 -4 4 8 5 7 4 -1 5 -6 5 5 4 -2 5 0 4 -1 5 1 5 -8 4 2 5 -2 4 3 5 1 5 3 4 -1 5 -3 4 3 5 -5 5 3 4 0 5 0 4 6 5 11 5 4 4 -8 5 -2 4 -1 5 -3 5 -10 4 11 5 1 4 -11 5 -12 5 -2 4 3 5 4 4 10 5 -5 5 5 4 -1 5 -2 4 3 5 -3 5 -7 4 11 5 -1 4 4 5 3 5 -24 4 3 5 -5 4 -15 5 0 5 2 4 -5 5 -10 4 -1 5 -6 5 14 4 7 5 11 4 -7 5 4 5 9 4 12 5 -8 4 -14 5 -6 5 8 4 -1 5 -2 4 -2 5 3 5 -1 4 7 5 6 4 -6 5 1 5 10 4 -14 5 9 4 -18 5 7 5 2 4 -9 5 -6 4 -2 5 12 5 0 4 -9 5 1 4 0 5 -9 5 11 4 3 5 1 4 0 5 -10 5 1 4 6 5 -1 4 0 5 -13 5 5 4 -5 5 -10 4 2 5 9 5 -2 4 2 5 -10 4 3 5 -1 5 -6 4 -7 5 3 4 23 5 -7 5 -4 4 5 5 -3 4 -14 5 -4 5 1 4 -13 5 1 4 -11 5 -8 5 -9 4 12 5 2 4 -5 5 1 5 6 4 6 5 14 4 0 5 10 5 -1 4 -6 5 -11 4 -6 5 -4 5 -1 4 3 5 -10 4 -19 5 -8 5 2 4 -14 5 0 4 2 5 -9 5 -10 4 -17 5 -1 4 -9 5 -7 5 -7 4 1 5 -12 4 9 5 -9 5 -11 4 -4 5 -21 4 0 5 -9 5 -4 4 3 5 5 4 10 5 7 5 14 4 1 5 9 4 6 5 14 5 -9 4 -4 5 0 4 -2 5 -11 5 6 4 -8 5 -1 4 -8 5 1 5 -15 4 1 5 -8 4 -20 5 0 5 -1 4 -3 5 -11 4 -20 5 -4 5 -4 4 -5 5 -2 4 -11 5 -2 5 5 4 -21 5 -12 4 -14 5 2 5 7 4 3 5 -6 4 7 5 -6 5 20 4 9 5 -2 4 -8" transform="scale(0.5)" fill="none" stroke="#54a9de" stroke-width="5.2" stroke-linejoin="round"/>
<path d="M1636 4509l5 9 4 1 5 0 5 -11 4 -4 5 -1 4 -10 5 -13 5 7 4 5 5 -7 4 8 5 -5 5 6 4 7 5 -4 4 8 5 -15 5 -13 4 2 5 15 4 -1 5 -9 5 6 4 -4 5 0 4 2 5 -6 5 -7 4 7 5 5 4 -6 5 -8 5 6 4 2 5 3 4 4 5 -1 5 7 4 -4 5 2 4 8 5 -4 5 -12 4 -1 5 -3 4 -7 5 -4 5 10 4 -4 5 12 4 2 5 -10 5 3 4 -7 5 3 4 -2 5 4 5 -4 4 -1 5 3 4 -2 5 1 5 -16 4 2 5 -5 4 -6 5 3 5 -8 4 9 5 3 4 4 5 -3 5 0 4 -20 5 2 4 6 5 -2 5 9 4 0 5 1 4 -1 5 -10 5 0 4 -10 5 -6 4 6 5 3 5 12 4 -12 5 9 4 6 5 -8 5 2 4 14 5 5 4 -9 5 4 5 -1 4 3 5 -1 4 -3 5 -4 5 6 4 -16 5 15 4 4 5 -4 5 11 4 -10 5 -6 4 -9 5 -10 5 -5 4 7 5 2 4 9 5 -4 5 -10 4 5 5 2 4 1 5 7 5 4 4 -10 5 -7 4 7 5 -6 5 1 4 -3 5 0 4 -1 5 8 5 1 4 -5 5 7 4 4 5 13 5 -2 4 -6 5 0 4 0 5 6 5 -12 4 -4 5 3 4 -7 5 -13 5 -1 4 4 5 -2 4 -2 5 -2 5 10 4 -8 5 -7 4 5 5 6 5 -6 4 -4 5 -2 4 -17 5 -4 5 12 4 4 5 -5 4 8 5 -7 5 0 4 -9 5 -7 4 -21 5 8 5 -32 4 -24 5 -19 4 -24 5 -30 5 -9 4 -3 5 -5 4 -12 5 -18 5 2 4 -3 5 -16 4 -12 5 -11 5 2 4 -8 5 -12 4 1 5 9 5 8 4 1 5 3 4 1 5 -9 5 1 4 11 5 14 4 2 5 4 5 3 4 14 5 8 4 -3 5 9 5 -11 4 -7 5 3 4 -7 5 -4 5 5 4 -9 5 -8 4 0 5 4 5 5 4 10 5 0 4 -2 5 12 5 8 4 0 5 12 4 4 5 17 5 -6 4 -6 5 16 4 -10 5 -5 5 5 4 -11 5 -1 4 -5 5 2 5 -14 4 -19 5 -9 4 -17 5 -5 5 5 4 5 5 -8 4 -15" transform="scale(0.5)" fill="none" stroke="#3b90da" stroke-width="5.2" stroke-linejoin="round"/>
<path d="M1636 4498l5 -3 4 -1 5 7 5 10 4 -10 5 -3 4 8 5 1 5 4 4 0 5 0 4 -12 5 -2 5 0 4 8 5 -3 4 4 5 -1 5 -10 4 3 5 -7 4 2 5 -1 5 2 4 -8 5 7 4 -9 5 -7 5 -10 4 -6 5 -2 4 -8 5 1 5 5 4 7 5 1 4 -10 5 -7 5 0 4 -7 5 2 4 -6 5 -7 5 17 4 1 5 -2 4 -7 5 15 5 12 4 -5 5 -5 4 -12 5 -4 5 -4 4 16 5 -12 4 22 5 -10 5 2 4 3 5 -5 4 1 5 0 5 14 4 11 5 -5 4 10 5 0 5 0 4 -9 5 1 4 0 5 0 5 -2 4 -15 5 3 4 10 5 -19 5 -8 4 6 5 1 4 8 5 -2 5 -4 4 -1 5 5 4 -7 5 14 5 -3 4 6 5 -11 4 2 5 -3 5 -15 4 12 5 -1 4 -3 5 1 5 2 4 -8 5 -4 4 -14 5 -4 5 13 4 5 5 -17 4 -8 5 -2 5 3 4 2 5 1 4 7 5 -5 5 -1 4 -9 5 3 4 -1 5 3 5 -17 4 3 5 13 4 -17 5 5 5 -5 4 4 5 -2 4 -6 5 8 5 -1 4 4 5 -4 4 -6 5 13 5 -6 4 4 5 2 4 10 5 0 5 -5 4 -2 5 -5 4 1 5 -13 5 8 4 -8 5 0 4 -1 5 -3 5 12 4 -5 5 -7 4 3 5 4 5 1 4 -7 5 -2 4 -6 5 -5 5 -7 4 -7 5 5 4 1 5 2 5 -5 4 -5 5 -8 4 -9 5 3 5 5 4 5 5 3 4 -4 5 1 5 4 4 -6 5 6 4 1 5 -1 5 6 4 -11 5 10 4 9 5 -4 5 -1 4 0 5 13 4 -2 5 -8 5 12 4 -8 5 -4 4 4 5 -6 5 -4 4 7 5 0 4 10 5 -4 5 8 4 -2 5 -9 4 6 5 4 5 -4 4 1 5 -6 4 -5 5 -3 5 2 4 -3 5 4 4 -7 5 1 5 19 4 -9 5 1 4 7 5 -11 5 15 4 13 5 25 4 17 5 3 5 -16 4 -18 5 -18 4 -19 5 -12 5 -20 4 -2 5 -2 4 -19 5 -13 5 -23 4 -9 5 4 4 -7 5 -5 5 -7 4 -24 5 -1 4 -6 5 -1 5 6 4 -5 5 7 4 5" transform="scale(0.5)" fill="none" stroke="#3282d9" stroke-width="5.2" stroke-linejoin="round"/>
<path d="M1636 4500l5 -4 4 3 5 13 5 1 4 -2 5 -2 4 12 5 -3 5 -3 4 5 5 1 4 4 5 5 5 -9 4 7 5 -4 4 -4 5 -2 5 6 4 -5 5 -4 4 3 5 4 5 7 4 -4 5 0 4 -9 5 2 5 3 4 2 5 -8 4 -2 5 9 5 1 4 -2 5 -3 4 -6 5 -3 5 -1 4 -6 5 -2 4 9 5 0 5 5 4 -11 5 9 4 -4 5 -3 5 -9 4 8 5 0 4 8 5 1 5 3 4 -5 5 -2 4 9 5 2 5 -8 4 2 5 0 4 2 5 -1 5 -1 4 2 5 -16 4 0 5 7 5 -7 4 6 5 6 4 13 5 -10 5 -10 4 -11 5 5 4 1 5 -1 5 -1 4 -6 5 0 4 7 5 -8 5 -10 4 -10 5 1 4 -4 5 -2 5 -4 4 2 5 -12 4 9 5 -1 5 -8 4 -4 5 2 4 2 5 -4 5 5 4 0 5 -4 4 4 5 -5 5 -11 4 8 5 -4 4 6 5 -4 5 -11 4 -1 5 5 4 -5 5 5 5 -5 4 -4 5 9 4 -4 5 1 5 3 4 -6 5 0 4 -8 5 4 5 3 4 -15 5 10 4 -1 5 -11 5 4 4 -2 5 -2 4 1 5 6 5 -4 4 2 5 -4 4 -6 5 6 5 -7 4 11 5 1 4 7 5 -6 5 -1 4 14 5 -4 4 -5 5 2 5 -8 4 4 5 -6 4 -12 5 5 5 13 4 5 5 1 4 -17 5 -12 5 6 4 1 5 8 4 3 5 13 5 -1 4 -10 5 3 4 3 5 5 5 -25 4 0 5 -1 4 -11 5 3 5 -5 4 -7 5 -6 4 -2 5 -9 5 -4 4 5 5 -3 4 -4 5 -11 5 -39 4 -14 5 -20 4 -30 5 -43 5 -19 4 -33 5 4 4 6 5 16 5 8 4 12 5 19 4 10 5 9 5 9 4 1 5 7 4 6 5 -1 5 16 4 -6 5 6 4 -3 5 8 5 20 4 25 5 24 4 18 5 24 5 -29 4 -16 5 -30 4 -18 5 -17 5 -8 4 -11 5 -15 4 -13 5 -10 5 -16 4 0 5 -2 4 5 5 -4 5 -3 4 -18 5 0 4 -3 5 -3 5 -2 4 -1 5 5 4 -3 5 -18 5 4 4 6 5 19 4 0 5 11 5 5 4 3 5 4 4 -7" transform="scale(0.5)" fill="none" stroke="#2772d8" stroke-width="5.2" stroke-linejoin="round"/>
<path d="M1636 4509l5 -11 4 11 5 3 5 2 4 4 5 0 4 -11 5 -6 5 3 4 -3 5 4 4 -1 5 0 5 4 4 -15 5 2 4 3 5 -5 5 -6 4 13 5 14 4 -1 5 -8 5 -13 4 -7 5 6 4 -2 5 5 5 -7 4 8 5 -3 4 1 5 0 5 4 4 0 5 -7 4 11 5 10 5 2 4 9 5 0 4 -13 5 16 5 -1 4 9 5 1 4 -5 5 7 5 -4 4 -9 5 0 4 0 5 -3 5 6 4 -7 5 0 4 10 5 -5 5 -4 4 0 5 12 4 -5 5 4 5 -4 4 3 5 -7 4 -3 5 7 5 -19 4 -6 5 -2 4 11 5 0 5 3 4 4 5 -8 4 2 5 -3 5 -9 4 -5 5 -7 4 8 5 3 5 -13 4 -1 5 -7 4 1 5 1 5 -1 4 1 5 0 4 3 5 -9 5 -4 4 -21 5 0 4 5 5 -11 5 9 4 -11 5 -2 4 -2 5 2 5 -5 4 -7 5 -6 4 -5 5 9 5 14 4 -6 5 -4 4 3 5 -13 5 11 4 0 5 -4 4 1 5 7 5 6 4 -1 5 -3 4 0 5 -1 5 2 4 16 5 1 4 -1 5 -7 5 5 4 3 5 3 4 3 5 1 5 -7 4 3 5 -16 4 2 5 8 5 3 4 -12 5 3 4 -6 5 -1 5 8 4 0 5 -16 4 8 5 -3 5 -16 4 -7 5 8 4 -6 5 -8 5 -5 4 -9 5 0 4 -11 5 -1 5 -2 4 -15 5 -3 4 -7 5 -4 5 -17 4 1 5 -7 4 -6 5 0 5 -3 4 -12 5 -12 4 -10 5 -5 5 16 4 20 5 1 4 20 5 8 5 8 4 5 5 24 4 -10 5 -1 5 1 4 -2 5 4 4 -3 5 -8 5 -5 4 -3 5 14 4 5 5 -16 5 8 4 -6 5 0 4 5 5 13 5 9 4 -1 5 5 4 1 5 0 5 -12 4 10 5 -4 4 1 5 -6 5 -2 4 -2 5 -8 4 3 5 -17 5 11 4 16 5 1 4 1 5 7 5 3 4 5 5 5 4 6 5 2 5 15 4 2 5 -11 4 0 5 13 5 15 4 6 5 -8 4 -11 5 -9 5 -11 4 -8 5 -12 4 -23 5 -14 5 -30 4 -14 5 -20 4 -1 5 -9 5 -13 4 -13 5 -18 4 0" transform="scale(0.5)" fill="none" stroke="#1853d2" stroke-width="5.2" stroke-linejoin="round"/>
<path d="M1636 4521l5 -4 4 -7 5 11 5 -3 4 0 5 4 4 -7 5 4 5 -2 4 12 5 -15 4 0 5 -2 5 2 4 1 5 -3 4 -2 5 -3 5 -8 4 5 5 -8 4 -4 5 5 5 2 4 0 5 1 4 -4 5 -4 5 7 4 0 5 -11 4 -4 5 9 5 4 4 4 5 4 4 -4 5 -8 5 8 4 -4 5 1 4 -2 5 -3 5 8 4 -4 5 -4 4 -15 5 -7 5 0 4 -3 5 1 4 4 5 2 5 3 4 -1 5 4 4 6 5 0 5 -2 4 -1 5 -1 4 6 5 -6 5 0 4 -3 5 0 4 0 5 -1 5 -5 4 1 5 6 4 -3 5 -15 5 -3 4 -3 5 5 4 4 5 13 5 -2 4 -2 5 2 4 2 5 -3 5 -4 4 -8 5 1 4 -12 5 -7 5 2 4 9 5 -4 4 -6 5 -2 5 12 4 3 5 -7 4 -16 5 3 5 2 4 -2 5 -11 4 6 5 1 5 -4 4 0 5 -5 4 7 5 7 5 -1 4 -7 5 7 4 8 5 -1 5 -12 4 -4 5 5 4 5 5 1 5 -2 4 0 5 1 4 8 5 -2 5 -4 4 3 5 5 4 -12 5 -8 5 -5 4 -2 5 -5 4 0 5 0 5 10 4 -11 5 -2 4 -4 5 6 5 7 4 3 5 7 4 2 5 2 5 -7 4 -7 5 -6 4 -2 5 1 5 -12 4 0 5 -12 4 -8 5 -9 5 -13 4 -4 5 -7 4 -6 5 -9 5 -19 4 -33 5 -24 4 -28 5 -16 5 4 4 -4 5 17 4 -7 5 0 5 9 4 16 5 6 4 12 5 12 5 -6 4 -3 5 -6 4 -1 5 -10 5 -7 4 -11 5 -4 4 -3 5 3 5 -5 4 -3 5 3 4 -7 5 -4 5 2 4 -2 5 -5 4 -6 5 6 5 3 4 -12 5 -3 4 -7 5 -2 5 2 4 3 5 -5 4 4 5 -2 5 -6 4 4 5 -5 4 7 5 -1 5 -3 4 3 5 7 4 -5 5 -5 5 13 4 0 5 -3 4 3 5 -6 5 10 4 -2 5 8 4 -3 5 4 5 -12 4 -7 5 -2 4 -5 5 -8 5 -10 4 0 5 3 4 -1 5 -9 5 -3 4 2 5 6 4 5 5 -4 5 -10 4 11 5 -3 4 10 5 7 5 -10 4 -1 5 -1 4 -9" transform="scale(0.5)" fill="none" stroke="#0f32c8" stroke-width="5.2" stroke-linejoin="round"/>
<path d="M1636 4509l5 7 4 -6 5 -1 5 11 4 -22 5 -5 4 7 5 1 5 3 4 -21 5 3 4 0 5 7 5 -4 4 4 5 -7 4 7 5 3 5 8 4 -4 5 -4 4 7 5 4 5 0 4 -3 5 -2 4 8 5 5 5 9 4 -4 5 2 4 11 5 -19 5 -12 4 -18 5 0 4 8 5 -9 5 0 4 -11 5 8 4 0 5 6 5 3 4 1 5 0 4 5 5 -2 5 6 4 0 5 -11 4 11 5 -15 5 6 4 10 5 5 4 -5 5 2 5 -10 4 1 5 -1 4 10 5 -1 5 -15 4 -3 5 -1 4 5 5 5 5 -9 4 -5 5 5 4 2 5 -1 5 8 4 -3 5 3 4 1 5 -10 5 0 4 4 5 0 4 -9 5 13 5 2 4 -8 5 7 4 2 5 -8 5 -5 4 0 5 1 4 0 5 -2 5 11 4 -5 5 2 4 1 5 7 5 1 4 -1 5 -6 4 -12 5 -6 5 10 4 -4 5 3 4 -3 5 -5 5 6 4 10 5 -2 4 -8 5 -7 5 -2 4 8 5 -9 4 6 5 -10 5 8 4 9 5 -12 4 5 5 -16 5 1 4 4 5 4 4 -15 5 0 5 -5 4 3 5 -4 4 -1 5 15 5 -12 4 -6 5 -3 4 -4 5 4 5 0 4 -9 5 5 4 9 5 5 5 -11 4 -2 5 -14 4 -6 5 12 5 6 4 -9 5 6 4 -6 5 1 5 -4 4 -3 5 -11 4 -4 5 -12 5 3 4 -7 5 -10 4 -12 5 -9 5 -14 4 -12 5 -7 4 -5 5 -10 5 7 4 -4 5 -4 4 -9 5 -1 5 -3 4 -8 5 -4 4 -1 5 -7 5 -1 4 -4 5 -13 4 -17 5 -15 5 13 4 -13 5 -12 4 -4 5 -9 5 11 4 -17 5 -11 4 -9 5 -13 5 4 4 -14 5 2 4 -11 5 -3 5 -12 4 4 5 -5 4 7 5 -4 5 -4 4 -14 5 9 4 8 5 7 5 8 4 -6 5 -8 4 -9 5 -4 5 -2 4 -12 5 -1 4 -17 5 -12 5 -8 4 -2 5 -3 4 8 5 -14 5 11 4 2 5 -14 4 -11 5 -1 5 -14 4 -14 5 3 4 12 5 18 5 -10 4 -13 5 6 4 -18 5 -5 5 3 4 -6 5 -1 4 -1 5 -7 5 -2 4 2 5 -12 4 4" transform="scale(0.5)" fill="none" stroke="#0b21a0" stroke-width="5.2" stroke-linejoin="round"/>
<path d="M1636 4510l5 7 4 0 5 -3 5 -1 4 -6 5 4 4 -7 5 -2 5 -6 4 -6 5 -5 4 5 5 12 5 -2 4 2 5 2 4 0 5 -3 5 6 4 -13 5 7 4 -4 5 -3 5 4 4 -8 5 4 4 2 5 0 5 -1 4 -2 5 -2 4 -3 5 -5 5 1 4 5 5 10 4 -7 5 2 5 -2 4 -8 5 2 4 -2 5 0 5 6 4 -3 5 -10 4 6 5 22 5 -8 4 0 5 -17 4 9 5 -1 5 6 4 0 5 0 4 -2 5 6 5 -6 4 8 5 -15 4 11 5 -4 5 -4 4 -12 5 10 4 -10 5 -4 5 -1 4 -1 5 -3 4 -1 5 1 5 -2 4 5 5 -1 4 -8 5 -11 5 1 4 -4 5 -3 4 -3 5 3 5 -2 4 3 5 -6 4 10 5 0 5 -5 4 -2 5 7 4 3 5 4 5 -3 4 -8 5 -10 4 -6 5 -13 5 1 4 -7 5 -5 4 0 5 1 5 -3 4 -1 5 -9 4 13 5 -1 5 6 4 -6 5 -5 4 -1 5 4 5 -5 4 9 5 3 4 2 5 -3 5 -1 4 3 5 1 4 0 5 6 5 -5 4 1 5 0 4 1 5 -6 5 1 4 2 5 -7 4 -7 5 -8 5 2 4 -7 5 4 4 -3 5 5 5 2 4 -2 5 -7 4 -5 5 -1 5 7 4 7 5 1 4 11 5 -6 5 0 4 -5 5 -7 4 0 5 -3 5 -4 4 -2 5 -2 4 -6 5 -4 5 -1 4 3 5 -4 4 -8 5 -5 5 -9 4 2 5 -6 4 5 5 -3 5 0 4 -5 5 -1 4 6 5 -5 5 -6 4 1 5 -17 4 1 5 -3 5 -4 4 1 5 -7 4 -8 5 -6 5 -12 4 0 5 5 4 -13 5 -11 5 11 4 6 5 -10 4 5 5 -2 5 -16 4 0 5 -13 4 3 5 -5 5 -10 4 1 5 -6 4 8 5 -16 5 1 4 -6 5 -4 4 -3 5 4 5 -1 4 -4 5 -8 4 -6 5 -6 5 7 4 4 5 2 4 5 5 -9 5 16 4 8 5 5 4 -6 5 -2 5 -3 4 0 5 1 4 -1 5 5 5 -3 4 0 5 -7 4 -1 5 -8 5 4 4 -3 5 -5 4 4 5 -5 5 3 4 -4 5 1 4 -5 5 0 5 4 4 2 5 0 4 -7" transform="scale(0.5)" fill="none" stroke="#0a198c" stroke-width="5.2" stroke-linejoin="round"/>
<path d="M1636 4521l5 -10 4 7 5 -3 5 8 4 8 5 2 4 6 5 2 5 5 4 -1 5 -4 4 0 5 -4 5 -11 4 -8 5 12 4 2 5 -7 5 7 4 -12 5 5 4 14 5 -9 5 -6 4 4 5 -1 4 -7 5 -4 5 9 4 -5 5 6 4 -5 5 -5 5 8 4 3 5 2 4 0 5 -4 5 -2 4 -1 5 -3 4 1 5 11 5 -11 4 4 5 -2 4 3 5 -2 5 -6 4 0 5 -1 4 -4 5 -14 5 5 4 7 5 -2 4 -4 5 -4 5 -10 4 7 5 4 4 -6 5 -1 5 -1 4 7 5 4 4 -14 5 6 5 3 4 -11 5 1 4 5 5 -6 5 0 4 5 5 -2 4 -12 5 2 5 -10 4 1 5 -11 4 -5 5 -3 5 4 4 1 5 12 4 0 5 -2 5 14 4 2 5 -1 4 -6 5 7 5 4 4 -16 5 -4 4 0 5 -3 5 1 4 -6 5 -5 4 3 5 6 5 -4 4 -4 5 1 4 -3 5 -9 5 13 4 -4 5 8 4 8 5 -2 5 9 4 2 5 6 4 -7 5 6 5 0 4 -6 5 2 4 -1 5 -9 5 -2 4 -8 5 -2 4 -8 5 -7 5 -1 4 5 5 -7 4 11 5 -2 5 -8 4 8 5 -2 4 -8 5 -11 5 -5 4 6 5 -5 4 9 5 1 5 -4 4 -8 5 3 4 10 5 3 5 -15 4 0 5 0 4 -5 5 1 5 1 4 5 5 7 4 -4 5 4 5 -6 4 -5 5 1 4 7 5 4 5 -13 4 4 5 -3 4 -13 5 4 5 -13 4 -3 5 -3 4 -3 5 -1 5 6 4 4 5 -5 4 -7 5 8 5 -1 4 -5 5 7 4 -4 5 -4 5 -2 4 11 5 -7 4 0 5 -11 5 -6 4 9 5 0 4 -11 5 2 5 -10 4 -8 5 -2 4 -7 5 2 5 -10 4 2 5 -13 4 -15 5 -2 5 -6 4 -4 5 -10 4 6 5 -11 5 2 4 3 5 -4 4 6 5 -5 5 6 4 2 5 1 4 -4 5 -12 5 -12 4 2 5 -2 4 15 5 6 5 -3 4 -12 5 -8 4 0 5 10 5 1 4 7 5 -11 4 -3 5 3 5 -9 4 4 5 3 4 -6 5 -5 5 8 4 -11 5 -11 4 -6 5 2 5 -5 4 0 5 -12 4 -21" transform="scale(0.5)" fill="none" stroke="#b7deee" stroke-width="5.2" stroke-linejoin="round"/>
<path d="M1636 4520l5 -3 4 -4 5 7 5 -3 4 -15 5 16 4 2 5 -6 5 -5 4 -2 5 6 4 3 5 -8 5 7 4 -1 5 1 4 -6 5 -1 5 -5 4 13 5 -2 4 -1 5 -3 5 -3 4 -3 5 -3 4 -14 5 2 5 -1 4 2 5 0 4 -1 5 0 5 -9 4 6 5 -4 4 0 5 1 5 4 4 4 5 3 4 -7 5 8 5 -1 4 2 5 0 4 -1 5 -5 5 -2 4 -10 5 -2 4 12 5 -2 5 -4 4 1 5 11 4 -3 5 -6 5 9 4 -1 5 -2 4 -13 5 9 5 -12 4 -8 5 -4 4 -1 5 -3 5 -2 4 -7 5 6 4 5 5 -4 5 3 4 -4 5 3 4 10 5 -3 5 -1 4 10 5 -5 4 1 5 5 5 2 4 -5 5 -4 4 2 5 -3 5 1 4 2 5 -9 4 0 5 -7 5 4 4 2 5 -1 4 -3 5 -5 5 4 4 2 5 -6 4 -5 5 -1 5 1 4 2 5 1 4 -5 5 5 5 -3 4 3 5 -2 4 -3 5 -1 5 1 4 0 5 3 4 -1 5 -5 5 2 4 2 5 -5 4 0 5 -4 5 3 4 -3 5 -5 4 -1 5 1 5 4 4 -7 5 -5 4 0 5 -19 5 1 4 3 5 -3 4 7 5 -5 5 -2 4 5 5 1 4 8 5 3 5 6 4 3 5 -8 4 -14 5 -7 5 -4 4 -6 5 -2 4 -15 5 -7 5 -4 4 -14 5 -5 4 -5 5 -3 5 -17 4 -10 5 -16 4 -16 5 -36 5 -20 4 -20 5 12 4 -1 5 -9 5 11 4 6 5 15 4 12 5 8 5 8 4 8 5 -1 4 3 5 5 5 -13 4 -7 5 -2 4 -10 5 -5 5 -3 4 10 5 5 4 -10 5 -14 5 3 4 -8 5 -15 4 0 5 -14 5 1 4 -3 5 -4 4 -2 5 0 5 -10 4 -3 5 1 4 0 5 5 5 1 4 -11 5 10 4 2 5 9 5 -2 4 4 5 -1 4 -4 5 1 5 2 4 -4 5 1 4 3 5 2 5 -7 4 1 5 -7 4 4 5 1 5 0 4 9 5 9 4 5 5 -7 5 -13 4 -6 5 -7 4 10 5 1 5 4 4 -9 5 6 4 -4 5 1 5 -1 4 -2 5 -4 4 5 5 2 5 -6 4 2 5 -5 4 15" transform="scale(0.5)" fill="none" stroke="#0a198c" stroke-width="5.2" stroke-linejoin="round"/>
<path d="M1636 4509l5 -6 4 -3 5 0 5 -11 4 -1 5 -8 4 0 5 12 5 -3 4 -3 5 0 4 -5 5 -8 5 15 4 7 5 3 4 4 5 -14 5 13 4 -8 5 8 4 -8 5 6 5 5 4 -3 5 5 4 -8 5 -4 5 -6 4 -7 5 -1 4 5 5 9 5 -4 4 -1 5 -1 4 -1 5 -2 5 -2 4 -9 5 7 4 5 5 -13 5 -2 4 2 5 2 4 -5 5 -1 5 -11 4 7 5 -2 4 3 5 -1 5 -3 4 1 5 6 4 0 5 -2 5 -3 4 -10 5 -8 4 -1 5 2 5 -8 4 4 5 2 4 -5 5 -6 5 0 4 5 5 7 4 -1 5 10 5 0 4 -5 5 1 4 5 5 -9 5 2 4 -6 5 -4 4 -8 5 -2 5 7 4 0 5 -6 4 1 5 3 5 -6 4 6 5 -7 4 -9 5 13 5 0 4 -5 5 -8 4 1 5 -13 5 -7 4 -1 5 -6 4 4 5 2 5 2 4 3 5 -10 4 -7 5 -2 5 -7 4 -10 5 -3 4 4 5 0 5 -9 4 3 5 -3 4 5 5 -1 5 0 4 -3 5 5 4 -7 5 5 5 4 4 -4 5 -3 4 3 5 -3 5 5 4 0 5 -3 4 6 5 3 5 5 4 3 5 -3 4 12 5 3 5 4 4 7 5 0 4 3 5 -1 5 12 4 1 5 -1 4 1 5 4 5 -7 4 3 5 4 4 0 5 0 5 -10 4 1 5 -9 4 -10 5 -4 5 -3 4 -6 5 3 4 1 5 -4 5 -20 4 6 5 -3 4 11 5 -6 5 0 4 3 5 0 4 14 5 -2 5 1 4 15 5 5 4 -5 5 -2 5 -3 4 4 5 -1 4 4 5 -1 5 5 4 2 5 1 4 4 5 1 5 5 4 7 5 12 4 -3 5 -12 5 -2 4 0 5 3 4 -1 5 -6 5 1 4 -8 5 -3 4 -9 5 1 5 -15 4 12 5 -10 4 -2 5 7 5 -6 4 0 5 -3 4 -4 5 -10 5 -2 4 -9 5 2 4 -3 5 2 5 -1 4 4 5 10 4 -1 5 -1 5 17 4 0 5 6 4 -1 5 3 5 0 4 7 5 -1 4 0 5 3 5 5 4 -3 5 0 4 14 5 3 5 -1 4 12 5 1 4 7 5 6 5 -9 4 2 5 8 4 -8" transform="scale(0.5)" fill="none" stroke="#d4e9f4" stroke-width="5.2" stroke-linejoin="round"/>
<path d="M256 5228l5 -1 4 1 5 3 5 5 4 -4 5 1 4 1 5 -3 5 -2 4 8 5 -5 4 5 5 -9 5 0 4 2 5 -4 4 2 5 -2 5 1 4 -1 5 -2 4 5 5 3 5 -1 4 0 5 5 4 -6 5 4 5 4 4 0 5 -5 4 -7 5 1 5 2 4 -183 5 -120 4 -1 5 4 5 -3 4 -1 5 9 4 -3 5 -2 5 -2 4 3 5 3 4 1 5 -4 5 1 4 2 5 -6 4 1 5 1 5 -1 4 -3 5 -5 4 3 5 4 5 -2 4 -4 5 125 4 181 5 -3 5 -1 4 2 5 1 4 3 5 0 5 -3 4 4 5 -7 4 7 5 -9 5 8 4 -4 5 4 4 1 5 2 5 2 4 -6 5 0 4 5 5 -2 5 -3 4 3 5 -2 4 1 5 -3 5 -1 4 1 5 3 4 -3 5 1 5 6 4 -1 5 0 4 -1 5 -8 5 2 4 -1 5 -4 4 0 5 1 5 -4 4 1 5 0 4 -2 5 1 5 3 4 3 5 -1 4 -7 5 0 5 -6 4 -2 5 1 4 8 5 -2 5 -1 4 4 5 -3 4 0 5 -2 5 1 4 -2 5 1 4 -4 5 -1 5 5 4 -2 5 -2 4 0 5 5 5 -5 4 1 5 -6 4 2 5 2 5 0 4 2 5 -9 4 6 5 -6 5 2 4 5 5 -3 4 -1 5 1 5 -347 4 -89 5 0 4 0 5 0 5 0 4 -6 5 -1 4 7 5 -6 5 2 4 1 5 4 4 -2 5 2 5 -2 4 -1 5 -2 4 3 5 7 5 -5 4 -1 5 4 4 2 5 2 5 5 4 0 5 -4 4 -7 5 0 5 -5 4 4 5 -3 4 1 5 -2 5 -3 4 2 5 2 4 -2 5 5 5 5 4 -5 5 -7 4 8 5 -2 5 5 4 0 5 2 4 -4 5 1 5 350 4 92 5 -5 4 1 5 0 5 0 4 4 5 -2 4 2 5 -1 5 -2 4 0 5 -2 4 2 5 -1 5 -1 4 1 5 0 4 0 5 1 5 0 4 5 5 -8 4 1 5 1 5 -350 4 -83 5 -2 4 -2 5 0 5 0 4 1 5 0 4 -1 5 -3 5 3 4 -3 5 0 4 2 5 1 5 -2 4 -3 5 -3 4 5 5 1 5 0 4 -1 5 2 4 0" transform="scale(0.5)" fill="none" stroke="#f6c0c0" stroke-width="5.2" stroke-linejoin="round"/>
<path d="M256 5228l5 5 4 -1 5 -2 5 -4 4 -2 5 7 4 5 5 -6 5 -2 4 2 5 -1 4 3 5 -6 5 1 4 0 5 -2 4 -1 5 3 5 3 4 -6 5 -4 4 -6 5 0 5 2 4 1 5 -2 4 3 5 -1 5 1 4 0 5 1 4 3 5 -1 5 -3 4 2 5 6 4 -3 5 2 5 -5 4 2 5 1 4 -3 5 2 5 -8 4 1 5 0 4 7 5 -1 5 -1 4 -4 5 2 4 1 5 3 5 -1 4 -4 5 -5 4 1 5 7 5 -9 4 1 5 -5 4 2 5 -1 5 2 4 2 5 1 4 1 5 -4 5 0 4 -2 5 -1 4 -1 5 1 5 -1 4 3 5 -2 4 1 5 5 5 0 4 -2 5 0 4 -2 5 1 5 -2 4 4 5 -3 4 -5 5 -3 5 -1 4 3 5 -5 4 7 5 6 5 -1 4 3 5 -2 4 -3 5 3 5 -2 4 -1 5 1 4 1 5 3 5 1 4 1 5 1 4 3 5 -4 5 -4 4 -3 5 1 4 -2 5 1 5 5 4 -1 5 0 4 1 5 -1 5 4 4 0 5 -4 4 2 5 1 5 2 4 4 5 0 4 -5 5 -5 5 -1 4 3 5 -1 4 0 5 1 5 3 4 0 5 -1 4 -1 5 1 5 1 4 -4 5 -1 4 5 5 0 5 1 4 0 5 1 4 -4 5 0 5 -1 4 1 5 0 4 -4 5 -2 5 0 4 1 5 0 4 3 5 -5 5 5 4 0 5 0 4 -3 5 0 5 0 4 2 5 -4 4 -2 5 -3 5 5 4 -1 5 -1 4 3 5 3 5 -4 4 -2 5 4 4 -1 5 -4 5 -5 4 0 5 11 4 -3 5 -4 5 -9 4 -1 5 -2 4 2 5 7 5 3 4 2 5 -1 4 -3 5 1 5 5 4 -3 5 -6 4 -1 5 -1 5 5 4 -1 5 2 4 2 5 0 5 7 4 0 5 -9 4 0 5 2 5 -7 4 0 5 -2 4 0 5 0 5 -1 4 -4 5 3 4 -3 5 -3 5 5 4 4 5 -2 4 -3 5 -7 5 6 4 0 5 7 4 -1 5 5 5 -3 4 4 5 -9 4 -1 5 1 5 6 4 -6 5 -3 4 6 5 0 5 1 4 -1 5 -1 4 3 5 0 5 5 4 1 5 -3 4 2" transform="scale(0.5)" fill="none" stroke="#ef8584" stroke-width="5.2" stroke-linejoin="round"/>
<path d="M256 5228l5 -7 4 -3 5 4 5 3 4 0 5 2 4 -1 5 4 5 0 4 0 5 0 4 -4 5 5 5 -1 4 -2 5 -3 4 0 5 -3 5 1 4 1 5 0 4 0 5 3 5 3 4 -6 5 3 4 -4 5 3 5 -1 4 -1 5 -402 4 -100 5 2 5 2 4 -1 5 -4 4 3 5 -4 5 2 4 4 5 0 4 14 5 79 5 0 4 -3 5 9 4 20 5 65 5 3 4 -112 5 -73 4 -1 5 0 5 -1 4 6 5 2 4 -3 5 -7 5 -1 4 -5 5 6 4 10 5 26 5 0 4 243 5 166 4 14 5 43 5 -4 4 -3 5 -2 4 3 5 -2 5 3 4 -2 5 -3 4 -1 5 3 5 -11 4 0 5 1 4 2 5 -7 5 0 4 0 5 -1 4 1 5 -6 5 -211 4 -49 5 -1 4 6 5 -6 5 220 4 54 5 -5 4 1 5 1 5 -3 4 0 5 5 4 2 5 -3 5 -1 4 -1 5 4 4 5 5 -1 5 3 4 3 5 -196 4 -293 5 -1 5 3 4 -7 5 1 4 0 5 -3 5 1 4 -3 5 4 4 4 5 1 5 -1 4 -5 5 6 4 -3 5 -1 5 -4 4 1 5 1 4 0 5 1 5 -1 4 -1 5 3 4 -1 5 0 5 6 4 -2 5 1 4 -2 5 -7 5 -1 4 6 5 3 4 2 5 -3 5 -4 4 1 5 -4 4 0 5 -1 5 1 4 6 5 -8 4 2 5 2 5 5 4 5 5 -6 4 -4 5 3 5 1 4 -2 5 -1 4 6 5 2 5 6 4 2 5 -2 4 -3 5 -4 5 3 4 -2 5 2 4 0 5 0 5 4 4 2 5 -3 4 -5 5 -2 5 1 4 5 5 -1 4 0 5 -3 5 4 4 -1 5 3 4 3 5 -2 5 -1 4 1 5 1 4 1 5 -1 5 1 4 -1 5 2 4 -1 5 -5 5 5 4 2 5 3 4 1 5 -3 5 -3 4 1 5 2 4 -3 5 -3 5 1 4 2 5 -2 4 1 5 2 5 -1 4 -2 5 0 4 0 5 0 5 1 4 -3 5 -2 4 -1 5 0 5 -5 4 0 5 -1 4 5 5 1 5 2 4 3 5 -5 4 3 5 -4 5 -3 4 8 5 0 4 4 5 -4 5 -1 4 2 5 9 4 -1" transform="scale(0.5)" fill="none" stroke="#f09696" stroke-width="5.2" stroke-linejoin="round"/>
<path d="M256 5228l5 1 4 0 5 1 5 -1 4 3 5 -2 4 2 5 -2 5 1 4 -1 5 -1 4 0 5 -2 5 1 4 -1 5 1 4 -1 5 -1 5 1 4 -5 5 3 4 4 5 -7 5 2 4 0 5 2 4 -2 5 0 5 5 4 0 5 -9 4 1 5 1 5 3 4 1 5 0 4 -1 5 1 5 -5 4 -1 5 -1 4 0 5 -4 5 -2 4 -3 5 4 4 5 5 -1 5 -1 4 -1 5 4 4 0 5 -5 5 5 4 2 5 -2 4 0 5 -5 5 1 4 5 5 2 4 -1 5 -6 5 1 4 2 5 -5 4 -1 5 -5 5 5 4 7 5 -3 4 2 5 3 5 1 4 2 5 -2 4 0 5 -1 5 1 4 0 5 -5 4 1 5 3 5 -6 4 2 5 2 4 0 5 3 5 1 4 4 5 0 4 0 5 -5 5 -3 4 6 5 2 4 2 5 -3 5 0 4 4 5 -1 4 -5 5 0 5 -3 4 6 5 -4 4 -3 5 1 5 -2 4 2 5 1 4 1 5 2 5 -6 4 3 5 0 4 8 5 -3 5 -1 4 -1 5 0 4 1 5 1 5 0 4 -2 5 -4 4 -2 5 2 5 1 4 -1 5 -2 4 3 5 8 5 2 4 -1 5 -5 4 2 5 -2 5 -1 4 4 5 -1 4 0 5 -6 5 -2 4 -3 5 0 4 -1 5 -2 5 3 4 3 5 0 4 -5 5 2 5 1 4 1 5 -1 4 -3 5 -1 5 2 4 2 5 -1 4 -6 5 -5 5 -357 4 -92 5 1 4 5 5 -1 5 2 4 -1 5 0 4 7 5 1 5 -8 4 2 5 -2 4 3 5 2 5 -1 4 2 5 1 4 -1 5 6 5 362 4 91 5 -6 4 -4 5 0 5 -1 4 -2 5 6 4 2 5 -4 5 -5 4 -2 5 5 4 0 5 -3 5 2 4 0 5 -1 4 -4 5 3 5 2 4 -3 5 0 4 5 5 -4 5 1 4 1 5 2 4 -3 5 -4 5 -339 4 -88 5 0 4 -1 5 -5 5 4 4 0 5 -7 4 5 5 0 5 -13 4 -7 5 -2 4 2 5 -3 5 355 4 87 5 0 4 1 5 1 5 -1 4 4 5 0 4 1 5 0 5 0 4 4 5 -1 4 -3 5 0 5 4 4 -1 5 -3 4 6" transform="scale(0.5)" fill="none" stroke="#f5b6b6" stroke-width="5.2" stroke-linejoin="round"/>
<path d="M256 5228l5 2 4 7 5 -10 5 0 4 -2 5 -6 4 5 5 -1 5 1 4 -5 5 7 4 2 5 -5 5 -1 4 6 5 2 4 -6 5 -4 5 0 4 2 5 2 4 5 5 -7 5 1 4 -4 5 4 4 2 5 1 5 1 4 4 5 -3 4 -3 5 -2 5 4 4 -1 5 5 4 -9 5 5 5 -1 4 4 5 -3 4 -1 5 4 5 -3 4 1 5 0 4 -2 5 1 5 -4 4 3 5 -1 4 -1 5 5 5 4 4 1 5 6 4 -6 5 -3 5 2 4 -2 5 5 4 0 5 -3 5 3 4 -3 5 -2 4 6 5 0 5 -6 4 0 5 -7 4 0 5 7 5 -6 4 5 5 -3 4 2 5 0 5 -1 4 3 5 -3 4 1 5 2 5 -4 4 -9 5 6 4 2 5 0 5 -1 4 -3 5 -178 4 -275 5 -4 5 1 4 0 5 -2 4 0 5 -2 5 -1 4 5 5 -2 4 3 5 0 5 -3 4 2 5 1 4 -6 5 -1 5 5 4 9 5 -5 4 1 5 2 5 -30 4 -4 5 -2 4 -4 5 -2 5 -1 4 5 5 -2 4 4 5 3 5 -1 4 -1 5 -5 4 1 5 1 5 6 4 2 5 -7 4 0 5 -3 5 -3 4 2 5 -6 4 8 5 1 5 -3 4 0 5 1 4 5 5 9 5 -4 4 -1 5 -1 4 4 5 -6 5 1 4 1 5 -2 4 2 5 -6 5 -4 4 7 5 3 4 6 5 0 5 0 4 -6 5 5 4 3 5 -7 5 1 4 -3 5 -6 4 1 5 7 5 -6 4 6 5 -6 4 -1 5 -2 5 2 4 1 5 9 4 -7 5 4 5 3 4 -3 5 0 4 1 5 -3 5 -1 4 8 5 2 4 2 5 0 5 -9 4 2 5 -3 4 -3 5 7 5 3 4 -2 5 1 4 3 5 -6 5 2 4 0 5 -5 4 -1 5 -4 5 5 4 2 5 7 4 -3 5 -3 5 7 4 1 5 -7 4 1 5 -3 5 -4 4 1 5 6 4 0 5 -1 5 3 4 0 5 1 4 6 5 -4 5 -2 4 -2 5 9 4 1 5 -3 5 -2 4 6 5 2 4 -3 5 3 5 4 4 -6 5 5 4 -4 5 -1 5 -3 4 2 5 5 4 -3 5 -3 5 -2 4 1 5 4 4 -1" transform="scale(0.5)" fill="none" stroke="#ed6360" stroke-width="5.2" stroke-linejoin="round"/>
<path d="M256 5228l5 -3 4 0 5 0 5 -2 4 3 5 -5 4 3 5 3 5 -1 4 -1 5 -1 4 0 5 -1 5 -3 4 -1 5 4 4 -1 5 2 5 -5 4 0 5 7 4 -2 5 2 5 0 4 1 5 2 4 -3 5 1 5 1 4 4 5 0 4 -1 5 -2 5 -2 4 1 5 0 4 -2 5 7 5 -2 4 -3 5 -4 4 0 5 2 5 -3 4 -1 5 0 4 0 5 2 5 -3 4 -1 5 4 4 0 5 0 5 2 4 4 5 -1 4 2 5 6 5 -11 4 1 5 -1 4 -5 5 1 5 0 4 -5 5 6 4 3 5 4 5 -5 4 2 5 0 4 0 5 -9 5 4 4 -1 5 -3 4 2 5 -1 5 -1 4 -2 5 5 4 -1 5 2 5 2 4 -7 5 0 4 0 5 2 5 5 4 0 5 0 4 4 5 2 5 -1 4 -7 5 7 4 -1 5 -5 5 -365 4 -92 5 3 4 0 5 -1 5 4 4 -4 5 -7 4 4 5 -5 5 11 4 -1 5 -3 4 2 5 3 5 -2 4 -1 5 177 4 262 5 4 5 -3 4 1 5 1 4 1 5 -5 5 -4 4 3 5 3 4 5 5 0 5 -2 4 -5 5 1 4 1 5 1 5 -3 4 -2 5 -2 4 2 5 4 5 -1 4 -6 5 -175 4 -267 5 2 5 4 4 0 5 0 4 -1 5 -3 5 353 4 90 5 3 4 3 5 -2 5 -3 4 -1 5 3 4 -2 5 0 5 -2 4 1 5 0 4 -1 5 -1 5 -1 4 1 5 -1 4 -5 5 6 5 1 4 2 5 0 4 3 5 -1 5 2 4 -2 5 8 4 -3 5 0 5 1 4 -8 5 -7 4 0 5 5 5 -4 4 2 5 2 4 9 5 -2 5 -2 4 -1 5 -3 4 -2 5 -3 5 5 4 4 5 -1 4 -1 5 7 5 -1 4 -1 5 -3 4 4 5 -2 5 0 4 -5 5 -1 4 1 5 0 5 4 4 -1 5 1 4 5 5 1 5 -1 4 -8 5 1 4 0 5 -4 5 -352 4 -83 5 -1 4 5 5 2 5 -1 4 -2 5 174 4 258 5 2 5 -1 4 5 5 -1 4 2 5 -4 5 5 4 -4 5 0 4 0 5 3 5 0 4 -4 5 -3 4 0 5 1 5 -1 4 -5 5 -1 4 1" transform="scale(0.5)" fill="none" stroke="#f4aeae" stroke-width="5.2" stroke-linejoin="round"/>
<path d="M256 5228l5 -5 4 5 5 -1 5 -5 4 3 5 0 4 -2 5 -2 5 1 4 4 5 7 4 -5 5 -3 5 2 4 -2 5 4 4 1 5 -2 5 0 4 -6 5 1 4 1 5 3 5 -3 4 -4 5 3 4 -3 5 2 5 -6 4 1 5 3 4 6 5 -6 5 6 4 0 5 -5 4 -3 5 -1 5 -4 4 1 5 1 4 0 5 0 5 0 4 0 5 4 4 2 5 3 5 -3 4 4 5 -2 4 1 5 -6 5 0 4 -2 5 3 4 0 5 6 5 -3 4 7 5 -1 4 4 5 0 5 -3 4 -2 5 -7 4 -2 5 0 5 4 4 5 5 -1 4 -3 5 0 5 -1 4 2 5 1 4 2 5 -2 5 -6 4 3 5 2 4 -1 5 -5 5 1 4 -1 5 -4 4 3 5 2 5 -203 4 -53 5 -2 4 6 5 -5 5 207 4 52 5 -6 4 -1 5 0 5 6 4 0 5 -4 4 -1 5 -3 5 -1 4 -5 5 0 4 -2 5 6 5 -4 4 6 5 2 4 1 5 -1 5 -1 4 1 5 -4 4 4 5 -6 5 2 4 -3 5 2 4 0 5 -4 5 -361 4 -90 5 -4 4 -3 5 2 5 -6 4 7 5 7 4 -1 5 -9 5 367 4 89 5 9 4 -5 5 0 5 1 4 2 5 8 4 -2 5 -2 5 1 4 1 5 6 4 -3 5 -5 5 2 4 0 5 4 4 -1 5 1 5 -5 4 -1 5 -3 4 -1 5 -1 5 -5 4 2 5 3 4 1 5 -3 5 2 4 5 5 -2 4 -6 5 3 5 9 4 3 5 3 4 -1 5 0 5 -1 4 -6 5 4 4 3 5 -5 5 -3 4 3 5 -1 4 5 5 -2 5 1 4 -1 5 -175 4 -269 5 0 5 0 4 -6 5 2 4 5 5 0 5 -3 4 1 5 182 4 262 5 -1 5 -6 4 -2 5 4 4 -1 5 -1 5 3 4 -1 5 1 4 3 5 -4 5 2 4 0 5 -1 4 0 5 -2 5 3 4 -4 5 -2 4 -1 5 3 5 1 4 -4 5 -1 4 1 5 1 5 -4 4 0 5 -1 4 3 5 0 5 -5 4 1 5 3 4 -1 5 4 5 -3 4 -1 5 -2 4 1 5 2 5 4 4 -4 5 -1 4 -4 5 3 5 0 4 -1 5 1 4 -5" transform="scale(0.5)" fill="none" stroke="#ee7472" stroke-width="5.2" stroke-linejoin="round"/>
<path d="M256 5228l5 -3 4 0 5 6 5 2 4 -6 5 0 4 3 5 7 5 -6 4 7 5 -7 4 -5 5 2 5 -5 4 3 5 2 4 4 5 -3 5 4 4 2 5 0 4 -5 5 5 5 1 4 -1 5 -3 4 5 5 -1 5 0 4 -5 5 3 4 -10 5 4 5 -2 4 1 5 -1 4 2 5 3 5 5 4 -1 5 -3 4 -2 5 0 5 -5 4 0 5 1 4 2 5 -1 5 -5 4 1 5 6 4 -5 5 0 5 2 4 -9 5 -1 4 0 5 1 5 0 4 -3 5 6 4 8 5 0 5 -4 4 -6 5 -1 4 -1 5 -3 5 2 4 -1 5 -6 4 4 5 4 5 -6 4 2 5 5 4 0 5 -2 5 -2 4 2 5 1 4 -1 5 0 5 1 4 3 5 3 4 -4 5 0 5 -1 4 6 5 0 4 -3 5 0 5 8 4 1 5 -4 4 -5 5 -6 5 4 4 -3 5 3 4 1 5 7 5 -6 4 1 5 1 4 -3 5 6 5 -7 4 -1 5 -2 4 1 5 5 5 2 4 -5 5 1 4 0 5 0 5 -3 4 -2 5 1 4 1 5 -2 5 -4 4 1 5 5 4 0 5 -5 5 0 4 2 5 2 4 -5 5 -7 5 -4 4 8 5 -2 4 -3 5 8 5 -363 4 -94 5 -1 4 0 5 5 5 -6 4 -1 5 6 4 3 5 1 5 1 4 -5 5 5 4 10 5 -5 5 3 4 -11 5 -1 4 -2 5 2 5 302 4 76 5 -145 4 -210 5 -5 5 0 4 5 5 -1 4 12 5 7 5 -3 4 2 5 -2 4 -4 5 1 5 340 4 89 5 -4 4 -7 5 -3 5 7 4 -3 5 2 4 3 5 -2 5 4 4 -2 5 -4 4 -1 5 5 5 -5 4 -3 5 -4 4 2 5 7 5 2 4 -1 5 0 4 1 5 -3 5 -2 4 -2 5 0 4 1 5 -2 5 1 4 3 5 6 4 2 5 -2 5 -4 4 0 5 -171 4 -259 5 0 5 3 4 -4 5 0 4 -2 5 -4 5 0 4 1 5 4 4 7 5 2 5 2 4 0 5 -7 4 -4 5 -6 5 -5 4 1 5 -2 4 5 5 3 5 251 4 68 5 46 4 70 5 -2 5 -3 4 2 5 0 4 -4 5 4 5 -3 4 2 5 -1 4 -5" transform="scale(0.5)" fill="none" stroke="#ef8584" stroke-width="5.2" stroke-linejoin="round"/>
<path d="M256 5228l5 6 4 1 5 1 5 -6 4 -3 5 0 4 1 5 1 5 -3 4 -1 5 -3 4 4 5 -1 5 1 4 1 5 3 4 -4 5 1 5 -1 4 2 5 3 4 3 5 -6 5 0 4 -3 5 3 4 -4 5 0 5 1 4 1 5 -4 4 2 5 4 5 -4 4 -3 5 -3 4 -1 5 -5 5 1 4 7 5 2 4 -1 5 4 5 -4 4 -1 5 -2 4 -89 5 -354 5 -1 4 1 5 1 4 18 5 58 5 -3 4 4 5 150 4 217 5 0 5 -5 4 0 5 2 4 -4 5 -2 5 -2 4 -3 5 2 4 4 5 -3 5 -1 4 2 5 2 4 -4 5 2 5 0 4 -5 5 2 4 2 5 -2 5 3 4 -6 5 0 4 0 5 -1 5 -2 4 5 5 3 4 3 5 -3 5 -4 4 6 5 -1 4 2 5 -5 5 2 4 3 5 -1 4 3 5 -4 5 -4 4 0 5 3 4 -7 5 0 5 1 4 6 5 1 4 -4 5 -4 5 2 4 4 5 3 4 -3 5 0 5 -1 4 7 5 -4 4 4 5 -3 5 1 4 -1 5 0 4 0 5 -1 5 -3 4 -4 5 3 4 2 5 -2 5 4 4 3 5 2 4 -3 5 -2 5 -2 4 6 5 -179 4 -260 5 3 5 -3 4 1 5 -2 4 6 5 -2 5 -8 4 5 5 -5 4 2 5 -1 5 3 4 9 5 -3 4 -8 5 3 5 347 4 90 5 -1 4 -2 5 7 5 -2 4 -1 5 -2 4 2 5 0 5 -2 4 4 5 -7 4 0 5 3 5 -2 4 0 5 -2 4 5 5 -1 5 -355 4 -83 5 0 4 2 5 -8 5 4 4 1 5 1 4 -1 5 -1 5 0 4 0 5 0 4 4 5 3 5 0 4 -3 5 -3 4 0 5 1 5 3 4 -1 5 -1 4 4 5 -2 5 -5 4 4 5 -1 4 -4 5 -1 5 -1 4 2 5 1 4 1 5 2 5 -2 4 -3 5 1 4 4 5 3 5 -2 4 0 5 3 4 4 5 2 5 0 4 -2 5 1 4 -6 5 3 5 1 4 -1 5 -2 4 0 5 3 5 -5 4 -5 5 1 4 5 5 -2 5 -3 4 10 5 1 4 -5 5 2 5 2 4 -5 5 1 4 0 5 -6 5 2 4 -2 5 2 4 3" transform="scale(0.5)" fill="none" stroke="#e83632" stroke-width="5.2" stroke-linejoin="round"/>
<path d="M256 5228l5 -2 4 1 5 2 5 0 4 1 5 -3 4 1 5 -3 5 -5 4 0 5 2 4 -1 5 -3 5 2 4 -1 5 -4 4 2 5 -3 5 -2 4 5 5 -3 4 1 5 1 5 -3 4 -1 5 0 4 1 5 0 5 6 4 -3 5 4 4 -1 5 6 5 -6 4 -3 5 0 4 0 5 -2 5 2 4 0 5 2 4 6 5 0 5 -5 4 3 5 -5 4 1 5 2 5 -3 4 0 5 3 4 4 5 5 5 -7 4 -4 5 -2 4 -2 5 -1 5 -1 4 -231 5 -157 4 -3 5 3 5 30 4 2 5 0 4 1 5 10 5 4 4 1 5 0 4 3 5 3 5 -25 4 -3 5 3 4 -1 5 4 5 47 4 53 5 -30 4 -46 5 2 5 -45 4 -17 5 5 4 1 5 21 5 2 4 0 5 -27 4 -39 5 -4 5 0 4 2 5 -4 4 -2 5 5 5 -4 4 0 5 -3 4 -1 5 4 5 -4 4 -2 5 3 4 -2 5 -1 5 2 4 3 5 0 4 -6 5 1 5 2 4 5 5 -3 4 4 5 -1 5 3 4 3 5 -2 4 2 5 1 5 -6 4 -5 5 -3 4 0 5 -1 5 4 4 -4 5 0 4 4 5 -2 5 4 4 2 5 -2 4 4 5 -5 5 -1 4 0 5 -7 4 4 5 -3 5 2 4 -4 5 1 4 -1 5 0 5 0 4 1 5 -3 4 -1 5 -1 5 0 4 4 5 -3 4 -3 5 -2 5 -1 4 0 5 0 4 -1 5 4 5 4 4 0 5 2 4 0 5 -1 5 2 4 0 5 -1 4 0 5 -5 5 1 4 1 5 -6 4 1 5 8 5 2 4 -2 5 -3 4 4 5 3 5 -2 4 0 5 -5 4 3 5 -2 5 -1 4 -5 5 3 4 2 5 -5 5 -2 4 -1 5 5 4 2 5 -6 5 8 4 6 5 1 4 0 5 1 5 0 4 -5 5 1 4 -4 5 3 5 1 4 4 5 -1 4 -3 5 -2 5 6 4 0 5 0 4 4 5 -3 5 1 4 5 5 -3 4 4 5 -5 5 0 4 -2 5 -3 4 3 5 -1 5 -5 4 5 5 1 4 0 5 -5 5 -6 4 1 5 -1 4 6 5 0 5 1 4 4 5 -2 4 6 5 -1 5 2 4 -1 5 -3 4 -1" transform="scale(0.5)" fill="none" stroke="#e62b29" stroke-width="5.2" stroke-linejoin="round"/>
<path d="M256 5228l5 0 4 0 5 -5 5 -2 4 1 5 2 4 -2 5 9 5 1 4 -5 5 -2 4 1 5 6 5 -2 4 1 5 2 4 -1 5 -3 5 -1 4 12 5 -1 4 -6 5 4 5 -4 4 -7 5 -4 4 2 5 6 5 7 4 -1 5 -3 4 -1 5 -4 5 2 4 3 5 -7 4 1 5 -1 5 1 4 0 5 -3 4 0 5 3 5 -5 4 4 5 1 4 -1 5 -5 5 -3 4 3 5 4 4 3 5 -3 5 -4 4 -9 5 8 4 3 5 -3 5 -5 4 -3 5 12 4 -12 5 5 5 0 4 3 5 -4 4 2 5 1 5 -1 4 -1 5 -2 4 -8 5 5 5 2 4 2 5 -1 4 0 5 -4 5 -4 4 3 5 0 4 -5 5 3 5 -1 4 10 5 0 4 -3 5 0 5 2 4 -5 5 4 4 1 5 4 5 0 4 -5 5 0 4 -4 5 5 5 6 4 -5 5 3 4 2 5 3 5 -2 4 -2 5 0 4 4 5 -5 5 2 4 0 5 -4 4 2 5 2 5 0 4 7 5 -6 4 -2 5 -1 5 -3 4 -2 5 -7 4 5 5 -1 5 2 4 -5 5 1 4 5 5 1 5 -1 4 1 5 1 4 1 5 1 5 -4 4 3 5 7 4 -4 5 3 5 -6 4 1 5 -6 4 0 5 3 5 -2 4 1 5 -4 4 3 5 4 5 -2 4 0 5 1 4 -2 5 3 5 -356 4 -96 5 2 4 -4 5 0 5 -3 4 8 5 1 4 -5 5 4 5 7 4 0 5 -3 4 0 5 0 5 23 4 8 5 -2 4 4 5 -3 5 -24 4 -10 5 3 4 -1 5 -8 5 356 4 90 5 -7 4 7 5 -1 5 8 4 -3 5 1 4 1 5 -3 5 0 4 8 5 -1 4 -5 5 -3 5 2 4 3 5 -5 4 2 5 1 5 -6 4 -2 5 -177 4 -278 5 1 5 -3 4 -4 5 9 4 6 5 5 5 3 4 0 5 161 4 242 5 -2 5 29 4 6 5 2 4 -5 5 3 5 7 4 -7 5 1 4 -1 5 5 5 1 4 -3 5 4 4 0 5 -1 5 -3 4 0 5 2 4 -4 5 7 5 2 4 -3 5 1 4 -1 5 -3 5 0 4 0 5 2 4 0 5 1 5 2 4 2 5 0 4 0" transform="scale(0.5)" fill="none" stroke="#f19d9d" stroke-width="5.2" stroke-linejoin="round"/>
<path d="M256 5228l5 5 4 0 5 0 5 -6 4 3 5 -2 4 2 5 -4 5 4 4 4 5 -6 4 3 5 2 5 -3 4 0 5 0 4 -2 5 0 5 3 4 -2 5 2 4 2 5 -3 5 -2 4 2 5 4 4 1 5 -1 5 3 4 1 5 -3 4 4 5 -5 5 0 4 -2 5 4 4 -3 5 -1 5 -1 4 0 5 -3 4 -2 5 3 5 7 4 -3 5 4 4 0 5 -4 5 -4 4 -5 5 5 4 5 5 4 5 -1 4 -6 5 5 4 0 5 -1 5 -3 4 9 5 -2 4 -2 5 -3 5 -3 4 3 5 -8 4 6 5 -1 5 2 4 0 5 4 4 -4 5 -5 5 1 4 -3 5 -4 4 -2 5 -1 5 0 4 2 5 2 4 3 5 0 5 1 4 1 5 -3 4 -86 5 -348 5 1 4 -5 5 4 4 -5 5 1 5 -1 4 2 5 -2 4 0 5 -2 5 -1 4 4 5 3 4 0 5 -4 5 -4 4 2 5 -2 4 5 5 7 5 -2 4 -4 5 0 4 -7 5 2 5 -1 4 11 5 -4 4 2 5 0 5 -10 4 3 5 2 4 -1 5 -1 5 -1 4 5 5 -4 4 3 5 -6 5 5 4 -5 5 2 4 2 5 -2 5 -1 4 -2 5 3 4 -1 5 -1 5 -1 4 4 5 -4 4 1 5 1 5 355 4 86 5 5 4 -4 5 -4 5 -3 4 4 5 -2 4 -2 5 -6 5 -1 4 2 5 0 4 0 5 2 5 2 4 -3 5 -1 4 -4 5 3 5 -384 4 -96 5 0 4 6 5 -5 5 -3 4 -3 5 4 4 3 5 -1 5 2 4 2 5 2 4 0 5 4 5 -1 4 2 5 -1 4 4 5 -2 5 -6 4 6 5 -1 4 1 5 -1 5 -2 4 5 5 -2 4 -6 5 2 5 -2 4 1 5 -3 4 -1 5 3 5 -1 4 1 5 2 4 -10 5 -2 5 -2 4 1 5 7 4 7 5 -4 5 -5 4 5 5 -1 4 -2 5 -2 5 -2 4 4 5 3 4 -2 5 0 5 2 4 6 5 4 4 -1 5 -5 5 2 4 -2 5 2 4 -1 5 2 5 -5 4 -5 5 6 4 0 5 -1 5 -2 4 -1 5 5 4 -6 5 9 5 -5 4 -3 5 4 4 -5 5 0 5 1 4 -2 5 5 4 1" transform="scale(0.5)" fill="none" stroke="#e3201f" stroke-width="5.2" stroke-linejoin="round"/>
<path d="M256 5228l5 -1 4 1 5 -4 5 2 4 1 5 4 4 2 5 0 5 -3 4 3 5 -2 4 -7 5 1 5 3 4 1 5 -3 4 1 5 2 5 3 4 1 5 4 4 -1 5 -4 5 4 4 0 5 -3 4 -2 5 1 5 -7 4 -1 5 3 4 5 5 -3 5 1 4 -1 5 -3 4 3 5 -3 5 -4 4 6 5 1 4 -2 5 0 5 3 4 -3 5 -4 4 2 5 1 5 0 4 1 5 -2 4 -1 5 2 5 -1 4 -5 5 -1 4 1 5 -4 5 4 4 -5 5 1 4 0 5 1 5 -1 4 -4 5 -1 4 0 5 -1 5 -2 4 -1 5 1 4 -86 5 -337 5 1 4 0 5 23 4 32 5 -2 5 37 4 10 5 133 4 197 5 -1 5 -1 4 5 5 1 4 -5 5 -1 5 3 4 -3 5 0 4 4 5 0 5 2 4 0 5 -3 4 3 5 -3 5 2 4 2 5 1 4 1 5 0 5 2 4 -5 5 -5 4 4 5 -3 5 1 4 4 5 -3 4 1 5 3 5 -4 4 7 5 3 4 1 5 2 5 -358 4 -94 5 -2 4 2 5 3 5 -4 4 2 5 -4 4 3 5 0 5 354 4 88 5 -4 4 -1 5 1 5 -2 4 1 5 6 4 -5 5 4 5 -3 4 -1 5 0 4 -4 5 1 5 5 4 0 5 -4 4 2 5 -4 5 -1 4 1 5 4 4 -2 5 4 5 0 4 -1 5 1 4 3 5 -3 5 -353 4 -86 5 1 4 -3 5 4 5 -5 4 3 5 2 4 1 5 1 5 -1 4 0 5 0 4 -2 5 -3 5 358 4 87 5 4 4 -4 5 1 5 -3 4 -2 5 -6 4 3 5 0 5 -7 4 4 5 -2 4 -1 5 3 5 3 4 0 5 -5 4 0 5 2 5 -2 4 -3 5 3 4 -3 5 3 5 -1 4 -4 5 3 4 -4 5 0 5 -2 4 4 5 0 4 -3 5 0 5 -2 4 5 5 0 4 -1 5 -1 5 2 4 -2 5 1 4 -3 5 -6 5 0 4 1 5 4 4 0 5 1 5 0 4 -2 5 -1 4 4 5 7 5 0 4 1 5 -2 4 0 5 -4 5 0 4 -5 5 1 4 1 5 -1 5 1 4 2 5 5 4 -3 5 4 5 0 4 -1 5 -4 4 2" transform="scale(0.5)" fill="none" stroke="#ec5c58" stroke-width="5.2" stroke-linejoin="round"/>
<path d="M256 5228l5 -2 4 -1 5 1 5 4 4 -4 5 3 4 2 5 -3 5 -3 4 6 5 -3 4 -7 5 5 5 -1 4 -5 5 -3 4 4 5 4 5 5 4 -3 5 1 4 -2 5 1 5 -3 4 4 5 -2 4 10 5 -5 5 -5 4 2 5 3 4 -1 5 5 5 0 4 0 5 4 4 -4 5 -5 5 -4 4 -4 5 -1 4 3 5 4 5 -1 4 4 5 2 4 -3 5 0 5 1 4 -3 5 4 4 -3 5 -5 5 4 4 4 5 -1 4 -2 5 -1 5 -2 4 2 5 4 4 -4 5 -4 5 -1 4 -1 5 1 4 -3 5 -2 5 -1 4 -1 5 0 4 3 5 0 5 4 4 -4 5 -1 4 1 5 1 5 0 4 -6 5 -6 4 5 5 -1 5 5 4 -2 5 -1 4 1 5 0 5 5 4 -2 5 -1 4 -4 5 -2 5 5 4 -2 5 -3 4 3 5 4 5 -4 4 2 5 2 4 1 5 -2 5 -2 4 -2 5 2 4 2 5 0 5 4 4 -1 5 -4 4 -2 5 -1 5 2 4 1 5 -1 4 2 5 5 5 -1 4 1 5 -5 4 -1 5 2 5 2 4 4 5 -3 4 -3 5 6 5 4 4 -2 5 -193 4 -291 5 -8 5 2 4 1 5 -3 4 2 5 0 5 0 4 0 5 5 4 -1 5 -1 5 3 4 -5 5 2 4 1 5 1 5 1 4 -1 5 1 4 -1 5 -4 5 5 4 0 5 1 4 -3 5 2 5 -4 4 3 5 4 4 -1 5 -1 5 -3 4 0 5 192 4 289 5 2 5 -5 4 -2 5 -7 4 1 5 5 5 2 4 -3 5 -3 4 -5 5 5 5 2 4 3 5 3 4 -5 5 -4 5 3 4 2 5 -2 4 -2 5 0 5 -1 4 -4 5 2 4 3 5 2 5 -355 4 -88 5 1 4 -5 5 6 5 -4 4 1 5 -1 4 3 5 3 5 348 4 81 5 -6 4 -3 5 4 5 5 4 -2 5 0 4 -2 5 6 5 3 4 0 5 4 4 -3 5 -4 5 1 4 -1 5 -1 4 0 5 1 5 2 4 4 5 -5 4 1 5 -1 5 2 4 4 5 4 4 0 5 5 5 -3 4 -1 5 1 4 -83 5 -127 5 4 4 0 5 -2 4 43 5 166 5 4 4 -2 5 -193 4 -127" transform="scale(0.5)" fill="none" stroke="#e21a19" stroke-width="5.2" stroke-linejoin="round"/>
<path d="M256 5228l5 1 4 1 5 6 5 -1 4 -7 5 -3 4 -1 5 0 5 -4 4 -1 5 3 4 -4 5 2 5 2 4 7 5 -3 4 1 5 -3 5 0 4 2 5 -1 4 -3 5 7 5 1 4 1 5 -5 4 -2 5 -2 5 5 4 -3 5 -1 4 4 5 -5 5 3 4 -3 5 0 4 -3 5 4 5 4 4 0 5 6 4 -3 5 3 5 -5 4 -6 5 3 4 -5 5 -2 5 5 4 -5 5 3 4 0 5 1 5 -2 4 6 5 -5 4 -1 5 1 5 2 4 1 5 -6 4 -1 5 3 5 0 4 4 5 -1 4 -98 5 -394 5 0 4 1 5 -1 4 2 5 -3 5 2 4 -2 5 -1 4 0 5 1 5 0 4 15 5 6 4 -3 5 -2 5 1 4 -15 5 -13 4 6 5 4 5 4 4 1 5 3 4 -1 5 -3 5 3 4 -2 5 0 4 -4 5 -2 5 -4 4 6 5 14 4 17 5 4 5 -30 4 -4 5 2 4 -4 5 4 5 -2 4 3 5 2 4 0 5 -4 5 3 4 -1 5 0 4 3 5 -1 5 2 4 2 5 -2 4 -6 5 -3 5 7 4 2 5 2 4 1 5 -1 5 0 4 -1 5 1 4 -5 5 1 5 -2 4 1 5 -2 4 0 5 3 5 -1 4 3 5 -2 4 2 5 -5 5 1 4 5 5 4 4 -1 5 -1 5 -1 4 -3 5 0 4 0 5 6 5 3 4 -3 5 -1 4 3 5 -6 5 1 4 -4 5 1 4 2 5 -1 5 -1 4 9 5 -2 4 -4 5 3 5 -1 4 2 5 -1 4 2 5 2 5 2 4 -3 5 -3 4 1 5 3 5 -2 4 2 5 -2 4 -6 5 0 5 1 4 -1 5 5 4 -3 5 -1 5 -1 4 -3 5 11 4 -8 5 3 5 2 4 -8 5 3 4 5 5 1 5 -5 4 1 5 -2 4 7 5 7 5 0 4 5 5 -5 4 -1 5 1 5 1 4 -2 5 4 4 -3 5 -3 5 0 4 5 5 1 4 1 5 3 5 -5 4 1 5 -2 4 4 5 -1 5 -1 4 -2 5 -2 4 4 5 -2 5 4 4 -3 5 -7 4 0 5 0 5 -7 4 2 5 4 4 -1 5 2 5 -2 4 -1 5 -1 4 -1 5 -1 5 3 4 -1 5 0 4 -5" transform="scale(0.5)" fill="none" stroke="#c20d0f" stroke-width="5.2" stroke-linejoin="round"/>
<path d="M256 5228l5 -1 4 1 5 0 5 1 4 -2 5 -1 4 -2 5 1 5 2 4 2 5 4 4 0 5 -3 5 -5 4 -1 5 2 4 1 5 1 5 -1 4 -1 5 2 4 0 5 -3 5 -6 4 -1 5 1 4 2 5 1 5 3 4 -3 5 0 4 -2 5 0 5 2 4 4 5 2 4 -4 5 -5 5 -4 4 0 5 -1 4 0 5 2 5 1 4 2 5 -2 4 2 5 0 5 1 4 0 5 2 4 6 5 -1 5 0 4 -2 5 4 4 -5 5 -1 5 3 4 -4 5 5 4 -1 5 -3 5 -2 4 2 5 -3 4 -1 5 0 5 2 4 0 5 -6 4 2 5 5 5 2 4 -2 5 -4 4 7 5 -4 5 3 4 -2 5 2 4 -6 5 -1 5 -5 4 -5 5 1 4 2 5 2 5 0 4 6 5 -1 4 1 5 0 5 4 4 -4 5 -1 4 1 5 -2 5 -3 4 6 5 -1 4 0 5 -1 5 0 4 -1 5 -2 4 -6 5 2 5 -4 4 -2 5 1 4 1 5 5 5 36 4 7 5 4 4 -3 5 1 5 -11 4 -5 5 -5 4 3 5 -2 5 -75 4 -21 5 -3 4 -1 5 0 5 87 4 20 5 3 4 -5 5 -2 5 -25 4 -2 5 -2 4 3 5 1 5 0 4 -1 5 -2 4 3 5 4 5 -4 4 -1 5 -3 4 0 5 -4 5 -2 4 2 5 0 4 6 5 -2 5 2 4 3 5 -2 4 2 5 -2 5 -2 4 2 5 -1 4 -3 5 1 5 0 4 1 5 -2 4 -4 5 -4 5 3 4 2 5 -2 4 4 5 -3 5 5 4 -3 5 -2 4 -2 5 2 5 7 4 -5 5 1 4 3 5 -2 5 0 4 -1 5 4 4 1 5 -1 5 2 4 -5 5 3 4 0 5 -1 5 0 4 -1 5 1 4 3 5 0 5 -3 4 -3 5 -1 4 -1 5 2 5 1 4 0 5 -1 4 3 5 -3 5 1 4 1 5 -5 4 4 5 2 5 -2 4 2 5 0 4 4 5 2 5 -4 4 -3 5 1 4 3 5 3 5 -1 4 0 5 4 4 -4 5 3 5 -1 4 2 5 1 4 0 5 1 5 -4 4 4 5 -1 4 -4 5 3 5 1 4 -2 5 -1 4 0 5 1 5 -3 4 -2 5 -2 4 10" transform="scale(0.5)" fill="none" stroke="#b40a0c" stroke-width="5.2" stroke-linejoin="round"/>
<path d="M256 5228l5 1 4 -1 5 0 5 0 4 -2 5 -1 4 1 5 1 5 -4 4 -1 5 3 4 4 5 6 5 0 4 -5 5 3 4 5 5 -2 5 -7 4 -2 5 1 4 0 5 -2 5 3 4 0 5 -4 4 -2 5 7 5 -3 4 3 5 -4 4 -2 5 2 5 0 4 4 5 -4 4 0 5 -2 5 -5 4 6 5 6 4 0 5 2 5 0 4 3 5 -10 4 -2 5 -2 5 0 4 5 5 5 4 2 5 -2 5 3 4 -3 5 2 4 3 5 -9 5 3 4 1 5 2 4 -3 5 -5 5 -3 4 -5 5 1 4 0 5 4 5 -1 4 -2 5 5 4 -1 5 2 5 -2 4 3 5 0 4 1 5 2 5 2 4 -6 5 5 4 3 5 -1 5 -3 4 1 5 0 4 1 5 -5 5 4 4 0 5 -5 4 4 5 -9 5 -4 4 4 5 2 4 3 5 -5 5 0 4 -6 5 7 4 1 5 -4 5 4 4 1 5 2 4 -6 5 3 5 -3 4 0 5 -1 4 4 5 -1 5 0 4 3 5 -2 4 0 5 -3 5 -4 4 -3 5 -1 4 3 5 7 5 -4 4 -262 5 -166 4 -2 5 3 5 -8 4 2 5 -6 4 -2 5 1 5 -4 4 8 5 -5 4 5 5 6 5 -4 4 -7 5 -3 4 4 5 4 5 -2 4 -3 5 0 4 -2 5 2 5 296 4 68 5 5 4 -1 5 -5 5 68 4 14 5 -3 4 5 5 -5 5 -5 4 -5 5 0 4 -3 5 8 5 -2 4 0 5 -4 4 7 5 1 5 -1 4 -1 5 5 4 3 5 -1 5 0 4 -1 5 0 4 2 5 1 5 -5 4 -4 5 -4 4 1 5 -3 5 -1 4 1 5 4 4 -3 5 2 5 -1 4 -1 5 -5 4 4 5 6 5 1 4 -5 5 2 4 2 5 0 5 -1 4 -2 5 6 4 -50 5 -40 5 0 4 2 5 -3 4 3 5 0 5 73 4 15 5 2 4 -5 5 1 5 -67 4 -12 5 8 4 12 5 61 5 -3 4 -3 5 10 4 2 5 -2 5 -4 4 9 5 2 4 4 5 -1 5 0 4 -5 5 -5 4 -5 5 4 5 -2 4 7 5 -3 4 -3 5 0 5 -3 4 0 5 2 4 -4 5 -3 5 3 4 -4 5 -3 4 5" transform="scale(0.5)" fill="none" stroke="#a00609" stroke-width="5.2" stroke-linejoin="round"/>
<path d="M256 5228l5 1 4 5 5 2 5 -6 4 -4 5 1 4 -3 5 0 5 -1 4 0 5 4 4 -1 5 1 5 -3 4 3 5 -4 4 -1 5 -3 5 0 4 3 5 4 4 2 5 3 5 -1 4 0 5 2 4 -4 5 5 5 -1 4 -2 5 2 4 -8 5 2 5 5 4 -5 5 -4 4 -1 5 -1 5 5 4 3 5 0 4 -6 5 2 5 4 4 3 5 -2 4 1 5 -2 5 0 4 -4 5 4 4 3 5 -1 5 1 4 0 5 -1 4 6 5 -1 5 -3 4 5 5 -5 4 0 5 2 5 0 4 -2 5 -1 4 4 5 -7 5 -5 4 5 5 5 4 1 5 4 5 -3 4 -1 5 0 4 1 5 -10 5 3 4 -4 5 -2 4 -1 5 -1 5 5 4 -2 5 -3 4 -1 5 4 5 -2 4 3 5 -7 4 3 5 -2 5 3 4 2 5 -4 4 -3 5 2 5 0 4 -2 5 3 4 1 5 -5 5 -3 4 7 5 -2 4 -1 5 0 5 -2 4 5 5 -2 4 5 5 -1 5 -4 4 -5 5 4 4 -1 5 -1 5 -1 4 -3 5 0 4 0 5 2 5 -1 4 -1 5 1 4 -2 5 4 5 1 4 1 5 1 4 -4 5 -6 5 2 4 1 5 7 4 -1 5 1 5 0 4 -4 5 -2 4 4 5 -5 5 2 4 -2 5 0 4 -4 5 2 5 0 4 6 5 6 4 -3 5 5 5 -3 4 -3 5 -2 4 -4 5 -2 5 1 4 4 5 0 4 2 5 -4 5 1 4 0 5 0 4 -4 5 -1 5 2 4 2 5 0 4 -4 5 -1 5 3 4 0 5 7 4 1 5 -3 5 2 4 -1 5 -2 4 -1 5 1 5 -2 4 1 5 -1 4 3 5 -4 5 1 4 -3 5 -1 4 2 5 3 5 2 4 -3 5 3 4 -2 5 0 5 3 4 -4 5 -5 4 -2 5 6 5 2 4 -6 5 -2 4 1 5 -5 5 -73 4 -20 5 34 4 54 5 5 5 -4 4 6 5 0 4 6 5 1 5 -43 4 -6 5 -1 4 2 5 -2 5 38 4 5 5 0 4 -4 5 2 5 -1 4 3 5 -2 4 7 5 0 5 -5 4 0 5 2 4 -8 5 1 5 1 4 1 5 5 4 -2 5 -4 5 2 4 -3 5 3 4 -3" transform="scale(0.5)" fill="none" stroke="#970509" stroke-width="5.2" stroke-linejoin="round"/>
<path d="M256 5228l5 -3 4 3 5 3 5 -3 4 3 5 -3 4 -2 5 2 5 1 4 -2 5 -4 4 2 5 6 5 4 4 -3 5 1 4 -5 5 2 5 3 4 -2 5 -5 4 -3 5 7 5 -2 4 8 5 -1 4 0 5 4 5 -6 4 0 5 -1 4 3 5 -3 5 -6 4 -7 5 -1 4 6 5 1 5 4 4 5 5 -1 4 4 5 -6 5 -1 4 4 5 -3 4 2 5 -1 5 0 4 -9 5 4 4 1 5 8 5 -2 4 2 5 -1 4 -2 5 -1 5 -1 4 0 5 2 4 -1 5 4 5 -7 4 -4 5 1 4 -1 5 1 5 0 4 -2 5 -1 4 -10 5 0 5 1 4 1 5 5 4 0 5 -2 5 -3 4 3 5 7 4 1 5 -9 5 -2 4 3 5 -10 4 2 5 1 5 2 4 2 5 -1 4 -1 5 7 5 0 4 -10 5 -1 4 0 5 -5 5 -7 4 5 5 3 4 5 5 -1 5 -70 4 -11 5 1 4 2 5 0 5 15 4 1 5 -4 4 -1 5 3 5 50 4 16 5 -4 4 3 5 -3 5 21 4 9 5 0 4 1 5 -6 5 10 4 -3 5 -184 4 -262 5 0 5 3 4 -2 5 -4 4 4 5 2 5 -16 4 -4 5 -1 4 4 5 -4 5 286 4 74 5 -144 4 -226 5 4 5 -12 4 4 5 -5 4 -3 5 5 5 -22 4 -3 5 -2 4 2 5 6 5 -1 4 1 5 1 4 -3 5 -1 5 1 4 -7 5 6 4 3 5 -6 5 0 4 -1 5 3 4 0 5 1 5 1 4 2 5 -5 4 -5 5 1 5 10 4 1 5 -4 4 -2 5 -3 5 2 4 6 5 -1 4 -3 5 -4 5 0 4 -2 5 0 4 -3 5 4 5 7 4 4 5 0 4 -3 5 0 5 -5 4 1 5 2 4 -5 5 -1 5 1 4 2 5 -1 4 5 5 1 5 -2 4 -1 5 -2 4 2 5 7 5 2 4 -2 5 2 4 1 5 -5 5 3 4 -7 5 0 4 -3 5 1 5 0 4 8 5 -8 4 0 5 8 5 -6 4 2 5 2 4 0 5 2 5 -2 4 0 5 -2 4 4 5 0 5 -5 4 -4 5 3 4 1 5 -6 5 1 4 3 5 -3 4 0 5 -3 5 13 4 1 5 -5 4 4" transform="scale(0.5)" fill="none" stroke="#8c0308" stroke-width="5.2" stroke-linejoin="round"/>
<path d="M256 5228l5 -1 4 -1 5 1 5 -1 4 5 5 -4 4 0 5 3 5 -2 4 2 5 0 4 1 5 0 5 -9 4 3 5 -3 4 -3 5 7 5 2 4 -6 5 -4 4 3 5 -4 5 7 4 -3 5 6 4 3 5 -5 5 6 4 -7 5 2 4 0 5 0 5 2 4 2 5 1 4 -5 5 -5 5 4 4 0 5 5 4 -8 5 -1 5 -2 4 -1 5 5 4 0 5 2 5 -7 4 3 5 -5 4 -3 5 0 5 4 4 0 5 -5 4 1 5 0 5 5 4 1 5 0 4 -3 5 -2 5 0 4 4 5 -2 4 -1 5 4 5 1 4 -3 5 2 4 0 5 -6 5 2 4 -2 5 1 4 0 5 1 5 -3 4 4 5 2 4 -4 5 -6 5 3 4 8 5 -1 4 0 5 -2 5 -3 4 7 5 -3 4 2 5 -2 5 -1 4 -6 5 3 4 -2 5 1 5 -4 4 -1 5 3 4 2 5 -1 5 0 4 -104 5 -67 4 -30 5 -109 5 4 4 131 5 26 4 46 5 -1 5 14 4 49 5 36 4 4 5 4 5 44 4 3 5 1 4 -2 5 -254 5 -63 4 35 5 24 4 -6 5 -181 5 -40 4 -2 5 6 4 141 5 36 5 6 4 -1 5 -40 4 -145 5 -1 5 64 4 17 5 51 4 219 5 2 5 -63 4 -98 5 -4 4 57 5 91 5 -129 4 -36 5 4 4 -80 5 -109 5 0 4 -5 5 0 4 3 5 -3 5 -6 4 -1 5 4 4 4 5 3 5 -1 4 2 5 7 4 -4 5 10 5 2 4 -5 5 -5 4 -4 5 345 5 88 4 -3 5 0 4 -54 5 -199 5 -29 4 -126 5 2 4 -1 5 -1 5 7 4 0 5 -1 4 -1 5 -2 5 5 4 9 5 -4 4 -2 5 15 5 26 4 -2 5 -16 4 -30 5 -2 5 1 4 -2 5 4 4 2 5 -4 5 -4 4 1 5 5 4 4 5 -3 5 4 4 -2 5 -3 4 -6 5 1 5 343 4 90 5 4 4 -2 5 2 5 -60 4 -12 5 -4 4 -1 5 0 5 56 4 14 5 6 4 2 5 -6 5 -127 4 -184 5 98 4 142 5 3 5 56 4 18 5 -5 4 1 5 -2 5 3 4 0 5 -4 4 1 5 0 5 -2 4 0 5 -1 4 -1" transform="scale(0.5)" fill="none" stroke="#780006" stroke-width="5.2" stroke-linejoin="round"/>
<path d="M1636 5221l5 4 4 -6 5 5 5 -6 4 -1 5 4 4 0 5 -3 5 -3 4 7 5 -1 4 3 5 3 5 -2 4 1 5 -1 4 4 5 1 5 1 4 0 5 0 4 2 5 -3 5 -2 4 1 5 -2 4 -2 5 1 5 0 4 -2 5 1 4 1 5 -1 5 1 4 3 5 3 4 -7 5 0 5 6 4 -2 5 0 4 -2 5 2 5 5 4 -5 5 9 4 1 5 0 5 -1 4 -3 5 0 4 -4 5 2 5 -9 4 -1 5 3 4 4 5 0 5 7 4 -5 5 1 4 -2 5 1 5 -1 4 -3 5 0 4 -7 5 1 5 1 4 0 5 -4 4 1 5 -1 5 -1 4 -3 5 1 4 -5 5 2 5 3 4 -2 5 -2 4 0 5 -1 5 3 4 -2 5 0 4 3 5 -8 5 -2 4 0 5 0 4 8 5 2 5 -5 4 7 5 1 4 -4 5 0 5 4 4 0 5 -2 4 2 5 1 5 0 4 3 5 -3 4 0 5 3 5 0 4 2 5 2 4 -2 5 2 5 -6 4 -6 5 6 4 8 5 0 5 -3 4 1 5 -3 4 -2 5 3 5 1 4 4 5 2 4 2 5 0 5 -6 4 2 5 -2 4 1 5 5 5 -3 4 2 5 2 4 -1 5 -8 5 -4 4 1 5 2 4 2 5 0 5 -4 4 5 5 3 4 0 5 5 5 0 4 -5 5 6 4 -4 5 2 5 -1 4 -1 5 -1 4 1 5 1 5 4 4 -7 5 1 4 -1 5 2 5 -6 4 2 5 3 4 -6 5 -2 5 0 4 -2 5 -1 4 11 5 0 5 -1 4 -5 5 1 4 0 5 1 5 1 4 4 5 -2 4 -8 5 5 5 -3 4 2 5 1 4 -9 5 5 5 -1 4 3 5 7 4 -4 5 -7 5 3 4 3 5 0 4 -5 5 2 5 -7 4 -2 5 4 4 1 5 -2 5 1 4 -4 5 -4 4 3 5 -4 5 -1 4 1 5 -1 4 4 5 -2 5 2 4 4 5 -4 4 -4 5 0 5 -1 4 2 5 3 4 -2 5 -4 5 2 4 -2 5 1 4 1 5 5 5 -2 4 4 5 -6 4 2 5 0 5 -1 4 7 5 5 4 -3 5 -2 5 0 4 -3 5 6 4 -3 5 -1 5 0 4 1 5 -5 4 1" transform="scale(0.5)" fill="none" stroke="#0f33c8" stroke-width="5.2" stroke-linejoin="round"/>
<path d="M1636 5240l5 -1 4 7 5 3 5 -2 4 -4 5 1 4 2 5 -2 5 -1 4 6 5 1 4 -2 5 4 5 1 4 -7 5 -3 4 3 5 0 5 -5 4 5 5 4 4 -3 5 1 5 3 4 -3 5 2 4 -1 5 -7 5 0 4 6 5 4 4 -4 5 -1 5 -3 4 -5 5 -1 4 -1 5 -1 5 7 4 2 5 5 4 -6 5 -1 5 -3 4 0 5 1 4 0 5 -3 5 -2 4 1 5 8 4 5 5 -4 5 -3 4 1 5 -2 4 -3 5 0 5 -4 4 -2 5 3 4 5 5 -5 5 -2 4 -3 5 1 4 -2 5 4 5 5 4 0 5 2 4 -1 5 -1 5 -6 4 2 5 -3 4 7 5 -5 5 7 4 1 5 -6 4 -3 5 1 5 1 4 -3 5 6 4 -1 5 -3 5 -5 4 10 5 -1 4 3 5 4 5 3 4 -2 5 1 4 -6 5 4 5 -1 4 -1 5 -10 4 2 5 0 5 2 4 0 5 -2 4 4 5 -3 5 -1 4 -1 5 -2 4 -2 5 13 5 -4 4 3 5 3 4 1 5 -1 5 -6 4 4 5 -7 4 6 5 0 5 4 4 -3 5 0 4 -1 5 2 5 2 4 3 5 1 4 1 5 2 5 4 4 -1 5 -3 4 0 5 -4 5 -1 4 7 5 -4 4 2 5 -3 5 3 4 -4 5 -3 4 -3 5 -4 5 7 4 1 5 2 4 -1 5 -1 5 -2 4 1 5 -2 4 3 5 4 5 0 4 -6 5 -1 4 -96 5 -98 5 -98 4 -90 5 -97 4 -10 5 -3 5 2 4 2 5 -8 4 -2 5 5 5 0 4 -2 5 -4 4 7 5 -3 5 0 4 2 5 -1 4 -2 5 4 5 4 4 1 5 0 4 2 5 3 5 86 4 174 5 178 4 6 5 0 5 1 4 2 5 -3 4 2 5 3 5 0 4 1 5 2 4 -1 5 -1 5 1 4 -7 5 3 4 -2 5 4 5 1 4 0 5 1 4 -8 5 -3 5 3 4 9 5 -5 4 -6 5 2 5 0 4 5 5 2 4 -1 5 -3 5 -2 4 -4 5 1 4 3 5 -1 5 1 4 0 5 3 4 2 5 -1 5 10 4 -5 5 2 4 1 5 0 5 -1 4 3 5 -5 4 3 5 -2 5 3 4 1 5 -2 4 -3" transform="scale(0.5)" fill="none" stroke="#8fcee6" stroke-width="5.2" stroke-linejoin="round"/>
<path d="M1636 5230l5 -3 4 2 5 -5 5 4 4 -4 5 2 4 4 5 6 5 -3 4 -1 5 -2 4 2 5 -3 5 -1 4 -7 5 -1 4 0 5 5 5 -2 4 -2 5 -1 4 1 5 1 5 -2 4 3 5 3 4 -2 5 -2 5 1 4 3 5 3 4 7 5 -4 5 -2 4 -3 5 2 4 2 5 -2 5 -1 4 -6 5 -100 4 -199 5 -206 5 1 4 -4 5 -1 4 4 5 9 5 -2 4 5 5 -4 4 1 5 -5 5 6 4 8 5 3 4 13 5 1 5 6 4 8 5 12 4 7 5 8 5 -4 4 1 5 -3 4 5 5 4 5 2 4 -5 5 -6 4 -5 5 -3 5 -3 4 5 5 0 4 -4 5 3 5 1 4 -5 5 1 4 -5 5 5 5 2 4 -7 5 -6 4 -1 5 2 5 3 4 -4 5 0 4 2 5 -3 5 -4 4 -2 5 5 4 -6 5 -2 5 -2 4 5 5 3 4 -1 5 -2 5 -2 4 -1 5 4 4 -2 5 -2 5 -2 4 -2 5 6 4 4 5 1 5 -1 4 1 5 2 4 -1 5 -2 5 4 4 3 5 -5 4 -1 5 2 5 4 4 2 5 -2 4 8 5 -5 5 -4 4 -3 5 1 4 -1 5 -9 5 -3 4 5 5 -3 4 4 5 3 5 -4 4 0 5 -4 4 1 5 -2 5 0 4 3 5 -1 4 2 5 -3 5 -5 4 -1 5 -2 4 3 5 3 5 -1 4 -1 5 7 4 -4 5 -5 5 -1 4 -2 5 3 4 3 5 4 5 -7 4 -2 5 6 4 3 5 -1 5 1 4 0 5 4 4 4 5 -4 5 5 4 -2 5 -3 4 0 5 0 5 6 4 0 5 2 4 2 5 4 5 0 4 -4 5 3 4 0 5 -10 5 1 4 -3 5 3 4 1 5 -4 5 -4 4 -3 5 0 4 -2 5 -5 5 5 4 0 5 -1 4 -3 5 -2 5 -1 4 -3 5 3 4 2 5 2 5 1 4 -6 5 0 4 0 5 1 5 0 4 4 5 -1 4 -5 5 6 5 3 4 -4 5 -1 4 2 5 -2 5 3 4 1 5 -3 4 3 5 5 5 0 4 -1 5 1 4 -3 5 3 5 4 4 3 5 4 4 -3 5 5 5 -3 4 0 5 -5 4 8 5 -1 5 1 4 0 5 0 4 -1" transform="scale(0.5)" fill="none" stroke="#c5e3f1" stroke-width="5.2" stroke-linejoin="round"/>
<path d="M1636 5230l5 -6 4 4 5 0 5 4 4 -4 5 4 4 0 5 6 5 -1 4 -5 5 -5 4 8 5 -5 5 5 4 3 5 -6 4 3 5 1 5 1 4 -2 5 -3 4 -6 5 -1 5 0 4 -2 5 2 4 -3 5 0 5 -3 4 5 5 2 4 1 5 -4 5 1 4 4 5 3 4 4 5 -3 5 2 4 -5 5 1 4 -3 5 3 5 -4 4 6 5 -2 4 0 5 1 5 -2 4 2 5 -2 4 -1 5 -1 5 -4 4 -2 5 -1 4 -3 5 8 5 1 4 3 5 -2 4 5 5 -3 5 -3 4 1 5 -3 4 2 5 4 5 2 4 1 5 4 4 0 5 -2 5 -5 4 -6 5 -3 4 2 5 1 5 -2 4 7 5 2 4 -6 5 1 5 0 4 2 5 5 4 -5 5 3 5 -5 4 3 5 -3 4 2 5 -1 5 2 4 5 5 -5 4 -2 5 1 5 0 4 2 5 -8 4 0 5 0 5 -1 4 -1 5 0 4 0 5 -7 5 -103 4 -112 5 -60 4 -14 5 -16 5 -13 4 -15 5 -14 4 -12 5 -20 5 -3 4 -8 5 -17 4 -3 5 -10 5 5 4 -5 5 0 4 -6 5 1 5 -2 4 0 5 -2 4 3 5 -7 5 3 4 2 5 -2 4 7 5 0 5 -3 4 -5 5 -4 4 -1 5 -4 5 0 4 0 5 4 4 1 5 2 5 -1 4 -5 5 -1 4 -3 5 -6 5 -1 4 1 5 -2 4 -2 5 1 5 -4 4 0 5 -1 4 -1 5 4 5 -4 4 -1 5 -5 4 -5 5 -5 5 -6 4 8 5 -5 4 -1 5 0 5 2 4 6 5 4 4 0 5 -6 5 6 4 2 5 -2 4 3 5 1 5 1 4 0 5 30 4 59 5 66 5 55 4 63 5 68 4 59 5 62 5 7 4 -2 5 -3 4 2 5 -5 5 5 4 0 5 -1 4 -4 5 -2 5 9 4 4 5 -2 4 0 5 -2 5 2 4 0 5 0 4 -1 5 -4 5 -3 4 3 5 -3 4 1 5 1 5 -1 4 4 5 3 4 -8 5 -4 5 6 4 -3 5 0 4 -2 5 5 5 3 4 -2 5 -2 4 1 5 -3 5 -1 4 -5 5 -3 4 2 5 3 5 -1 4 1 5 1 4 0 5 1 5 3 4 -3 5 -1 4 -2" transform="scale(0.5)" fill="none" stroke="#b1dbed" stroke-width="5.2" stroke-linejoin="round"/>
<path d="M1636 5226l5 -2 4 2 5 -6 5 0 4 -3 5 0 4 2 5 5 5 1 4 -4 5 2 4 1 5 0 5 2 4 1 5 4 4 -10 5 -3 5 -6 4 5 5 6 4 -5 5 3 5 -3 4 -4 5 5 4 2 5 -1 5 -4 4 -1 5 2 4 3 5 -5 5 -2 4 8 5 2 4 -5 5 -1 5 0 4 -5 5 3 4 6 5 -3 5 -51 4 -42 5 -19 4 -2 5 3 5 1 4 2 5 19 4 44 5 48 5 2 4 -1 5 -2 4 4 5 0 5 3 4 -1 5 0 4 3 5 -4 5 0 4 -2 5 2 4 0 5 -3 5 -4 4 2 5 0 4 3 5 -3 5 -5 4 -3 5 1 4 2 5 3 5 3 4 5 5 2 4 -1 5 2 5 3 4 6 5 -5 4 4 5 1 5 -6 4 -1 5 -1 4 2 5 11 5 -4 4 5 5 -3 4 3 5 2 5 0 4 3 5 2 4 8 5 4 5 -6 4 -7 5 1 4 7 5 0 5 -3 4 4 5 4 4 -4 5 0 5 -2 4 0 5 0 4 3 5 0 5 -3 4 -1 5 1 4 -2 5 4 5 -5 4 1 5 3 4 -2 5 2 5 -2 4 1 5 5 4 0 5 -2 5 1 4 1 5 -2 4 -10 5 0 5 -6 4 1 5 5 4 -1 5 -3 5 -2 4 2 5 -2 4 -2 5 -1 5 1 4 -2 5 6 4 0 5 -5 5 6 4 -3 5 3 4 -4 5 1 5 2 4 4 5 1 4 -4 5 5 5 2 4 0 5 0 4 3 5 4 5 2 4 0 5 -2 4 0 5 -5 5 -1 4 0 5 1 4 -3 5 -1 5 2 4 -2 5 -2 4 -2 5 -1 5 -1 4 5 5 -1 4 1 5 -4 5 0 4 -1 5 -4 4 2 5 -3 5 1 4 -3 5 -4 4 -3 5 1 5 7 4 -4 5 0 4 0 5 0 5 -2 4 0 5 0 4 0 5 -1 5 -2 4 2 5 0 4 0 5 1 5 1 4 0 5 -1 4 -2 5 -3 5 1 4 -3 5 -3 4 -4 5 -5 5 1 4 3 5 -1 4 1 5 0 5 2 4 -1 5 -4 4 4 5 1 5 1 4 5 5 1 4 0 5 -7 5 -1 4 3 5 -8 4 0 5 1 5 1 4 -4 5 0 4 1" transform="scale(0.5)" fill="none" stroke="#9ad2e8" stroke-width="5.2" stroke-linejoin="round"/>
<path d="M1636 5240l5 1 4 1 5 3 5 0 4 2 5 -4 4 -2 5 -4 5 0 4 1 5 -3 4 1 5 2 5 0 4 7 5 -4 4 0 5 5 5 -4 4 -2 5 -2 4 6 5 7 5 -2 4 -6 5 -3 4 -5 5 6 5 4 4 8 5 -5 4 -4 5 10 5 -5 4 -6 5 0 4 -1 5 1 5 -2 4 3 5 3 4 1 5 5 5 -4 4 -5 5 -1 4 2 5 -5 5 2 4 -2 5 0 4 3 5 4 5 -1 4 -6 5 -2 4 -7 5 5 5 1 4 -1 5 1 4 -2 5 -3 5 4 4 -1 5 -4 4 -7 5 6 5 3 4 -6 5 0 4 -2 5 -2 5 1 4 3 5 -4 4 -4 5 4 5 2 4 -1 5 2 4 5 5 -5 5 -6 4 8 5 0 4 -3 5 3 5 -2 4 -7 5 5 4 2 5 -2 5 -3 4 -3 5 6 4 3 5 0 5 2 4 4 5 -6 4 -3 5 0 5 3 4 3 5 -4 4 2 5 4 5 -3 4 -2 5 2 4 -3 5 2 5 0 4 2 5 0 4 4 5 -3 5 -5 4 4 5 0 4 1 5 2 5 0 4 -2 5 2 4 1 5 1 5 -2 4 3 5 -1 4 -2 5 3 5 0 4 5 5 3 4 1 5 -3 5 -3 4 -1 5 -6 4 -1 5 9 5 1 4 0 5 -1 4 0 5 3 5 1 4 4 5 2 4 -2 5 0 5 0 4 -1 5 -4 4 4 5 -1 5 -99 4 -97 5 -100 4 -87 5 -99 5 -8 4 3 5 -4 4 -3 5 2 5 -4 4 5 5 1 4 -5 5 1 5 3 4 -2 5 -4 4 1 5 0 5 4 4 1 5 0 4 3 5 3 5 3 4 4 5 91 4 184 5 176 5 -2 4 1 5 2 4 6 5 -4 5 0 4 6 5 0 4 4 5 -1 5 1 4 -1 5 4 4 5 5 -5 5 -1 4 -3 5 1 4 -3 5 -1 5 -1 4 -1 5 -2 4 -2 5 -1 5 -5 4 -2 5 2 4 3 5 -5 5 -1 4 -4 5 -2 4 -2 5 -3 5 0 4 5 5 -4 4 1 5 -2 5 1 4 -4 5 -1 4 0 5 5 5 1 4 3 5 3 4 -5 5 1 5 0 4 3 5 2 4 1 5 -1 5 -3 4 3 5 -7 4 -1" transform="scale(0.5)" fill="none" stroke="#8ccde6" stroke-width="5.2" stroke-linejoin="round"/>
<path d="M1636 5234l5 -4 4 7 5 -7 5 -1 4 -1 5 7 4 1 5 6 5 -5 4 0 5 -3 4 -1 5 4 5 2 4 -3 5 -3 4 4 5 -1 5 5 4 0 5 -4 4 -6 5 5 5 -2 4 -1 5 2 4 -5 5 1 5 4 4 -2 5 4 4 -8 5 -2 5 8 4 0 5 3 4 0 5 -1 5 -134 4 -132 5 -148 4 -99 5 1 5 0 4 3 5 1 4 2 5 3 5 -3 4 -2 5 -2 4 0 5 3 5 6 4 4 5 4 4 2 5 -3 5 1 4 -10 5 3 4 0 5 -2 5 4 4 -1 5 1 4 -2 5 -7 5 1 4 0 5 2 4 -2 5 -5 5 -2 4 0 5 -2 4 -1 5 4 5 -3 4 -2 5 -5 4 3 5 -3 5 5 4 -7 5 6 4 8 5 5 5 12 4 12 5 27 4 37 5 37 5 37 4 28 5 12 4 10 5 9 5 -1 4 0 5 -7 4 -3 5 -6 5 -5 4 -1 5 -5 4 -11 5 -11 5 -7 4 -5 5 -10 4 -5 5 -13 5 -10 4 -9 5 -21 4 -29 5 -23 5 -6 4 -8 5 -5 4 -3 5 -6 5 2 4 5 5 1 4 0 5 -2 5 0 4 0 5 2 4 -4 5 2 5 1 4 1 5 8 4 -1 5 -1 5 -3 4 6 5 -3 4 4 5 1 5 8 4 -5 5 -3 4 -3 5 1 5 3 4 1 5 5 4 5 5 3 5 177 4 179 5 92 4 -2 5 7 5 0 4 1 5 3 4 -2 5 2 5 -4 4 5 5 -6 4 -6 5 0 5 -7 4 5 5 -1 4 -2 5 -6 5 6 4 -6 5 5 4 2 5 -2 5 -1 4 -1 5 -6 4 -4 5 1 5 8 4 7 5 -93 4 -177 5 -175 5 -3 4 1 5 2 4 5 5 -5 5 89 4 83 5 92 4 89 5 89 5 -8 4 2 5 2 4 9 5 -1 5 -4 4 -2 5 2 4 3 5 -3 5 2 4 3 5 3 4 -3 5 -3 5 -4 4 0 5 -7 4 0 5 2 5 6 4 -2 5 0 4 2 5 -3 5 -84 4 -89 5 -85 4 -100 5 -96 5 3 4 1 5 6 4 6 5 1 5 91 4 81 5 87 4 89 5 86 5 2 4 3 5 7 4 -8 5 -4 5 1 4 0 5 0 4 -2" transform="scale(0.5)" fill="none" stroke="#7ec4e4" stroke-width="5.2" stroke-linejoin="round"/>
<path d="M1636 5230l5 -9 4 2 5 -1 5 -2 4 9 5 1 4 -5 5 3 5 3 4 -4 5 5 4 4 5 4 5 -5 4 -3 5 -1 4 3 5 -3 5 0 4 1 5 -2 4 -4 5 5 5 5 4 -4 5 0 4 -4 5 -7 5 0 4 3 5 -7 4 0 5 4 5 2 4 -1 5 4 4 -1 5 10 5 -2 4 5 5 -6 4 3 5 0 5 -6 4 0 5 0 4 -4 5 2 5 -3 4 2 5 -1 4 -7 5 11 5 -1 4 0 5 -1 4 6 5 1 5 -3 4 1 5 1 4 -1 5 3 5 2 4 -2 5 -9 4 9 5 -2 5 -4 4 4 5 0 4 0 5 -3 5 -2 4 1 5 4 4 -3 5 3 5 -2 4 8 5 8 4 3 5 2 5 3 4 -3 5 -11 4 -6 5 0 5 -5 4 3 5 2 4 0 5 -4 5 1 4 0 5 -3 4 4 5 1 5 7 4 -3 5 3 4 -3 5 -3 5 1 4 -9 5 1 4 -1 5 0 5 -2 4 1 5 -4 4 7 5 3 5 -8 4 0 5 10 4 -4 5 0 5 4 4 2 5 -6 4 -7 5 -1 5 -7 4 -2 5 -3 4 5 5 -4 5 5 4 6 5 4 4 -1 5 -6 5 1 4 1 5 0 4 13 5 -4 5 2 4 -6 5 -10 4 6 5 8 5 -2 4 -2 5 4 4 0 5 0 5 3 4 -2 5 2 4 2 5 -5 5 1 4 -8 5 -2 4 -1 5 3 5 -2 4 0 5 2 4 -3 5 -2 5 5 4 -4 5 0 4 2 5 -2 5 3 4 -1 5 1 4 3 5 -1 5 8 4 -5 5 -5 4 10 5 -5 5 1 4 0 5 -4 4 1 5 -3 5 3 4 8 5 3 4 -4 5 -3 5 3 4 4 5 -5 4 -5 5 3 5 4 4 -14 5 14 4 3 5 -5 5 10 4 -4 5 -1 4 -3 5 -4 5 -2 4 -3 5 -1 4 0 5 3 5 -3 4 7 5 9 4 -7 5 -6 5 4 4 -9 5 1 4 4 5 -7 5 -1 4 -3 5 5 4 0 5 -2 5 -3 4 8 5 2 4 -4 5 1 5 8 4 6 5 3 4 -2 5 -7 5 3 4 -2 5 3 4 -4 5 -3 5 -2 4 0 5 -1 4 6 5 3 5 -11 4 1 5 4 4 -3" transform="scale(0.5)" fill="none" stroke="#62b2e0" stroke-width="5.2" stroke-linejoin="round"/>
<path d="M1636 5230l5 -1 4 -5 5 -3 5 0 4 -3 5 -3 4 -2 5 6 5 7 4 3 5 2 4 -4 5 -4 5 3 4 6 5 3 4 -3 5 3 5 -2 4 3 5 3 4 -3 5 -3 5 -3 4 2 5 -3 4 6 5 -2 5 5 4 1 5 -1 4 -2 5 1 5 2 4 -5 5 -4 4 5 5 4 5 0 4 2 5 3 4 3 5 -8 5 1 4 -7 5 8 4 3 5 0 5 0 4 -6 5 1 4 7 5 -4 5 1 4 -4 5 -3 4 -1 5 -2 5 2 4 -3 5 3 4 0 5 4 5 2 4 -8 5 -2 4 -4 5 1 5 2 4 -1 5 -1 4 -3 5 0 5 -3 4 8 5 -5 4 -4 5 2 5 -2 4 2 5 9 4 -5 5 -1 5 0 4 1 5 5 4 -2 5 -1 5 -186 4 -184 5 -89 4 7 5 11 5 133 4 47 5 12 4 57 5 181 5 3 4 -3 5 -6 4 -6 5 3 5 0 4 -2 5 3 4 1 5 6 5 6 4 -6 5 -4 4 -1 5 1 5 6 4 3 5 -7 4 3 5 3 5 0 4 -1 5 -1 4 -2 5 0 5 -1 4 -2 5 0 4 4 5 -4 5 0 4 -7 5 -5 4 8 5 -2 5 1 4 0 5 -1 4 -2 5 6 5 -3 4 5 5 2 4 -7 5 -6 5 1 4 -5 5 -2 4 1 5 5 5 -181 4 -177 5 -85 4 4 5 6 5 172 4 173 5 88 4 -3 5 -1 5 -177 4 -176 5 -91 4 2 5 2 5 7 4 8 5 89 4 167 5 174 5 3 4 -1 5 2 4 3 5 8 5 -6 4 0 5 -5 4 -2 5 3 5 4 4 1 5 -6 4 0 5 -8 5 10 4 0 5 -7 4 0 5 4 5 5 4 -6 5 0 4 -1 5 0 5 5 4 0 5 0 4 3 5 -5 5 -2 4 0 5 -3 4 4 5 2 5 -6 4 0 5 -44 4 -94 5 -93 5 -7 4 7 5 7 4 0 5 -5 5 89 4 93 5 48 4 -3 5 4 5 -4 4 3 5 2 4 -1 5 -4 5 -1 4 2 5 -5 4 2 5 5 5 2 4 0 5 7 4 -1 5 0 5 1 4 3 5 -4 4 2 5 -5 5 -3 4 2 5 2 4 0 5 -3 5 -90 4 -88 5 -47 4 -1" transform="scale(0.5)" fill="none" stroke="#54a9de" stroke-width="5.2" stroke-linejoin="round"/>
<path d="M1636 5226l5 2 4 -4 5 4 5 -2 4 -3 5 1 4 -2 5 -2 5 4 4 -2 5 -1 4 -6 5 0 5 -2 4 5 5 3 4 5 5 -2 5 2 4 -9 5 0 4 2 5 1 5 -6 4 -4 5 1 4 7 5 1 5 -2 4 -1 5 3 4 4 5 -2 5 -1 4 5 5 -5 4 0 5 1 5 -5 4 1 5 5 4 -1 5 2 5 -5 4 1 5 1 4 1 5 -5 5 1 4 -1 5 0 4 6 5 1 5 2 4 0 5 -4 4 -5 5 2 5 1 4 5 5 -1 4 3 5 -5 5 -4 4 3 5 5 4 -1 5 -2 5 7 4 -9 5 0 4 -1 5 0 5 0 4 -4 5 3 4 3 5 -7 5 -5 4 4 5 2 4 3 5 -1 5 -1 4 3 5 -1 4 0 5 1 5 -1 4 1 5 0 4 5 5 -6 5 -3 4 4 5 -5 4 6 5 6 5 -4 4 0 5 0 4 1 5 2 5 4 4 -1 5 2 4 -1 5 -5 5 -177 4 -185 5 -91 4 2 5 6 5 0 4 4 5 -1 4 -5 5 -2 5 17 4 9 5 20 4 22 5 17 5 40 4 40 5 63 4 91 5 82 5 15 4 17 5 11 4 -6 5 -3 5 1 4 2 5 1 4 -2 5 1 5 7 4 0 5 1 4 -4 5 1 5 -4 4 1 5 -4 4 1 5 5 5 0 4 -7 5 -1 4 2 5 3 5 5 4 0 5 6 4 0 5 -9 5 -3 4 2 5 -2 4 -4 5 -3 5 4 4 3 5 -1 4 3 5 -1 5 -2 4 0 5 1 4 1 5 1 5 -49 4 -46 5 -38 4 -48 5 -40 5 -47 4 -50 5 -46 4 -51 5 -43 5 0 4 4 5 5 4 3 5 2 5 -6 4 -2 5 3 4 3 5 -3 5 -3 4 -3 5 3 4 1 5 1 5 -4 4 1 5 -5 4 6 5 -3 5 7 4 -4 5 -1 4 -2 5 5 5 -3 4 2 5 -1 4 -2 5 -3 5 0 4 6 5 3 4 -7 5 -1 5 -3 4 -6 5 -2 4 0 5 1 5 5 4 6 5 -4 4 4 5 -4 5 0 4 2 5 2 4 1 5 -6 5 -7 4 4 5 3 4 0 5 0 5 0 4 -3 5 3 4 9 5 -1 5 1 4 0 5 1 4 1" transform="scale(0.5)" fill="none" stroke="#3b90da" stroke-width="5.2" stroke-linejoin="round"/>
<path d="M1636 5230l5 2 4 2 5 1 5 0 4 -2 5 3 4 0 5 -3 5 0 4 -2 5 -2 4 -3 5 4 5 -8 4 8 5 -3 4 -4 5 4 5 1 4 5 5 -6 4 -4 5 5 5 -3 4 0 5 -2 4 -1 5 -2 5 0 4 -1 5 1 4 1 5 -3 5 2 4 4 5 4 4 0 5 0 5 -5 4 1 5 5 4 -3 5 0 5 1 4 -1 5 -1 4 -3 5 -2 5 3 4 1 5 3 4 -1 5 -7 5 4 4 -4 5 -2 4 -3 5 6 5 -1 4 3 5 -5 4 -4 5 9 5 -4 4 -1 5 2 4 -1 5 2 5 0 4 -3 5 3 4 -5 5 -4 5 3 4 0 5 0 4 -5 5 0 5 6 4 -4 5 -1 4 -2 5 2 5 -3 4 0 5 -4 4 3 5 7 5 -7 4 -1 5 7 4 -3 5 1 5 3 4 1 5 1 4 1 5 -4 5 -183 4 -189 5 -84 4 6 5 4 5 7 4 0 5 -3 4 -6 5 -8 5 -2 4 -3 5 -4 4 -9 5 -5 5 3 4 -1 5 0 4 3 5 8 5 -2 4 -2 5 5 4 2 5 7 5 2 4 -1 5 -5 4 -1 5 -4 5 0 4 1 5 7 4 0 5 3 5 -3 4 -1 5 -1 4 3 5 2 5 -4 4 4 5 5 4 4 5 -2 5 -7 4 -4 5 -1 4 -4 5 -1 5 -1 4 -1 5 -11 4 2 5 1 5 5 4 -7 5 -5 4 6 5 2 5 0 4 6 5 6 4 7 5 -1 5 -1 4 -9 5 2 4 2 5 11 5 -1 4 -7 5 -4 4 -3 5 1 5 -3 4 -4 5 -4 4 -4 5 5 5 -2 4 -3 5 3 4 4 5 -4 5 0 4 -1 5 -1 4 6 5 -2 5 2 4 2 5 9 4 3 5 11 5 0 4 -2 5 -1 4 -1 5 2 5 3 4 -1 5 -1 4 -3 5 -2 5 5 4 0 5 0 4 5 5 -1 5 -1 4 2 5 3 4 0 5 -3 5 -6 4 0 5 2 4 -4 5 -1 5 -5 4 4 5 5 4 -1 5 0 5 -1 4 -4 5 0 4 3 5 0 5 1 4 0 5 0 4 -5 5 0 5 5 4 -2 5 2 4 1 5 0 5 -3 4 -3 5 7 4 2 5 0 5 3 4 -3 5 -7 4 1" transform="scale(0.5)" fill="none" stroke="#2772d8" stroke-width="5.2" stroke-linejoin="round"/>
<path d="M1636 5230l5 0 4 3 5 5 5 -3 4 1 5 7 4 -2 5 0 5 -1 4 3 5 -15 4 2 5 6 5 -5 4 -2 5 0 4 -1 5 0 5 4 4 1 5 -5 4 -2 5 2 5 -2 4 2 5 6 4 0 5 6 5 0 4 -5 5 0 4 -2 5 -3 5 4 4 -5 5 0 4 6 5 -6 5 2 4 5 5 -5 4 1 5 0 5 4 4 -3 5 4 4 -2 5 -3 5 -1 4 -8 5 -3 4 4 5 -4 5 -4 4 2 5 -3 4 1 5 3 5 -1 4 -4 5 -4 4 5 5 2 5 -173 4 -172 5 -76 4 7 5 7 5 109 4 104 5 107 4 76 5 1 5 1 4 -4 5 5 4 2 5 -1 5 -194 4 -190 5 -97 4 4 5 4 5 -6 4 2 5 -4 4 6 5 -3 5 5 4 4 5 -2 4 9 5 3 5 186 4 189 5 86 4 2 5 -1 5 -2 4 3 5 -5 4 8 5 -3 5 -1 4 4 5 1 4 -3 5 -3 5 1 4 -3 5 0 4 -2 5 -2 5 1 4 -3 5 3 4 2 5 -1 5 2 4 -4 5 3 4 5 5 4 5 -4 4 1 5 1 4 -2 5 -3 5 -1 4 -4 5 2 4 -2 5 -8 5 5 4 4 5 -4 4 5 5 -3 5 2 4 -3 5 -3 4 1 5 2 5 -1 4 5 5 -5 4 -3 5 5 5 -3 4 0 5 -2 4 3 5 5 5 5 4 -2 5 1 4 2 5 -5 5 -6 4 3 5 0 4 -6 5 -4 5 0 4 1 5 -1 4 -2 5 0 5 4 4 -1 5 -2 4 1 5 2 5 -2 4 0 5 4 4 -9 5 0 5 -3 4 2 5 4 4 2 5 2 5 0 4 4 5 5 4 7 5 -3 5 -2 4 -4 5 7 4 3 5 8 5 1 4 -4 5 -7 4 -4 5 3 5 -6 4 -7 5 -3 4 1 5 3 5 2 4 0 5 1 4 1 5 -3 5 2 4 1 5 -1 4 -1 5 -2 5 -1 4 -2 5 -82 4 -179 5 -182 5 4 4 0 5 -4 4 -12 5 5 5 1 4 1 5 1 4 11 5 3 5 109 4 112 5 62 4 8 5 10 5 -122 4 -123 5 -54 4 3 5 5 5 5 4 -1 5 82 4 172 5 173 5 -3 4 4 5 -6 4 -4" transform="scale(0.5)" fill="none" stroke="#1e64d7" stroke-width="5.2" stroke-linejoin="round"/>
<path d="M1636 5221l5 2 4 -3 5 2 5 -2 4 1 5 3 4 -2 5 0 5 5 4 -10 5 0 4 6 5 0 5 6 4 3 5 0 4 -6 5 -5 5 -6 4 -3 5 4 4 6 5 -3 5 1 4 5 5 2 4 -2 5 5 5 3 4 -3 5 -9 4 5 5 -2 5 -5 4 3 5 -1 4 5 5 -2 5 3 4 -1 5 2 4 -3 5 -8 5 6 4 1 5 4 4 -2 5 -2 5 3 4 -1 5 4 4 -1 5 1 5 2 4 -1 5 4 4 -7 5 2 5 -1 4 1 5 1 4 -9 5 1 5 6 4 -3 5 -1 4 1 5 -2 5 5 4 -5 5 0 4 -1 5 1 5 -5 4 1 5 0 4 1 5 -2 5 1 4 -4 5 -4 4 1 5 0 5 1 4 3 5 -3 4 1 5 8 5 3 4 -3 5 -9 4 -2 5 3 5 1 4 0 5 -2 4 0 5 -2 5 0 4 5 5 -1 4 2 5 3 5 -2 4 1 5 -4 4 2 5 4 5 0 4 4 5 1 4 1 5 -4 5 -6 4 1 5 -1 4 -2 5 -4 5 6 4 1 5 -1 4 1 5 5 5 -9 4 -2 5 0 4 4 5 4 5 3 4 -2 5 -2 4 10 5 -3 5 0 4 -4 5 4 4 3 5 2 5 -6 4 -2 5 -6 4 3 5 1 5 3 4 5 5 -4 4 -2 5 -4 5 2 4 0 5 2 4 -5 5 4 5 1 4 12 5 -4 4 -6 5 1 5 2 4 -6 5 3 4 -4 5 2 5 4 4 -2 5 -1 4 -1 5 3 5 -5 4 -4 5 0 4 7 5 -3 5 5 4 4 5 0 4 0 5 0 5 -1 4 -1 5 -12 4 9 5 2 5 -7 4 -1 5 0 4 -7 5 3 5 5 4 -1 5 0 4 -3 5 3 5 0 4 1 5 1 4 0 5 -1 5 -4 4 1 5 -2 4 1 5 -2 5 4 4 -2 5 -5 4 2 5 -3 5 -2 4 2 5 -1 4 3 5 -1 5 2 4 -3 5 3 4 4 5 -9 5 3 4 -2 5 2 4 -1 5 -2 5 -5 4 -2 5 4 4 0 5 -4 5 7 4 -4 5 -1 4 -4 5 0 5 2 4 0 5 -4 4 -9 5 6 5 1 4 -1 5 -3 4 5 5 -1 5 7 4 -1 5 0 4 6" transform="scale(0.5)" fill="none" stroke="#1853d2" stroke-width="5.2" stroke-linejoin="round"/>
<path d="M1636 5234l5 -2 4 3 5 -7 5 0 4 4 5 2 4 0 5 -1 5 -1 4 3 5 4 4 3 5 -3 5 -5 4 0 5 2 4 2 5 0 5 -8 4 -3 5 -1 4 0 5 -4 5 -181 4 -171 5 -93 4 -8 5 7 5 -17 4 -12 5 -13 4 -4 5 3 5 -5 4 2 5 -2 4 -1 5 3 5 8 4 -3 5 -2 4 -5 5 -6 5 2 4 2 5 -1 4 -3 5 -2 5 -1 4 5 5 5 4 5 5 4 5 13 4 15 5 9 4 -3 5 -2 5 -4 4 -10 5 1 4 -3 5 3 5 -4 4 -2 5 -7 4 0 5 -7 5 1 4 -6 5 6 4 -2 5 -7 5 0 4 -1 5 -4 4 1 5 -2 5 -1 4 1 5 5 4 -7 5 11 5 4 4 -4 5 3 4 1 5 -6 5 3 4 2 5 8 4 3 5 -8 5 5 4 1 5 2 4 2 5 -2 5 -3 4 4 5 1 4 1 5 -1 5 -1 4 -1 5 -4 4 -1 5 1 5 1 4 -1 5 0 4 -5 5 -2 5 1 4 3 5 3 4 -3 5 -1 5 2 4 -1 5 2 4 0 5 9 5 190 4 190 5 95 4 7 5 -2 5 1 4 -3 5 6 4 -7 5 -2 5 -3 4 6 5 -3 4 -3 5 -2 5 3 4 1 5 -1 4 -4 5 2 5 1 4 0 5 -1 4 6 5 2 5 1 4 1 5 0 4 3 5 -7 5 3 4 -5 5 9 4 0 5 -3 5 -9 4 0 5 7 4 -1 5 -3 5 -5 4 3 5 -5 4 -6 5 3 5 3 4 0 5 -8 4 6 5 1 5 -10 4 -3 5 3 4 -3 5 0 5 2 4 4 5 1 4 -3 5 0 5 0 4 1 5 -3 4 1 5 1 5 -4 4 4 5 -2 4 -6 5 7 5 3 4 -1 5 -2 4 -5 5 -1 5 1 4 1 5 1 4 1 5 -1 5 -3 4 -5 5 5 4 5 5 -1 5 -2 4 -2 5 3 4 -3 5 9 5 0 4 0 5 -4 4 1 5 1 5 -178 4 -173 5 -89 4 -6 5 -4 5 3 4 -3 5 -3 4 -1 5 -7 5 2 4 4 5 1 4 5 5 5 5 3 4 2 5 -6 4 1 5 -1 5 -5 4 -8 5 -3 4 -4 5 -1 5 6 4 3 5 -4 4 5" transform="scale(0.5)" fill="none" stroke="#0f32c8" stroke-width="5.2" stroke-linejoin="round"/>
<path d="M1636 5230l5 0 4 1 5 -1 5 0 4 -4 5 2 4 5 5 -2 5 -5 4 1 5 -1 4 1 5 2 5 0 4 5 5 1 4 1 5 -3 5 3 4 -3 5 -6 4 1 5 -8 5 0 4 12 5 -1 4 3 5 4 5 2 4 3 5 -5 4 -1 5 5 5 -6 4 -2 5 2 4 0 5 0 5 -2 4 -2 5 1 4 -2 5 -3 5 -1 4 -3 5 9 4 -5 5 4 5 -2 4 3 5 -3 4 2 5 -1 5 2 4 1 5 3 4 0 5 -5 5 3 4 -2 5 4 4 -3 5 -2 5 2 4 -1 5 2 4 0 5 6 5 1 4 3 5 -6 4 -1 5 -4 5 0 4 3 5 -2 4 -1 5 2 5 2 4 -1 5 -2 4 -1 5 -1 5 7 4 -2 5 4 4 2 5 -2 5 -4 4 3 5 -2 4 -5 5 4 5 -1 4 -5 5 0 4 -3 5 -2 5 -8 4 1 5 3 4 -3 5 -1 5 7 4 -6 5 1 4 1 5 -3 5 3 4 0 5 4 4 1 5 -5 5 -1 4 3 5 5 4 -6 5 0 5 0 4 -5 5 -91 4 -185 5 -181 5 -3 4 -3 5 -12 4 -6 5 -8 5 3 4 -4 5 1 4 -4 5 0 5 -3 4 2 5 -4 4 -1 5 -8 5 4 4 -1 5 0 4 -1 5 1 5 9 4 3 5 -4 4 -1 5 -4 5 1 4 4 5 0 4 3 5 3 5 6 4 6 5 6 4 6 5 5 5 38 4 40 5 46 4 35 5 35 5 31 4 45 5 43 4 53 5 50 5 15 4 2 5 -88 4 -171 5 -172 5 4 4 1 5 1 4 0 5 1 5 1 4 1 5 -2 4 -4 5 0 5 1 4 6 5 4 4 3 5 3 5 -3 4 -1 5 -7 4 2 5 1 5 1 4 -1 5 -4 4 -2 5 1 5 3 4 1 5 0 4 4 5 1 5 -5 4 -1 5 2 4 -3 5 0 5 -1 4 -5 5 6 4 -7 5 1 5 5 4 2 5 -1 4 0 5 -2 5 2 4 5 5 -1 4 3 5 2 5 3 4 1 5 -4 4 -1 5 0 5 -5 4 2 5 3 4 -8 5 3 5 -1 4 1 5 -1 4 0 5 1 5 2 4 -2 5 5 4 -4 5 -1 5 5 4 -6 5 2 4 -6" transform="scale(0.5)" fill="none" stroke="#0d29b4" stroke-width="5.2" stroke-linejoin="round"/>
<path d="M1636 5226l5 7 4 -2 5 2 5 -4 4 -6 5 0 4 7 5 1 5 0 4 -1 5 1 4 0 5 -3 5 3 4 0 5 4 4 0 5 1 5 -1 4 -2 5 1 4 -1 5 -8 5 0 4 7 5 7 4 -2 5 -4 5 -2 4 -6 5 5 4 -7 5 2 5 1 4 -8 5 -4 4 0 5 7 5 -3 4 -3 5 4 4 -1 5 4 5 -6 4 -3 5 3 4 5 5 5 5 -5 4 5 5 0 4 -1 5 4 5 5 4 0 5 0 4 2 5 -6 5 -1 4 0 5 0 4 3 5 7 5 1 4 -3 5 4 4 1 5 -3 5 -1 4 3 5 -3 4 2 5 -1 5 -3 4 0 5 1 4 0 5 -1 5 -1 4 -2 5 -2 4 -2 5 0 5 2 4 0 5 1 4 -2 5 7 5 -5 4 2 5 -1 4 -2 5 3 5 0 4 3 5 -2 4 -4 5 0 5 -6 4 2 5 -2 4 3 5 1 5 1 4 -1 5 2 4 -8 5 3 5 2 4 -2 5 -2 4 -4 5 3 5 -3 4 -1 5 4 4 1 5 -5 5 2 4 2 5 4 4 -10 5 3 5 4 4 -2 5 1 4 -4 5 1 5 -2 4 2 5 -5 4 5 5 -1 5 2 4 2 5 -6 4 -4 5 -1 5 -1 4 0 5 5 4 2 5 -2 5 -2 4 0 5 6 4 -3 5 3 5 -4 4 -1 5 -1 4 5 5 -2 5 1 4 -1 5 -4 4 0 5 0 5 -181 4 -179 5 -89 4 2 5 -7 5 1 4 10 5 73 4 146 5 151 5 36 4 24 5 12 4 -3 5 -2 5 0 4 3 5 0 4 4 5 11 5 -187 4 -177 5 -87 4 -7 5 1 5 -1 4 -8 5 33 4 54 5 56 5 54 4 58 5 56 4 55 5 54 5 -5 4 -4 5 10 4 21 5 18 5 1 4 -1 5 -5 4 -2 5 1 5 -90 4 -88 5 -87 4 -90 5 -98 5 0 4 -1 5 -4 4 3 5 2 5 -3 4 1 5 2 4 5 5 -3 5 89 4 90 5 88 4 91 5 87 5 2 4 6 5 -2 4 -5 5 -2 5 -86 4 -90 5 -93 4 -90 5 -85 5 -8 4 -3 5 2 4 -5 5 3 5 -5 4 2 5 -7 4 0 5 -1 5 4 4 3 5 5 4 1" transform="scale(0.5)" fill="none" stroke="#0a198c" stroke-width="5.2" stroke-linejoin="round"/>
<path d="M1636 5226l5 3 4 -1 5 1 5 -2 4 2 5 4 4 0 5 -3 5 4 4 -3 5 2 4 5 5 1 5 0 4 -4 5 -5 4 -1 5 -2 5 -5 4 -1 5 -3 4 2 5 -2 5 4 4 -1 5 -3 4 -5 5 1 5 -4 4 7 5 -4 4 -3 5 7 5 1 4 -6 5 2 4 -2 5 5 5 0 4 1 5 4 4 5 5 3 5 -2 4 -3 5 -2 4 -17 5 -46 5 -47 4 -5 5 -1 4 2 5 -2 5 3 4 42 5 49 4 25 5 -1 5 -2 4 2 5 -2 4 -3 5 5 5 -1 4 1 5 -3 4 -4 5 3 5 1 4 6 5 2 4 -6 5 1 5 -1 4 0 5 -2 4 5 5 -1 5 6 4 2 5 -2 4 0 5 3 5 1 4 0 5 6 4 -2 5 -6 5 3 4 3 5 2 4 1 5 2 5 0 4 3 5 -9 4 3 5 7 5 -1 4 2 5 3 4 0 5 -2 5 -2 4 -4 5 -1 4 4 5 -1 5 -1 4 3 5 -5 4 -4 5 6 5 -1 4 -1 5 -1 4 -1 5 1 5 7 4 -2 5 1 4 -3 5 -1 5 -1 4 2 5 7 4 -4 5 1 5 -1 4 4 5 -7 4 -3 5 2 5 8 4 2 5 2 4 -1 5 -2 5 -1 4 3 5 -1 4 2 5 -2 5 1 4 3 5 3 4 -1 5 0 5 -3 4 1 5 -7 4 -7 5 4 5 5 4 5 5 1 4 -8 5 4 5 0 4 -4 5 1 4 4 5 3 5 1 4 5 5 -4 4 -3 5 1 5 6 4 2 5 -5 4 -3 5 -2 5 3 4 4 5 -1 4 2 5 -4 5 -3 4 5 5 -1 4 -5 5 3 5 -9 4 -3 5 0 4 1 5 1 5 -4 4 -3 5 -4 4 3 5 -3 5 1 4 3 5 -4 4 -6 5 -9 5 6 4 2 5 -1 4 -1 5 -2 5 2 4 3 5 1 4 -8 5 1 5 2 4 0 5 3 4 3 5 2 5 -7 4 -8 5 -3 4 -6 5 2 5 7 4 -5 5 3 4 -6 5 4 5 1 4 -2 5 1 4 -1 5 -1 5 6 4 4 5 3 4 -10 5 -3 5 -6 4 5 5 1 4 0 5 3 5 7 4 -3 5 -4 4 0 5 0 5 0 4 -3 5 -4 4 5" transform="scale(0.5)" fill="none" stroke="#4ca4dc" stroke-width="5.2" stroke-linejoin="round"/>
<path d="M1636 5231l5 -1 4 0 5 2 5 4 4 -3 5 0 4 2 5 1 5 -3 4 -4 5 6 4 4 5 -2 5 -1 4 3 5 11 4 3 5 3 5 -7 4 5 5 1 4 -7 5 2 5 0 4 5 5 -4 4 -4 5 6 5 -4 4 1 5 3 4 -3 5 0 5 4 4 -9 5 11 4 -4 5 -71 5 -198 4 -205 5 -30 4 5 5 1 5 -1 4 0 5 -4 4 -3 5 1 5 4 4 -4 5 1 4 3 5 7 5 9 4 2 5 10 4 12 5 8 5 10 4 -1 5 -3 4 4 5 1 5 -1 4 -4 5 1 4 0 5 -2 5 2 4 -4 5 -3 4 1 5 6 5 -3 4 0 5 -1 4 0 5 -1 5 -2 4 -8 5 1 4 4 5 0 5 2 4 0 5 -2 4 -3 5 5 5 -1 4 -2 5 -3 4 5 5 -2 5 -4 4 4 5 -7 4 -3 5 3 5 0 4 -4 5 -6 4 3 5 -2 5 -1 4 5 5 -2 4 1 5 0 5 0 4 -6 5 3 4 -3 5 0 5 5 4 -2 5 3 4 -4 5 4 5 -1 4 1 5 -7 4 0 5 -2 5 6 4 -12 5 6 4 -1 5 -2 5 -4 4 1 5 -1 4 -1 5 5 5 1 4 -7 5 -2 4 1 5 1 5 -5 4 -3 5 1 4 1 5 -3 5 2 4 -3 5 0 4 3 5 -4 5 5 4 2 5 3 4 -6 5 1 5 4 4 -2 5 1 4 -3 5 4 5 -7 4 7 5 -7 4 -3 5 4 5 1 4 -3 5 8 4 -8 5 -1 5 4 4 1 5 -5 4 1 5 0 5 7 4 -1 5 -5 4 4 5 -1 5 6 4 2 5 -4 4 -6 5 5 5 2 4 -5 5 -6 4 2 5 3 5 -2 4 2 5 0 4 -8 5 0 5 -3 4 3 5 5 4 -3 5 -4 5 -4 4 5 5 -2 4 1 5 2 5 0 4 -8 5 -4 4 4 5 5 5 3 4 -5 5 6 4 5 5 -1 5 -1 4 0 5 4 4 1 5 -3 5 -1 4 1 5 2 4 3 5 1 5 1 4 -3 5 -2 4 7 5 2 5 2 4 -3 5 8 4 -8 5 1 5 1 4 8 5 -1 4 -2 5 -1 5 5 4 -3 5 -2 4 4 5 -2 5 6 4 2 5 -4 4 -3" transform="scale(0.5)" fill="none" stroke="#d4e9f4" stroke-width="5.2" stroke-linejoin="round"/>
<path d="M1636 5230l5 1 4 0 5 -4 5 -2 4 4 5 2 4 -9 5 6 5 2 4 -1 5 -4 4 1 5 2 5 -3 4 3 5 0 4 0 5 -2 5 6 4 5 5 0 4 -3 5 -7 5 7 4 2 5 -1 4 -8 5 -3 5 1 4 -3 5 1 4 3 5 -1 5 3 4 1 5 -4 4 -2 5 7 5 -5 4 2 5 -2 4 -2 5 3 5 3 4 4 5 -5 4 0 5 1 5 -3 4 1 5 -2 4 4 5 -5 5 -1 4 1 5 -1 4 3 5 -3 5 4 4 -3 5 6 4 3 5 -2 5 2 4 -2 5 -2 4 4 5 0 5 -2 4 1 5 -6 4 5 5 0 5 -7 4 -2 5 4 4 -1 5 -1 5 -3 4 1 5 2 4 -1 5 -1 5 -3 4 -5 5 4 4 1 5 1 5 -7 4 5 5 0 4 -1 5 -1 5 4 4 -4 5 -3 4 2 5 0 5 -3 4 2 5 5 4 4 5 1 5 -5 4 -4 5 1 4 -5 5 2 5 1 4 -2 5 0 4 -2 5 0 5 4 4 3 5 2 4 3 5 -2 5 -4 4 -2 5 -3 4 -5 5 3 5 4 4 -2 5 5 4 -2 5 -3 5 1 4 -2 5 -2 4 2 5 -2 5 4 4 3 5 3 4 2 5 -2 5 2 4 -3 5 2 4 0 5 -4 5 -2 4 5 5 0 4 9 5 0 5 -2 4 1 5 0 4 -4 5 -3 5 8 4 3 5 5 4 -5 5 5 5 -1 4 -7 5 4 4 4 5 -4 5 1 4 5 5 0 4 -1 5 1 5 -4 4 0 5 4 4 1 5 0 5 1 4 0 5 -1 4 -5 5 0 5 -8 4 5 5 3 4 -3 5 3 5 4 4 -10 5 0 4 4 5 -2 5 1 4 0 5 -9 4 -2 5 4 5 2 4 0 5 0 4 8 5 0 5 -9 4 3 5 3 4 -2 5 -3 5 2 4 -3 5 4 4 -4 5 4 5 0 4 -2 5 0 4 5 5 -1 5 -1 4 -3 5 0 4 0 5 5 5 0 4 7 5 -1 4 -6 5 4 5 1 4 1 5 0 4 -2 5 3 5 -7 4 -3 5 -1 4 5 5 -3 5 1 4 -2 5 -3 4 -1 5 -2 5 1 4 0 5 -1 4 0 5 1 5 -6 4 1 5 -1 4 4" transform="scale(0.5)" fill="none" stroke="#48a1dc" stroke-width="5.2" stroke-linejoin="round"/>
<line x1="123.6" y1="21.7" x2="123.6" y2="492.9" stroke="#000" stroke-width="2"/>
<line x1="122.6" y1="491.9" x2="698" y2="491.9" stroke="#000" stroke-width="2"/>
<line x1="150" y1="491.9" x2="150" y2="498.7" stroke="#000" stroke-width="2"/>
<text x="150" y="521.2" font-size="22.9" text-anchor="middle" stroke="#000" stroke-width="0.9">0</text>
<line x1="255.2" y1="491.9" x2="255.2" y2="498.7" stroke="#000" stroke-width="2"/>
<text x="255.2" y="521.2" font-size="22.9" text-anchor="middle" stroke="#000" stroke-width="0.9">20</text>
<line x1="360.4" y1="491.9" x2="360.4" y2="498.7" stroke="#000" stroke-width="2"/>
<text x="360.4" y="521.2" font-size="22.9" text-anchor="middle" stroke="#000" stroke-width="0.9">40</text>
<line x1="465.6" y1="491.9" x2="465.6" y2="498.7" stroke="#000" stroke-width="2"/>
<text x="465.6" y="521.2" font-size="22.9" text-anchor="middle" stroke="#000" stroke-width="0.9">60</text>
<line x1="570.8" y1="491.9" x2="570.8" y2="498.7" stroke="#000" stroke-width="2"/>
<text x="570.8" y="521.2" font-size="22.9" text-anchor="middle" stroke="#000" stroke-width="0.9">80</text>
<line x1="676" y1="491.9" x2="676" y2="498.7" stroke="#000" stroke-width="2"/>
<text x="676" y="521.2" font-size="22.9" text-anchor="middle" stroke="#000" stroke-width="0.9">100</text>
<line x1="116.8" y1="491.9" x2="123.6" y2="491.9" stroke="#000" stroke-width="2"/>
<text x="111.5" y="500" font-size="22.9" text-anchor="end" stroke="#000" stroke-width="0.9">0.0</text>
<line x1="116.8" y1="424.73" x2="123.6" y2="424.73" stroke="#000" stroke-width="2"/>
<text x="111.5" y="432.83" font-size="22.9" text-anchor="end" stroke="#000" stroke-width="0.9">0.1</text>
<line x1="116.8" y1="357.56" x2="123.6" y2="357.56" stroke="#000" stroke-width="2"/>
<text x="111.5" y="365.66" font-size="22.9" text-anchor="end" stroke="#000" stroke-width="0.9">0.2</text>
<line x1="116.8" y1="290.39" x2="123.6" y2="290.39" stroke="#000" stroke-width="2"/>
<text x="111.5" y="298.49" font-size="22.9" text-anchor="end" stroke="#000" stroke-width="0.9">0.3</text>
<line x1="116.8" y1="223.22" x2="123.6" y2="223.22" stroke="#000" stroke-width="2"/>
<text x="111.5" y="231.32" font-size="22.9" text-anchor="end" stroke="#000" stroke-width="0.9">0.4</text>
<line x1="116.8" y1="156.05" x2="123.6" y2="156.05" stroke="#000" stroke-width="2"/>
<text x="111.5" y="164.15" font-size="22.9" text-anchor="end" stroke="#000" stroke-width="0.9">0.5</text>
<line x1="116.8" y1="88.88" x2="123.6" y2="88.88" stroke="#000" stroke-width="2"/>
<text x="111.5" y="96.98" font-size="22.9" text-anchor="end" stroke="#000" stroke-width="0.9">0.6</text>
<line x1="116.8" y1="21.71" x2="123.6" y2="21.71" stroke="#000" stroke-width="2"/>
<text x="111.5" y="29.81" font-size="22.9" text-anchor="end" stroke="#000" stroke-width="0.9">0.7</text>
<text x="376.2" y="548.4" font-size="22.3" text-anchor="start" stroke="#000" stroke-width="0.45">time [ns]</text>
<line x1="812.8" y1="21.7" x2="812.8" y2="492.9" stroke="#000" stroke-width="2"/>
<line x1="811.8" y1="491.9" x2="1387.2" y2="491.9" stroke="#000" stroke-width="2"/>
<line x1="839.2" y1="491.9" x2="839.2" y2="498.7" stroke="#000" stroke-width="2"/>
<text x="839.2" y="521.2" font-size="22.9" text-anchor="middle" stroke="#000" stroke-width="0.9">0</text>
<line x1="944.4" y1="491.9" x2="944.4" y2="498.7" stroke="#000" stroke-width="2"/>
<text x="944.4" y="521.2" font-size="22.9" text-anchor="middle" stroke="#000" stroke-width="0.9">20</text>
<line x1="1049.6" y1="491.9" x2="1049.6" y2="498.7" stroke="#000" stroke-width="2"/>
<text x="1049.6" y="521.2" font-size="22.9" text-anchor="middle" stroke="#000" stroke-width="0.9">40</text>
<line x1="1154.8" y1="491.9" x2="1154.8" y2="498.7" stroke="#000" stroke-width="2"/>
<text x="1154.8" y="521.2" font-size="22.9" text-anchor="middle" stroke="#000" stroke-width="0.9">60</text>
<line x1="1260" y1="491.9" x2="1260" y2="498.7" stroke="#000" stroke-width="2"/>
<text x="1260" y="521.2" font-size="22.9" text-anchor="middle" stroke="#000" stroke-width="0.9">80</text>
<line x1="1365.2" y1="491.9" x2="1365.2" y2="498.7" stroke="#000" stroke-width="2"/>
<text x="1365.2" y="521.2" font-size="22.9" text-anchor="middle" stroke="#000" stroke-width="0.9">100</text>
<line x1="806" y1="491.9" x2="812.8" y2="491.9" stroke="#000" stroke-width="2"/>
<line x1="806" y1="424.73" x2="812.8" y2="424.73" stroke="#000" stroke-width="2"/>
<line x1="806" y1="357.56" x2="812.8" y2="357.56" stroke="#000" stroke-width="2"/>
<line x1="806" y1="290.39" x2="812.8" y2="290.39" stroke="#000" stroke-width="2"/>
<line x1="806" y1="223.22" x2="812.8" y2="223.22" stroke="#000" stroke-width="2"/>
<line x1="806" y1="156.05" x2="812.8" y2="156.05" stroke="#000" stroke-width="2"/>
<line x1="806" y1="88.88" x2="812.8" y2="88.88" stroke="#000" stroke-width="2"/>
<line x1="806" y1="21.71" x2="812.8" y2="21.71" stroke="#000" stroke-width="2"/>
<text x="1065.4" y="548.4" font-size="22.3" text-anchor="start" stroke="#000" stroke-width="0.45">time [ns]</text>
<text x="67" y="327.2" font-size="22.6" text-anchor="start" stroke="#000" stroke-width="0.45" transform="rotate(-90 67 327.2)">Predicted <tspan font-style="italic" font-weight="bold" stroke-width="0" font-size="24.5" dx="-1.5">p</tspan><tspan font-size="17" font-style="italic" font-weight="bold" stroke-width="0" dy="3.4">BD</tspan></text>
<text x="794.5" y="327.2" font-size="22.6" text-anchor="start" stroke="#000" stroke-width="0.45" transform="rotate(-90 794.5 327.2)">Predicted <tspan font-style="italic" font-weight="bold" stroke-width="0" font-size="24.5" dx="-1.5">p</tspan><tspan font-size="17" font-style="italic" font-weight="bold" stroke-width="0" dy="3.4">BD</tspan></text>
<text x="20.4" y="19.7" font-size="25.5" text-anchor="start" font-weight="bold">a</text>
<text x="738" y="22.3" font-size="25.5" text-anchor="start" font-weight="bold">b</text>
<line x1="167.2" y1="58.6" x2="216.4" y2="58.6" stroke="#2b3fd0" stroke-width="2.8"/>
<line x1="167.2" y1="91.2" x2="216.4" y2="91.2" stroke="#e01b1b" stroke-width="2.8"/>
<text x="230.5" y="64" font-size="22.6" text-anchor="start" stroke="#000" stroke-width="0.45">meH73</text>
<text x="302.4" y="54.6" font-size="14.5" text-anchor="start" font-weight="bold">+</text>
<text x="230.5" y="99" font-size="22.6" text-anchor="start" stroke="#000" stroke-width="0.45">meH73</text>
<line x1="123.4" y1="634.6" x2="123.4" y2="1105.7" stroke="#000" stroke-width="2"/>
<line x1="122.4" y1="1104.7" x2="698.7" y2="1104.7" stroke="#000" stroke-width="2"/>
<line x1="123.4" y1="1104.7" x2="123.4" y2="1111.5" stroke="#000" stroke-width="2"/>
<text x="123.4" y="1134" font-size="22.9" text-anchor="middle" stroke="#000" stroke-width="0.9">0</text>
<line x1="238.26" y1="1104.7" x2="238.26" y2="1111.5" stroke="#000" stroke-width="2"/>
<text x="238.26" y="1134" font-size="22.9" text-anchor="middle" stroke="#000" stroke-width="0.9">20</text>
<line x1="353.12" y1="1104.7" x2="353.12" y2="1111.5" stroke="#000" stroke-width="2"/>
<text x="353.12" y="1134" font-size="22.9" text-anchor="middle" stroke="#000" stroke-width="0.9">40</text>
<line x1="467.98" y1="1104.7" x2="467.98" y2="1111.5" stroke="#000" stroke-width="2"/>
<text x="467.98" y="1134" font-size="22.9" text-anchor="middle" stroke="#000" stroke-width="0.9">60</text>
<line x1="582.84" y1="1104.7" x2="582.84" y2="1111.5" stroke="#000" stroke-width="2"/>
<text x="582.84" y="1134" font-size="22.9" text-anchor="middle" stroke="#000" stroke-width="0.9">80</text>
<line x1="697.7" y1="1104.7" x2="697.7" y2="1111.5" stroke="#000" stroke-width="2"/>
<text x="697.7" y="1134" font-size="22.9" text-anchor="middle" stroke="#000" stroke-width="0.9">100</text>
<line x1="116.6" y1="1104.7" x2="123.4" y2="1104.7" stroke="#000" stroke-width="2"/>
<text x="111.5" y="1112.8" font-size="22.9" text-anchor="end" stroke="#000" stroke-width="0.9">0.0</text>
<line x1="116.6" y1="1010.68" x2="123.4" y2="1010.68" stroke="#000" stroke-width="2"/>
<text x="111.5" y="1018.78" font-size="22.9" text-anchor="end" stroke="#000" stroke-width="0.9">0.2</text>
<line x1="116.6" y1="916.66" x2="123.4" y2="916.66" stroke="#000" stroke-width="2"/>
<text x="111.5" y="924.76" font-size="22.9" text-anchor="end" stroke="#000" stroke-width="0.9">0.4</text>
<line x1="116.6" y1="822.64" x2="123.4" y2="822.64" stroke="#000" stroke-width="2"/>
<text x="111.5" y="830.74" font-size="22.9" text-anchor="end" stroke="#000" stroke-width="0.9">0.6</text>
<line x1="116.6" y1="728.62" x2="123.4" y2="728.62" stroke="#000" stroke-width="2"/>
<text x="111.5" y="736.72" font-size="22.9" text-anchor="end" stroke="#000" stroke-width="0.9">0.8</text>
<line x1="116.6" y1="634.6" x2="123.4" y2="634.6" stroke="#000" stroke-width="2"/>
<text x="111.5" y="642.7" font-size="22.9" text-anchor="end" stroke="#000" stroke-width="0.9">1.0</text>
<text x="376.2" y="1161.2" font-size="22.3" text-anchor="start" stroke="#000" stroke-width="0.45">time [ns]</text>
<line x1="812.6" y1="634.6" x2="812.6" y2="1105.7" stroke="#000" stroke-width="2"/>
<line x1="811.6" y1="1104.7" x2="1387.9" y2="1104.7" stroke="#000" stroke-width="2"/>
<line x1="812.6" y1="1104.7" x2="812.6" y2="1111.5" stroke="#000" stroke-width="2"/>
<text x="812.6" y="1134" font-size="22.9" text-anchor="middle" stroke="#000" stroke-width="0.9">0</text>
<line x1="927.46" y1="1104.7" x2="927.46" y2="1111.5" stroke="#000" stroke-width="2"/>
<text x="927.46" y="1134" font-size="22.9" text-anchor="middle" stroke="#000" stroke-width="0.9">20</text>
<line x1="1042.32" y1="1104.7" x2="1042.32" y2="1111.5" stroke="#000" stroke-width="2"/>
<text x="1042.32" y="1134" font-size="22.9" text-anchor="middle" stroke="#000" stroke-width="0.9">40</text>
<line x1="1157.18" y1="1104.7" x2="1157.18" y2="1111.5" stroke="#000" stroke-width="2"/>
<text x="1157.18" y="1134" font-size="22.9" text-anchor="middle" stroke="#000" stroke-width="0.9">60</text>
<line x1="1272.04" y1="1104.7" x2="1272.04" y2="1111.5" stroke="#000" stroke-width="2"/>
<text x="1272.04" y="1134" font-size="22.9" text-anchor="middle" stroke="#000" stroke-width="0.9">80</text>
<line x1="1386.9" y1="1104.7" x2="1386.9" y2="1111.5" stroke="#000" stroke-width="2"/>
<text x="1386.9" y="1134" font-size="22.9" text-anchor="middle" stroke="#000" stroke-width="0.9">100</text>
<line x1="805.8" y1="1104.7" x2="812.6" y2="1104.7" stroke="#000" stroke-width="2"/>
<text x="800.7" y="1112.8" font-size="22.9" text-anchor="end" stroke="#000" stroke-width="0.9">0.0</text>
<line x1="805.8" y1="1010.68" x2="812.6" y2="1010.68" stroke="#000" stroke-width="2"/>
<text x="800.7" y="1018.78" font-size="22.9" text-anchor="end" stroke="#000" stroke-width="0.9">0.2</text>
<line x1="805.8" y1="916.66" x2="812.6" y2="916.66" stroke="#000" stroke-width="2"/>
<text x="800.7" y="924.76" font-size="22.9" text-anchor="end" stroke="#000" stroke-width="0.9">0.4</text>
<line x1="805.8" y1="822.64" x2="812.6" y2="822.64" stroke="#000" stroke-width="2"/>
<text x="800.7" y="830.74" font-size="22.9" text-anchor="end" stroke="#000" stroke-width="0.9">0.6</text>
<line x1="805.8" y1="728.62" x2="812.6" y2="728.62" stroke="#000" stroke-width="2"/>
<text x="800.7" y="736.72" font-size="22.9" text-anchor="end" stroke="#000" stroke-width="0.9">0.8</text>
<line x1="805.8" y1="634.6" x2="812.6" y2="634.6" stroke="#000" stroke-width="2"/>
<text x="800.7" y="642.7" font-size="22.9" text-anchor="end" stroke="#000" stroke-width="0.9">1.0</text>
<text x="1065.4" y="1161.2" font-size="22.3" text-anchor="start" stroke="#000" stroke-width="0.45">time [ns]</text>
<text x="38" y="605.8" font-size="25.5" text-anchor="start" font-weight="bold">c</text>
<text x="718.1" y="606" font-size="25.5" text-anchor="start" font-weight="bold">d</text>
<text x="306" y="630.5" font-size="22.9" text-anchor="start" stroke="#000" stroke-width="0.45">R177-N111 H-bond</text>
<text x="994" y="630" font-size="22.4" text-anchor="start" stroke="#000" stroke-width="0.45">H161 rotameric state</text>
<text x="68.3" y="869.8" font-size="17.7" text-anchor="middle" stroke="#000" stroke-width="0.45" transform="rotate(-90 68.3 869.8)">Fraction of simulations in which H-bond is formed</text>
<text x="759" y="869.8" font-size="17.7" text-anchor="middle" stroke="#000" stroke-width="0.45" transform="rotate(-90 759 869.8)">Fraction of simulations in which H161 is core-like</text>
<line x1="123.5" y1="1238" x2="123.5" y2="1546.5" stroke="#000" stroke-width="2"/>
<line x1="122.5" y1="1545.5" x2="699.5" y2="1545.5" stroke="#000" stroke-width="2"/>
<line x1="123.5" y1="1545.5" x2="123.5" y2="1552.3" stroke="#000" stroke-width="2"/>
<line x1="238.5" y1="1545.5" x2="238.5" y2="1552.3" stroke="#000" stroke-width="2"/>
<line x1="353.5" y1="1545.5" x2="353.5" y2="1552.3" stroke="#000" stroke-width="2"/>
<line x1="468.5" y1="1545.5" x2="468.5" y2="1552.3" stroke="#000" stroke-width="2"/>
<line x1="583.5" y1="1545.5" x2="583.5" y2="1552.3" stroke="#000" stroke-width="2"/>
<line x1="698.5" y1="1545.5" x2="698.5" y2="1552.3" stroke="#000" stroke-width="2"/>
<line x1="116.7" y1="1521.4" x2="123.5" y2="1521.4" stroke="#000" stroke-width="2"/>
<text x="111.5" y="1529.5" font-size="22.9" text-anchor="end" stroke="#000" stroke-width="0.9">0.5</text>
<line x1="116.7" y1="1421.3" x2="123.5" y2="1421.3" stroke="#000" stroke-width="2"/>
<text x="111.5" y="1429.4" font-size="22.9" text-anchor="end" stroke="#000" stroke-width="0.9">1.0</text>
<line x1="116.7" y1="1321.2" x2="123.5" y2="1321.2" stroke="#000" stroke-width="2"/>
<text x="111.5" y="1329.3" font-size="22.9" text-anchor="end" stroke="#000" stroke-width="0.9">1.5</text>
<text x="42.8" y="1391.95" font-size="23" text-anchor="middle" stroke="#000" stroke-width="0.45" transform="rotate(-90 42.8 1391.95)">N111-R177</text>
<text x="68.1" y="1391.95" font-size="23" text-anchor="middle" stroke="#000" stroke-width="0.45" transform="rotate(-90 68.1 1391.95)">distance, nm</text>
<line x1="813.5" y1="1238" x2="813.5" y2="1546.5" stroke="#000" stroke-width="2"/>
<line x1="812.5" y1="1545.5" x2="1389.5" y2="1545.5" stroke="#000" stroke-width="2"/>
<line x1="813.5" y1="1545.5" x2="813.5" y2="1552.3" stroke="#000" stroke-width="2"/>
<line x1="928.5" y1="1545.5" x2="928.5" y2="1552.3" stroke="#000" stroke-width="2"/>
<line x1="1043.5" y1="1545.5" x2="1043.5" y2="1552.3" stroke="#000" stroke-width="2"/>
<line x1="1158.5" y1="1545.5" x2="1158.5" y2="1552.3" stroke="#000" stroke-width="2"/>
<line x1="1273.5" y1="1545.5" x2="1273.5" y2="1552.3" stroke="#000" stroke-width="2"/>
<line x1="1388.5" y1="1545.5" x2="1388.5" y2="1552.3" stroke="#000" stroke-width="2"/>
<line x1="806.7" y1="1521.4" x2="813.5" y2="1521.4" stroke="#000" stroke-width="2"/>
<line x1="806.7" y1="1421.3" x2="813.5" y2="1421.3" stroke="#000" stroke-width="2"/>
<line x1="806.7" y1="1321.2" x2="813.5" y2="1321.2" stroke="#000" stroke-width="2"/>
<text x="767.7" y="1391.95" font-size="23" text-anchor="middle" stroke="#000" stroke-width="0.45" transform="rotate(-90 767.7 1391.95)">N111-R177</text>
<text x="792.5" y="1391.95" font-size="23" text-anchor="middle" stroke="#000" stroke-width="0.45" transform="rotate(-90 792.5 1391.95)">distance, nm</text>
<line x1="123.5" y1="1606.2" x2="123.5" y2="1915.3" stroke="#000" stroke-width="2"/>
<line x1="122.5" y1="1914.3" x2="699.5" y2="1914.3" stroke="#000" stroke-width="2"/>
<line x1="123.5" y1="1914.3" x2="123.5" y2="1921.1" stroke="#000" stroke-width="2"/>
<line x1="238.5" y1="1914.3" x2="238.5" y2="1921.1" stroke="#000" stroke-width="2"/>
<line x1="353.5" y1="1914.3" x2="353.5" y2="1921.1" stroke="#000" stroke-width="2"/>
<line x1="468.5" y1="1914.3" x2="468.5" y2="1921.1" stroke="#000" stroke-width="2"/>
<line x1="583.5" y1="1914.3" x2="583.5" y2="1921.1" stroke="#000" stroke-width="2"/>
<line x1="698.5" y1="1914.3" x2="698.5" y2="1921.1" stroke="#000" stroke-width="2"/>
<line x1="116.7" y1="1888.8" x2="123.5" y2="1888.8" stroke="#000" stroke-width="2"/>
<text x="111.5" y="1896.9" font-size="22.9" text-anchor="end" stroke="#000" stroke-width="0.9">0.3</text>
<line x1="116.7" y1="1836.74" x2="123.5" y2="1836.74" stroke="#000" stroke-width="2"/>
<text x="111.5" y="1844.84" font-size="22.9" text-anchor="end" stroke="#000" stroke-width="0.9">0.4</text>
<line x1="116.7" y1="1784.68" x2="123.5" y2="1784.68" stroke="#000" stroke-width="2"/>
<text x="111.5" y="1792.78" font-size="22.9" text-anchor="end" stroke="#000" stroke-width="0.9">0.5</text>
<line x1="116.7" y1="1732.62" x2="123.5" y2="1732.62" stroke="#000" stroke-width="2"/>
<text x="111.5" y="1740.72" font-size="22.9" text-anchor="end" stroke="#000" stroke-width="0.9">0.6</text>
<line x1="116.7" y1="1680.56" x2="123.5" y2="1680.56" stroke="#000" stroke-width="2"/>
<text x="111.5" y="1688.66" font-size="22.9" text-anchor="end" stroke="#000" stroke-width="0.9">0.7</text>
<line x1="116.7" y1="1628.5" x2="123.5" y2="1628.5" stroke="#000" stroke-width="2"/>
<text x="111.5" y="1636.6" font-size="22.9" text-anchor="end" stroke="#000" stroke-width="0.9">0.8</text>
<text x="42.8" y="1761.75" font-size="23" text-anchor="middle" stroke="#000" stroke-width="0.45" transform="rotate(-90 42.8 1761.75)">Q137-H161</text>
<text x="67.3" y="1761.75" font-size="23" text-anchor="middle" stroke="#000" stroke-width="0.45" transform="rotate(-90 67.3 1761.75)">distance, nm</text>
<line x1="813.5" y1="1606.2" x2="813.5" y2="1915.3" stroke="#000" stroke-width="2"/>
<line x1="812.5" y1="1914.3" x2="1389.5" y2="1914.3" stroke="#000" stroke-width="2"/>
<line x1="813.5" y1="1914.3" x2="813.5" y2="1921.1" stroke="#000" stroke-width="2"/>
<line x1="928.5" y1="1914.3" x2="928.5" y2="1921.1" stroke="#000" stroke-width="2"/>
<line x1="1043.5" y1="1914.3" x2="1043.5" y2="1921.1" stroke="#000" stroke-width="2"/>
<line x1="1158.5" y1="1914.3" x2="1158.5" y2="1921.1" stroke="#000" stroke-width="2"/>
<line x1="1273.5" y1="1914.3" x2="1273.5" y2="1921.1" stroke="#000" stroke-width="2"/>
<line x1="1388.5" y1="1914.3" x2="1388.5" y2="1921.1" stroke="#000" stroke-width="2"/>
<line x1="806.7" y1="1888.8" x2="813.5" y2="1888.8" stroke="#000" stroke-width="2"/>
<line x1="806.7" y1="1836.74" x2="813.5" y2="1836.74" stroke="#000" stroke-width="2"/>
<line x1="806.7" y1="1784.68" x2="813.5" y2="1784.68" stroke="#000" stroke-width="2"/>
<line x1="806.7" y1="1732.62" x2="813.5" y2="1732.62" stroke="#000" stroke-width="2"/>
<line x1="806.7" y1="1680.56" x2="813.5" y2="1680.56" stroke="#000" stroke-width="2"/>
<line x1="806.7" y1="1628.5" x2="813.5" y2="1628.5" stroke="#000" stroke-width="2"/>
<text x="770.8" y="1761.75" font-size="23" text-anchor="middle" stroke="#000" stroke-width="0.45" transform="rotate(-90 770.8 1761.75)">Q137-H161</text>
<text x="795.9" y="1761.75" font-size="23" text-anchor="middle" stroke="#000" stroke-width="0.45" transform="rotate(-90 795.9 1761.75)">distance, nm</text>
<line x1="123.5" y1="1976.4" x2="123.5" y2="2283" stroke="#000" stroke-width="2"/>
<line x1="122.5" y1="2282" x2="699.5" y2="2282" stroke="#000" stroke-width="2"/>
<line x1="123.5" y1="2282" x2="123.5" y2="2288.8" stroke="#000" stroke-width="2"/>
<line x1="238.5" y1="2282" x2="238.5" y2="2288.8" stroke="#000" stroke-width="2"/>
<line x1="353.5" y1="2282" x2="353.5" y2="2288.8" stroke="#000" stroke-width="2"/>
<line x1="468.5" y1="2282" x2="468.5" y2="2288.8" stroke="#000" stroke-width="2"/>
<line x1="583.5" y1="2282" x2="583.5" y2="2288.8" stroke="#000" stroke-width="2"/>
<line x1="698.5" y1="2282" x2="698.5" y2="2288.8" stroke="#000" stroke-width="2"/>
<line x1="116.7" y1="2244" x2="123.5" y2="2244" stroke="#000" stroke-width="2"/>
<text x="111.5" y="2252.1" font-size="22.9" text-anchor="end" stroke="#000" stroke-width="0.9">1.0</text>
<line x1="116.7" y1="2188.15" x2="123.5" y2="2188.15" stroke="#000" stroke-width="2"/>
<text x="111.5" y="2196.25" font-size="22.9" text-anchor="end" stroke="#000" stroke-width="0.9">1.1</text>
<line x1="116.7" y1="2132.3" x2="123.5" y2="2132.3" stroke="#000" stroke-width="2"/>
<text x="111.5" y="2140.4" font-size="22.9" text-anchor="end" stroke="#000" stroke-width="0.9">1.2</text>
<line x1="116.7" y1="2076.45" x2="123.5" y2="2076.45" stroke="#000" stroke-width="2"/>
<text x="111.5" y="2084.55" font-size="22.9" text-anchor="end" stroke="#000" stroke-width="0.9">1.3</text>
<line x1="116.7" y1="2020.6" x2="123.5" y2="2020.6" stroke="#000" stroke-width="2"/>
<text x="111.5" y="2028.7" font-size="22.9" text-anchor="end" stroke="#000" stroke-width="0.9">1.4</text>
<text x="42.8" y="2132.2" font-size="23" text-anchor="middle" stroke="#000" stroke-width="0.45" transform="rotate(-90 42.8 2132.2)">Pro-rich/sensor loops</text>
<text x="67.3" y="2132.2" font-size="23" text-anchor="middle" stroke="#000" stroke-width="0.45" transform="rotate(-90 67.3 2132.2)">distance, nm</text>
<line x1="813.5" y1="1976.4" x2="813.5" y2="2283" stroke="#000" stroke-width="2"/>
<line x1="812.5" y1="2282" x2="1389.5" y2="2282" stroke="#000" stroke-width="2"/>
<line x1="813.5" y1="2282" x2="813.5" y2="2288.8" stroke="#000" stroke-width="2"/>
<line x1="928.5" y1="2282" x2="928.5" y2="2288.8" stroke="#000" stroke-width="2"/>
<line x1="1043.5" y1="2282" x2="1043.5" y2="2288.8" stroke="#000" stroke-width="2"/>
<line x1="1158.5" y1="2282" x2="1158.5" y2="2288.8" stroke="#000" stroke-width="2"/>
<line x1="1273.5" y1="2282" x2="1273.5" y2="2288.8" stroke="#000" stroke-width="2"/>
<line x1="1388.5" y1="2282" x2="1388.5" y2="2288.8" stroke="#000" stroke-width="2"/>
<line x1="806.7" y1="2244" x2="813.5" y2="2244" stroke="#000" stroke-width="2"/>
<line x1="806.7" y1="2188.15" x2="813.5" y2="2188.15" stroke="#000" stroke-width="2"/>
<line x1="806.7" y1="2132.3" x2="813.5" y2="2132.3" stroke="#000" stroke-width="2"/>
<line x1="806.7" y1="2076.45" x2="813.5" y2="2076.45" stroke="#000" stroke-width="2"/>
<line x1="806.7" y1="2020.6" x2="813.5" y2="2020.6" stroke="#000" stroke-width="2"/>
<text x="771.5" y="2132.2" font-size="23" text-anchor="middle" stroke="#000" stroke-width="0.45" transform="rotate(-90 771.5 2132.2)">Pro-rich/sensor loops</text>
<text x="795.8" y="2132.2" font-size="23" text-anchor="middle" stroke="#000" stroke-width="0.45" transform="rotate(-90 795.8 2132.2)">distance, nm</text>
<line x1="123.5" y1="2344.4" x2="123.5" y2="2652.6" stroke="#000" stroke-width="2"/>
<line x1="122.5" y1="2651.6" x2="699.5" y2="2651.6" stroke="#000" stroke-width="2"/>
<line x1="123.5" y1="2651.6" x2="123.5" y2="2658.4" stroke="#000" stroke-width="2"/>
<text x="123.5" y="2680.8" font-size="22.9" text-anchor="middle" stroke="#000" stroke-width="0.9">0</text>
<line x1="238.5" y1="2651.6" x2="238.5" y2="2658.4" stroke="#000" stroke-width="2"/>
<text x="238.5" y="2680.8" font-size="22.9" text-anchor="middle" stroke="#000" stroke-width="0.9">20</text>
<line x1="353.5" y1="2651.6" x2="353.5" y2="2658.4" stroke="#000" stroke-width="2"/>
<text x="353.5" y="2680.8" font-size="22.9" text-anchor="middle" stroke="#000" stroke-width="0.9">40</text>
<line x1="468.5" y1="2651.6" x2="468.5" y2="2658.4" stroke="#000" stroke-width="2"/>
<text x="468.5" y="2680.8" font-size="22.9" text-anchor="middle" stroke="#000" stroke-width="0.9">60</text>
<line x1="583.5" y1="2651.6" x2="583.5" y2="2658.4" stroke="#000" stroke-width="2"/>
<text x="583.5" y="2680.8" font-size="22.9" text-anchor="middle" stroke="#000" stroke-width="0.9">80</text>
<line x1="698.5" y1="2651.6" x2="698.5" y2="2658.4" stroke="#000" stroke-width="2"/>
<text x="698.5" y="2680.8" font-size="22.9" text-anchor="middle" stroke="#000" stroke-width="0.9">100</text>
<line x1="116.7" y1="2568.3" x2="123.5" y2="2568.3" stroke="#000" stroke-width="2"/>
<text x="111.5" y="2576.4" font-size="22.9" text-anchor="end" stroke="#000" stroke-width="0.9">100</text>
<line x1="116.7" y1="2474.8" x2="123.5" y2="2474.8" stroke="#000" stroke-width="2"/>
<text x="111.5" y="2482.9" font-size="22.9" text-anchor="end" stroke="#000" stroke-width="0.9">200</text>
<line x1="116.7" y1="2381.3" x2="123.5" y2="2381.3" stroke="#000" stroke-width="2"/>
<text x="111.5" y="2389.4" font-size="22.9" text-anchor="end" stroke="#000" stroke-width="0.9">300</text>
<text x="376.2" y="2707.9" font-size="22.3" text-anchor="start" stroke="#000" stroke-width="0.45">time [ns]</text>
<text x="36.5" y="2499.5" font-size="23" text-anchor="middle" stroke="#000" stroke-width="0.45" transform="rotate(-90 36.5 2499.5)">H161 <tspan font-style="italic">χ</tspan><tspan font-size="15" dy="4">1</tspan></text>
<text x="61.3" y="2499.5" font-size="23" text-anchor="middle" stroke="#000" stroke-width="0.45" transform="rotate(-90 61.3 2499.5)">torsion angle, deg</text>
<line x1="813.5" y1="2344.4" x2="813.5" y2="2652.6" stroke="#000" stroke-width="2"/>
<line x1="812.5" y1="2651.6" x2="1389.5" y2="2651.6" stroke="#000" stroke-width="2"/>
<line x1="813.5" y1="2651.6" x2="813.5" y2="2658.4" stroke="#000" stroke-width="2"/>
<text x="813.5" y="2680.8" font-size="22.9" text-anchor="middle" stroke="#000" stroke-width="0.9">0</text>
<line x1="928.5" y1="2651.6" x2="928.5" y2="2658.4" stroke="#000" stroke-width="2"/>
<text x="928.5" y="2680.8" font-size="22.9" text-anchor="middle" stroke="#000" stroke-width="0.9">20</text>
<line x1="1043.5" y1="2651.6" x2="1043.5" y2="2658.4" stroke="#000" stroke-width="2"/>
<text x="1043.5" y="2680.8" font-size="22.9" text-anchor="middle" stroke="#000" stroke-width="0.9">40</text>
<line x1="1158.5" y1="2651.6" x2="1158.5" y2="2658.4" stroke="#000" stroke-width="2"/>
<text x="1158.5" y="2680.8" font-size="22.9" text-anchor="middle" stroke="#000" stroke-width="0.9">60</text>
<line x1="1273.5" y1="2651.6" x2="1273.5" y2="2658.4" stroke="#000" stroke-width="2"/>
<text x="1273.5" y="2680.8" font-size="22.9" text-anchor="middle" stroke="#000" stroke-width="0.9">80</text>
<line x1="1388.5" y1="2651.6" x2="1388.5" y2="2658.4" stroke="#000" stroke-width="2"/>
<text x="1388.5" y="2680.8" font-size="22.9" text-anchor="middle" stroke="#000" stroke-width="0.9">100</text>
<line x1="806.7" y1="2568.3" x2="813.5" y2="2568.3" stroke="#000" stroke-width="2"/>
<line x1="806.7" y1="2474.8" x2="813.5" y2="2474.8" stroke="#000" stroke-width="2"/>
<line x1="806.7" y1="2381.3" x2="813.5" y2="2381.3" stroke="#000" stroke-width="2"/>
<text x="1066.2" y="2707.9" font-size="22.3" text-anchor="start" stroke="#000" stroke-width="0.45">time [ns]</text>
<text x="770.4" y="2499.5" font-size="23" text-anchor="middle" stroke="#000" stroke-width="0.45" transform="rotate(-90 770.4 2499.5)">H161 <tspan font-style="italic">χ</tspan><tspan font-size="15" dy="4">1</tspan></text>
<text x="796" y="2499.5" font-size="23" text-anchor="middle" stroke="#000" stroke-width="0.45" transform="rotate(-90 796 2499.5)">torsion angle, deg</text>
<text x="373.8" y="1223.9" font-size="22.6" text-anchor="start" stroke="#000" stroke-width="0.45">meH73</text>
<text x="1060.3" y="1219.7" font-size="22.6" text-anchor="start" stroke="#000" stroke-width="0.45">meH73</text>
<text x="1132.6" y="1216" font-size="13.5" text-anchor="start" font-weight="bold">+</text>
<text x="38.4" y="1278.5" font-size="25.5" text-anchor="start" font-weight="bold">e</text>
<text x="738.3" y="1280.8" font-size="25.5" text-anchor="start" font-weight="bold">f</text>
<text x="9.1" y="1635.7" font-size="25.5" text-anchor="start" font-weight="bold">g</text>
<text x="737.8" y="1641" font-size="25.5" text-anchor="start" font-weight="bold">h</text>
<text x="17.3" y="1955" font-size="25.5" text-anchor="start" font-weight="bold">i</text>
<text x="748.2" y="1952.1" font-size="25.5" text-anchor="start" font-weight="bold">j</text>
<text x="0.1" y="2345.9" font-size="25.5" text-anchor="start" font-weight="bold">k</text>
<text x="746" y="2345.9" font-size="25.5" text-anchor="start" font-weight="bold">l</text>
<polyline points="150,438.16 228.9,370.99 281.5,290.39 334.1,317.26 386.7,182.92 413,276.96 491.9,438.16 544.5,451.6 597.1,384.43 671.53,169.48" fill="none" stroke="#d81818" stroke-width="2.8"/>
<circle cx="150" cy="438.16" r="10.4" fill="#f80808" stroke="#c41010" stroke-width="1.2"/>
<circle cx="228.9" cy="370.99" r="10.4" fill="#f80808" stroke="#c41010" stroke-width="1.2"/>
<circle cx="281.5" cy="290.39" r="10.4" fill="#f80808" stroke="#c41010" stroke-width="1.2"/>
<circle cx="334.1" cy="317.26" r="10.4" fill="#f80808" stroke="#c41010" stroke-width="1.2"/>
<circle cx="386.7" cy="182.92" r="10.4" fill="#f80808" stroke="#c41010" stroke-width="1.2"/>
<circle cx="413" cy="276.96" r="10.4" fill="#f80808" stroke="#c41010" stroke-width="1.2"/>
<circle cx="491.9" cy="438.16" r="10.4" fill="#f80808" stroke="#c41010" stroke-width="1.2"/>
<circle cx="544.5" cy="451.6" r="10.4" fill="#f80808" stroke="#c41010" stroke-width="1.2"/>
<circle cx="597.1" cy="384.43" r="10.4" fill="#f80808" stroke="#c41010" stroke-width="1.2"/>
<circle cx="671.53" cy="169.48" r="10.4" fill="#f80808" stroke="#c41010" stroke-width="1.2"/>
<polyline points="839.2,384.43 918.1,465.03 970.7,465.03 1023.3,438.16 1075.9,344.13 1102.2,250.09 1181.1,370.99 1233.7,303.82 1286.3,169.48 1360.73,182.92" fill="none" stroke="#2030cc" stroke-width="2.8"/>
<circle cx="839.2" cy="384.43" r="10.4" fill="#2438fa" stroke="#1a24b0" stroke-width="1.2"/>
<circle cx="918.1" cy="465.03" r="10.4" fill="#2438fa" stroke="#1a24b0" stroke-width="1.2"/>
<circle cx="970.7" cy="465.03" r="10.4" fill="#2438fa" stroke="#1a24b0" stroke-width="1.2"/>
<circle cx="1023.3" cy="438.16" r="10.4" fill="#2438fa" stroke="#1a24b0" stroke-width="1.2"/>
<circle cx="1075.9" cy="344.13" r="10.4" fill="#2438fa" stroke="#1a24b0" stroke-width="1.2"/>
<circle cx="1102.2" cy="250.09" r="10.4" fill="#2438fa" stroke="#1a24b0" stroke-width="1.2"/>
<circle cx="1181.1" cy="370.99" r="10.4" fill="#2438fa" stroke="#1a24b0" stroke-width="1.2"/>
<circle cx="1233.7" cy="303.82" r="10.4" fill="#2438fa" stroke="#1a24b0" stroke-width="1.2"/>
<circle cx="1286.3" cy="169.48" r="10.4" fill="#2438fa" stroke="#1a24b0" stroke-width="1.2"/>
<circle cx="1360.73" cy="182.92" r="10.4" fill="#2438fa" stroke="#1a24b0" stroke-width="1.2"/>
</svg>
</body></html>
